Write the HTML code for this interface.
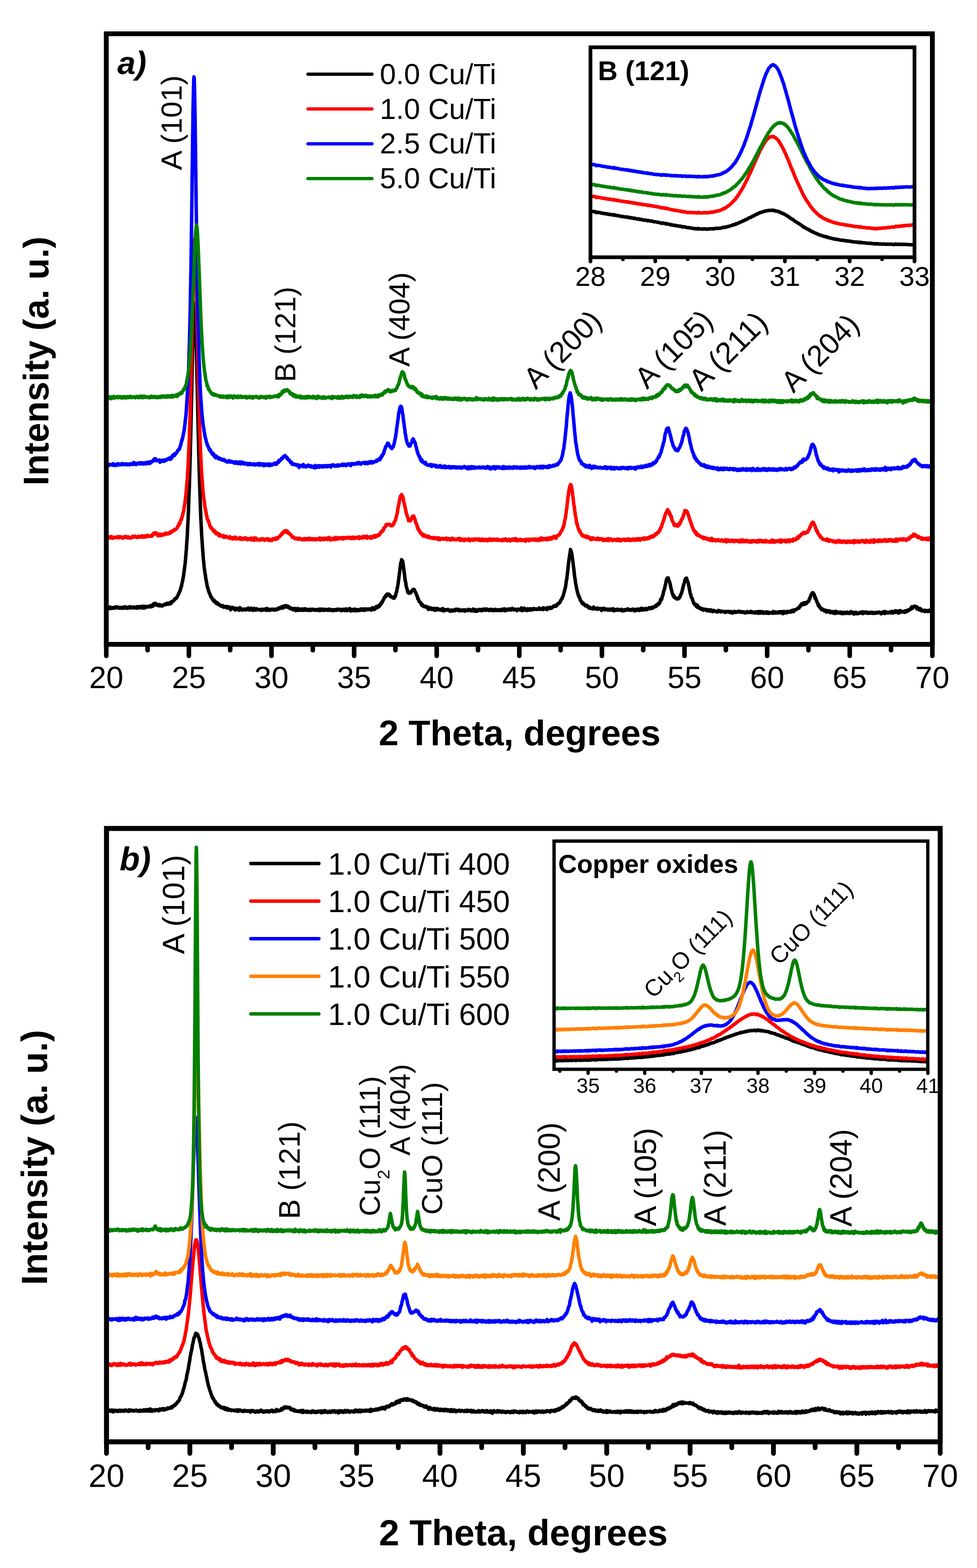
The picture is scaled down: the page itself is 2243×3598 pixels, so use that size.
<!DOCTYPE html><html><head><meta charset="utf-8"><style>html,body{margin:0;padding:0;background:#fff}svg{display:block}</style></head><body>
<svg width="2243" height="3598" viewBox="0 0 2243 3598">
<rect width="2243" height="3598" fill="#fff"/>
<path d="M244.0,1395.0 L244.9,1396.5 L245.9,1396.3 L246.8,1394.4 L247.8,1394.6 L248.7,1394.4 L249.7,1395.6 L250.6,1394.9 L251.6,1395.7 L252.5,1392.9 L253.5,1396.6 L254.4,1394.8 L255.4,1395.6 L256.3,1394.7 L257.3,1394.4 L258.2,1395.3 L259.2,1395.7 L260.1,1394.6 L261.1,1394.6 L262.0,1395.5 L263.0,1393.8 L263.9,1393.1 L264.9,1395.2 L265.8,1394.0 L266.8,1392.6 L267.7,1393.8 L268.7,1394.2 L269.6,1393.3 L270.6,1393.0 L271.5,1394.7 L272.4,1395.6 L273.4,1394.3 L274.3,1393.8 L275.3,1395.0 L276.2,1395.3 L277.2,1394.2 L278.1,1395.1 L279.1,1395.6 L280.0,1394.2 L281.0,1393.6 L281.9,1394.8 L282.9,1394.7 L283.8,1395.6 L284.8,1393.0 L285.7,1393.6 L286.7,1393.4 L287.6,1392.4 L288.6,1394.4 L289.5,1394.9 L290.5,1393.5 L291.4,1395.8 L292.4,1395.1 L293.3,1394.9 L294.3,1394.6 L295.2,1395.2 L296.2,1392.7 L297.1,1394.8 L298.1,1394.8 L299.0,1392.1 L299.9,1394.4 L300.9,1393.8 L301.8,1394.9 L302.8,1393.5 L303.7,1393.9 L304.7,1394.3 L305.6,1392.9 L306.6,1394.5 L307.5,1393.7 L308.5,1394.4 L309.4,1393.2 L310.4,1395.0 L311.3,1394.4 L312.3,1393.5 L313.2,1394.4 L314.2,1395.0 L315.1,1395.6 L316.1,1391.8 L317.0,1394.5 L318.0,1394.0 L318.9,1393.4 L319.9,1392.3 L320.8,1394.8 L321.8,1392.0 L322.7,1393.9 L323.7,1394.7 L324.6,1391.5 L325.5,1392.9 L326.5,1391.7 L327.4,1393.4 L328.4,1394.8 L329.3,1395.3 L330.3,1391.0 L331.2,1392.3 L332.2,1393.7 L333.1,1394.6 L334.1,1393.3 L335.0,1391.9 L336.0,1393.0 L336.9,1392.6 L337.9,1392.3 L338.8,1391.6 L339.8,1392.8 L340.7,1392.6 L341.7,1392.0 L342.6,1391.8 L343.6,1390.4 L344.5,1391.1 L345.5,1392.7 L346.4,1390.9 L347.4,1389.1 L348.3,1391.7 L349.3,1390.2 L350.2,1391.3 L351.2,1388.4 L352.1,1387.1 L353.0,1385.3 L354.0,1387.7 L354.9,1388.6 L355.9,1384.6 L355.9,1384.8 L356.8,1386.2 L357.8,1385.0 L358.7,1386.0 L359.7,1386.5 L360.6,1387.6 L361.6,1389.1 L362.5,1388.4 L363.5,1389.7 L364.4,1388.5 L365.4,1389.6 L366.3,1387.0 L367.3,1387.8 L368.2,1390.2 L369.2,1388.7 L370.1,1389.9 L371.1,1389.7 L372.0,1390.5 L373.0,1389.7 L373.9,1389.8 L374.9,1388.4 L375.8,1387.6 L376.8,1387.3 L377.7,1387.4 L378.7,1386.4 L379.6,1386.8 L380.5,1387.1 L381.5,1387.2 L382.4,1386.2 L383.4,1384.2 L384.3,1385.9 L385.3,1385.9 L386.2,1386.5 L387.2,1385.6 L388.1,1383.8 L389.1,1383.3 L390.0,1385.9 L391.0,1384.0 L391.9,1384.7 L392.9,1384.5 L393.8,1380.6 L394.8,1381.4 L395.7,1380.8 L396.7,1380.3 L397.6,1379.5 L398.6,1378.4 L399.5,1377.6 L400.5,1374.9 L401.4,1375.4 L402.4,1373.8 L403.3,1373.7 L404.3,1371.9 L405.2,1371.8 L406.2,1370.7 L407.1,1368.7 L408.0,1367.1 L409.0,1365.2 L409.9,1362.7 L410.9,1361.0 L411.8,1358.5 L412.8,1357.1 L413.7,1354.0 L414.7,1351.8 L415.6,1346.6 L416.6,1345.6 L417.5,1340.0 L418.5,1335.8 L419.4,1331.8 L420.4,1326.3 L421.3,1321.6 L422.3,1314.4 L423.2,1306.8 L424.2,1299.3 L425.1,1292.9 L426.1,1281.8 L427.0,1269.5 L428.0,1258.5 L428.9,1243.0 L429.9,1231.2 L430.8,1210.0 L431.8,1192.6 L432.7,1170.6 L433.6,1143.6 L434.6,1117.8 L435.5,1087.8 L436.5,1053.2 L437.4,1015.8 L438.4,976.5 L439.3,933.3 L440.3,889.6 L441.2,845.2 L442.2,803.9 L443.1,763.9 L444.1,733.9 L445.0,709.2 L446.0,695.8 L446.5,695.3 L446.9,697.7 L447.9,707.5 L448.8,727.2 L449.8,759.0 L450.7,795.0 L451.7,837.0 L452.6,881.0 L453.6,922.4 L454.5,968.0 L455.5,1007.3 L456.4,1045.5 L457.4,1079.4 L458.3,1110.8 L459.3,1139.8 L460.2,1167.2 L461.1,1190.8 L462.1,1209.2 L463.0,1228.4 L464.0,1242.8 L464.9,1255.2 L465.9,1270.1 L466.8,1281.7 L467.8,1290.8 L468.7,1300.6 L469.7,1309.0 L470.6,1314.6 L471.6,1320.4 L472.5,1327.6 L473.5,1332.9 L474.4,1337.5 L475.4,1343.3 L476.3,1348.0 L477.3,1349.3 L478.2,1353.7 L479.2,1357.0 L480.1,1359.5 L481.1,1362.3 L482.0,1363.0 L483.0,1366.4 L483.9,1369.7 L484.9,1370.2 L485.8,1370.3 L486.8,1373.2 L487.7,1375.3 L488.6,1375.7 L489.6,1375.9 L490.5,1379.3 L491.5,1377.3 L492.4,1380.3 L493.4,1380.6 L494.3,1380.2 L495.3,1383.7 L496.2,1383.5 L497.2,1382.6 L498.1,1385.2 L499.1,1384.7 L500.0,1383.7 L501.0,1385.6 L501.9,1387.2 L502.9,1388.1 L503.8,1388.1 L504.8,1388.4 L505.7,1389.3 L506.7,1389.0 L507.6,1390.9 L508.6,1390.1 L509.5,1390.6 L510.5,1391.2 L511.4,1389.8 L512.4,1390.5 L513.3,1393.3 L514.3,1392.2 L515.2,1391.8 L516.1,1392.8 L517.1,1392.1 L518.0,1393.2 L519.0,1392.4 L519.9,1393.6 L520.9,1391.8 L521.8,1395.2 L522.8,1393.4 L523.7,1392.4 L524.7,1394.0 L525.6,1394.1 L526.6,1394.8 L527.5,1393.5 L528.5,1395.4 L529.4,1399.1 L530.4,1393.8 L531.3,1395.8 L532.3,1395.2 L533.2,1395.9 L534.2,1393.8 L535.1,1394.6 L536.1,1396.5 L537.0,1396.1 L538.0,1398.1 L538.9,1395.6 L539.9,1396.7 L540.8,1399.8 L541.8,1395.8 L542.7,1395.8 L543.6,1396.8 L544.6,1396.9 L545.5,1398.0 L546.5,1397.3 L547.4,1396.4 L548.4,1397.5 L549.3,1400.3 L550.3,1398.8 L551.2,1394.4 L552.2,1397.4 L553.1,1396.6 L554.1,1398.3 L555.0,1397.5 L556.0,1399.8 L556.9,1398.8 L557.9,1398.8 L558.8,1398.0 L559.8,1397.8 L560.7,1398.3 L561.7,1399.4 L562.6,1398.6 L563.6,1397.6 L564.5,1399.5 L565.5,1398.3 L566.4,1398.0 L567.4,1397.3 L568.3,1397.6 L569.2,1397.5 L570.2,1395.2 L571.1,1399.4 L572.1,1398.9 L573.0,1398.1 L574.0,1399.5 L574.9,1398.9 L575.9,1398.8 L576.8,1395.7 L577.8,1398.2 L578.7,1399.1 L579.7,1400.3 L580.6,1400.5 L581.6,1400.1 L582.5,1397.3 L583.5,1396.1 L584.4,1399.2 L585.4,1398.6 L586.3,1399.7 L587.3,1398.5 L588.2,1398.9 L589.2,1397.0 L590.1,1399.2 L591.1,1398.2 L592.0,1399.1 L593.0,1399.2 L593.9,1398.6 L594.9,1399.1 L595.8,1398.7 L596.7,1399.6 L597.7,1399.3 L598.6,1398.2 L599.6,1398.1 L600.5,1400.7 L601.5,1398.7 L602.4,1399.9 L603.4,1399.2 L604.3,1398.2 L605.3,1398.0 L606.2,1399.0 L607.2,1399.1 L608.1,1399.5 L609.1,1397.4 L610.0,1398.2 L611.0,1398.7 L611.9,1400.6 L612.9,1396.2 L613.8,1399.3 L614.8,1398.2 L615.7,1399.3 L616.7,1398.3 L617.6,1399.2 L618.6,1400.5 L619.5,1399.2 L620.5,1399.3 L621.4,1399.2 L622.4,1397.9 L623.3,1399.3 L624.2,1398.5 L625.2,1397.8 L626.1,1398.6 L627.1,1398.4 L628.0,1399.4 L629.0,1398.5 L629.9,1397.9 L630.9,1400.0 L631.8,1399.4 L632.8,1399.6 L633.7,1398.8 L634.7,1397.8 L635.6,1397.3 L636.6,1397.3 L637.5,1398.5 L638.5,1397.3 L639.4,1395.3 L640.4,1396.6 L641.3,1394.8 L642.3,1396.2 L643.2,1394.4 L644.2,1393.9 L645.1,1395.0 L646.1,1394.4 L647.0,1392.2 L648.0,1394.4 L648.9,1395.6 L649.9,1391.1 L650.8,1394.4 L651.7,1391.3 L652.7,1391.2 L653.6,1391.3 L654.6,1389.8 L655.5,1392.8 L656.5,1392.0 L657.4,1390.7 L658.4,1391.5 L659.3,1390.4 L660.3,1392.0 L661.2,1393.8 L662.2,1391.3 L663.1,1393.2 L664.1,1394.3 L665.0,1395.7 L666.0,1396.5 L666.9,1394.9 L667.9,1395.0 L668.8,1396.6 L669.8,1396.1 L670.7,1396.5 L671.7,1398.3 L672.6,1399.2 L673.6,1397.9 L674.5,1397.6 L675.5,1398.6 L676.4,1396.0 L677.4,1398.2 L678.3,1397.2 L679.2,1401.1 L680.2,1399.3 L681.1,1398.8 L682.1,1398.5 L683.0,1396.0 L684.0,1399.6 L684.9,1400.7 L685.9,1398.1 L686.8,1399.7 L687.8,1399.8 L688.7,1397.3 L689.7,1400.0 L690.6,1400.5 L691.6,1399.3 L692.5,1399.0 L693.5,1400.0 L694.4,1397.4 L695.4,1399.2 L696.3,1400.3 L697.3,1397.8 L698.2,1400.3 L699.2,1398.7 L700.1,1396.9 L701.1,1399.1 L702.0,1398.1 L703.0,1399.6 L703.9,1397.9 L704.8,1400.4 L705.8,1398.4 L706.7,1399.6 L707.7,1398.6 L708.6,1398.9 L709.6,1400.6 L710.5,1399.5 L711.5,1398.8 L712.4,1397.9 L713.4,1400.5 L714.3,1400.1 L715.3,1398.9 L716.2,1399.5 L717.2,1398.1 L718.1,1398.2 L719.1,1398.4 L720.0,1399.7 L721.0,1399.6 L721.9,1398.5 L722.9,1400.1 L723.8,1400.2 L724.8,1399.5 L725.7,1400.4 L726.7,1399.0 L727.6,1399.2 L728.6,1399.8 L729.5,1399.3 L730.5,1400.2 L731.4,1397.9 L732.3,1400.9 L733.3,1398.4 L734.2,1399.1 L735.2,1397.8 L736.1,1400.0 L737.1,1400.7 L738.0,1400.5 L739.0,1400.2 L739.9,1397.6 L740.9,1398.5 L741.8,1398.8 L742.8,1398.3 L743.7,1400.6 L744.7,1399.6 L745.6,1399.3 L746.6,1399.9 L747.5,1398.3 L748.5,1398.4 L749.4,1398.4 L750.4,1399.9 L751.3,1399.8 L752.3,1400.0 L753.2,1400.6 L754.2,1397.9 L755.1,1398.8 L756.1,1399.6 L757.0,1398.0 L758.0,1398.9 L758.9,1400.6 L759.8,1400.7 L760.8,1400.6 L761.7,1399.5 L762.7,1399.2 L763.6,1400.7 L764.6,1399.1 L765.5,1399.9 L766.5,1401.0 L767.4,1399.1 L768.4,1398.8 L769.3,1399.5 L770.3,1400.2 L771.2,1400.0 L772.2,1399.7 L773.1,1400.1 L774.1,1397.8 L775.0,1398.6 L776.0,1399.7 L776.9,1398.5 L777.9,1398.1 L778.8,1398.2 L779.8,1398.5 L780.7,1399.3 L781.7,1398.4 L782.6,1399.8 L783.6,1401.4 L784.5,1399.4 L785.5,1400.9 L786.4,1399.9 L787.3,1398.3 L788.3,1399.3 L789.2,1398.5 L790.2,1400.4 L791.1,1398.3 L792.1,1401.0 L793.0,1400.2 L794.0,1397.3 L794.9,1400.4 L795.9,1401.2 L796.8,1398.7 L797.8,1400.6 L798.7,1397.5 L799.7,1399.8 L800.6,1397.7 L801.6,1400.0 L802.5,1397.5 L803.5,1396.6 L804.4,1399.9 L805.4,1402.0 L806.3,1398.8 L807.3,1400.4 L808.2,1399.6 L809.2,1399.1 L810.1,1400.1 L811.1,1401.2 L812.0,1398.0 L812.9,1400.0 L813.9,1399.8 L814.8,1397.8 L815.8,1401.1 L816.7,1401.5 L817.7,1398.3 L818.6,1401.2 L819.6,1399.4 L820.5,1399.1 L821.5,1400.9 L822.4,1399.5 L823.4,1399.6 L824.3,1400.9 L825.3,1400.6 L826.2,1400.1 L827.2,1397.6 L828.1,1397.4 L829.1,1400.3 L830.0,1398.0 L831.0,1399.2 L831.9,1397.8 L832.9,1398.7 L833.8,1397.5 L834.8,1400.6 L835.7,1397.7 L836.7,1398.6 L837.6,1398.5 L838.6,1399.9 L839.5,1397.0 L840.4,1398.5 L841.4,1398.2 L842.3,1399.0 L843.3,1398.8 L844.2,1397.7 L845.2,1398.4 L846.1,1397.6 L847.1,1398.5 L848.0,1397.8 L849.0,1397.1 L849.9,1397.6 L850.9,1398.0 L851.8,1399.9 L852.8,1396.8 L853.7,1397.5 L854.7,1398.6 L855.6,1394.6 L856.6,1394.8 L857.5,1395.2 L858.5,1396.2 L859.4,1398.7 L860.4,1396.2 L861.3,1396.8 L862.3,1394.9 L863.2,1392.1 L864.2,1391.8 L865.1,1395.0 L866.1,1393.6 L867.0,1391.4 L867.9,1393.4 L868.9,1389.8 L869.8,1391.9 L870.8,1391.4 L871.7,1388.0 L872.7,1386.6 L873.6,1387.6 L874.6,1384.3 L875.5,1385.1 L876.5,1381.5 L877.4,1382.2 L878.4,1379.9 L879.3,1377.7 L880.3,1375.5 L881.2,1375.1 L882.2,1371.1 L883.1,1371.2 L884.1,1369.5 L885.0,1369.2 L886.0,1365.8 L886.9,1367.9 L887.9,1364.7 L888.8,1363.2 L889.8,1365.5 L890.7,1365.7 L891.7,1363.8 L892.6,1363.4 L893.6,1365.0 L894.5,1364.9 L895.4,1366.1 L896.4,1369.0 L897.3,1368.6 L898.3,1369.1 L899.2,1370.0 L900.2,1370.2 L901.1,1371.6 L902.1,1371.9 L903.0,1370.5 L904.0,1370.8 L904.9,1372.7 L905.9,1369.6 L906.8,1367.5 L907.8,1368.2 L908.7,1363.6 L909.7,1359.4 L910.6,1357.9 L911.6,1351.9 L912.5,1347.5 L913.5,1342.8 L914.4,1336.1 L915.4,1328.5 L916.3,1321.3 L917.3,1313.5 L918.2,1307.7 L919.2,1298.2 L920.1,1292.0 L921.1,1290.0 L922.0,1284.3 L922.6,1286.0 L922.9,1286.0 L923.9,1286.4 L924.8,1289.1 L925.8,1297.0 L926.7,1304.0 L927.7,1311.7 L928.6,1318.1 L929.6,1326.5 L930.5,1333.3 L931.5,1336.6 L932.4,1344.7 L933.4,1347.9 L934.3,1350.9 L935.3,1354.3 L936.2,1359.2 L937.2,1360.1 L938.1,1358.4 L939.1,1361.2 L940.0,1361.2 L941.0,1361.0 L941.9,1360.1 L942.9,1358.2 L943.8,1359.7 L944.8,1356.4 L945.7,1355.7 L946.7,1354.3 L947.6,1353.1 L948.5,1354.1 L949.5,1353.4 L950.3,1352.5 L950.4,1352.3 L951.4,1353.7 L952.3,1356.7 L953.3,1357.6 L954.2,1359.9 L955.2,1361.7 L956.1,1364.3 L957.1,1367.3 L958.0,1367.5 L959.0,1373.7 L959.9,1373.3 L960.9,1375.6 L961.8,1379.6 L962.8,1380.1 L963.7,1381.5 L964.7,1382.2 L965.6,1382.4 L966.6,1385.5 L967.5,1387.7 L968.5,1386.4 L969.4,1389.8 L970.4,1387.9 L971.3,1389.0 L972.3,1391.1 L973.2,1391.1 L974.2,1392.4 L975.1,1391.4 L976.0,1391.5 L977.0,1391.1 L977.9,1392.2 L978.9,1392.7 L979.8,1392.7 L980.8,1394.9 L981.7,1394.2 L982.7,1393.0 L983.6,1398.2 L984.6,1394.8 L985.5,1394.5 L986.5,1397.5 L987.4,1397.6 L988.4,1395.2 L989.3,1395.1 L990.3,1395.8 L991.2,1398.3 L992.2,1396.8 L993.1,1396.4 L994.1,1397.4 L995.0,1398.9 L996.0,1396.2 L996.9,1397.4 L997.9,1396.4 L998.8,1400.4 L999.8,1400.1 L1000.7,1399.3 L1001.7,1398.2 L1002.6,1399.1 L1003.5,1396.2 L1004.5,1398.9 L1005.4,1397.2 L1006.4,1397.3 L1007.3,1398.0 L1008.3,1398.5 L1009.2,1399.5 L1010.2,1399.7 L1011.1,1399.3 L1012.1,1398.0 L1013.0,1399.9 L1014.0,1399.1 L1014.9,1400.5 L1015.9,1398.3 L1016.8,1396.3 L1017.8,1398.9 L1018.7,1401.8 L1019.7,1400.0 L1020.6,1399.3 L1021.6,1400.5 L1022.5,1400.1 L1023.5,1400.1 L1024.4,1399.1 L1025.4,1399.7 L1026.3,1399.9 L1027.3,1399.0 L1028.2,1398.5 L1029.2,1399.9 L1030.1,1400.8 L1031.0,1400.5 L1032.0,1400.3 L1032.9,1400.4 L1033.9,1402.7 L1034.8,1400.1 L1035.8,1401.0 L1036.7,1402.0 L1037.7,1399.9 L1038.6,1400.2 L1039.6,1401.1 L1040.5,1401.8 L1041.5,1400.3 L1042.4,1400.3 L1043.4,1400.0 L1044.3,1398.6 L1045.3,1401.2 L1046.2,1399.7 L1047.2,1398.1 L1048.1,1399.8 L1049.1,1398.1 L1050.0,1398.9 L1051.0,1400.0 L1051.9,1399.0 L1052.9,1401.2 L1053.8,1398.4 L1054.8,1400.3 L1055.7,1400.6 L1056.7,1401.6 L1057.6,1401.1 L1058.5,1400.3 L1059.5,1400.1 L1060.4,1400.0 L1061.4,1401.3 L1062.3,1399.3 L1063.3,1400.6 L1064.2,1399.9 L1065.2,1400.3 L1066.1,1399.8 L1067.1,1402.4 L1068.0,1399.3 L1069.0,1400.3 L1069.9,1400.4 L1070.9,1400.7 L1071.8,1400.5 L1072.8,1400.5 L1073.7,1401.1 L1074.7,1398.4 L1075.6,1400.1 L1076.6,1398.7 L1077.5,1400.3 L1078.5,1398.7 L1079.4,1399.0 L1080.4,1400.0 L1081.3,1401.6 L1082.3,1400.7 L1083.2,1400.3 L1084.1,1401.6 L1085.1,1399.0 L1086.0,1397.7 L1087.0,1399.5 L1087.9,1399.7 L1088.9,1401.4 L1089.8,1402.3 L1090.8,1398.5 L1091.7,1402.7 L1092.7,1401.7 L1093.6,1400.9 L1094.6,1400.4 L1095.5,1402.6 L1096.5,1400.0 L1097.4,1399.4 L1098.4,1400.1 L1099.3,1398.4 L1100.3,1400.5 L1101.2,1399.8 L1102.2,1400.3 L1103.1,1400.3 L1104.1,1398.7 L1105.0,1401.4 L1106.0,1398.8 L1106.9,1400.9 L1107.9,1398.1 L1108.8,1400.3 L1109.8,1399.0 L1110.7,1399.9 L1111.6,1399.1 L1112.6,1397.4 L1113.5,1398.6 L1114.5,1399.9 L1115.4,1400.5 L1116.4,1398.2 L1117.3,1397.5 L1118.3,1398.8 L1119.2,1399.6 L1120.2,1399.1 L1121.1,1398.9 L1122.1,1400.7 L1123.0,1400.8 L1124.0,1400.6 L1124.9,1398.7 L1125.9,1399.8 L1126.8,1399.5 L1127.8,1398.1 L1128.7,1400.7 L1129.7,1399.8 L1130.6,1399.1 L1131.6,1401.2 L1132.5,1400.5 L1133.5,1400.6 L1134.4,1401.0 L1135.4,1400.4 L1136.3,1398.2 L1137.3,1399.2 L1138.2,1400.7 L1139.1,1398.7 L1140.1,1399.6 L1141.0,1400.0 L1142.0,1401.1 L1142.9,1401.0 L1143.9,1400.5 L1144.8,1399.3 L1145.8,1400.5 L1146.7,1400.1 L1147.7,1399.3 L1148.6,1401.0 L1149.6,1400.0 L1150.5,1398.6 L1151.5,1400.8 L1152.4,1399.1 L1153.4,1400.1 L1154.3,1397.7 L1155.3,1399.3 L1156.2,1398.3 L1157.2,1398.3 L1158.1,1397.2 L1159.1,1401.7 L1160.0,1399.1 L1161.0,1399.5 L1161.9,1400.5 L1162.9,1399.1 L1163.8,1399.8 L1164.8,1397.7 L1165.7,1399.4 L1166.6,1398.7 L1167.6,1399.7 L1168.5,1399.4 L1169.5,1397.6 L1170.4,1397.1 L1171.4,1398.0 L1172.3,1399.9 L1173.3,1399.5 L1174.2,1399.5 L1175.2,1396.8 L1176.1,1396.1 L1177.1,1398.3 L1178.0,1398.6 L1179.0,1398.3 L1179.9,1399.3 L1180.9,1398.7 L1181.8,1397.6 L1182.8,1397.9 L1183.7,1399.0 L1184.7,1398.9 L1185.6,1398.7 L1186.6,1401.3 L1187.5,1398.5 L1188.5,1398.9 L1189.4,1397.6 L1190.4,1398.3 L1191.3,1399.3 L1192.2,1399.3 L1193.2,1398.5 L1194.1,1399.1 L1195.1,1398.7 L1196.0,1396.6 L1197.0,1395.0 L1197.9,1401.2 L1198.9,1399.5 L1199.8,1398.5 L1200.8,1396.7 L1201.7,1397.2 L1202.7,1400.1 L1203.6,1395.5 L1204.6,1398.2 L1205.5,1399.5 L1206.5,1398.7 L1207.4,1399.3 L1208.4,1398.3 L1209.3,1401.1 L1210.3,1397.3 L1211.2,1396.9 L1212.2,1398.7 L1213.1,1400.0 L1214.1,1398.3 L1215.0,1399.5 L1216.0,1397.7 L1216.9,1397.0 L1217.9,1399.8 L1218.8,1400.0 L1219.7,1399.9 L1220.7,1397.7 L1221.6,1396.9 L1222.6,1396.9 L1223.5,1397.9 L1224.5,1398.7 L1225.4,1398.6 L1226.4,1396.4 L1227.3,1398.2 L1228.3,1398.0 L1229.2,1398.0 L1230.2,1397.8 L1231.1,1397.6 L1232.1,1398.4 L1233.0,1397.9 L1234.0,1397.9 L1234.9,1396.9 L1235.9,1398.0 L1236.8,1397.4 L1237.8,1395.1 L1238.7,1397.9 L1239.7,1397.1 L1240.6,1398.3 L1241.6,1397.0 L1242.5,1397.0 L1243.5,1397.3 L1244.4,1397.0 L1245.4,1396.4 L1246.3,1394.9 L1247.2,1398.8 L1248.2,1394.9 L1249.1,1396.2 L1250.1,1397.2 L1251.0,1396.8 L1252.0,1396.8 L1252.9,1396.9 L1253.9,1397.4 L1254.8,1396.2 L1255.8,1398.9 L1256.7,1394.4 L1257.7,1395.7 L1258.6,1394.8 L1259.6,1394.5 L1260.5,1395.2 L1261.5,1396.3 L1262.4,1393.7 L1263.4,1393.5 L1264.3,1394.8 L1265.3,1394.4 L1266.2,1395.7 L1267.2,1394.4 L1268.1,1393.2 L1269.1,1392.3 L1270.0,1392.6 L1271.0,1391.8 L1271.9,1390.1 L1272.9,1391.2 L1273.8,1390.6 L1274.7,1390.1 L1275.7,1389.3 L1276.6,1391.1 L1277.6,1389.5 L1278.5,1389.1 L1279.5,1386.7 L1280.4,1385.5 L1281.4,1385.5 L1282.3,1385.2 L1283.3,1383.6 L1284.2,1382.8 L1285.2,1382.9 L1286.1,1380.9 L1287.1,1378.1 L1288.0,1377.2 L1289.0,1375.3 L1289.9,1374.4 L1290.9,1370.9 L1291.8,1369.7 L1292.8,1368.1 L1293.7,1364.6 L1294.7,1360.4 L1295.6,1357.2 L1296.6,1354.1 L1297.5,1350.1 L1298.5,1345.6 L1299.4,1339.1 L1300.4,1331.8 L1301.3,1328.2 L1302.2,1319.7 L1303.2,1312.1 L1304.1,1303.8 L1305.1,1293.9 L1306.0,1286.5 L1307.0,1279.4 L1307.9,1273.6 L1308.9,1267.4 L1309.8,1260.9 L1310.6,1263.3 L1310.8,1264.0 L1311.7,1266.7 L1312.7,1270.0 L1313.6,1277.7 L1314.6,1283.7 L1315.5,1291.6 L1316.5,1299.5 L1317.4,1305.3 L1318.4,1315.8 L1319.3,1323.1 L1320.3,1328.9 L1321.2,1336.5 L1322.2,1342.1 L1323.1,1346.4 L1324.1,1351.5 L1325.0,1355.5 L1326.0,1359.8 L1326.9,1362.5 L1327.8,1366.5 L1328.8,1366.5 L1329.7,1370.8 L1330.7,1371.4 L1331.6,1374.7 L1332.6,1377.6 L1333.5,1378.6 L1334.5,1379.9 L1335.4,1381.5 L1336.4,1384.3 L1337.3,1382.5 L1338.3,1385.7 L1339.2,1384.0 L1340.2,1386.0 L1341.1,1387.5 L1342.1,1387.1 L1343.0,1388.9 L1344.0,1390.1 L1344.9,1388.6 L1345.9,1390.3 L1346.8,1390.5 L1347.8,1389.3 L1348.7,1391.6 L1349.7,1391.4 L1350.6,1394.1 L1351.6,1392.0 L1352.5,1395.2 L1353.5,1393.0 L1354.4,1396.0 L1355.3,1394.8 L1356.3,1394.9 L1357.2,1395.6 L1358.2,1395.9 L1359.1,1396.7 L1360.1,1397.3 L1361.0,1395.2 L1362.0,1394.4 L1362.9,1393.0 L1363.9,1395.7 L1364.8,1397.1 L1365.8,1396.8 L1366.7,1396.7 L1367.7,1396.3 L1368.6,1396.1 L1369.6,1396.6 L1370.5,1397.5 L1371.5,1395.2 L1372.4,1398.1 L1373.4,1395.8 L1374.3,1397.3 L1375.3,1396.9 L1376.2,1397.3 L1377.2,1396.6 L1378.1,1396.6 L1379.1,1397.7 L1380.0,1396.8 L1381.0,1400.8 L1381.9,1397.7 L1382.8,1397.5 L1383.8,1397.7 L1384.7,1397.2 L1385.7,1395.7 L1386.6,1398.2 L1387.6,1398.9 L1388.5,1396.9 L1389.5,1398.6 L1390.4,1397.3 L1391.4,1398.7 L1392.3,1399.2 L1393.3,1399.4 L1394.2,1399.3 L1395.2,1398.1 L1396.1,1399.9 L1397.1,1398.5 L1398.0,1399.4 L1399.0,1399.8 L1399.9,1398.7 L1400.9,1397.7 L1401.8,1399.8 L1402.8,1397.9 L1403.7,1398.2 L1404.7,1398.0 L1405.6,1400.2 L1406.6,1399.1 L1407.5,1396.8 L1408.5,1400.1 L1409.4,1401.6 L1410.3,1401.4 L1411.3,1398.8 L1412.2,1399.5 L1413.2,1400.0 L1414.1,1400.4 L1415.1,1399.5 L1416.0,1398.3 L1417.0,1400.3 L1417.9,1400.2 L1418.9,1398.1 L1419.8,1399.1 L1420.8,1399.8 L1421.7,1399.5 L1422.7,1400.1 L1423.6,1400.4 L1424.6,1400.2 L1425.5,1399.5 L1426.5,1398.1 L1427.4,1400.3 L1428.4,1401.1 L1429.3,1401.8 L1430.3,1399.6 L1431.2,1399.6 L1432.2,1401.2 L1433.1,1401.2 L1434.1,1400.0 L1435.0,1400.4 L1436.0,1398.8 L1436.9,1400.2 L1437.8,1398.7 L1438.8,1399.4 L1439.7,1399.5 L1440.7,1399.1 L1441.6,1397.2 L1442.6,1398.7 L1443.5,1399.9 L1444.5,1399.5 L1445.4,1399.1 L1446.4,1400.0 L1447.3,1400.3 L1448.3,1400.4 L1449.2,1398.6 L1450.2,1399.5 L1451.1,1399.1 L1452.1,1398.4 L1453.0,1397.7 L1454.0,1399.3 L1454.9,1398.4 L1455.9,1401.7 L1456.8,1399.2 L1457.8,1399.0 L1458.7,1398.8 L1459.7,1401.3 L1460.6,1398.2 L1461.6,1399.0 L1462.5,1398.3 L1463.4,1399.0 L1464.4,1399.0 L1465.3,1400.2 L1466.3,1397.4 L1467.2,1398.9 L1468.2,1400.7 L1469.1,1398.3 L1470.1,1398.6 L1471.0,1397.8 L1472.0,1395.8 L1472.9,1398.5 L1473.9,1399.9 L1474.8,1398.0 L1475.8,1396.4 L1476.7,1398.7 L1477.7,1398.4 L1478.6,1399.3 L1479.6,1399.1 L1480.5,1397.7 L1481.5,1398.4 L1482.4,1395.9 L1483.4,1398.9 L1484.3,1397.8 L1485.3,1398.7 L1486.2,1398.5 L1487.2,1396.9 L1488.1,1396.9 L1489.1,1395.9 L1490.0,1394.4 L1490.9,1396.4 L1491.9,1396.5 L1492.8,1394.9 L1493.8,1396.7 L1494.7,1395.8 L1495.7,1395.9 L1496.6,1394.3 L1497.6,1392.9 L1498.5,1395.4 L1499.5,1394.8 L1500.4,1393.7 L1501.4,1392.9 L1502.3,1392.7 L1503.3,1392.3 L1504.2,1391.4 L1505.2,1389.2 L1506.1,1391.7 L1507.1,1388.5 L1508.0,1389.1 L1509.0,1388.3 L1509.9,1388.1 L1510.9,1385.1 L1511.8,1387.2 L1512.8,1385.4 L1513.7,1384.3 L1514.7,1383.4 L1515.6,1379.6 L1516.6,1375.3 L1517.5,1377.2 L1518.4,1376.2 L1519.4,1373.7 L1520.3,1369.3 L1521.3,1366.9 L1522.2,1364.2 L1523.2,1358.4 L1524.1,1356.0 L1525.1,1352.0 L1526.0,1350.3 L1527.0,1343.6 L1527.9,1341.8 L1528.9,1336.1 L1529.8,1330.6 L1530.8,1332.0 L1531.7,1326.5 L1532.7,1327.3 L1532.9,1328.5 L1533.6,1326.2 L1534.6,1326.7 L1535.5,1331.5 L1536.5,1333.4 L1537.4,1335.5 L1538.4,1339.5 L1539.3,1344.1 L1540.3,1349.5 L1541.2,1351.8 L1542.2,1356.2 L1543.1,1360.5 L1544.1,1362.9 L1545.0,1365.5 L1545.9,1367.5 L1546.9,1366.3 L1547.8,1371.0 L1548.8,1371.4 L1549.7,1372.0 L1550.7,1371.8 L1551.6,1371.9 L1552.6,1372.9 L1553.5,1374.3 L1554.5,1373.1 L1555.4,1373.3 L1556.4,1373.2 L1557.3,1374.0 L1558.3,1372.1 L1559.2,1371.3 L1560.2,1371.6 L1561.1,1368.3 L1562.1,1367.5 L1563.0,1363.6 L1564.0,1362.7 L1564.9,1359.7 L1565.9,1356.8 L1566.8,1352.7 L1567.8,1348.5 L1568.7,1345.5 L1569.7,1341.5 L1570.6,1339.3 L1571.5,1335.6 L1572.5,1330.2 L1573.4,1329.8 L1574.4,1327.2 L1575.3,1327.8 L1575.3,1326.8 L1576.3,1326.5 L1577.2,1331.0 L1578.2,1333.2 L1579.1,1334.8 L1580.1,1338.1 L1581.0,1343.8 L1582.0,1347.4 L1582.9,1352.5 L1583.9,1357.6 L1584.8,1362.4 L1585.8,1363.9 L1586.7,1369.0 L1587.7,1371.8 L1588.6,1372.7 L1589.6,1373.7 L1590.5,1378.7 L1591.5,1380.4 L1592.4,1384.1 L1593.4,1384.7 L1594.3,1385.5 L1595.3,1387.8 L1596.2,1386.0 L1597.2,1388.4 L1598.1,1388.9 L1599.0,1392.0 L1600.0,1391.6 L1600.9,1388.3 L1601.9,1393.9 L1602.8,1392.1 L1603.8,1394.5 L1604.7,1393.7 L1605.7,1395.0 L1606.6,1395.9 L1607.6,1395.8 L1608.5,1395.0 L1609.5,1398.0 L1610.4,1397.2 L1611.4,1397.1 L1612.3,1398.2 L1613.3,1397.1 L1614.2,1400.1 L1615.2,1398.5 L1616.1,1398.9 L1617.1,1399.1 L1618.0,1398.0 L1619.0,1397.9 L1619.9,1399.6 L1620.9,1400.0 L1621.8,1401.2 L1622.8,1400.4 L1623.7,1398.9 L1624.7,1400.8 L1625.6,1401.3 L1626.5,1401.6 L1627.5,1401.0 L1628.4,1399.5 L1629.4,1402.2 L1630.3,1400.2 L1631.3,1401.8 L1632.2,1399.5 L1633.2,1402.2 L1634.1,1400.6 L1635.1,1402.8 L1636.0,1403.6 L1637.0,1403.1 L1637.9,1400.6 L1638.9,1400.9 L1639.8,1401.1 L1640.8,1402.8 L1641.7,1402.6 L1642.7,1402.4 L1643.6,1402.7 L1644.6,1403.0 L1645.5,1403.2 L1646.5,1404.4 L1647.4,1402.5 L1648.4,1402.9 L1649.3,1400.7 L1650.3,1401.3 L1651.2,1402.1 L1652.2,1401.6 L1653.1,1403.2 L1654.0,1404.1 L1655.0,1402.6 L1655.9,1402.6 L1656.9,1402.6 L1657.8,1403.3 L1658.8,1402.6 L1659.7,1403.7 L1660.7,1403.6 L1661.6,1403.7 L1662.6,1404.2 L1663.5,1403.5 L1664.5,1403.6 L1665.4,1405.4 L1666.4,1403.5 L1667.3,1404.5 L1668.3,1403.7 L1669.2,1403.2 L1670.2,1403.2 L1671.1,1402.8 L1672.1,1403.8 L1673.0,1403.1 L1674.0,1403.4 L1674.9,1405.2 L1675.9,1403.7 L1676.8,1405.2 L1677.8,1404.2 L1678.7,1404.9 L1679.7,1403.3 L1680.6,1404.2 L1681.5,1407.0 L1682.5,1405.0 L1683.4,1405.2 L1684.4,1404.4 L1685.3,1405.1 L1686.3,1402.9 L1687.2,1403.3 L1688.2,1404.7 L1689.1,1405.2 L1690.1,1403.9 L1691.0,1404.1 L1692.0,1404.0 L1692.9,1404.2 L1693.9,1403.1 L1694.8,1402.8 L1695.8,1404.4 L1696.7,1402.6 L1697.7,1403.4 L1698.6,1403.8 L1699.6,1403.4 L1700.5,1404.8 L1701.5,1404.1 L1702.4,1404.5 L1703.4,1403.5 L1704.3,1403.8 L1705.3,1405.2 L1706.2,1405.1 L1707.1,1404.2 L1708.1,1405.1 L1709.0,1404.9 L1710.0,1404.9 L1710.9,1406.5 L1711.9,1404.3 L1712.8,1405.3 L1713.8,1405.3 L1714.7,1404.6 L1715.7,1403.6 L1716.6,1405.6 L1717.6,1405.2 L1718.5,1404.9 L1719.5,1404.9 L1720.4,1404.9 L1721.4,1404.0 L1722.3,1405.3 L1723.3,1403.0 L1724.2,1405.0 L1725.2,1403.4 L1726.1,1404.6 L1727.1,1405.8 L1728.0,1404.8 L1729.0,1404.5 L1729.9,1405.6 L1730.9,1404.8 L1731.8,1404.6 L1732.8,1404.7 L1733.7,1406.8 L1734.6,1405.9 L1735.6,1405.7 L1736.5,1403.8 L1737.5,1405.8 L1738.4,1403.8 L1739.4,1405.7 L1740.3,1404.0 L1741.3,1407.4 L1742.2,1403.4 L1743.2,1406.6 L1744.1,1406.1 L1745.1,1403.3 L1746.0,1405.0 L1747.0,1406.9 L1747.9,1406.5 L1748.9,1403.5 L1749.8,1404.7 L1750.8,1404.0 L1751.7,1404.2 L1752.7,1404.6 L1753.6,1407.4 L1754.6,1405.5 L1755.5,1405.1 L1756.5,1405.0 L1757.4,1406.1 L1758.4,1406.1 L1759.3,1404.4 L1760.3,1407.0 L1761.2,1404.2 L1762.1,1405.1 L1763.1,1405.9 L1764.0,1407.3 L1765.0,1405.0 L1765.9,1405.7 L1766.9,1406.8 L1767.8,1406.1 L1768.8,1406.6 L1769.7,1406.5 L1770.7,1405.6 L1771.6,1406.0 L1772.6,1406.4 L1773.5,1405.3 L1774.5,1407.1 L1775.4,1403.1 L1776.4,1404.3 L1777.3,1406.9 L1778.3,1405.8 L1779.2,1404.6 L1780.2,1405.7 L1781.1,1406.5 L1782.1,1404.6 L1783.0,1406.1 L1784.0,1405.1 L1784.9,1405.1 L1785.9,1405.1 L1786.8,1406.4 L1787.8,1403.9 L1788.7,1404.7 L1789.6,1405.8 L1790.6,1403.7 L1791.5,1403.3 L1792.5,1405.7 L1793.4,1405.0 L1794.4,1404.8 L1795.3,1405.1 L1796.3,1403.8 L1797.2,1408.1 L1798.2,1403.8 L1799.1,1404.3 L1800.1,1403.2 L1801.0,1404.3 L1802.0,1406.3 L1802.9,1404.6 L1803.9,1405.2 L1804.8,1404.0 L1805.8,1406.4 L1806.7,1404.6 L1807.7,1402.9 L1808.6,1405.1 L1809.6,1403.7 L1810.5,1404.7 L1811.5,1404.1 L1812.4,1404.2 L1813.4,1403.9 L1814.3,1402.6 L1815.3,1401.8 L1816.2,1404.4 L1817.1,1403.0 L1818.1,1403.3 L1819.0,1402.2 L1820.0,1400.3 L1820.9,1400.8 L1821.9,1403.4 L1822.8,1400.7 L1823.8,1400.7 L1824.7,1399.1 L1825.7,1399.7 L1826.6,1399.3 L1827.6,1398.9 L1828.5,1398.4 L1829.5,1397.1 L1830.4,1396.4 L1831.4,1396.2 L1832.3,1395.8 L1833.3,1394.3 L1834.2,1395.5 L1835.2,1392.8 L1836.1,1391.8 L1837.1,1389.9 L1838.0,1390.8 L1839.0,1387.6 L1839.9,1386.1 L1840.9,1386.0 L1841.8,1387.1 L1842.7,1384.7 L1843.7,1387.0 L1844.6,1385.2 L1845.6,1383.3 L1846.5,1384.6 L1847.5,1386.6 L1848.4,1383.6 L1849.4,1382.8 L1850.3,1384.5 L1851.3,1384.9 L1852.2,1384.0 L1853.2,1381.7 L1854.1,1381.3 L1855.1,1380.3 L1856.0,1379.8 L1857.0,1379.2 L1857.9,1374.9 L1858.9,1374.5 L1859.8,1370.5 L1860.8,1369.3 L1861.7,1365.5 L1862.7,1363.7 L1863.6,1363.3 L1864.6,1360.6 L1865.5,1361.9 L1866.3,1360.2 L1866.5,1361.0 L1867.4,1361.5 L1868.4,1362.5 L1869.3,1364.8 L1870.2,1368.1 L1871.2,1372.8 L1872.1,1370.7 L1873.1,1375.0 L1874.0,1377.1 L1875.0,1378.8 L1875.9,1382.5 L1876.9,1383.4 L1877.8,1386.3 L1878.8,1389.6 L1879.7,1387.6 L1880.7,1391.6 L1881.6,1393.2 L1882.6,1392.8 L1883.5,1395.6 L1884.5,1396.3 L1885.4,1396.4 L1886.4,1398.9 L1887.3,1396.8 L1888.3,1399.6 L1889.2,1399.2 L1890.2,1398.8 L1891.1,1400.2 L1892.1,1400.5 L1893.0,1402.1 L1894.0,1399.9 L1894.9,1401.7 L1895.9,1401.7 L1896.8,1404.1 L1897.7,1401.4 L1898.7,1404.0 L1899.6,1401.2 L1900.6,1403.7 L1901.5,1403.3 L1902.5,1404.0 L1903.4,1403.0 L1904.4,1401.8 L1905.3,1402.4 L1906.3,1405.6 L1907.2,1404.5 L1908.2,1403.5 L1909.1,1405.5 L1910.1,1403.8 L1911.0,1403.9 L1912.0,1403.5 L1912.9,1406.2 L1913.9,1407.1 L1914.8,1404.0 L1915.8,1405.5 L1916.7,1406.3 L1917.7,1407.6 L1918.6,1402.7 L1919.6,1405.6 L1920.5,1406.2 L1921.5,1403.9 L1922.4,1406.0 L1923.4,1405.8 L1924.3,1406.5 L1925.2,1405.1 L1926.2,1406.2 L1927.1,1405.1 L1928.1,1406.5 L1929.0,1406.1 L1930.0,1405.5 L1930.9,1404.4 L1931.9,1407.8 L1932.8,1407.2 L1933.8,1407.0 L1934.7,1405.4 L1935.7,1405.7 L1936.6,1408.0 L1937.6,1407.0 L1938.5,1405.3 L1939.5,1406.3 L1940.4,1406.4 L1941.4,1406.1 L1942.3,1405.3 L1943.3,1407.7 L1944.2,1407.0 L1945.2,1406.2 L1946.1,1404.7 L1947.1,1405.8 L1948.0,1406.5 L1949.0,1407.4 L1949.9,1406.1 L1950.8,1407.8 L1951.8,1406.7 L1952.7,1405.7 L1953.7,1403.5 L1954.6,1405.2 L1955.6,1404.9 L1956.5,1406.3 L1957.5,1406.9 L1958.4,1408.0 L1959.4,1406.5 L1960.3,1405.2 L1961.3,1409.1 L1962.2,1406.8 L1963.2,1406.2 L1964.1,1406.2 L1965.1,1405.0 L1966.0,1407.1 L1967.0,1406.8 L1967.9,1408.2 L1968.9,1407.6 L1969.8,1407.4 L1970.8,1407.8 L1971.7,1406.1 L1972.7,1405.9 L1973.6,1406.3 L1974.6,1405.0 L1975.5,1406.2 L1976.5,1406.0 L1977.4,1407.1 L1978.3,1406.3 L1979.3,1404.2 L1980.2,1406.3 L1981.2,1407.8 L1982.1,1404.2 L1983.1,1405.4 L1984.0,1406.3 L1985.0,1404.8 L1985.9,1405.6 L1986.9,1406.3 L1987.8,1404.7 L1988.8,1406.5 L1989.7,1406.6 L1990.7,1404.7 L1991.6,1406.2 L1992.6,1407.3 L1993.5,1405.9 L1994.5,1406.6 L1995.4,1406.8 L1996.4,1405.8 L1997.3,1407.1 L1998.3,1406.5 L1999.2,1404.9 L2000.2,1406.6 L2001.1,1406.9 L2002.1,1406.9 L2003.0,1405.3 L2004.0,1406.5 L2004.9,1407.4 L2005.8,1406.2 L2006.8,1407.2 L2007.7,1407.3 L2008.7,1405.8 L2009.6,1406.6 L2010.6,1405.5 L2011.5,1407.0 L2012.5,1405.7 L2013.4,1405.2 L2014.4,1405.7 L2015.3,1405.7 L2016.3,1406.2 L2017.2,1406.2 L2018.2,1404.4 L2019.1,1405.0 L2020.1,1406.1 L2021.0,1406.2 L2022.0,1405.7 L2022.9,1408.5 L2023.9,1406.8 L2024.8,1405.5 L2025.8,1406.4 L2026.7,1407.0 L2027.7,1405.9 L2028.6,1403.6 L2029.6,1405.6 L2030.5,1405.5 L2031.5,1407.7 L2032.4,1403.3 L2033.3,1407.0 L2034.3,1405.1 L2035.2,1406.3 L2036.2,1404.9 L2037.1,1405.4 L2038.1,1406.4 L2039.0,1405.2 L2040.0,1406.2 L2040.9,1405.0 L2041.9,1404.6 L2042.8,1404.7 L2043.8,1404.4 L2044.7,1404.8 L2045.7,1406.4 L2046.6,1403.5 L2047.6,1403.0 L2048.5,1404.7 L2049.5,1406.6 L2050.4,1405.8 L2051.4,1406.1 L2052.3,1406.0 L2053.3,1403.7 L2054.2,1404.6 L2055.2,1401.5 L2056.1,1403.7 L2057.1,1405.0 L2058.0,1402.6 L2059.0,1402.0 L2059.9,1402.8 L2060.8,1404.4 L2061.8,1405.4 L2062.7,1406.9 L2063.7,1405.6 L2064.6,1402.3 L2065.6,1401.3 L2066.5,1404.0 L2067.5,1404.9 L2068.4,1401.9 L2069.4,1403.1 L2070.3,1403.1 L2071.3,1403.5 L2072.2,1403.2 L2073.2,1403.9 L2074.1,1404.4 L2075.1,1403.2 L2076.0,1403.8 L2077.0,1405.0 L2077.9,1401.5 L2078.9,1401.3 L2079.8,1402.8 L2080.8,1404.0 L2081.7,1401.9 L2082.7,1402.6 L2083.6,1400.7 L2084.6,1401.6 L2085.5,1399.5 L2086.4,1400.4 L2087.4,1399.5 L2088.3,1398.8 L2089.3,1399.2 L2090.2,1398.1 L2091.2,1395.5 L2092.1,1396.3 L2093.1,1392.7 L2094.0,1394.8 L2095.0,1396.0 L2095.9,1393.0 L2096.9,1392.4 L2097.8,1391.6 L2098.8,1392.3 L2098.8,1390.9 L2099.7,1392.2 L2100.7,1391.4 L2101.6,1391.7 L2102.6,1392.9 L2103.5,1393.4 L2104.5,1392.3 L2105.4,1397.2 L2106.4,1395.8 L2107.3,1394.5 L2108.3,1398.3 L2109.2,1397.7 L2110.2,1398.5 L2111.1,1399.6 L2112.1,1398.3 L2113.0,1396.5 L2113.9,1400.0 L2114.9,1400.6 L2115.8,1401.7 L2116.8,1400.0 L2117.7,1400.7 L2118.7,1401.6 L2119.6,1401.0 L2120.6,1401.1 L2121.5,1401.8 L2122.5,1400.5 L2123.4,1403.3 L2124.4,1400.6 L2125.3,1401.7 L2126.3,1401.3 L2127.2,1400.9 L2128.2,1402.3 L2129.1,1402.8 L2130.1,1403.3 L2131.0,1402.4 L2132.0,1401.2 L2132.9,1402.7 L2133.9,1400.1 L2134.8,1401.8 L2135.8,1402.3 L2136.7,1402.3 L2137.7,1400.4 L2138.6,1400.0 L2139.6,1403.5 L2140.5,1401.1" fill="none" stroke="#000000" stroke-width="8" stroke-linejoin="round"/>
<path d="M244.0,1233.4 L244.9,1234.6 L245.9,1234.2 L246.8,1234.2 L247.8,1235.2 L248.7,1232.0 L249.7,1232.7 L250.6,1231.9 L251.6,1233.2 L252.5,1234.4 L253.5,1233.3 L254.4,1233.8 L255.4,1231.2 L256.3,1233.4 L257.3,1232.2 L258.2,1235.2 L259.2,1234.2 L260.1,1234.2 L261.1,1233.1 L262.0,1233.8 L263.0,1233.9 L263.9,1232.8 L264.9,1232.6 L265.8,1233.0 L266.8,1232.4 L267.7,1232.4 L268.7,1232.8 L269.6,1232.3 L270.6,1233.9 L271.5,1231.3 L272.4,1233.9 L273.4,1232.3 L274.3,1232.4 L275.3,1231.5 L276.2,1232.8 L277.2,1232.6 L278.1,1233.1 L279.1,1232.3 L280.0,1233.0 L281.0,1234.9 L281.9,1233.3 L282.9,1232.2 L283.8,1233.8 L284.8,1232.6 L285.7,1233.4 L286.7,1233.4 L287.6,1232.3 L288.6,1230.6 L289.5,1232.3 L290.5,1233.3 L291.4,1232.2 L292.4,1233.1 L293.3,1233.7 L294.3,1232.0 L295.2,1233.9 L296.2,1234.3 L297.1,1233.7 L298.1,1233.8 L299.0,1233.7 L299.9,1234.9 L300.9,1232.6 L301.8,1232.4 L302.8,1233.0 L303.7,1231.3 L304.7,1230.6 L305.6,1231.3 L306.6,1232.7 L307.5,1232.7 L308.5,1230.5 L309.4,1230.1 L310.4,1231.8 L311.3,1231.9 L312.3,1232.0 L313.2,1232.8 L314.2,1233.4 L315.1,1232.2 L316.1,1232.6 L317.0,1230.7 L318.0,1230.6 L318.9,1232.1 L319.9,1232.5 L320.8,1232.6 L321.8,1232.4 L322.7,1232.5 L323.7,1232.5 L324.6,1229.7 L325.5,1230.7 L326.5,1232.0 L327.4,1232.1 L328.4,1229.7 L329.3,1232.6 L330.3,1230.8 L331.2,1231.0 L332.2,1231.5 L333.1,1232.0 L334.1,1229.5 L335.0,1232.1 L336.0,1231.0 L336.9,1230.0 L337.9,1230.5 L338.8,1228.3 L339.8,1229.9 L340.7,1230.7 L341.7,1229.6 L342.6,1229.9 L343.6,1229.9 L344.5,1229.9 L345.5,1230.7 L346.4,1229.3 L347.4,1228.6 L348.3,1229.0 L349.3,1230.2 L350.2,1226.9 L351.2,1227.1 L352.1,1224.1 L353.0,1226.6 L354.0,1225.2 L354.9,1225.4 L355.9,1223.7 L355.9,1222.6 L356.8,1224.8 L357.8,1224.9 L358.7,1223.6 L359.7,1223.4 L360.6,1226.1 L361.6,1225.9 L362.5,1229.4 L363.5,1226.3 L364.4,1226.6 L365.4,1227.3 L366.3,1225.7 L367.3,1226.6 L368.2,1229.4 L369.2,1227.4 L370.1,1226.8 L371.1,1226.0 L372.0,1227.9 L373.0,1227.9 L373.9,1227.3 L374.9,1226.4 L375.8,1227.0 L376.8,1226.9 L377.7,1225.5 L378.7,1226.7 L379.6,1223.5 L380.5,1224.2 L381.5,1225.0 L382.4,1225.0 L383.4,1223.5 L384.3,1224.9 L385.3,1225.4 L386.2,1224.4 L387.2,1223.8 L388.1,1224.1 L389.1,1223.3 L390.0,1221.2 L391.0,1221.8 L391.9,1223.0 L392.9,1219.9 L393.8,1220.7 L394.8,1219.7 L395.7,1218.6 L396.7,1217.9 L397.6,1218.6 L398.6,1218.2 L399.5,1217.5 L400.5,1214.9 L401.4,1215.4 L402.4,1215.3 L403.3,1215.0 L404.3,1213.8 L405.2,1213.0 L406.2,1212.2 L407.1,1210.7 L408.0,1207.6 L409.0,1207.2 L409.9,1204.9 L410.9,1201.4 L411.8,1200.4 L412.8,1202.6 L413.7,1197.0 L414.7,1193.5 L415.6,1192.8 L416.6,1192.4 L417.5,1187.7 L418.5,1184.9 L419.4,1180.5 L420.4,1176.7 L421.3,1173.7 L422.3,1168.2 L423.2,1161.7 L424.2,1156.6 L425.1,1149.9 L426.1,1140.7 L427.0,1132.6 L428.0,1122.7 L428.9,1110.6 L429.9,1100.1 L430.8,1084.4 L431.8,1067.7 L432.7,1048.1 L433.6,1027.7 L434.6,1007.0 L435.5,977.0 L436.5,948.3 L437.4,913.2 L438.4,876.1 L439.3,834.5 L440.3,788.0 L441.2,741.5 L442.2,694.5 L443.1,649.0 L444.1,608.3 L445.0,575.8 L446.0,556.0 L446.9,549.6 L446.9,548.7 L447.9,554.6 L448.8,576.7 L449.8,608.7 L450.7,649.7 L451.7,696.8 L452.6,742.1 L453.6,789.5 L454.5,833.5 L455.5,876.0 L456.4,913.8 L457.4,950.5 L458.3,979.6 L459.3,1005.7 L460.2,1032.3 L461.1,1049.8 L462.1,1070.7 L463.0,1087.1 L464.0,1100.9 L464.9,1112.6 L465.9,1124.0 L466.8,1133.6 L467.8,1143.7 L468.7,1148.1 L469.7,1157.0 L470.6,1164.0 L471.6,1168.8 L472.5,1172.5 L473.5,1178.8 L474.4,1182.4 L475.4,1187.8 L476.3,1191.8 L477.3,1193.5 L478.2,1194.1 L479.2,1198.6 L480.1,1200.1 L481.1,1204.1 L482.0,1207.2 L483.0,1207.5 L483.9,1211.1 L484.9,1212.1 L485.8,1212.7 L486.8,1212.3 L487.7,1214.8 L488.6,1214.2 L489.6,1218.1 L490.5,1218.1 L491.5,1220.4 L492.4,1220.1 L493.4,1218.5 L494.3,1222.2 L495.3,1223.2 L496.2,1224.8 L497.2,1222.5 L498.1,1223.2 L499.1,1224.9 L500.0,1224.2 L501.0,1224.4 L501.9,1225.2 L502.9,1229.7 L503.8,1226.6 L504.8,1226.6 L505.7,1227.7 L506.7,1228.5 L507.6,1230.3 L508.6,1230.3 L509.5,1230.5 L510.5,1230.0 L511.4,1230.4 L512.4,1229.8 L513.3,1229.1 L514.3,1233.2 L515.2,1230.7 L516.1,1232.6 L517.1,1231.3 L518.0,1231.8 L519.0,1231.9 L519.9,1230.8 L520.9,1232.4 L521.8,1233.1 L522.8,1233.8 L523.7,1233.6 L524.7,1234.3 L525.6,1233.6 L526.6,1233.5 L527.5,1231.5 L528.5,1233.2 L529.4,1235.6 L530.4,1234.2 L531.3,1235.0 L532.3,1234.0 L533.2,1233.6 L534.2,1236.8 L535.1,1235.0 L536.1,1236.4 L537.0,1235.4 L538.0,1234.6 L538.9,1232.6 L539.9,1235.2 L540.8,1233.5 L541.8,1232.9 L542.7,1236.8 L543.6,1236.3 L544.6,1236.3 L545.5,1235.7 L546.5,1235.7 L547.4,1236.3 L548.4,1236.0 L549.3,1236.0 L550.3,1236.8 L551.2,1233.4 L552.2,1237.1 L553.1,1235.5 L554.1,1237.2 L555.0,1237.6 L556.0,1235.5 L556.9,1237.3 L557.9,1237.4 L558.8,1235.8 L559.8,1236.0 L560.7,1236.8 L561.7,1234.2 L562.6,1236.2 L563.6,1237.0 L564.5,1236.3 L565.5,1235.1 L566.4,1236.5 L567.4,1238.6 L568.3,1238.5 L569.2,1236.9 L570.2,1236.2 L571.1,1237.1 L572.1,1237.2 L573.0,1236.5 L574.0,1236.9 L574.9,1238.0 L575.9,1238.3 L576.8,1234.7 L577.8,1238.5 L578.7,1237.6 L579.7,1238.7 L580.6,1237.5 L581.6,1238.0 L582.5,1239.4 L583.5,1234.3 L584.4,1239.4 L585.4,1237.9 L586.3,1235.7 L587.3,1234.8 L588.2,1238.1 L589.2,1236.6 L590.1,1238.9 L591.1,1238.1 L592.0,1237.7 L593.0,1239.0 L593.9,1238.1 L594.9,1238.7 L595.8,1238.9 L596.7,1238.3 L597.7,1238.8 L598.6,1238.9 L599.6,1236.5 L600.5,1237.7 L601.5,1237.9 L602.4,1237.6 L603.4,1236.3 L604.3,1237.5 L605.3,1238.5 L606.2,1238.3 L607.2,1239.8 L608.1,1237.5 L609.1,1237.7 L610.0,1237.5 L611.0,1237.8 L611.9,1237.5 L612.9,1236.1 L613.8,1238.5 L614.8,1239.2 L615.7,1239.4 L616.7,1236.9 L617.6,1237.9 L618.6,1240.1 L619.5,1238.0 L620.5,1238.4 L621.4,1237.9 L622.4,1239.1 L623.3,1239.0 L624.2,1240.4 L625.2,1238.3 L626.1,1238.1 L627.1,1236.2 L628.0,1236.9 L629.0,1236.5 L629.9,1236.7 L630.9,1235.4 L631.8,1237.9 L632.8,1235.2 L633.7,1236.3 L634.7,1234.3 L635.6,1235.6 L636.6,1236.6 L637.5,1233.3 L638.5,1234.1 L639.4,1232.9 L640.4,1232.6 L641.3,1232.0 L642.3,1229.9 L643.2,1229.5 L644.2,1228.1 L645.1,1226.8 L646.1,1225.3 L647.0,1226.6 L648.0,1223.6 L648.9,1224.0 L649.9,1222.8 L650.8,1220.1 L651.7,1221.5 L652.7,1218.6 L653.6,1219.7 L654.6,1220.3 L655.5,1217.7 L656.5,1217.6 L657.4,1217.9 L658.4,1222.0 L659.3,1219.8 L660.3,1219.6 L661.2,1222.9 L662.2,1222.8 L663.1,1224.1 L664.1,1224.1 L665.0,1223.8 L666.0,1226.5 L666.9,1227.1 L667.9,1227.4 L668.8,1228.9 L669.8,1229.9 L670.7,1232.6 L671.7,1233.1 L672.6,1233.5 L673.6,1232.9 L674.5,1232.6 L675.5,1234.8 L676.4,1235.3 L677.4,1236.2 L678.3,1235.4 L679.2,1235.5 L680.2,1236.2 L681.1,1235.0 L682.1,1235.3 L683.0,1237.0 L684.0,1235.0 L684.9,1236.4 L685.9,1237.4 L686.8,1236.9 L687.8,1237.1 L688.7,1235.5 L689.7,1236.6 L690.6,1236.5 L691.6,1237.5 L692.5,1237.3 L693.5,1236.9 L694.4,1239.0 L695.4,1237.5 L696.3,1236.6 L697.3,1236.3 L698.2,1236.9 L699.2,1236.3 L700.1,1238.7 L701.1,1237.6 L702.0,1236.6 L703.0,1236.2 L703.9,1235.8 L704.8,1236.6 L705.8,1238.4 L706.7,1237.9 L707.7,1236.9 L708.6,1237.1 L709.6,1234.9 L710.5,1237.8 L711.5,1236.7 L712.4,1238.4 L713.4,1236.7 L714.3,1236.3 L715.3,1237.1 L716.2,1236.2 L717.2,1238.3 L718.1,1237.1 L719.1,1237.2 L720.0,1237.2 L721.0,1236.4 L721.9,1237.3 L722.9,1237.0 L723.8,1238.7 L724.8,1236.8 L725.7,1237.1 L726.7,1236.2 L727.6,1236.3 L728.6,1236.3 L729.5,1238.1 L730.5,1236.7 L731.4,1237.7 L732.3,1236.3 L733.3,1236.2 L734.2,1234.5 L735.2,1237.5 L736.1,1238.8 L737.1,1236.3 L738.0,1238.1 L739.0,1237.4 L739.9,1235.7 L740.9,1237.3 L741.8,1235.4 L742.8,1236.1 L743.7,1237.7 L744.7,1236.5 L745.6,1235.1 L746.6,1237.9 L747.5,1235.1 L748.5,1236.1 L749.4,1235.9 L750.4,1236.1 L751.3,1235.3 L752.3,1234.4 L753.2,1238.2 L754.2,1235.1 L755.1,1235.1 L756.1,1233.4 L757.0,1236.2 L758.0,1237.5 L758.9,1237.6 L759.8,1239.0 L760.8,1237.6 L761.7,1236.4 L762.7,1235.9 L763.6,1237.5 L764.6,1235.8 L765.5,1236.1 L766.5,1234.8 L767.4,1235.9 L768.4,1237.9 L769.3,1235.7 L770.3,1236.1 L771.2,1233.0 L772.2,1237.1 L773.1,1236.0 L774.1,1237.1 L775.0,1235.8 L776.0,1234.6 L776.9,1234.0 L777.9,1236.0 L778.8,1235.4 L779.8,1234.3 L780.7,1235.3 L781.7,1234.6 L782.6,1236.1 L783.6,1234.8 L784.5,1233.9 L785.5,1235.1 L786.4,1234.5 L787.3,1236.7 L788.3,1234.6 L789.2,1233.6 L790.2,1234.9 L791.1,1234.7 L792.1,1235.2 L793.0,1235.1 L794.0,1233.7 L794.9,1234.7 L795.9,1234.6 L796.8,1233.4 L797.8,1234.0 L798.7,1234.9 L799.7,1232.8 L800.6,1233.4 L801.6,1234.0 L802.5,1234.4 L803.5,1235.0 L804.4,1232.9 L805.4,1234.7 L806.3,1235.0 L807.3,1236.0 L808.2,1233.8 L809.2,1233.2 L810.1,1232.5 L811.1,1234.7 L812.0,1235.5 L812.9,1233.3 L813.9,1234.5 L814.8,1234.9 L815.8,1235.0 L816.7,1233.4 L817.7,1234.6 L818.6,1233.8 L819.6,1232.7 L820.5,1234.0 L821.5,1234.1 L822.4,1232.6 L823.4,1234.1 L824.3,1235.8 L825.3,1231.9 L826.2,1234.3 L827.2,1234.4 L828.1,1233.4 L829.1,1233.7 L830.0,1233.0 L831.0,1234.7 L831.9,1232.1 L832.9,1233.0 L833.8,1231.0 L834.8,1233.4 L835.7,1233.5 L836.7,1231.2 L837.6,1232.0 L838.6,1233.5 L839.5,1232.4 L840.4,1231.5 L841.4,1230.1 L842.3,1233.2 L843.3,1234.9 L844.2,1232.2 L845.2,1233.1 L846.1,1233.1 L847.1,1232.4 L848.0,1232.6 L849.0,1232.5 L849.9,1231.4 L850.9,1235.0 L851.8,1235.2 L852.8,1232.5 L853.7,1234.0 L854.7,1231.0 L855.6,1231.6 L856.6,1232.9 L857.5,1230.3 L858.5,1230.0 L859.4,1231.6 L860.4,1228.9 L861.3,1232.7 L862.3,1231.4 L863.2,1230.6 L864.2,1230.8 L865.1,1228.7 L866.1,1228.2 L867.0,1229.7 L867.9,1229.3 L868.9,1227.9 L869.8,1227.0 L870.8,1225.8 L871.7,1227.1 L872.7,1223.0 L873.6,1222.8 L874.6,1222.1 L875.5,1219.8 L876.5,1218.8 L877.4,1217.9 L878.4,1218.8 L879.3,1218.2 L880.3,1215.2 L881.2,1211.6 L882.2,1211.2 L883.1,1210.3 L884.1,1208.7 L885.0,1207.3 L886.0,1207.1 L886.9,1203.3 L887.9,1204.0 L888.8,1204.2 L889.8,1204.3 L890.7,1203.6 L891.7,1203.3 L892.6,1203.2 L893.6,1202.9 L894.5,1204.1 L895.4,1204.1 L896.4,1204.0 L897.3,1206.4 L898.3,1206.6 L899.2,1204.9 L900.2,1205.8 L901.1,1206.1 L902.1,1204.4 L903.0,1203.3 L904.0,1202.4 L904.9,1198.4 L905.9,1196.6 L906.8,1196.3 L907.8,1193.2 L908.7,1191.1 L909.7,1185.4 L910.6,1183.1 L911.6,1178.7 L912.5,1175.0 L913.5,1167.0 L914.4,1162.5 L915.4,1158.1 L916.3,1153.1 L917.3,1147.0 L918.2,1143.2 L919.2,1138.9 L920.1,1140.2 L921.1,1135.9 L921.8,1135.5 L922.0,1134.8 L922.9,1136.2 L923.9,1138.8 L924.8,1140.3 L925.8,1144.2 L926.7,1150.7 L927.7,1153.9 L928.6,1157.8 L929.6,1161.9 L930.5,1167.0 L931.5,1170.7 L932.4,1176.0 L933.4,1178.8 L934.3,1182.2 L935.3,1185.5 L936.2,1187.3 L937.2,1190.7 L938.1,1194.8 L939.1,1192.4 L940.0,1191.7 L941.0,1194.6 L941.9,1193.0 L942.9,1194.5 L943.8,1191.5 L944.8,1190.7 L945.7,1187.4 L946.7,1185.2 L947.6,1185.8 L948.5,1186.3 L949.5,1184.9 L949.5,1184.1 L950.4,1186.2 L951.4,1188.1 L952.3,1190.6 L953.3,1193.8 L954.2,1199.5 L955.2,1200.0 L956.1,1202.5 L957.1,1204.7 L958.0,1209.5 L959.0,1209.4 L959.9,1214.9 L960.9,1215.4 L961.8,1215.5 L962.8,1219.0 L963.7,1220.1 L964.7,1222.9 L965.6,1221.1 L966.6,1224.0 L967.5,1224.7 L968.5,1226.5 L969.4,1225.1 L970.4,1226.2 L971.3,1229.8 L972.3,1228.8 L973.2,1227.1 L974.2,1229.6 L975.1,1228.8 L976.0,1229.3 L977.0,1229.1 L977.9,1231.9 L978.9,1230.6 L979.8,1231.7 L980.8,1231.8 L981.7,1230.4 L982.7,1231.5 L983.6,1233.3 L984.6,1231.0 L985.5,1233.2 L986.5,1233.0 L987.4,1234.0 L988.4,1234.2 L989.3,1234.6 L990.3,1233.9 L991.2,1234.3 L992.2,1233.3 L993.1,1233.7 L994.1,1235.4 L995.0,1233.9 L996.0,1235.8 L996.9,1235.8 L997.9,1234.0 L998.8,1235.6 L999.8,1234.2 L1000.7,1235.5 L1001.7,1234.4 L1002.6,1235.7 L1003.5,1235.6 L1004.5,1234.4 L1005.4,1237.8 L1006.4,1236.7 L1007.3,1234.0 L1008.3,1236.2 L1009.2,1235.4 L1010.2,1238.2 L1011.1,1236.0 L1012.1,1236.5 L1013.0,1236.0 L1014.0,1236.9 L1014.9,1235.7 L1015.9,1235.4 L1016.8,1235.9 L1017.8,1236.0 L1018.7,1237.2 L1019.7,1236.7 L1020.6,1236.1 L1021.6,1236.2 L1022.5,1235.7 L1023.5,1236.9 L1024.4,1234.6 L1025.4,1236.6 L1026.3,1238.2 L1027.3,1236.5 L1028.2,1236.2 L1029.2,1237.0 L1030.1,1236.0 L1031.0,1236.2 L1032.0,1237.8 L1032.9,1236.4 L1033.9,1239.3 L1034.8,1237.8 L1035.8,1237.1 L1036.7,1236.5 L1037.7,1237.0 L1038.6,1234.8 L1039.6,1237.6 L1040.5,1238.3 L1041.5,1238.0 L1042.4,1236.9 L1043.4,1238.1 L1044.3,1238.1 L1045.3,1237.3 L1046.2,1237.9 L1047.2,1238.6 L1048.1,1238.0 L1049.1,1237.1 L1050.0,1237.6 L1051.0,1237.7 L1051.9,1235.8 L1052.9,1237.8 L1053.8,1237.5 L1054.8,1235.3 L1055.7,1235.8 L1056.7,1239.7 L1057.6,1237.8 L1058.5,1239.2 L1059.5,1237.3 L1060.4,1239.5 L1061.4,1238.4 L1062.3,1237.1 L1063.3,1238.1 L1064.2,1239.6 L1065.2,1240.5 L1066.1,1238.4 L1067.1,1237.4 L1068.0,1237.0 L1069.0,1238.7 L1069.9,1239.2 L1070.9,1238.1 L1071.8,1237.9 L1072.8,1238.9 L1073.7,1238.6 L1074.7,1238.5 L1075.6,1236.4 L1076.6,1237.7 L1077.5,1240.2 L1078.5,1238.1 L1079.4,1240.8 L1080.4,1238.5 L1081.3,1237.8 L1082.3,1238.5 L1083.2,1238.8 L1084.1,1237.4 L1085.1,1238.5 L1086.0,1237.7 L1087.0,1239.8 L1087.9,1237.7 L1088.9,1238.4 L1089.8,1236.6 L1090.8,1236.8 L1091.7,1238.2 L1092.7,1237.3 L1093.6,1238.0 L1094.6,1238.6 L1095.5,1238.9 L1096.5,1236.8 L1097.4,1238.1 L1098.4,1239.1 L1099.3,1237.6 L1100.3,1236.9 L1101.2,1237.6 L1102.2,1240.2 L1103.1,1238.4 L1104.1,1240.1 L1105.0,1238.1 L1106.0,1239.7 L1106.9,1236.9 L1107.9,1238.2 L1108.8,1238.6 L1109.8,1240.4 L1110.7,1239.0 L1111.6,1239.7 L1112.6,1238.0 L1113.5,1238.1 L1114.5,1239.9 L1115.4,1240.1 L1116.4,1239.9 L1117.3,1239.9 L1118.3,1238.0 L1119.2,1240.9 L1120.2,1238.8 L1121.1,1240.0 L1122.1,1239.4 L1123.0,1236.7 L1124.0,1236.5 L1124.9,1236.9 L1125.9,1238.6 L1126.8,1239.9 L1127.8,1238.4 L1128.7,1239.6 L1129.7,1237.3 L1130.6,1238.0 L1131.6,1237.7 L1132.5,1238.7 L1133.5,1237.4 L1134.4,1238.6 L1135.4,1239.4 L1136.3,1238.2 L1137.3,1237.7 L1138.2,1238.2 L1139.1,1237.4 L1140.1,1237.6 L1141.0,1239.6 L1142.0,1239.1 L1142.9,1237.2 L1143.9,1238.4 L1144.8,1239.3 L1145.8,1239.7 L1146.7,1239.5 L1147.7,1239.9 L1148.6,1238.7 L1149.6,1238.8 L1150.5,1238.5 L1151.5,1240.0 L1152.4,1239.8 L1153.4,1240.8 L1154.3,1240.1 L1155.3,1237.9 L1156.2,1237.2 L1157.2,1237.3 L1158.1,1237.8 L1159.1,1239.5 L1160.0,1237.3 L1161.0,1236.6 L1161.9,1238.6 L1162.9,1239.7 L1163.8,1239.7 L1164.8,1240.7 L1165.7,1238.8 L1166.6,1238.2 L1167.6,1238.5 L1168.5,1237.4 L1169.5,1238.1 L1170.4,1240.3 L1171.4,1241.2 L1172.3,1240.3 L1173.3,1239.2 L1174.2,1238.6 L1175.2,1239.1 L1176.1,1236.8 L1177.1,1239.5 L1178.0,1239.7 L1179.0,1238.7 L1179.9,1238.9 L1180.9,1237.0 L1181.8,1239.7 L1182.8,1239.7 L1183.7,1235.8 L1184.7,1238.2 L1185.6,1239.2 L1186.6,1240.7 L1187.5,1237.9 L1188.5,1238.8 L1189.4,1240.5 L1190.4,1239.4 L1191.3,1238.6 L1192.2,1238.3 L1193.2,1238.9 L1194.1,1237.9 L1195.1,1239.9 L1196.0,1237.8 L1197.0,1239.4 L1197.9,1239.8 L1198.9,1240.1 L1199.8,1238.9 L1200.8,1238.8 L1201.7,1239.2 L1202.7,1238.9 L1203.6,1240.0 L1204.6,1238.7 L1205.5,1240.9 L1206.5,1241.9 L1207.4,1238.0 L1208.4,1239.2 L1209.3,1237.4 L1210.3,1239.5 L1211.2,1239.1 L1212.2,1238.4 L1213.1,1237.5 L1214.1,1238.7 L1215.0,1240.8 L1216.0,1240.4 L1216.9,1239.0 L1217.9,1237.9 L1218.8,1238.5 L1219.7,1237.6 L1220.7,1237.0 L1221.6,1237.4 L1222.6,1239.1 L1223.5,1238.7 L1224.5,1238.5 L1225.4,1237.1 L1226.4,1236.7 L1227.3,1239.4 L1228.3,1237.8 L1229.2,1239.5 L1230.2,1237.3 L1231.1,1239.2 L1232.1,1238.3 L1233.0,1237.5 L1234.0,1237.5 L1234.9,1240.1 L1235.9,1238.9 L1236.8,1237.6 L1237.8,1238.0 L1238.7,1236.0 L1239.7,1239.6 L1240.6,1239.2 L1241.6,1237.1 L1242.5,1238.0 L1243.5,1234.4 L1244.4,1238.5 L1245.4,1237.9 L1246.3,1237.6 L1247.2,1238.1 L1248.2,1237.5 L1249.1,1236.0 L1250.1,1236.2 L1251.0,1236.7 L1252.0,1237.8 L1252.9,1236.7 L1253.9,1235.8 L1254.8,1236.8 L1255.8,1235.0 L1256.7,1238.5 L1257.7,1236.4 L1258.6,1234.9 L1259.6,1236.0 L1260.5,1236.9 L1261.5,1236.1 L1262.4,1237.6 L1263.4,1233.6 L1264.3,1236.8 L1265.3,1234.8 L1266.2,1235.6 L1267.2,1236.3 L1268.1,1232.8 L1269.1,1232.3 L1270.0,1233.2 L1271.0,1231.5 L1271.9,1230.8 L1272.9,1232.8 L1273.8,1233.7 L1274.7,1231.5 L1275.7,1232.2 L1276.6,1235.2 L1277.6,1231.1 L1278.5,1229.8 L1279.5,1229.4 L1280.4,1229.5 L1281.4,1228.0 L1282.3,1228.4 L1283.3,1227.0 L1284.2,1226.9 L1285.2,1225.0 L1286.1,1223.6 L1287.1,1221.3 L1288.0,1219.4 L1289.0,1218.9 L1289.9,1216.9 L1290.9,1215.5 L1291.8,1212.7 L1292.8,1209.5 L1293.7,1209.3 L1294.7,1203.7 L1295.6,1200.7 L1296.6,1193.7 L1297.5,1191.0 L1298.5,1185.7 L1299.4,1178.9 L1300.4,1170.8 L1301.3,1166.2 L1302.2,1156.5 L1303.2,1147.9 L1304.1,1140.0 L1305.1,1134.2 L1306.0,1126.4 L1307.0,1121.7 L1307.9,1116.7 L1308.9,1114.4 L1309.8,1112.2 L1309.8,1111.9 L1310.8,1112.9 L1311.7,1115.1 L1312.7,1119.9 L1313.6,1126.2 L1314.6,1134.4 L1315.5,1140.8 L1316.5,1149.5 L1317.4,1158.5 L1318.4,1162.1 L1319.3,1170.8 L1320.3,1177.3 L1321.2,1184.4 L1322.2,1188.2 L1323.1,1194.1 L1324.1,1201.8 L1325.0,1201.8 L1326.0,1206.7 L1326.9,1210.2 L1327.8,1212.4 L1328.8,1213.8 L1329.7,1218.4 L1330.7,1217.1 L1331.6,1219.8 L1332.6,1222.0 L1333.5,1222.9 L1334.5,1226.0 L1335.4,1225.4 L1336.4,1228.8 L1337.3,1227.5 L1338.3,1229.9 L1339.2,1229.4 L1340.2,1229.2 L1341.1,1229.8 L1342.1,1231.7 L1343.0,1230.5 L1344.0,1231.4 L1344.9,1231.0 L1345.9,1230.0 L1346.8,1233.2 L1347.8,1233.6 L1348.7,1231.9 L1349.7,1234.0 L1350.6,1233.5 L1351.6,1231.9 L1352.5,1233.2 L1353.5,1235.2 L1354.4,1235.8 L1355.3,1235.3 L1356.3,1238.1 L1357.2,1235.6 L1358.2,1234.6 L1359.1,1233.9 L1360.1,1237.3 L1361.0,1235.3 L1362.0,1235.6 L1362.9,1235.2 L1363.9,1235.3 L1364.8,1235.9 L1365.8,1236.9 L1366.7,1237.1 L1367.7,1237.0 L1368.6,1237.8 L1369.6,1236.3 L1370.5,1235.8 L1371.5,1236.9 L1372.4,1234.8 L1373.4,1238.1 L1374.3,1237.8 L1375.3,1237.9 L1376.2,1236.1 L1377.2,1236.8 L1378.1,1237.5 L1379.1,1236.4 L1380.0,1236.3 L1381.0,1237.4 L1381.9,1237.8 L1382.8,1236.9 L1383.8,1238.9 L1384.7,1240.2 L1385.7,1238.5 L1386.6,1237.7 L1387.6,1237.6 L1388.5,1239.7 L1389.5,1238.3 L1390.4,1238.7 L1391.4,1238.3 L1392.3,1237.5 L1393.3,1239.8 L1394.2,1237.9 L1395.2,1238.3 L1396.1,1235.8 L1397.1,1240.6 L1398.0,1239.1 L1399.0,1238.2 L1399.9,1237.4 L1400.9,1237.6 L1401.8,1236.5 L1402.8,1238.9 L1403.7,1237.4 L1404.7,1238.9 L1405.6,1238.9 L1406.6,1240.6 L1407.5,1238.7 L1408.5,1238.8 L1409.4,1239.0 L1410.3,1237.8 L1411.3,1238.2 L1412.2,1238.9 L1413.2,1239.8 L1414.1,1239.4 L1415.1,1238.3 L1416.0,1239.9 L1417.0,1238.2 L1417.9,1236.9 L1418.9,1240.3 L1419.8,1238.6 L1420.8,1238.1 L1421.7,1237.3 L1422.7,1238.2 L1423.6,1240.5 L1424.6,1238.6 L1425.5,1241.1 L1426.5,1238.7 L1427.4,1239.9 L1428.4,1238.7 L1429.3,1238.1 L1430.3,1238.2 L1431.2,1238.3 L1432.2,1237.3 L1433.1,1237.3 L1434.1,1239.0 L1435.0,1240.0 L1436.0,1238.8 L1436.9,1238.6 L1437.8,1237.6 L1438.8,1239.8 L1439.7,1239.7 L1440.7,1237.2 L1441.6,1238.6 L1442.6,1238.1 L1443.5,1236.8 L1444.5,1240.2 L1445.4,1239.7 L1446.4,1238.8 L1447.3,1239.9 L1448.3,1237.8 L1449.2,1238.6 L1450.2,1239.8 L1451.1,1237.9 L1452.1,1238.6 L1453.0,1237.1 L1454.0,1238.9 L1454.9,1239.4 L1455.9,1237.0 L1456.8,1237.2 L1457.8,1237.9 L1458.7,1239.5 L1459.7,1237.3 L1460.6,1236.9 L1461.6,1237.6 L1462.5,1239.0 L1463.4,1236.0 L1464.4,1237.4 L1465.3,1239.0 L1466.3,1237.4 L1467.2,1237.1 L1468.2,1238.2 L1469.1,1235.9 L1470.1,1239.4 L1471.0,1237.6 L1472.0,1236.5 L1472.9,1236.9 L1473.9,1236.7 L1474.8,1236.3 L1475.8,1235.2 L1476.7,1236.1 L1477.7,1234.4 L1478.6,1237.6 L1479.6,1234.7 L1480.5,1235.0 L1481.5,1234.8 L1482.4,1236.3 L1483.4,1235.1 L1484.3,1236.8 L1485.3,1234.5 L1486.2,1235.0 L1487.2,1234.5 L1488.1,1234.0 L1489.1,1235.4 L1490.0,1235.3 L1490.9,1235.1 L1491.9,1231.8 L1492.8,1233.5 L1493.8,1231.5 L1494.7,1231.2 L1495.7,1230.1 L1496.6,1230.7 L1497.6,1232.0 L1498.5,1232.4 L1499.5,1232.3 L1500.4,1228.9 L1501.4,1228.7 L1502.3,1229.1 L1503.3,1228.4 L1504.2,1227.8 L1505.2,1224.9 L1506.1,1225.9 L1507.1,1225.9 L1508.0,1224.7 L1509.0,1223.3 L1509.9,1221.6 L1510.9,1221.1 L1511.8,1221.8 L1512.8,1219.2 L1513.7,1218.4 L1514.7,1217.5 L1515.6,1212.8 L1516.6,1212.8 L1517.5,1210.6 L1518.4,1209.4 L1519.4,1205.3 L1520.3,1202.8 L1521.3,1199.7 L1522.2,1197.8 L1523.2,1194.3 L1524.1,1191.4 L1525.1,1188.9 L1526.0,1185.0 L1527.0,1181.4 L1527.9,1179.2 L1528.9,1176.5 L1529.8,1175.5 L1530.8,1174.8 L1531.7,1172.0 L1532.7,1169.3 L1533.6,1172.8 L1534.6,1172.9 L1535.5,1173.4 L1536.5,1175.9 L1537.4,1180.4 L1538.4,1179.2 L1539.3,1182.1 L1540.3,1185.9 L1541.2,1185.1 L1542.2,1190.5 L1543.1,1194.5 L1544.1,1196.2 L1545.0,1198.0 L1545.9,1199.0 L1546.9,1200.7 L1547.8,1205.3 L1548.8,1203.7 L1549.7,1205.9 L1550.7,1203.8 L1551.6,1206.0 L1552.6,1206.5 L1553.5,1206.5 L1554.5,1203.9 L1555.4,1205.6 L1556.4,1207.3 L1557.3,1205.7 L1558.3,1203.5 L1559.2,1204.3 L1560.2,1200.1 L1561.1,1201.4 L1562.1,1199.5 L1563.0,1196.7 L1564.0,1194.2 L1564.9,1191.3 L1565.9,1190.6 L1566.8,1190.2 L1567.8,1186.7 L1568.7,1183.6 L1569.7,1181.7 L1570.6,1177.6 L1571.5,1176.8 L1572.5,1171.3 L1573.4,1172.7 L1574.4,1172.0 L1575.3,1172.3 L1576.3,1172.8 L1577.2,1174.8 L1578.2,1175.2 L1579.1,1179.1 L1580.1,1180.4 L1581.0,1184.5 L1582.0,1186.7 L1582.9,1190.6 L1583.9,1193.3 L1584.8,1195.2 L1585.8,1199.0 L1586.7,1200.2 L1587.7,1204.3 L1588.6,1207.2 L1589.6,1208.8 L1590.5,1211.0 L1591.5,1214.3 L1592.4,1216.4 L1593.4,1218.3 L1594.3,1217.7 L1595.3,1219.3 L1596.2,1222.0 L1597.2,1223.3 L1598.1,1221.5 L1599.0,1226.7 L1600.0,1226.7 L1600.9,1225.0 L1601.9,1228.5 L1602.8,1227.5 L1603.8,1228.6 L1604.7,1228.3 L1605.7,1229.1 L1606.6,1230.2 L1607.6,1231.2 L1608.5,1230.4 L1609.5,1232.0 L1610.4,1231.8 L1611.4,1232.4 L1612.3,1232.4 L1613.3,1233.0 L1614.2,1235.8 L1615.2,1232.6 L1616.1,1233.3 L1617.1,1234.9 L1618.0,1234.7 L1619.0,1234.4 L1619.9,1236.2 L1620.9,1234.7 L1621.8,1236.3 L1622.8,1237.5 L1623.7,1237.3 L1624.7,1236.6 L1625.6,1237.1 L1626.5,1237.4 L1627.5,1238.1 L1628.4,1236.5 L1629.4,1239.1 L1630.3,1238.7 L1631.3,1240.1 L1632.2,1239.1 L1633.2,1239.4 L1634.1,1235.2 L1635.1,1238.0 L1636.0,1240.7 L1637.0,1239.2 L1637.9,1238.4 L1638.9,1239.7 L1639.8,1239.2 L1640.8,1239.6 L1641.7,1238.5 L1642.7,1239.9 L1643.6,1241.1 L1644.6,1239.8 L1645.5,1240.1 L1646.5,1238.9 L1647.4,1240.3 L1648.4,1239.4 L1649.3,1238.4 L1650.3,1239.5 L1651.2,1239.8 L1652.2,1240.7 L1653.1,1241.2 L1654.0,1240.0 L1655.0,1239.8 L1655.9,1241.0 L1656.9,1239.3 L1657.8,1240.0 L1658.8,1240.2 L1659.7,1240.3 L1660.7,1239.8 L1661.6,1242.3 L1662.6,1241.6 L1663.5,1240.4 L1664.5,1239.1 L1665.4,1240.1 L1666.4,1241.4 L1667.3,1238.6 L1668.3,1243.5 L1669.2,1240.7 L1670.2,1240.8 L1671.1,1241.6 L1672.1,1239.4 L1673.0,1241.0 L1674.0,1241.0 L1674.9,1241.8 L1675.9,1239.9 L1676.8,1241.8 L1677.8,1242.4 L1678.7,1241.4 L1679.7,1240.5 L1680.6,1240.2 L1681.5,1239.2 L1682.5,1240.6 L1683.4,1241.8 L1684.4,1242.9 L1685.3,1242.4 L1686.3,1242.6 L1687.2,1240.8 L1688.2,1240.9 L1689.1,1239.7 L1690.1,1240.6 L1691.0,1240.1 L1692.0,1241.1 L1692.9,1242.2 L1693.9,1241.3 L1694.8,1241.1 L1695.8,1242.2 L1696.7,1243.2 L1697.7,1242.7 L1698.6,1239.6 L1699.6,1243.5 L1700.5,1241.1 L1701.5,1240.0 L1702.4,1241.2 L1703.4,1242.7 L1704.3,1238.7 L1705.3,1243.1 L1706.2,1241.9 L1707.1,1242.3 L1708.1,1240.1 L1709.0,1241.0 L1710.0,1240.4 L1710.9,1243.0 L1711.9,1240.8 L1712.8,1242.1 L1713.8,1241.0 L1714.7,1239.9 L1715.7,1242.7 L1716.6,1243.0 L1717.6,1243.4 L1718.5,1241.1 L1719.5,1241.8 L1720.4,1242.5 L1721.4,1242.1 L1722.3,1242.0 L1723.3,1244.4 L1724.2,1241.3 L1725.2,1242.8 L1726.1,1241.2 L1727.1,1243.4 L1728.0,1241.5 L1729.0,1240.7 L1729.9,1242.6 L1730.9,1241.9 L1731.8,1241.4 L1732.8,1241.6 L1733.7,1241.2 L1734.6,1242.4 L1735.6,1242.2 L1736.5,1243.7 L1737.5,1241.1 L1738.4,1243.4 L1739.4,1242.5 L1740.3,1240.3 L1741.3,1243.5 L1742.2,1239.9 L1743.2,1242.4 L1744.1,1239.8 L1745.1,1242.2 L1746.0,1241.5 L1747.0,1241.6 L1747.9,1239.8 L1748.9,1241.0 L1749.8,1243.2 L1750.8,1242.6 L1751.7,1241.8 L1752.7,1241.7 L1753.6,1241.2 L1754.6,1243.5 L1755.5,1241.9 L1756.5,1243.1 L1757.4,1240.3 L1758.4,1240.2 L1759.3,1243.4 L1760.3,1240.9 L1761.2,1241.7 L1762.1,1242.4 L1763.1,1242.9 L1764.0,1242.6 L1765.0,1242.5 L1765.9,1243.7 L1766.9,1242.2 L1767.8,1242.9 L1768.8,1242.0 L1769.7,1242.1 L1770.7,1244.0 L1771.6,1241.6 L1772.6,1239.1 L1773.5,1242.0 L1774.5,1242.1 L1775.4,1243.9 L1776.4,1241.5 L1777.3,1240.6 L1778.3,1242.0 L1779.2,1243.9 L1780.2,1241.5 L1781.1,1243.2 L1782.1,1242.4 L1783.0,1242.5 L1784.0,1240.9 L1784.9,1241.8 L1785.9,1240.8 L1786.8,1241.7 L1787.8,1240.9 L1788.7,1242.9 L1789.6,1241.1 L1790.6,1241.4 L1791.5,1239.1 L1792.5,1240.5 L1793.4,1244.3 L1794.4,1241.1 L1795.3,1239.7 L1796.3,1241.4 L1797.2,1241.2 L1798.2,1240.8 L1799.1,1241.0 L1800.1,1240.8 L1801.0,1242.3 L1802.0,1239.9 L1802.9,1241.4 L1803.9,1242.1 L1804.8,1240.1 L1805.8,1243.5 L1806.7,1241.0 L1807.7,1240.8 L1808.6,1240.2 L1809.6,1241.6 L1810.5,1238.9 L1811.5,1241.3 L1812.4,1243.0 L1813.4,1240.8 L1814.3,1241.2 L1815.3,1239.2 L1816.2,1240.9 L1817.1,1239.1 L1818.1,1239.3 L1819.0,1239.6 L1820.0,1241.5 L1820.9,1238.5 L1821.9,1236.7 L1822.8,1238.7 L1823.8,1239.1 L1824.7,1238.6 L1825.7,1237.7 L1826.6,1238.5 L1827.6,1237.4 L1828.5,1236.8 L1829.5,1234.8 L1830.4,1233.0 L1831.4,1235.7 L1832.3,1232.2 L1833.3,1233.8 L1834.2,1232.9 L1835.2,1229.4 L1836.1,1229.2 L1837.1,1229.5 L1838.0,1229.2 L1839.0,1226.3 L1839.9,1226.3 L1840.9,1224.8 L1841.8,1224.0 L1842.7,1224.9 L1843.7,1223.9 L1844.6,1221.8 L1845.6,1224.3 L1846.5,1223.2 L1847.5,1223.0 L1848.4,1221.7 L1849.4,1223.7 L1850.3,1222.8 L1851.3,1222.3 L1852.2,1221.3 L1853.2,1220.9 L1854.1,1221.3 L1855.1,1218.5 L1856.0,1217.2 L1857.0,1214.8 L1857.9,1214.2 L1858.9,1211.3 L1859.8,1208.6 L1860.8,1208.6 L1861.7,1205.0 L1862.7,1202.3 L1863.6,1200.9 L1864.6,1199.8 L1865.5,1198.6 L1866.3,1201.3 L1866.5,1200.4 L1867.4,1198.8 L1868.4,1202.8 L1869.3,1202.9 L1870.2,1205.7 L1871.2,1207.4 L1872.1,1210.8 L1873.1,1213.3 L1874.0,1216.2 L1875.0,1218.6 L1875.9,1217.1 L1876.9,1221.4 L1877.8,1223.9 L1878.8,1225.4 L1879.7,1225.6 L1880.7,1228.2 L1881.6,1229.7 L1882.6,1228.8 L1883.5,1231.1 L1884.5,1233.8 L1885.4,1232.9 L1886.4,1234.3 L1887.3,1235.2 L1888.3,1236.3 L1889.2,1237.1 L1890.2,1237.9 L1891.1,1237.4 L1892.1,1237.8 L1893.0,1237.8 L1894.0,1238.5 L1894.9,1238.5 L1895.9,1239.7 L1896.8,1239.9 L1897.7,1237.9 L1898.7,1237.1 L1899.6,1240.3 L1900.6,1239.4 L1901.5,1238.4 L1902.5,1241.4 L1903.4,1242.1 L1904.4,1239.3 L1905.3,1239.7 L1906.3,1240.1 L1907.2,1240.1 L1908.2,1240.9 L1909.1,1239.9 L1910.1,1241.2 L1911.0,1240.9 L1912.0,1242.6 L1912.9,1241.4 L1913.9,1242.6 L1914.8,1243.3 L1915.8,1242.3 L1916.7,1242.5 L1917.7,1241.3 L1918.6,1241.9 L1919.6,1244.5 L1920.5,1243.6 L1921.5,1242.1 L1922.4,1241.7 L1923.4,1242.0 L1924.3,1243.4 L1925.2,1240.0 L1926.2,1242.6 L1927.1,1240.9 L1928.1,1244.0 L1929.0,1240.9 L1930.0,1243.5 L1930.9,1242.2 L1931.9,1242.6 L1932.8,1244.4 L1933.8,1242.6 L1934.7,1243.4 L1935.7,1243.1 L1936.6,1241.4 L1937.6,1242.7 L1938.5,1243.9 L1939.5,1243.2 L1940.4,1243.1 L1941.4,1242.1 L1942.3,1244.6 L1943.3,1242.3 L1944.2,1244.9 L1945.2,1243.2 L1946.1,1243.8 L1947.1,1241.4 L1948.0,1243.2 L1949.0,1242.0 L1949.9,1243.2 L1950.8,1244.4 L1951.8,1243.5 L1952.7,1243.3 L1953.7,1244.1 L1954.6,1241.7 L1955.6,1243.1 L1956.5,1242.3 L1957.5,1244.2 L1958.4,1242.2 L1959.4,1244.7 L1960.3,1245.2 L1961.3,1240.5 L1962.2,1242.7 L1963.2,1241.1 L1964.1,1244.2 L1965.1,1241.8 L1966.0,1243.5 L1967.0,1243.1 L1967.9,1241.7 L1968.9,1241.0 L1969.8,1243.9 L1970.8,1242.0 L1971.7,1242.9 L1972.7,1244.2 L1973.6,1242.5 L1974.6,1242.2 L1975.5,1241.4 L1976.5,1243.0 L1977.4,1241.5 L1978.3,1240.5 L1979.3,1241.7 L1980.2,1241.7 L1981.2,1240.5 L1982.1,1242.0 L1983.1,1243.2 L1984.0,1242.9 L1985.0,1244.5 L1985.9,1243.4 L1986.9,1242.4 L1987.8,1239.9 L1988.8,1242.3 L1989.7,1243.4 L1990.7,1241.7 L1991.6,1243.6 L1992.6,1240.9 L1993.5,1242.2 L1994.5,1242.8 L1995.4,1243.8 L1996.4,1241.8 L1997.3,1244.0 L1998.3,1241.4 L1999.2,1239.8 L2000.2,1241.6 L2001.1,1243.2 L2002.1,1241.3 L2003.0,1243.5 L2004.0,1241.4 L2004.9,1243.7 L2005.8,1239.0 L2006.8,1244.1 L2007.7,1239.2 L2008.7,1241.4 L2009.6,1240.1 L2010.6,1241.7 L2011.5,1241.1 L2012.5,1241.0 L2013.4,1242.0 L2014.4,1242.3 L2015.3,1240.8 L2016.3,1242.6 L2017.2,1239.2 L2018.2,1239.9 L2019.1,1239.5 L2020.1,1241.6 L2021.0,1242.0 L2022.0,1240.5 L2022.9,1240.2 L2023.9,1239.5 L2024.8,1241.6 L2025.8,1242.1 L2026.7,1240.1 L2027.7,1240.5 L2028.6,1240.2 L2029.6,1240.6 L2030.5,1241.1 L2031.5,1238.1 L2032.4,1239.9 L2033.3,1241.4 L2034.3,1239.4 L2035.2,1241.9 L2036.2,1242.0 L2037.1,1239.3 L2038.1,1239.4 L2039.0,1241.8 L2040.0,1238.4 L2040.9,1239.0 L2041.9,1238.3 L2042.8,1240.2 L2043.8,1240.5 L2044.7,1240.6 L2045.7,1240.3 L2046.6,1238.4 L2047.6,1241.3 L2048.5,1239.8 L2049.5,1239.4 L2050.4,1241.8 L2051.4,1239.9 L2052.3,1240.1 L2053.3,1240.6 L2054.2,1241.9 L2055.2,1239.6 L2056.1,1240.3 L2057.1,1236.8 L2058.0,1238.3 L2059.0,1241.8 L2059.9,1241.6 L2060.8,1239.1 L2061.8,1238.2 L2062.7,1237.6 L2063.7,1237.8 L2064.6,1238.4 L2065.6,1237.0 L2066.5,1238.8 L2067.5,1238.7 L2068.4,1237.4 L2069.4,1237.3 L2070.3,1237.3 L2071.3,1238.0 L2072.2,1238.3 L2073.2,1239.1 L2074.1,1236.3 L2075.1,1237.8 L2076.0,1238.1 L2077.0,1238.3 L2077.9,1238.8 L2078.9,1237.2 L2079.8,1238.8 L2080.8,1239.8 L2081.7,1237.4 L2082.7,1238.4 L2083.6,1237.4 L2084.6,1236.4 L2085.5,1235.2 L2086.4,1235.3 L2087.4,1236.8 L2088.3,1233.9 L2089.3,1232.3 L2090.2,1232.0 L2091.2,1232.7 L2092.1,1230.3 L2093.1,1231.3 L2094.0,1230.4 L2095.0,1229.2 L2095.9,1230.2 L2096.9,1226.3 L2097.8,1226.9 L2098.8,1227.2 L2098.8,1227.8 L2099.7,1225.9 L2100.7,1227.0 L2101.6,1229.6 L2102.6,1228.2 L2103.5,1230.3 L2104.5,1229.6 L2105.4,1229.7 L2106.4,1231.8 L2107.3,1233.4 L2108.3,1232.5 L2109.2,1231.6 L2110.2,1232.7 L2111.1,1233.6 L2112.1,1234.2 L2113.0,1233.8 L2113.9,1236.0 L2114.9,1234.3 L2115.8,1236.8 L2116.8,1234.7 L2117.7,1234.9 L2118.7,1237.5 L2119.6,1237.1 L2120.6,1236.0 L2121.5,1235.8 L2122.5,1236.2 L2123.4,1236.6 L2124.4,1236.9 L2125.3,1237.8 L2126.3,1235.7 L2127.2,1236.6 L2128.2,1236.7 L2129.1,1235.1 L2130.1,1238.0 L2131.0,1238.5 L2132.0,1236.6 L2132.9,1234.6 L2133.9,1235.7 L2134.8,1237.6 L2135.8,1234.3 L2136.7,1234.3 L2137.7,1236.0 L2138.6,1237.0 L2139.6,1237.4 L2140.5,1237.6" fill="none" stroke="#ff0000" stroke-width="8" stroke-linejoin="round"/>
<path d="M244.0,1068.3 L244.9,1062.9 L245.9,1067.3 L246.8,1066.3 L247.8,1067.7 L248.7,1066.6 L249.7,1068.2 L250.6,1066.2 L251.6,1065.6 L252.5,1066.8 L253.5,1066.6 L254.4,1065.7 L255.4,1065.8 L256.3,1066.8 L257.3,1066.8 L258.2,1065.5 L259.2,1065.6 L260.1,1064.0 L261.1,1067.8 L262.0,1065.7 L263.0,1067.3 L263.9,1066.3 L264.9,1068.0 L265.8,1067.5 L266.8,1066.1 L267.7,1067.4 L268.7,1064.7 L269.6,1067.1 L270.6,1064.1 L271.5,1066.0 L272.4,1066.8 L273.4,1065.8 L274.3,1065.2 L275.3,1064.7 L276.2,1065.1 L277.2,1066.6 L278.1,1066.4 L279.1,1065.1 L280.0,1064.0 L281.0,1066.1 L281.9,1063.8 L282.9,1064.7 L283.8,1064.5 L284.8,1066.1 L285.7,1065.5 L286.7,1065.7 L287.6,1065.5 L288.6,1064.4 L289.5,1065.7 L290.5,1066.6 L291.4,1065.0 L292.4,1065.7 L293.3,1064.8 L294.3,1066.1 L295.2,1065.6 L296.2,1065.8 L297.1,1065.2 L298.1,1066.6 L299.0,1064.3 L299.9,1064.3 L300.9,1064.0 L301.8,1065.3 L302.8,1063.9 L303.7,1063.8 L304.7,1065.3 L305.6,1065.7 L306.6,1065.1 L307.5,1061.4 L308.5,1063.3 L309.4,1063.1 L310.4,1062.9 L311.3,1063.7 L312.3,1066.2 L313.2,1063.8 L314.2,1063.2 L315.1,1064.8 L316.1,1064.0 L317.0,1064.0 L318.0,1063.1 L318.9,1063.8 L319.9,1064.2 L320.8,1061.6 L321.8,1061.8 L322.7,1064.7 L323.7,1064.4 L324.6,1062.9 L325.5,1062.2 L326.5,1063.1 L327.4,1061.9 L328.4,1062.8 L329.3,1064.9 L330.3,1063.2 L331.2,1064.2 L332.2,1062.6 L333.1,1063.2 L334.1,1064.2 L335.0,1061.1 L336.0,1062.1 L336.9,1062.2 L337.9,1062.6 L338.8,1063.9 L339.8,1062.8 L340.7,1060.3 L341.7,1061.5 L342.6,1060.6 L343.6,1060.3 L344.5,1063.3 L345.5,1059.6 L346.4,1060.6 L347.4,1059.1 L348.3,1060.3 L349.3,1059.1 L350.2,1058.1 L351.2,1057.0 L352.1,1057.5 L353.0,1054.3 L354.0,1053.8 L354.9,1052.8 L355.9,1055.2 L355.9,1053.4 L356.8,1052.6 L357.8,1053.6 L358.7,1057.3 L359.7,1055.1 L360.6,1056.7 L361.6,1056.9 L362.5,1056.9 L363.5,1056.5 L364.4,1057.2 L365.4,1057.4 L366.3,1055.5 L367.3,1060.8 L368.2,1058.9 L369.2,1058.0 L370.1,1057.5 L371.1,1056.7 L372.0,1058.5 L373.0,1057.1 L373.9,1057.6 L374.9,1055.3 L375.8,1057.0 L376.8,1058.6 L377.7,1055.8 L378.7,1056.8 L379.6,1055.6 L380.5,1056.5 L381.5,1056.2 L382.4,1054.7 L383.4,1053.7 L384.3,1054.3 L385.3,1053.6 L386.2,1052.5 L387.2,1053.3 L388.1,1052.8 L389.1,1050.9 L390.0,1051.3 L391.0,1054.1 L391.9,1051.3 L392.9,1049.9 L393.8,1052.0 L394.8,1048.1 L395.7,1045.2 L396.7,1045.2 L397.6,1044.9 L398.6,1046.1 L399.5,1046.0 L400.5,1041.7 L401.4,1044.4 L402.4,1040.8 L403.3,1041.4 L404.3,1040.5 L405.2,1039.3 L406.2,1037.6 L407.1,1036.4 L408.0,1033.5 L409.0,1033.4 L409.9,1032.5 L410.9,1030.6 L411.8,1030.5 L412.8,1026.7 L413.7,1023.9 L414.7,1022.4 L415.6,1018.1 L416.6,1013.4 L417.5,1009.0 L418.5,1009.2 L419.4,1004.4 L420.4,1000.3 L421.3,994.1 L422.3,989.4 L423.2,985.0 L424.2,976.5 L425.1,967.3 L426.1,959.4 L427.0,951.7 L428.0,937.9 L428.9,923.6 L429.9,909.4 L430.8,893.8 L431.8,876.8 L432.7,853.6 L433.6,826.6 L434.6,795.6 L435.5,761.2 L436.5,719.5 L437.4,670.4 L438.4,614.6 L439.3,550.0 L440.3,481.7 L441.2,401.1 L442.2,327.7 L443.1,257.4 L444.1,206.6 L445.0,178.1 L445.4,176.3 L446.0,182.1 L446.9,214.8 L447.9,272.4 L448.8,341.0 L449.8,420.2 L450.7,494.2 L451.7,564.7 L452.6,628.5 L453.6,682.6 L454.5,730.7 L455.5,766.5 L456.4,802.4 L457.4,834.1 L458.3,857.1 L459.3,879.8 L460.2,900.6 L461.1,915.9 L462.1,928.0 L463.0,941.9 L464.0,952.9 L464.9,961.7 L465.9,970.0 L466.8,977.7 L467.8,982.5 L468.7,990.3 L469.7,994.4 L470.6,1000.7 L471.6,1005.1 L472.5,1007.6 L473.5,1012.8 L474.4,1015.8 L475.4,1018.3 L476.3,1021.9 L477.3,1023.2 L478.2,1025.6 L479.2,1028.1 L480.1,1029.9 L481.1,1033.0 L482.0,1030.8 L483.0,1034.7 L483.9,1034.2 L484.9,1037.2 L485.8,1039.3 L486.8,1040.2 L487.7,1042.4 L488.6,1042.7 L489.6,1040.3 L490.5,1043.0 L491.5,1046.8 L492.4,1047.6 L493.4,1046.7 L494.3,1045.6 L495.3,1050.4 L496.2,1046.4 L497.2,1049.6 L498.1,1049.8 L499.1,1050.6 L500.0,1049.6 L501.0,1050.9 L501.9,1053.0 L502.9,1051.8 L503.8,1051.2 L504.8,1053.1 L505.7,1053.6 L506.7,1053.7 L507.6,1053.3 L508.6,1055.1 L509.5,1054.7 L510.5,1053.9 L511.4,1055.8 L512.4,1055.8 L513.3,1056.3 L514.3,1054.5 L515.2,1055.8 L516.1,1057.5 L517.1,1058.2 L518.0,1057.8 L519.0,1057.9 L519.9,1058.7 L520.9,1059.3 L521.8,1060.3 L522.8,1059.1 L523.7,1058.2 L524.7,1059.5 L525.6,1057.1 L526.6,1059.5 L527.5,1059.1 L528.5,1059.7 L529.4,1060.5 L530.4,1060.1 L531.3,1058.7 L532.3,1060.0 L533.2,1059.7 L534.2,1060.7 L535.1,1061.2 L536.1,1059.9 L537.0,1061.9 L538.0,1062.7 L538.9,1061.1 L539.9,1062.3 L540.8,1060.0 L541.8,1061.2 L542.7,1062.9 L543.6,1060.0 L544.6,1061.5 L545.5,1061.2 L546.5,1063.6 L547.4,1063.7 L548.4,1061.8 L549.3,1062.7 L550.3,1059.8 L551.2,1063.7 L552.2,1063.3 L553.1,1064.4 L554.1,1060.4 L555.0,1063.5 L556.0,1062.9 L556.9,1060.4 L557.9,1062.6 L558.8,1063.4 L559.8,1064.4 L560.7,1063.9 L561.7,1063.1 L562.6,1064.3 L563.6,1063.7 L564.5,1063.2 L565.5,1062.9 L566.4,1064.2 L567.4,1064.3 L568.3,1066.2 L569.2,1063.8 L570.2,1066.1 L571.1,1064.8 L572.1,1065.8 L573.0,1063.5 L574.0,1063.6 L574.9,1064.3 L575.9,1065.7 L576.8,1064.9 L577.8,1065.6 L578.7,1065.2 L579.7,1066.1 L580.6,1065.2 L581.6,1064.4 L582.5,1065.6 L583.5,1065.2 L584.4,1067.1 L585.4,1065.0 L586.3,1065.4 L587.3,1065.0 L588.2,1066.6 L589.2,1066.4 L590.1,1066.2 L591.1,1064.1 L592.0,1063.9 L593.0,1065.9 L593.9,1066.4 L594.9,1067.3 L595.8,1063.7 L596.7,1065.5 L597.7,1063.9 L598.6,1064.7 L599.6,1065.6 L600.5,1066.9 L601.5,1065.3 L602.4,1065.1 L603.4,1065.6 L604.3,1067.3 L605.3,1068.6 L606.2,1064.3 L607.2,1065.7 L608.1,1065.6 L609.1,1067.3 L610.0,1066.6 L611.0,1067.8 L611.9,1065.0 L612.9,1066.1 L613.8,1065.6 L614.8,1064.9 L615.7,1065.9 L616.7,1064.8 L617.6,1068.5 L618.6,1066.5 L619.5,1065.0 L620.5,1065.4 L621.4,1067.9 L622.4,1065.4 L623.3,1066.7 L624.2,1066.5 L625.2,1067.0 L626.1,1066.4 L627.1,1065.3 L628.0,1064.7 L629.0,1063.3 L629.9,1065.0 L630.9,1064.9 L631.8,1064.1 L632.8,1064.0 L633.7,1062.4 L634.7,1065.7 L635.6,1062.2 L636.6,1061.0 L637.5,1060.9 L638.5,1060.6 L639.4,1060.8 L640.4,1056.4 L641.3,1058.7 L642.3,1056.4 L643.2,1055.8 L644.2,1056.0 L645.1,1054.5 L646.1,1051.8 L647.0,1051.3 L648.0,1052.3 L648.9,1050.7 L649.9,1049.2 L650.8,1047.5 L651.7,1048.0 L652.7,1047.0 L653.6,1045.9 L654.6,1045.5 L655.5,1047.6 L656.5,1048.1 L657.4,1049.9 L658.4,1049.0 L659.3,1052.2 L660.3,1051.4 L661.2,1054.4 L662.2,1054.9 L663.1,1054.9 L664.1,1055.7 L665.0,1057.7 L666.0,1058.7 L666.9,1061.0 L667.9,1060.2 L668.8,1060.2 L669.8,1062.6 L670.7,1065.5 L671.7,1065.8 L672.6,1063.9 L673.6,1064.8 L674.5,1065.9 L675.5,1065.3 L676.4,1066.1 L677.4,1066.4 L678.3,1065.8 L679.2,1066.5 L680.2,1066.9 L681.1,1067.8 L682.1,1066.4 L683.0,1068.0 L684.0,1067.0 L684.9,1067.3 L685.9,1067.0 L686.8,1072.8 L687.8,1069.8 L688.7,1070.0 L689.7,1069.5 L690.6,1068.5 L691.6,1068.9 L692.5,1069.2 L693.5,1069.4 L694.4,1069.6 L695.4,1070.7 L696.3,1065.8 L697.3,1068.6 L698.2,1070.0 L699.2,1068.9 L700.1,1069.1 L701.1,1071.0 L702.0,1069.6 L703.0,1071.4 L703.9,1069.5 L704.8,1069.8 L705.8,1068.4 L706.7,1067.5 L707.7,1069.2 L708.6,1069.8 L709.6,1069.4 L710.5,1068.3 L711.5,1070.6 L712.4,1070.0 L713.4,1069.9 L714.3,1069.1 L715.3,1071.8 L716.2,1071.7 L717.2,1070.4 L718.1,1070.0 L719.1,1070.4 L720.0,1072.0 L721.0,1073.3 L721.9,1070.3 L722.9,1069.8 L723.8,1068.3 L724.8,1073.4 L725.7,1069.2 L726.7,1071.4 L727.6,1071.0 L728.6,1071.9 L729.5,1069.5 L730.5,1068.7 L731.4,1070.7 L732.3,1071.0 L733.3,1071.9 L734.2,1068.8 L735.2,1070.2 L736.1,1070.4 L737.1,1069.2 L738.0,1070.5 L739.0,1071.5 L739.9,1070.5 L740.9,1068.9 L741.8,1070.8 L742.8,1071.3 L743.7,1070.8 L744.7,1071.0 L745.6,1068.3 L746.6,1070.5 L747.5,1070.6 L748.5,1069.5 L749.4,1069.8 L750.4,1068.9 L751.3,1071.0 L752.3,1069.3 L753.2,1068.5 L754.2,1069.7 L755.1,1069.5 L756.1,1070.1 L757.0,1068.3 L758.0,1068.4 L758.9,1069.5 L759.8,1071.5 L760.8,1069.5 L761.7,1067.4 L762.7,1069.0 L763.6,1067.9 L764.6,1066.6 L765.5,1067.8 L766.5,1067.9 L767.4,1068.9 L768.4,1069.8 L769.3,1069.6 L770.3,1069.1 L771.2,1067.7 L772.2,1068.2 L773.1,1068.0 L774.1,1069.5 L775.0,1067.1 L776.0,1067.2 L776.9,1069.3 L777.9,1068.2 L778.8,1067.0 L779.8,1067.6 L780.7,1067.5 L781.7,1067.5 L782.6,1068.1 L783.6,1067.5 L784.5,1066.9 L785.5,1066.4 L786.4,1065.0 L787.3,1066.3 L788.3,1068.0 L789.2,1066.9 L790.2,1065.9 L791.1,1066.2 L792.1,1065.5 L793.0,1066.6 L794.0,1068.5 L794.9,1068.1 L795.9,1067.4 L796.8,1066.8 L797.8,1065.7 L798.7,1064.4 L799.7,1065.7 L800.6,1065.1 L801.6,1066.5 L802.5,1065.6 L803.5,1064.7 L804.4,1065.8 L805.4,1068.4 L806.3,1064.1 L807.3,1066.3 L808.2,1065.6 L809.2,1064.7 L810.1,1063.9 L811.1,1064.7 L812.0,1064.8 L812.9,1065.3 L813.9,1065.1 L814.8,1064.6 L815.8,1063.4 L816.7,1064.4 L817.7,1063.4 L818.6,1062.7 L819.6,1064.7 L820.5,1062.9 L821.5,1062.2 L822.4,1063.5 L823.4,1061.2 L824.3,1063.1 L825.3,1063.6 L826.2,1062.5 L827.2,1063.1 L828.1,1065.1 L829.1,1064.2 L830.0,1063.5 L831.0,1063.0 L831.9,1061.7 L832.9,1062.1 L833.8,1061.9 L834.8,1062.2 L835.7,1062.3 L836.7,1061.2 L837.6,1063.9 L838.6,1060.9 L839.5,1062.4 L840.4,1063.1 L841.4,1061.9 L842.3,1061.2 L843.3,1061.9 L844.2,1063.9 L845.2,1062.4 L846.1,1061.3 L847.1,1062.2 L848.0,1061.3 L849.0,1059.3 L849.9,1061.6 L850.9,1062.3 L851.8,1062.4 L852.8,1060.9 L853.7,1059.3 L854.7,1062.0 L855.6,1060.3 L856.6,1061.1 L857.5,1061.4 L858.5,1060.3 L859.4,1059.6 L860.4,1058.8 L861.3,1058.7 L862.3,1058.9 L863.2,1058.0 L864.2,1058.6 L865.1,1055.6 L866.1,1056.2 L867.0,1056.8 L867.9,1055.6 L868.9,1055.1 L869.8,1053.8 L870.8,1055.0 L871.7,1055.2 L872.7,1051.4 L873.6,1052.7 L874.6,1048.7 L875.5,1049.1 L876.5,1045.3 L877.4,1046.4 L878.4,1044.1 L879.3,1042.2 L880.3,1041.3 L881.2,1038.2 L882.2,1035.0 L883.1,1031.5 L884.1,1029.8 L885.0,1026.3 L886.0,1024.1 L886.9,1024.0 L887.9,1021.5 L888.8,1019.6 L889.6,1019.4 L889.8,1017.1 L890.7,1018.8 L891.7,1017.4 L892.6,1019.6 L893.6,1022.0 L894.5,1023.5 L895.4,1025.3 L896.4,1026.0 L897.3,1026.9 L898.3,1027.5 L899.2,1029.3 L900.2,1029.0 L901.1,1025.1 L902.1,1025.6 L903.0,1024.9 L904.0,1020.7 L904.9,1018.0 L905.9,1013.2 L906.8,1008.1 L907.8,1004.5 L908.7,998.2 L909.7,992.2 L910.6,984.1 L911.6,977.3 L912.5,971.2 L913.5,963.5 L914.4,957.4 L915.4,948.8 L916.3,944.7 L917.3,939.4 L918.2,935.1 L919.2,933.5 L919.9,932.1 L920.1,932.0 L921.1,933.4 L922.0,934.9 L922.9,940.5 L923.9,946.9 L924.8,950.6 L925.8,960.0 L926.7,965.8 L927.7,973.3 L928.6,980.9 L929.6,987.9 L930.5,995.5 L931.5,999.7 L932.4,1007.0 L933.4,1009.8 L934.3,1014.2 L935.3,1017.6 L936.2,1018.7 L937.2,1020.0 L938.1,1022.6 L939.1,1023.7 L940.0,1023.7 L941.0,1021.7 L941.9,1022.8 L942.9,1019.0 L943.8,1016.4 L944.8,1016.2 L945.7,1014.1 L946.7,1009.8 L947.6,1010.3 L948.5,1007.2 L949.5,1008.8 L949.5,1011.2 L950.4,1011.2 L951.4,1012.5 L952.3,1015.1 L953.3,1016.8 L954.2,1021.6 L955.2,1025.5 L956.1,1027.6 L957.1,1032.5 L958.0,1036.2 L959.0,1039.0 L959.9,1042.1 L960.9,1043.9 L961.8,1045.3 L962.8,1048.7 L963.7,1048.4 L964.7,1051.4 L965.6,1054.9 L966.6,1057.1 L967.5,1056.8 L968.5,1054.8 L969.4,1059.9 L970.4,1059.9 L971.3,1059.9 L972.3,1061.6 L973.2,1062.1 L974.2,1060.8 L975.1,1061.2 L976.0,1064.3 L977.0,1061.1 L977.9,1064.7 L978.9,1064.8 L979.8,1066.0 L980.8,1067.2 L981.7,1067.0 L982.7,1067.6 L983.6,1067.1 L984.6,1067.0 L985.5,1067.9 L986.5,1067.0 L987.4,1066.2 L988.4,1067.4 L989.3,1065.9 L990.3,1067.3 L991.2,1070.4 L992.2,1068.9 L993.1,1068.3 L994.1,1068.0 L995.0,1066.9 L996.0,1068.4 L996.9,1068.3 L997.9,1069.3 L998.8,1069.5 L999.8,1069.5 L1000.7,1067.6 L1001.7,1071.4 L1002.6,1070.4 L1003.5,1070.1 L1004.5,1069.8 L1005.4,1070.8 L1006.4,1071.8 L1007.3,1071.2 L1008.3,1069.4 L1009.2,1069.4 L1010.2,1068.2 L1011.1,1071.1 L1012.1,1071.8 L1013.0,1072.5 L1014.0,1071.4 L1014.9,1072.2 L1015.9,1070.4 L1016.8,1072.0 L1017.8,1071.4 L1018.7,1070.9 L1019.7,1069.9 L1020.6,1073.1 L1021.6,1069.4 L1022.5,1072.6 L1023.5,1071.1 L1024.4,1072.7 L1025.4,1071.4 L1026.3,1072.9 L1027.3,1071.9 L1028.2,1071.0 L1029.2,1071.6 L1030.1,1070.4 L1031.0,1072.5 L1032.0,1073.4 L1032.9,1072.7 L1033.9,1072.4 L1034.8,1073.7 L1035.8,1071.0 L1036.7,1073.0 L1037.7,1072.4 L1038.6,1071.9 L1039.6,1073.0 L1040.5,1071.2 L1041.5,1072.3 L1042.4,1072.8 L1043.4,1071.2 L1044.3,1072.3 L1045.3,1073.1 L1046.2,1073.6 L1047.2,1071.5 L1048.1,1073.6 L1049.1,1072.3 L1050.0,1072.7 L1051.0,1072.0 L1051.9,1073.5 L1052.9,1071.9 L1053.8,1073.0 L1054.8,1073.1 L1055.7,1073.5 L1056.7,1071.6 L1057.6,1073.6 L1058.5,1072.8 L1059.5,1074.3 L1060.4,1072.4 L1061.4,1072.1 L1062.3,1072.7 L1063.3,1072.4 L1064.2,1072.6 L1065.2,1071.4 L1066.1,1070.5 L1067.1,1071.2 L1068.0,1072.2 L1069.0,1073.3 L1069.9,1072.5 L1070.9,1071.8 L1071.8,1072.7 L1072.8,1072.9 L1073.7,1075.9 L1074.7,1074.3 L1075.6,1073.1 L1076.6,1071.3 L1077.5,1072.7 L1078.5,1072.6 L1079.4,1073.5 L1080.4,1075.3 L1081.3,1072.9 L1082.3,1070.8 L1083.2,1072.8 L1084.1,1071.1 L1085.1,1073.9 L1086.0,1074.2 L1087.0,1073.3 L1087.9,1071.3 L1088.9,1072.8 L1089.8,1074.3 L1090.8,1071.9 L1091.7,1072.4 L1092.7,1073.3 L1093.6,1073.6 L1094.6,1073.1 L1095.5,1073.4 L1096.5,1073.3 L1097.4,1072.4 L1098.4,1072.9 L1099.3,1073.4 L1100.3,1071.8 L1101.2,1073.3 L1102.2,1073.2 L1103.1,1073.6 L1104.1,1073.4 L1105.0,1071.9 L1106.0,1071.7 L1106.9,1073.3 L1107.9,1072.9 L1108.8,1073.2 L1109.8,1072.5 L1110.7,1071.7 L1111.6,1073.4 L1112.6,1072.9 L1113.5,1073.8 L1114.5,1074.3 L1115.4,1074.3 L1116.4,1074.2 L1117.3,1072.0 L1118.3,1070.8 L1119.2,1072.4 L1120.2,1071.8 L1121.1,1071.6 L1122.1,1073.8 L1123.0,1071.3 L1124.0,1074.1 L1124.9,1074.3 L1125.9,1076.0 L1126.8,1074.2 L1127.8,1075.4 L1128.7,1072.4 L1129.7,1072.3 L1130.6,1074.2 L1131.6,1071.6 L1132.5,1074.3 L1133.5,1072.8 L1134.4,1070.9 L1135.4,1075.1 L1136.3,1071.9 L1137.3,1075.8 L1138.2,1071.5 L1139.1,1072.2 L1140.1,1073.3 L1141.0,1073.1 L1142.0,1071.3 L1142.9,1073.2 L1143.9,1073.3 L1144.8,1073.6 L1145.8,1071.3 L1146.7,1072.4 L1147.7,1073.0 L1148.6,1074.0 L1149.6,1073.3 L1150.5,1072.7 L1151.5,1072.6 L1152.4,1074.7 L1153.4,1072.2 L1154.3,1073.4 L1155.3,1070.7 L1156.2,1074.9 L1157.2,1073.6 L1158.1,1071.1 L1159.1,1073.7 L1160.0,1074.6 L1161.0,1073.9 L1161.9,1073.1 L1162.9,1074.0 L1163.8,1072.2 L1164.8,1072.7 L1165.7,1072.6 L1166.6,1073.1 L1167.6,1071.9 L1168.5,1074.5 L1169.5,1072.9 L1170.4,1071.8 L1171.4,1072.8 L1172.3,1073.4 L1173.3,1073.0 L1174.2,1074.2 L1175.2,1072.6 L1176.1,1072.1 L1177.1,1073.5 L1178.0,1074.4 L1179.0,1071.9 L1179.9,1071.2 L1180.9,1072.2 L1181.8,1072.8 L1182.8,1071.8 L1183.7,1073.1 L1184.7,1072.0 L1185.6,1073.9 L1186.6,1071.6 L1187.5,1071.9 L1188.5,1072.9 L1189.4,1073.6 L1190.4,1073.9 L1191.3,1072.1 L1192.2,1072.8 L1193.2,1073.4 L1194.1,1074.4 L1195.1,1071.8 L1196.0,1071.5 L1197.0,1073.4 L1197.9,1072.5 L1198.9,1074.3 L1199.8,1072.8 L1200.8,1073.2 L1201.7,1071.9 L1202.7,1073.1 L1203.6,1074.2 L1204.6,1072.5 L1205.5,1071.5 L1206.5,1073.8 L1207.4,1072.4 L1208.4,1072.8 L1209.3,1072.0 L1210.3,1073.8 L1211.2,1071.9 L1212.2,1072.2 L1213.1,1072.8 L1214.1,1072.5 L1215.0,1070.3 L1216.0,1073.2 L1216.9,1071.4 L1217.9,1073.0 L1218.8,1072.3 L1219.7,1072.5 L1220.7,1071.8 L1221.6,1071.5 L1222.6,1072.8 L1223.5,1072.9 L1224.5,1073.7 L1225.4,1073.2 L1226.4,1071.8 L1227.3,1073.8 L1228.3,1074.9 L1229.2,1073.3 L1230.2,1072.3 L1231.1,1071.4 L1232.1,1072.5 L1233.0,1070.8 L1234.0,1073.2 L1234.9,1071.9 L1235.9,1071.7 L1236.8,1072.6 L1237.8,1070.9 L1238.7,1070.3 L1239.7,1071.7 L1240.6,1073.5 L1241.6,1071.2 L1242.5,1073.0 L1243.5,1070.0 L1244.4,1071.9 L1245.4,1072.5 L1246.3,1073.8 L1247.2,1069.9 L1248.2,1071.7 L1249.1,1070.7 L1250.1,1071.9 L1251.0,1070.9 L1252.0,1071.6 L1252.9,1070.6 L1253.9,1070.7 L1254.8,1071.7 L1255.8,1072.8 L1256.7,1071.3 L1257.7,1071.1 L1258.6,1070.3 L1259.6,1072.5 L1260.5,1068.5 L1261.5,1068.3 L1262.4,1069.5 L1263.4,1070.7 L1264.3,1071.1 L1265.3,1070.5 L1266.2,1070.5 L1267.2,1069.7 L1268.1,1068.8 L1269.1,1067.9 L1270.0,1069.4 L1271.0,1067.6 L1271.9,1068.8 L1272.9,1068.9 L1273.8,1067.1 L1274.7,1067.0 L1275.7,1066.5 L1276.6,1067.4 L1277.6,1066.4 L1278.5,1065.0 L1279.5,1065.5 L1280.4,1066.2 L1281.4,1064.2 L1282.3,1063.2 L1283.3,1061.7 L1284.2,1060.0 L1285.2,1059.7 L1286.1,1058.3 L1287.1,1056.1 L1288.0,1055.6 L1289.0,1051.6 L1289.9,1048.7 L1290.9,1045.7 L1291.8,1042.1 L1292.8,1034.9 L1293.7,1031.9 L1294.7,1027.0 L1295.6,1017.7 L1296.6,1011.8 L1297.5,1002.6 L1298.5,993.1 L1299.4,984.8 L1300.4,974.3 L1301.3,961.6 L1302.2,952.5 L1303.2,943.5 L1304.1,931.8 L1305.1,922.2 L1306.0,914.6 L1307.0,908.1 L1307.9,905.2 L1308.9,901.7 L1309.1,901.3 L1309.8,903.8 L1310.8,907.8 L1311.7,913.0 L1312.7,920.6 L1313.6,927.9 L1314.6,936.9 L1315.5,948.2 L1316.5,959.7 L1317.4,968.5 L1318.4,980.4 L1319.3,991.2 L1320.3,999.0 L1321.2,1010.5 L1322.2,1017.0 L1323.1,1021.9 L1324.1,1028.3 L1325.0,1034.3 L1326.0,1040.7 L1326.9,1044.7 L1327.8,1047.3 L1328.8,1051.2 L1329.7,1054.5 L1330.7,1056.5 L1331.6,1056.1 L1332.6,1058.3 L1333.5,1059.9 L1334.5,1060.2 L1335.4,1064.0 L1336.4,1063.3 L1337.3,1064.0 L1338.3,1064.5 L1339.2,1066.3 L1340.2,1067.1 L1341.1,1067.7 L1342.1,1068.8 L1343.0,1066.8 L1344.0,1069.9 L1344.9,1071.2 L1345.9,1068.2 L1346.8,1068.7 L1347.8,1070.0 L1348.7,1070.9 L1349.7,1069.5 L1350.6,1069.2 L1351.6,1072.5 L1352.5,1069.9 L1353.5,1067.6 L1354.4,1071.4 L1355.3,1072.0 L1356.3,1073.0 L1357.2,1073.2 L1358.2,1074.8 L1359.1,1070.9 L1360.1,1070.6 L1361.0,1070.2 L1362.0,1073.7 L1362.9,1071.5 L1363.9,1070.2 L1364.8,1069.9 L1365.8,1072.4 L1366.7,1071.8 L1367.7,1072.7 L1368.6,1071.5 L1369.6,1071.7 L1370.5,1073.1 L1371.5,1072.5 L1372.4,1073.4 L1373.4,1072.7 L1374.3,1072.6 L1375.3,1073.3 L1376.2,1072.6 L1377.2,1073.2 L1378.1,1073.6 L1379.1,1072.6 L1380.0,1073.0 L1381.0,1073.3 L1381.9,1074.0 L1382.8,1073.6 L1383.8,1073.6 L1384.7,1073.9 L1385.7,1073.1 L1386.6,1073.8 L1387.6,1072.7 L1388.5,1071.5 L1389.5,1074.0 L1390.4,1071.4 L1391.4,1073.4 L1392.3,1075.3 L1393.3,1074.4 L1394.2,1072.5 L1395.2,1074.5 L1396.1,1074.0 L1397.1,1072.8 L1398.0,1073.6 L1399.0,1073.2 L1399.9,1073.4 L1400.9,1074.2 L1401.8,1072.1 L1402.8,1074.7 L1403.7,1076.0 L1404.7,1073.7 L1405.6,1072.8 L1406.6,1073.4 L1407.5,1075.2 L1408.5,1073.3 L1409.4,1074.4 L1410.3,1076.4 L1411.3,1073.1 L1412.2,1074.0 L1413.2,1073.3 L1414.1,1073.5 L1415.1,1074.1 L1416.0,1073.1 L1417.0,1074.4 L1417.9,1074.1 L1418.9,1075.2 L1419.8,1074.7 L1420.8,1074.4 L1421.7,1075.6 L1422.7,1073.7 L1423.6,1074.6 L1424.6,1073.2 L1425.5,1075.5 L1426.5,1073.1 L1427.4,1075.0 L1428.4,1073.1 L1429.3,1074.1 L1430.3,1072.7 L1431.2,1073.1 L1432.2,1072.8 L1433.1,1074.3 L1434.1,1074.4 L1435.0,1074.7 L1436.0,1074.3 L1436.9,1073.6 L1437.8,1074.5 L1438.8,1075.5 L1439.7,1073.4 L1440.7,1072.9 L1441.6,1074.3 L1442.6,1075.9 L1443.5,1073.6 L1444.5,1073.3 L1445.4,1072.5 L1446.4,1072.8 L1447.3,1072.5 L1448.3,1072.5 L1449.2,1074.6 L1450.2,1074.8 L1451.1,1073.5 L1452.1,1073.5 L1453.0,1074.2 L1454.0,1073.3 L1454.9,1073.4 L1455.9,1073.8 L1456.8,1073.1 L1457.8,1074.5 L1458.7,1076.6 L1459.7,1073.0 L1460.6,1073.2 L1461.6,1071.9 L1462.5,1072.3 L1463.4,1072.8 L1464.4,1073.1 L1465.3,1072.3 L1466.3,1071.1 L1467.2,1072.8 L1468.2,1071.7 L1469.1,1072.6 L1470.1,1071.8 L1471.0,1071.8 L1472.0,1071.7 L1472.9,1069.4 L1473.9,1072.9 L1474.8,1070.4 L1475.8,1071.7 L1476.7,1071.8 L1477.7,1070.4 L1478.6,1069.4 L1479.6,1071.3 L1480.5,1069.5 L1481.5,1070.2 L1482.4,1070.6 L1483.4,1069.4 L1484.3,1067.8 L1485.3,1068.7 L1486.2,1069.7 L1487.2,1068.0 L1488.1,1069.6 L1489.1,1066.7 L1490.0,1067.0 L1490.9,1065.8 L1491.9,1066.3 L1492.8,1068.7 L1493.8,1067.2 L1494.7,1065.9 L1495.7,1065.1 L1496.6,1066.5 L1497.6,1064.6 L1498.5,1063.1 L1499.5,1065.3 L1500.4,1061.6 L1501.4,1062.5 L1502.3,1062.3 L1503.3,1061.9 L1504.2,1062.2 L1505.2,1060.0 L1506.1,1057.4 L1507.1,1058.3 L1508.0,1056.3 L1509.0,1053.3 L1509.9,1052.2 L1510.9,1051.0 L1511.8,1047.9 L1512.8,1049.0 L1513.7,1047.2 L1514.7,1045.1 L1515.6,1041.4 L1516.6,1039.7 L1517.5,1038.4 L1518.4,1034.6 L1519.4,1030.8 L1520.3,1026.8 L1521.3,1023.8 L1522.2,1021.3 L1523.2,1015.8 L1524.1,1013.9 L1525.1,1009.6 L1526.0,1003.2 L1527.0,996.3 L1527.9,993.6 L1528.9,991.5 L1529.8,986.4 L1530.8,983.8 L1531.7,983.1 L1532.7,985.4 L1533.6,982.4 L1534.6,982.1 L1535.5,986.7 L1536.5,989.7 L1537.4,993.5 L1538.4,996.4 L1539.3,1000.6 L1540.3,1003.6 L1541.2,1008.9 L1542.2,1011.4 L1543.1,1015.4 L1544.1,1017.1 L1545.0,1022.3 L1545.9,1023.5 L1546.9,1025.0 L1547.8,1027.4 L1548.8,1027.8 L1549.7,1029.6 L1550.7,1032.3 L1551.6,1032.8 L1552.6,1033.5 L1553.5,1033.6 L1554.5,1032.6 L1555.4,1032.7 L1556.4,1034.1 L1557.3,1031.1 L1558.3,1028.5 L1559.2,1028.8 L1560.2,1026.7 L1561.1,1025.1 L1562.1,1023.0 L1563.0,1019.3 L1564.0,1018.0 L1564.9,1014.2 L1565.9,1011.7 L1566.8,1006.6 L1567.8,1002.5 L1568.7,999.3 L1569.7,997.7 L1570.6,990.3 L1571.5,990.2 L1572.5,986.3 L1573.4,985.6 L1574.4,982.7 L1575.3,983.4 L1576.3,984.1 L1577.2,987.8 L1578.2,987.9 L1579.1,991.7 L1580.1,994.4 L1581.0,999.8 L1582.0,1003.1 L1582.9,1008.4 L1583.9,1013.4 L1584.8,1017.9 L1585.8,1020.4 L1586.7,1024.4 L1587.7,1030.3 L1588.6,1031.8 L1589.6,1035.8 L1590.5,1038.2 L1591.5,1039.4 L1592.4,1043.5 L1593.4,1045.7 L1594.3,1049.8 L1595.3,1047.7 L1596.2,1051.0 L1597.2,1053.8 L1598.1,1054.0 L1599.0,1053.6 L1600.0,1057.9 L1600.9,1058.5 L1601.9,1058.5 L1602.8,1059.3 L1603.8,1060.5 L1604.7,1062.3 L1605.7,1062.7 L1606.6,1062.9 L1607.6,1064.7 L1608.5,1066.1 L1609.5,1064.9 L1610.4,1067.8 L1611.4,1066.7 L1612.3,1067.8 L1613.3,1068.0 L1614.2,1068.5 L1615.2,1068.7 L1616.1,1066.3 L1617.1,1068.1 L1618.0,1070.5 L1619.0,1068.7 L1619.9,1070.3 L1620.9,1068.7 L1621.8,1070.0 L1622.8,1072.6 L1623.7,1071.5 L1624.7,1070.5 L1625.6,1071.0 L1626.5,1070.0 L1627.5,1072.6 L1628.4,1072.0 L1629.4,1073.3 L1630.3,1073.5 L1631.3,1072.5 L1632.2,1072.0 L1633.2,1071.8 L1634.1,1072.9 L1635.1,1073.5 L1636.0,1075.1 L1637.0,1072.7 L1637.9,1074.4 L1638.9,1072.9 L1639.8,1073.5 L1640.8,1075.1 L1641.7,1074.9 L1642.7,1073.9 L1643.6,1073.9 L1644.6,1075.9 L1645.5,1074.6 L1646.5,1074.5 L1647.4,1073.8 L1648.4,1077.8 L1649.3,1077.1 L1650.3,1075.8 L1651.2,1077.7 L1652.2,1075.9 L1653.1,1075.1 L1654.0,1076.1 L1655.0,1077.1 L1655.9,1074.4 L1656.9,1077.1 L1657.8,1077.1 L1658.8,1077.5 L1659.7,1076.4 L1660.7,1077.2 L1661.6,1074.1 L1662.6,1076.0 L1663.5,1077.2 L1664.5,1076.8 L1665.4,1076.5 L1666.4,1074.9 L1667.3,1076.1 L1668.3,1074.5 L1669.2,1076.1 L1670.2,1076.8 L1671.1,1075.9 L1672.1,1077.0 L1673.0,1076.6 L1674.0,1077.6 L1674.9,1076.2 L1675.9,1074.9 L1676.8,1075.3 L1677.8,1075.9 L1678.7,1076.7 L1679.7,1076.9 L1680.6,1076.0 L1681.5,1077.0 L1682.5,1076.1 L1683.4,1077.6 L1684.4,1075.5 L1685.3,1078.2 L1686.3,1077.3 L1687.2,1076.6 L1688.2,1075.9 L1689.1,1077.7 L1690.1,1076.4 L1691.0,1077.8 L1692.0,1079.2 L1692.9,1077.4 L1693.9,1077.5 L1694.8,1077.8 L1695.8,1076.7 L1696.7,1079.4 L1697.7,1077.1 L1698.6,1078.1 L1699.6,1077.7 L1700.5,1076.8 L1701.5,1078.9 L1702.4,1077.9 L1703.4,1076.8 L1704.3,1076.8 L1705.3,1075.4 L1706.2,1076.4 L1707.1,1078.5 L1708.1,1078.5 L1709.0,1076.6 L1710.0,1078.3 L1710.9,1078.7 L1711.9,1078.5 L1712.8,1079.0 L1713.8,1075.6 L1714.7,1077.9 L1715.7,1076.6 L1716.6,1078.4 L1717.6,1076.9 L1718.5,1077.8 L1719.5,1078.7 L1720.4,1076.0 L1721.4,1077.0 L1722.3,1077.0 L1723.3,1077.7 L1724.2,1076.0 L1725.2,1078.6 L1726.1,1079.8 L1727.1,1077.4 L1728.0,1078.3 L1729.0,1074.8 L1729.9,1076.4 L1730.9,1078.4 L1731.8,1078.0 L1732.8,1078.4 L1733.7,1079.2 L1734.6,1077.8 L1735.6,1077.4 L1736.5,1077.2 L1737.5,1077.8 L1738.4,1075.4 L1739.4,1079.3 L1740.3,1075.3 L1741.3,1076.0 L1742.2,1077.8 L1743.2,1078.7 L1744.1,1078.3 L1745.1,1079.3 L1746.0,1077.2 L1747.0,1077.0 L1747.9,1078.3 L1748.9,1076.4 L1749.8,1077.9 L1750.8,1078.2 L1751.7,1078.0 L1752.7,1075.4 L1753.6,1077.4 L1754.6,1075.4 L1755.5,1078.6 L1756.5,1077.2 L1757.4,1078.7 L1758.4,1079.1 L1759.3,1076.1 L1760.3,1078.6 L1761.2,1078.1 L1762.1,1079.3 L1763.1,1076.2 L1764.0,1076.2 L1765.0,1076.8 L1765.9,1075.6 L1766.9,1077.8 L1767.8,1076.8 L1768.8,1077.8 L1769.7,1078.0 L1770.7,1078.6 L1771.6,1076.2 L1772.6,1078.4 L1773.5,1078.4 L1774.5,1076.5 L1775.4,1076.9 L1776.4,1076.0 L1777.3,1078.9 L1778.3,1079.1 L1779.2,1076.7 L1780.2,1077.5 L1781.1,1078.0 L1782.1,1078.3 L1783.0,1077.5 L1784.0,1079.3 L1784.9,1076.5 L1785.9,1078.4 L1786.8,1077.6 L1787.8,1077.8 L1788.7,1076.6 L1789.6,1075.5 L1790.6,1076.8 L1791.5,1077.9 L1792.5,1076.5 L1793.4,1075.5 L1794.4,1077.1 L1795.3,1077.3 L1796.3,1076.2 L1797.2,1077.1 L1798.2,1077.6 L1799.1,1077.4 L1800.1,1078.1 L1801.0,1078.4 L1802.0,1077.0 L1802.9,1076.1 L1803.9,1075.0 L1804.8,1078.0 L1805.8,1077.2 L1806.7,1077.8 L1807.7,1075.8 L1808.6,1076.7 L1809.6,1075.6 L1810.5,1075.4 L1811.5,1074.7 L1812.4,1075.9 L1813.4,1076.6 L1814.3,1076.8 L1815.3,1076.0 L1816.2,1075.3 L1817.1,1077.6 L1818.1,1076.9 L1819.0,1076.1 L1820.0,1074.9 L1820.9,1075.8 L1821.9,1073.2 L1822.8,1072.3 L1823.8,1074.0 L1824.7,1073.0 L1825.7,1073.4 L1826.6,1070.9 L1827.6,1071.4 L1828.5,1069.3 L1829.5,1069.3 L1830.4,1069.3 L1831.4,1067.9 L1832.3,1066.0 L1833.3,1064.5 L1834.2,1064.6 L1835.2,1063.0 L1836.1,1061.3 L1837.1,1061.9 L1838.0,1059.8 L1839.0,1061.1 L1839.9,1061.1 L1840.9,1059.2 L1841.8,1060.3 L1842.7,1055.3 L1843.7,1054.2 L1844.6,1055.6 L1845.6,1053.5 L1846.5,1055.3 L1847.5,1055.9 L1848.4,1055.5 L1849.4,1055.3 L1850.3,1053.5 L1851.3,1053.0 L1852.2,1052.4 L1853.2,1051.0 L1854.1,1050.7 L1855.1,1047.6 L1856.0,1046.0 L1857.0,1043.0 L1857.9,1042.3 L1858.9,1038.6 L1859.8,1035.6 L1860.8,1031.8 L1861.7,1027.2 L1862.7,1025.8 L1863.6,1021.4 L1864.6,1021.8 L1865.5,1019.5 L1866.3,1022.1 L1866.5,1020.0 L1867.4,1021.6 L1868.4,1022.9 L1869.3,1024.7 L1870.2,1027.4 L1871.2,1029.8 L1872.1,1035.5 L1873.1,1037.6 L1874.0,1044.6 L1875.0,1045.3 L1875.9,1049.1 L1876.9,1052.6 L1877.8,1055.0 L1878.8,1058.8 L1879.7,1059.5 L1880.7,1060.9 L1881.6,1063.0 L1882.6,1066.3 L1883.5,1066.8 L1884.5,1065.0 L1885.4,1067.9 L1886.4,1068.1 L1887.3,1069.9 L1888.3,1071.4 L1889.2,1071.3 L1890.2,1072.6 L1891.1,1074.3 L1892.1,1071.1 L1893.0,1073.4 L1894.0,1073.9 L1894.9,1074.7 L1895.9,1074.6 L1896.8,1075.8 L1897.7,1075.1 L1898.7,1075.9 L1899.6,1073.9 L1900.6,1076.1 L1901.5,1074.8 L1902.5,1076.9 L1903.4,1078.4 L1904.4,1076.6 L1905.3,1077.3 L1906.3,1077.8 L1907.2,1078.6 L1908.2,1078.1 L1909.1,1078.8 L1910.1,1077.0 L1911.0,1077.6 L1912.0,1076.2 L1912.9,1080.3 L1913.9,1076.7 L1914.8,1079.1 L1915.8,1078.3 L1916.7,1078.4 L1917.7,1077.1 L1918.6,1078.4 L1919.6,1078.6 L1920.5,1079.0 L1921.5,1078.3 L1922.4,1079.0 L1923.4,1077.7 L1924.3,1080.2 L1925.2,1078.2 L1926.2,1082.9 L1927.1,1078.7 L1928.1,1078.4 L1929.0,1079.3 L1930.0,1079.0 L1930.9,1080.4 L1931.9,1080.6 L1932.8,1078.6 L1933.8,1078.6 L1934.7,1078.6 L1935.7,1080.0 L1936.6,1080.6 L1937.6,1080.3 L1938.5,1079.4 L1939.5,1079.7 L1940.4,1080.4 L1941.4,1081.1 L1942.3,1079.7 L1943.3,1081.1 L1944.2,1079.4 L1945.2,1080.0 L1946.1,1081.1 L1947.1,1079.0 L1948.0,1078.0 L1949.0,1078.7 L1949.9,1079.8 L1950.8,1078.9 L1951.8,1079.8 L1952.7,1081.4 L1953.7,1079.5 L1954.6,1081.3 L1955.6,1080.8 L1956.5,1078.6 L1957.5,1080.8 L1958.4,1080.7 L1959.4,1080.8 L1960.3,1079.9 L1961.3,1079.9 L1962.2,1079.0 L1963.2,1078.6 L1964.1,1079.4 L1965.1,1080.2 L1966.0,1078.8 L1967.0,1081.2 L1967.9,1078.9 L1968.9,1079.7 L1969.8,1077.8 L1970.8,1080.9 L1971.7,1080.0 L1972.7,1080.6 L1973.6,1077.8 L1974.6,1080.7 L1975.5,1079.6 L1976.5,1078.4 L1977.4,1078.5 L1978.3,1077.3 L1979.3,1078.7 L1980.2,1079.8 L1981.2,1077.9 L1982.1,1079.2 L1983.1,1077.4 L1984.0,1075.8 L1985.0,1078.4 L1985.9,1080.2 L1986.9,1079.9 L1987.8,1077.8 L1988.8,1079.8 L1989.7,1079.5 L1990.7,1078.8 L1991.6,1077.9 L1992.6,1079.3 L1993.5,1078.1 L1994.5,1077.7 L1995.4,1079.3 L1996.4,1077.3 L1997.3,1078.8 L1998.3,1079.6 L1999.2,1077.2 L2000.2,1078.0 L2001.1,1078.4 L2002.1,1075.8 L2003.0,1077.2 L2004.0,1077.0 L2004.9,1077.0 L2005.8,1076.6 L2006.8,1078.9 L2007.7,1076.5 L2008.7,1077.3 L2009.6,1078.0 L2010.6,1079.0 L2011.5,1075.5 L2012.5,1075.8 L2013.4,1076.0 L2014.4,1076.8 L2015.3,1078.1 L2016.3,1076.8 L2017.2,1077.1 L2018.2,1078.6 L2019.1,1076.5 L2020.1,1077.0 L2021.0,1078.9 L2022.0,1077.6 L2022.9,1076.0 L2023.9,1075.9 L2024.8,1077.8 L2025.8,1075.3 L2026.7,1075.5 L2027.7,1077.3 L2028.6,1077.8 L2029.6,1078.1 L2030.5,1075.2 L2031.5,1076.8 L2032.4,1072.5 L2033.3,1075.2 L2034.3,1079.3 L2035.2,1077.7 L2036.2,1076.7 L2037.1,1074.9 L2038.1,1074.5 L2039.0,1077.0 L2040.0,1075.6 L2040.9,1074.8 L2041.9,1076.4 L2042.8,1076.3 L2043.8,1074.8 L2044.7,1075.0 L2045.7,1077.8 L2046.6,1074.3 L2047.6,1076.4 L2048.5,1074.5 L2049.5,1074.2 L2050.4,1074.0 L2051.4,1074.9 L2052.3,1075.0 L2053.3,1075.7 L2054.2,1074.0 L2055.2,1075.2 L2056.1,1074.1 L2057.1,1073.9 L2058.0,1075.3 L2059.0,1075.0 L2059.9,1072.8 L2060.8,1074.5 L2061.8,1072.3 L2062.7,1073.0 L2063.7,1075.9 L2064.6,1075.5 L2065.6,1073.7 L2066.5,1074.5 L2067.5,1075.1 L2068.4,1075.5 L2069.4,1075.4 L2070.3,1072.6 L2071.3,1073.2 L2072.2,1073.3 L2073.2,1070.4 L2074.1,1072.0 L2075.1,1073.1 L2076.0,1072.3 L2077.0,1071.6 L2077.9,1070.8 L2078.9,1071.1 L2079.8,1071.4 L2080.8,1070.8 L2081.7,1072.0 L2082.7,1071.1 L2083.6,1068.3 L2084.6,1070.1 L2085.5,1068.5 L2086.4,1068.5 L2087.4,1066.1 L2088.3,1066.9 L2089.3,1064.2 L2090.2,1065.0 L2091.2,1062.7 L2092.1,1061.3 L2093.1,1059.0 L2094.0,1057.5 L2095.0,1059.2 L2095.9,1056.1 L2096.9,1055.3 L2097.8,1056.6 L2098.8,1056.0 L2098.8,1056.6 L2099.7,1054.6 L2100.7,1054.1 L2101.6,1056.1 L2102.6,1059.0 L2103.5,1058.8 L2104.5,1060.3 L2105.4,1061.5 L2106.4,1062.2 L2107.3,1063.2 L2108.3,1063.7 L2109.2,1065.1 L2110.2,1066.0 L2111.1,1065.7 L2112.1,1067.7 L2113.0,1067.7 L2113.9,1068.1 L2114.9,1068.4 L2115.8,1069.9 L2116.8,1069.1 L2117.7,1070.8 L2118.7,1068.6 L2119.6,1070.5 L2120.6,1068.3 L2121.5,1070.2 L2122.5,1069.7 L2123.4,1069.8 L2124.4,1069.2 L2125.3,1070.4 L2126.3,1071.0 L2127.2,1068.4 L2128.2,1070.3 L2129.1,1070.7 L2130.1,1071.1 L2131.0,1070.9 L2132.0,1069.3 L2132.9,1071.5 L2133.9,1069.5 L2134.8,1071.0 L2135.8,1070.6 L2136.7,1069.8 L2137.7,1069.4 L2138.6,1070.1 L2139.6,1071.9 L2140.5,1071.0" fill="none" stroke="#0000ff" stroke-width="8" stroke-linejoin="round"/>
<path d="M244.0,912.5 L244.9,910.7 L245.9,910.0 L246.8,908.5 L247.8,911.3 L248.7,913.1 L249.7,911.7 L250.6,912.3 L251.6,912.8 L252.5,910.7 L253.5,914.6 L254.4,910.7 L255.4,912.1 L256.3,914.7 L257.3,911.5 L258.2,911.8 L259.2,911.1 L260.1,912.0 L261.1,909.3 L262.0,910.9 L263.0,913.5 L263.9,911.8 L264.9,911.3 L265.8,912.0 L266.8,912.0 L267.7,911.7 L268.7,912.2 L269.6,909.7 L270.6,912.2 L271.5,910.8 L272.4,912.4 L273.4,911.5 L274.3,910.4 L275.3,911.4 L276.2,910.4 L277.2,912.6 L278.1,911.5 L279.1,912.4 L280.0,910.3 L281.0,913.3 L281.9,911.1 L282.9,913.0 L283.8,912.4 L284.8,910.2 L285.7,911.8 L286.7,910.8 L287.6,911.9 L288.6,913.0 L289.5,912.2 L290.5,912.6 L291.4,910.1 L292.4,911.6 L293.3,911.8 L294.3,912.6 L295.2,910.7 L296.2,912.0 L297.1,911.8 L298.1,909.7 L299.0,910.2 L299.9,911.8 L300.9,910.0 L301.8,910.0 L302.8,912.3 L303.7,911.6 L304.7,911.0 L305.6,911.4 L306.6,910.8 L307.5,910.7 L308.5,910.8 L309.4,911.7 L310.4,912.7 L311.3,910.7 L312.3,911.2 L313.2,911.0 L314.2,909.8 L315.1,911.5 L316.1,912.1 L317.0,910.3 L318.0,912.1 L318.9,910.5 L319.9,912.4 L320.8,912.5 L321.8,910.7 L322.7,908.9 L323.7,910.7 L324.6,909.6 L325.5,909.7 L326.5,910.8 L327.4,912.6 L328.4,911.0 L329.3,910.8 L330.3,909.0 L331.2,910.4 L332.2,909.5 L333.1,911.6 L334.1,910.4 L335.0,911.0 L336.0,911.0 L336.9,910.8 L337.9,912.0 L338.8,911.5 L339.8,910.6 L340.7,911.1 L341.7,911.5 L342.6,912.4 L343.6,911.1 L344.5,912.5 L345.5,910.2 L346.4,910.6 L347.4,909.2 L348.3,911.8 L349.3,909.7 L350.2,909.7 L351.2,911.7 L352.1,910.2 L353.0,910.0 L354.0,911.8 L354.9,910.6 L355.9,911.8 L356.8,910.3 L357.8,911.5 L358.7,911.9 L359.7,910.8 L360.6,912.7 L361.6,910.2 L362.5,910.4 L363.5,910.7 L364.4,911.7 L365.4,910.3 L366.3,910.1 L367.3,910.9 L368.2,912.0 L369.2,910.1 L370.1,909.1 L371.1,910.4 L372.0,911.2 L373.0,909.9 L373.9,910.6 L374.9,908.4 L375.8,910.4 L376.8,910.5 L377.7,911.0 L378.7,910.7 L379.6,911.1 L380.5,909.2 L381.5,910.9 L382.4,908.4 L383.4,909.5 L384.3,911.3 L385.3,911.0 L386.2,908.0 L387.2,910.6 L388.1,909.4 L389.1,909.0 L390.0,910.0 L391.0,909.8 L391.9,911.1 L392.9,907.9 L393.8,909.0 L394.8,909.2 L395.7,907.2 L396.7,910.4 L397.6,910.9 L398.6,908.2 L399.5,909.1 L400.5,908.2 L401.4,908.7 L402.4,907.4 L403.3,908.9 L404.3,906.5 L405.2,909.0 L406.2,907.6 L407.1,909.6 L408.0,904.8 L409.0,906.2 L409.9,904.4 L410.9,905.3 L411.8,905.4 L412.8,903.4 L413.7,902.2 L414.7,901.2 L415.6,902.7 L416.6,903.0 L417.5,902.0 L418.5,899.7 L419.4,897.4 L420.4,896.8 L421.3,894.1 L422.3,892.3 L423.2,893.4 L424.2,889.8 L425.1,888.0 L426.1,884.6 L427.0,883.2 L428.0,879.8 L428.9,873.3 L429.9,869.1 L430.8,863.4 L431.8,859.4 L432.7,852.3 L433.6,842.5 L434.6,836.1 L435.5,823.0 L436.5,809.6 L437.4,795.0 L438.4,781.5 L439.3,764.6 L440.3,744.2 L441.2,723.9 L442.2,701.6 L443.1,675.5 L444.1,650.7 L445.0,625.5 L446.0,598.6 L446.9,573.5 L447.9,553.5 L448.8,536.6 L449.8,526.6 L450.7,518.0 L451.1,516.2 L451.7,519.4 L452.6,526.5 L453.6,538.6 L454.5,557.6 L455.5,579.1 L456.4,604.4 L457.4,628.0 L458.3,654.2 L459.3,680.6 L460.2,704.5 L461.1,729.3 L462.1,749.5 L463.0,767.9 L464.0,786.6 L464.9,800.6 L465.9,814.5 L466.8,826.1 L467.8,835.4 L468.7,844.4 L469.7,852.4 L470.6,858.0 L471.6,864.8 L472.5,871.4 L473.5,875.3 L474.4,877.9 L475.4,885.0 L476.3,884.3 L477.3,888.8 L478.2,891.3 L479.2,894.0 L480.1,893.4 L481.1,896.0 L482.0,897.2 L483.0,900.0 L483.9,900.3 L484.9,901.3 L485.8,902.3 L486.8,904.7 L487.7,904.0 L488.6,904.9 L489.6,903.5 L490.5,905.8 L491.5,904.1 L492.4,907.0 L493.4,906.5 L494.3,905.7 L495.3,905.8 L496.2,907.2 L497.2,907.7 L498.1,907.2 L499.1,907.7 L500.0,907.9 L501.0,907.8 L501.9,908.4 L502.9,909.1 L503.8,910.3 L504.8,909.7 L505.7,908.5 L506.7,911.1 L507.6,910.7 L508.6,909.2 L509.5,910.7 L510.5,909.1 L511.4,908.9 L512.4,909.0 L513.3,911.7 L514.3,910.1 L515.2,910.4 L516.1,910.2 L517.1,909.7 L518.0,910.8 L519.0,911.0 L519.9,912.5 L520.9,909.4 L521.8,912.1 L522.8,911.2 L523.7,908.6 L524.7,911.6 L525.6,912.3 L526.6,911.8 L527.5,910.9 L528.5,910.8 L529.4,908.5 L530.4,911.1 L531.3,910.9 L532.3,909.7 L533.2,911.0 L534.2,910.1 L535.1,913.3 L536.1,909.5 L537.0,909.9 L538.0,908.5 L538.9,910.4 L539.9,911.0 L540.8,910.9 L541.8,910.2 L542.7,911.9 L543.6,911.2 L544.6,912.2 L545.5,910.8 L546.5,909.0 L547.4,910.8 L548.4,909.9 L549.3,911.9 L550.3,910.3 L551.2,910.7 L552.2,911.0 L553.1,909.3 L554.1,910.6 L555.0,912.0 L556.0,910.4 L556.9,910.8 L557.9,911.2 L558.8,910.3 L559.8,910.7 L560.7,911.5 L561.7,910.6 L562.6,911.1 L563.6,910.9 L564.5,909.9 L565.5,909.7 L566.4,913.3 L567.4,912.6 L568.3,911.0 L569.2,912.1 L570.2,912.3 L571.1,912.2 L572.1,910.7 L573.0,909.5 L574.0,909.7 L574.9,910.9 L575.9,912.6 L576.8,912.8 L577.8,910.9 L578.7,910.8 L579.7,912.5 L580.6,913.4 L581.6,910.1 L582.5,911.7 L583.5,911.3 L584.4,910.8 L585.4,910.8 L586.3,910.8 L587.3,911.2 L588.2,909.5 L589.2,911.2 L590.1,912.0 L591.1,912.0 L592.0,912.0 L593.0,911.5 L593.9,911.4 L594.9,913.3 L595.8,911.0 L596.7,911.3 L597.7,912.5 L598.6,911.2 L599.6,909.7 L600.5,910.5 L601.5,910.7 L602.4,911.0 L603.4,910.6 L604.3,912.2 L605.3,911.9 L606.2,911.6 L607.2,910.6 L608.1,912.2 L609.1,912.1 L610.0,913.5 L611.0,910.4 L611.9,910.9 L612.9,912.5 L613.8,909.8 L614.8,911.3 L615.7,911.2 L616.7,911.0 L617.6,909.9 L618.6,910.9 L619.5,909.2 L620.5,912.1 L621.4,910.3 L622.4,910.9 L623.3,910.7 L624.2,910.9 L625.2,910.7 L626.1,911.0 L627.1,910.1 L628.0,910.4 L629.0,909.1 L629.9,909.1 L630.9,909.2 L631.8,908.8 L632.8,908.3 L633.7,908.9 L634.7,910.1 L635.6,909.6 L636.6,908.4 L637.5,908.9 L638.5,908.5 L639.4,910.6 L640.4,905.5 L641.3,907.0 L642.3,904.7 L643.2,906.8 L644.2,904.5 L645.1,904.5 L646.1,903.4 L647.0,903.1 L648.0,898.2 L648.9,899.2 L649.9,899.6 L650.8,897.2 L651.7,898.3 L652.7,898.3 L653.6,894.8 L654.6,895.1 L655.5,895.8 L656.5,896.8 L657.4,895.8 L658.4,895.6 L659.3,894.2 L660.3,895.6 L661.2,896.3 L662.2,896.3 L663.1,898.2 L664.1,898.3 L665.0,899.1 L666.0,902.9 L666.9,901.3 L667.9,904.4 L668.8,902.8 L669.8,904.0 L670.7,903.5 L671.7,904.9 L672.6,908.0 L673.6,906.8 L674.5,905.2 L675.5,909.4 L676.4,907.3 L677.4,908.2 L678.3,908.9 L679.2,907.2 L680.2,911.2 L681.1,911.2 L682.1,909.6 L683.0,910.5 L684.0,909.9 L684.9,909.7 L685.9,910.2 L686.8,909.0 L687.8,910.2 L688.7,910.1 L689.7,912.9 L690.6,909.3 L691.6,912.3 L692.5,911.8 L693.5,911.2 L694.4,910.4 L695.4,913.1 L696.3,912.7 L697.3,911.1 L698.2,911.0 L699.2,911.4 L700.1,913.3 L701.1,910.3 L702.0,911.4 L703.0,912.6 L703.9,909.9 L704.8,911.3 L705.8,912.7 L706.7,911.0 L707.7,911.4 L708.6,909.8 L709.6,912.0 L710.5,910.3 L711.5,911.2 L712.4,912.0 L713.4,911.0 L714.3,912.6 L715.3,912.5 L716.2,912.2 L717.2,912.8 L718.1,911.6 L719.1,909.4 L720.0,912.7 L721.0,912.7 L721.9,911.3 L722.9,910.9 L723.8,913.1 L724.8,911.4 L725.7,911.5 L726.7,911.4 L727.6,914.5 L728.6,911.1 L729.5,909.1 L730.5,911.8 L731.4,910.8 L732.3,910.0 L733.3,912.1 L734.2,911.4 L735.2,912.9 L736.1,911.6 L737.1,913.3 L738.0,913.0 L739.0,912.0 L739.9,912.8 L740.9,914.0 L741.8,912.8 L742.8,910.5 L743.7,912.1 L744.7,912.3 L745.6,913.4 L746.6,911.9 L747.5,913.3 L748.5,912.0 L749.4,912.2 L750.4,911.9 L751.3,912.2 L752.3,912.0 L753.2,912.5 L754.2,911.3 L755.1,911.0 L756.1,912.1 L757.0,912.4 L758.0,911.8 L758.9,912.7 L759.8,912.6 L760.8,914.1 L761.7,910.7 L762.7,914.4 L763.6,909.7 L764.6,910.3 L765.5,912.6 L766.5,911.2 L767.4,911.9 L768.4,911.8 L769.3,910.8 L770.3,910.8 L771.2,911.9 L772.2,912.7 L773.1,913.0 L774.1,912.5 L775.0,912.0 L776.0,913.6 L776.9,909.8 L777.9,912.2 L778.8,913.5 L779.8,913.8 L780.7,913.3 L781.7,913.4 L782.6,913.0 L783.6,912.0 L784.5,909.4 L785.5,911.2 L786.4,911.4 L787.3,913.4 L788.3,911.1 L789.2,911.2 L790.2,912.2 L791.1,910.4 L792.1,911.4 L793.0,911.9 L794.0,910.9 L794.9,911.2 L795.9,909.2 L796.8,909.8 L797.8,910.8 L798.7,912.2 L799.7,910.3 L800.6,909.9 L801.6,910.0 L802.5,911.5 L803.5,909.2 L804.4,910.8 L805.4,910.2 L806.3,910.6 L807.3,909.7 L808.2,910.5 L809.2,911.9 L810.1,910.0 L811.1,909.7 L812.0,907.4 L812.9,910.7 L813.9,909.4 L814.8,910.4 L815.8,910.1 L816.7,909.0 L817.7,909.1 L818.6,908.3 L819.6,911.9 L820.5,910.7 L821.5,910.5 L822.4,910.9 L823.4,911.0 L824.3,910.4 L825.3,910.5 L826.2,912.0 L827.2,907.4 L828.1,909.4 L829.1,908.5 L830.0,909.2 L831.0,906.3 L831.9,907.8 L832.9,909.9 L833.8,907.6 L834.8,909.6 L835.7,908.1 L836.7,908.9 L837.6,907.4 L838.6,908.4 L839.5,907.5 L840.4,909.7 L841.4,907.2 L842.3,909.5 L843.3,908.6 L844.2,909.0 L845.2,910.7 L846.1,908.9 L847.1,908.5 L848.0,909.2 L849.0,910.0 L849.9,908.6 L850.9,911.1 L851.8,909.4 L852.8,908.8 L853.7,908.5 L854.7,909.0 L855.6,909.8 L856.6,910.3 L857.5,909.3 L858.5,908.5 L859.4,909.1 L860.4,906.8 L861.3,910.2 L862.3,909.8 L863.2,908.6 L864.2,909.5 L865.1,907.6 L866.1,910.5 L867.0,908.2 L867.9,907.7 L868.9,910.2 L869.8,906.7 L870.8,907.9 L871.7,906.1 L872.7,906.1 L873.6,905.9 L874.6,905.1 L875.5,906.8 L876.5,905.8 L877.4,903.3 L878.4,905.9 L879.3,902.6 L880.3,901.7 L881.2,901.7 L882.2,899.4 L883.1,901.4 L884.1,898.3 L885.0,897.3 L886.0,899.3 L886.9,896.7 L887.9,897.0 L888.8,895.7 L889.8,896.3 L890.7,896.7 L891.7,893.9 L892.6,896.5 L893.6,895.7 L894.5,898.2 L895.4,899.0 L896.4,897.6 L897.3,897.8 L898.3,898.5 L899.2,898.6 L900.2,895.9 L901.1,896.1 L902.1,896.9 L903.0,895.8 L904.0,896.6 L904.9,896.7 L905.9,895.2 L906.8,895.9 L907.8,896.1 L908.7,893.6 L909.7,892.8 L910.6,890.8 L911.6,889.0 L912.5,886.6 L913.5,883.7 L914.4,883.1 L915.4,880.8 L916.3,876.5 L917.3,873.4 L918.2,868.3 L919.2,866.0 L920.1,863.2 L921.1,859.6 L922.0,857.2 L922.9,854.3 L923.9,853.1 L924.1,854.1 L924.8,856.2 L925.8,855.3 L926.7,856.0 L927.7,859.5 L928.6,863.0 L929.6,867.6 L930.5,870.6 L931.5,871.6 L932.4,874.1 L933.4,877.4 L934.3,879.8 L935.3,880.6 L936.2,884.3 L937.2,884.1 L938.1,885.9 L939.1,886.2 L940.0,887.6 L941.0,887.3 L941.9,887.9 L942.9,889.2 L943.8,888.2 L944.8,889.5 L945.7,886.7 L946.7,888.0 L947.6,887.4 L948.5,887.4 L949.5,889.4 L950.4,892.3 L951.4,891.3 L952.3,893.2 L953.3,891.1 L954.2,894.5 L955.2,894.2 L956.1,896.9 L957.1,898.8 L958.0,898.3 L959.0,901.0 L959.9,899.9 L960.9,901.8 L961.8,901.8 L962.8,903.4 L963.7,903.8 L964.7,902.3 L965.6,904.9 L966.6,905.3 L967.5,908.2 L968.5,904.1 L969.4,907.4 L970.4,908.6 L971.3,910.1 L972.3,909.8 L973.2,908.7 L974.2,910.6 L975.1,909.2 L976.0,909.4 L977.0,909.5 L977.9,909.7 L978.9,912.0 L979.8,908.7 L980.8,909.0 L981.7,911.9 L982.7,911.6 L983.6,912.2 L984.6,911.1 L985.5,912.3 L986.5,911.4 L987.4,911.3 L988.4,911.5 L989.3,912.2 L990.3,912.2 L991.2,911.9 L992.2,914.1 L993.1,913.0 L994.1,912.2 L995.0,911.3 L996.0,912.7 L996.9,911.1 L997.9,912.0 L998.8,911.8 L999.8,912.2 L1000.7,913.4 L1001.7,909.8 L1002.6,914.9 L1003.5,913.9 L1004.5,913.0 L1005.4,912.9 L1006.4,914.4 L1007.3,913.6 L1008.3,915.6 L1009.2,913.6 L1010.2,912.9 L1011.1,912.4 L1012.1,913.9 L1013.0,915.2 L1014.0,912.8 L1014.9,915.5 L1015.9,915.1 L1016.8,913.9 L1017.8,915.7 L1018.7,912.5 L1019.7,912.1 L1020.6,914.8 L1021.6,915.0 L1022.5,915.0 L1023.5,914.6 L1024.4,913.0 L1025.4,915.3 L1026.3,914.3 L1027.3,915.7 L1028.2,915.0 L1029.2,913.5 L1030.1,915.4 L1031.0,915.7 L1032.0,915.7 L1032.9,914.1 L1033.9,913.7 L1034.8,915.8 L1035.8,914.8 L1036.7,914.8 L1037.7,916.0 L1038.6,916.1 L1039.6,915.5 L1040.5,914.8 L1041.5,916.7 L1042.4,913.9 L1043.4,915.1 L1044.3,915.4 L1045.3,913.6 L1046.2,914.3 L1047.2,916.1 L1048.1,915.0 L1049.1,914.0 L1050.0,917.0 L1051.0,915.4 L1051.9,915.3 L1052.9,917.2 L1053.8,913.6 L1054.8,914.7 L1055.7,914.3 L1056.7,916.7 L1057.6,914.4 L1058.5,917.9 L1059.5,915.8 L1060.4,915.7 L1061.4,916.4 L1062.3,915.1 L1063.3,914.4 L1064.2,914.7 L1065.2,915.4 L1066.1,914.3 L1067.1,915.6 L1068.0,914.7 L1069.0,915.2 L1069.9,915.4 L1070.9,917.2 L1071.8,918.0 L1072.8,917.6 L1073.7,915.4 L1074.7,914.9 L1075.6,916.8 L1076.6,917.2 L1077.5,916.8 L1078.5,915.1 L1079.4,916.1 L1080.4,915.5 L1081.3,916.9 L1082.3,916.8 L1083.2,916.1 L1084.1,915.4 L1085.1,917.8 L1086.0,916.1 L1087.0,916.8 L1087.9,916.5 L1088.9,916.8 L1089.8,917.2 L1090.8,915.6 L1091.7,915.5 L1092.7,916.6 L1093.6,912.4 L1094.6,915.9 L1095.5,915.5 L1096.5,916.8 L1097.4,916.4 L1098.4,915.8 L1099.3,914.7 L1100.3,915.8 L1101.2,915.7 L1102.2,916.1 L1103.1,916.3 L1104.1,915.3 L1105.0,916.6 L1106.0,915.5 L1106.9,916.5 L1107.9,916.4 L1108.8,917.4 L1109.8,916.1 L1110.7,917.8 L1111.6,915.7 L1112.6,915.1 L1113.5,916.8 L1114.5,914.7 L1115.4,916.5 L1116.4,916.5 L1117.3,916.3 L1118.3,916.6 L1119.2,916.3 L1120.2,917.5 L1121.1,916.0 L1122.1,914.0 L1123.0,915.8 L1124.0,917.1 L1124.9,917.3 L1125.9,916.9 L1126.8,916.2 L1127.8,915.2 L1128.7,917.9 L1129.7,915.6 L1130.6,915.0 L1131.6,913.5 L1132.5,918.3 L1133.5,916.2 L1134.4,914.2 L1135.4,917.2 L1136.3,916.9 L1137.3,914.4 L1138.2,917.1 L1139.1,916.2 L1140.1,917.0 L1141.0,917.7 L1142.0,915.8 L1142.9,918.6 L1143.9,916.1 L1144.8,915.6 L1145.8,917.5 L1146.7,915.5 L1147.7,915.9 L1148.6,917.1 L1149.6,915.3 L1150.5,914.8 L1151.5,916.5 L1152.4,916.2 L1153.4,915.6 L1154.3,917.2 L1155.3,914.9 L1156.2,917.0 L1157.2,915.0 L1158.1,916.7 L1159.1,914.8 L1160.0,916.9 L1161.0,916.1 L1161.9,915.7 L1162.9,916.2 L1163.8,916.0 L1164.8,917.1 L1165.7,915.4 L1166.6,916.6 L1167.6,915.8 L1168.5,915.5 L1169.5,915.6 L1170.4,914.9 L1171.4,916.5 L1172.3,916.2 L1173.3,916.5 L1174.2,914.4 L1175.2,915.6 L1176.1,917.8 L1177.1,917.5 L1178.0,916.0 L1179.0,916.1 L1179.9,916.4 L1180.9,917.3 L1181.8,917.8 L1182.8,916.5 L1183.7,916.5 L1184.7,916.2 L1185.6,916.6 L1186.6,918.1 L1187.5,915.5 L1188.5,916.9 L1189.4,915.0 L1190.4,915.0 L1191.3,914.4 L1192.2,915.5 L1193.2,917.8 L1194.1,918.0 L1195.1,917.1 L1196.0,916.2 L1197.0,917.3 L1197.9,915.0 L1198.9,914.6 L1199.8,915.2 L1200.8,915.9 L1201.7,914.2 L1202.7,915.3 L1203.6,918.0 L1204.6,915.9 L1205.5,915.7 L1206.5,915.4 L1207.4,916.9 L1208.4,916.8 L1209.3,916.2 L1210.3,915.9 L1211.2,913.7 L1212.2,914.5 L1213.1,915.6 L1214.1,915.4 L1215.0,915.7 L1216.0,915.5 L1216.9,917.9 L1217.9,917.2 L1218.8,914.8 L1219.7,916.8 L1220.7,916.4 L1221.6,915.9 L1222.6,915.7 L1223.5,916.3 L1224.5,917.9 L1225.4,915.3 L1226.4,915.7 L1227.3,915.7 L1228.3,914.0 L1229.2,915.9 L1230.2,914.9 L1231.1,916.1 L1232.1,916.2 L1233.0,917.8 L1234.0,915.5 L1234.9,915.5 L1235.9,916.5 L1236.8,917.9 L1237.8,915.9 L1238.7,916.2 L1239.7,916.3 L1240.6,916.2 L1241.6,915.1 L1242.5,914.8 L1243.5,914.8 L1244.4,915.1 L1245.4,915.8 L1246.3,914.5 L1247.2,914.6 L1248.2,915.4 L1249.1,915.2 L1250.1,915.4 L1251.0,913.9 L1252.0,917.3 L1252.9,914.9 L1253.9,914.8 L1254.8,914.1 L1255.8,915.5 L1256.7,916.0 L1257.7,914.8 L1258.6,914.7 L1259.6,914.4 L1260.5,917.0 L1261.5,915.2 L1262.4,914.0 L1263.4,914.6 L1264.3,915.4 L1265.3,914.4 L1266.2,914.4 L1267.2,914.2 L1268.1,913.6 L1269.1,914.3 L1270.0,915.3 L1271.0,913.9 L1271.9,912.9 L1272.9,912.2 L1273.8,912.8 L1274.7,912.1 L1275.7,911.6 L1276.6,912.9 L1277.6,912.3 L1278.5,912.8 L1279.5,911.9 L1280.4,910.6 L1281.4,911.7 L1282.3,910.7 L1283.3,911.3 L1284.2,908.2 L1285.2,908.3 L1286.1,908.1 L1287.1,909.0 L1288.0,907.0 L1289.0,904.4 L1289.9,903.6 L1290.9,903.9 L1291.8,900.4 L1292.8,899.8 L1293.7,898.6 L1294.7,896.5 L1295.6,895.0 L1296.6,893.2 L1297.5,890.0 L1298.5,885.5 L1299.4,885.1 L1300.4,881.4 L1301.3,875.8 L1302.2,872.5 L1303.2,867.5 L1304.1,866.5 L1305.1,860.7 L1306.0,858.1 L1307.0,855.1 L1307.9,853.6 L1308.9,850.9 L1309.8,849.9 L1309.8,850.9 L1310.8,851.8 L1311.7,851.7 L1312.7,854.6 L1313.6,856.1 L1314.6,862.7 L1315.5,864.4 L1316.5,870.0 L1317.4,873.8 L1318.4,877.6 L1319.3,881.4 L1320.3,883.0 L1321.2,887.2 L1322.2,889.1 L1323.1,892.3 L1324.1,894.1 L1325.0,899.5 L1326.0,899.2 L1326.9,901.7 L1327.8,901.5 L1328.8,905.5 L1329.7,904.7 L1330.7,905.6 L1331.6,906.5 L1332.6,906.0 L1333.5,906.2 L1334.5,909.2 L1335.4,908.4 L1336.4,909.8 L1337.3,912.7 L1338.3,910.7 L1339.2,913.5 L1340.2,912.0 L1341.1,910.9 L1342.1,912.9 L1343.0,913.8 L1344.0,913.7 L1344.9,912.3 L1345.9,912.1 L1346.8,914.4 L1347.8,915.6 L1348.7,915.7 L1349.7,913.6 L1350.6,913.9 L1351.6,914.6 L1352.5,915.6 L1353.5,915.0 L1354.4,915.1 L1355.3,914.8 L1356.3,912.1 L1357.2,913.7 L1358.2,915.3 L1359.1,913.5 L1360.1,917.5 L1361.0,914.5 L1362.0,916.1 L1362.9,916.5 L1363.9,916.8 L1364.8,914.4 L1365.8,915.5 L1366.7,917.4 L1367.7,915.9 L1368.6,916.7 L1369.6,913.3 L1370.5,916.4 L1371.5,916.2 L1372.4,915.9 L1373.4,914.2 L1374.3,915.3 L1375.3,915.9 L1376.2,915.8 L1377.2,915.0 L1378.1,917.4 L1379.1,917.3 L1380.0,915.9 L1381.0,917.9 L1381.9,915.1 L1382.8,916.7 L1383.8,918.2 L1384.7,917.1 L1385.7,916.3 L1386.6,917.1 L1387.6,916.4 L1388.5,916.0 L1389.5,915.8 L1390.4,916.6 L1391.4,916.5 L1392.3,917.0 L1393.3,915.8 L1394.2,917.0 L1395.2,917.7 L1396.1,916.1 L1397.1,918.4 L1398.0,915.9 L1399.0,916.0 L1399.9,916.1 L1400.9,915.4 L1401.8,915.1 L1402.8,915.5 L1403.7,916.5 L1404.7,915.9 L1405.6,918.4 L1406.6,916.6 L1407.5,916.4 L1408.5,916.2 L1409.4,917.3 L1410.3,916.9 L1411.3,917.2 L1412.2,917.7 L1413.2,918.5 L1414.1,915.9 L1415.1,917.6 L1416.0,917.0 L1417.0,917.2 L1417.9,916.3 L1418.9,917.6 L1419.8,917.6 L1420.8,917.3 L1421.7,916.1 L1422.7,917.7 L1423.6,915.9 L1424.6,915.3 L1425.5,917.8 L1426.5,916.8 L1427.4,915.3 L1428.4,916.2 L1429.3,917.0 L1430.3,918.0 L1431.2,916.7 L1432.2,916.1 L1433.1,915.8 L1434.1,915.5 L1435.0,916.8 L1436.0,916.1 L1436.9,917.6 L1437.8,916.1 L1438.8,918.0 L1439.7,916.6 L1440.7,916.9 L1441.6,916.7 L1442.6,916.7 L1443.5,918.5 L1444.5,916.1 L1445.4,916.3 L1446.4,916.5 L1447.3,917.5 L1448.3,915.7 L1449.2,918.3 L1450.2,915.7 L1451.1,916.1 L1452.1,916.8 L1453.0,916.8 L1454.0,915.7 L1454.9,917.5 L1455.9,918.5 L1456.8,916.5 L1457.8,917.3 L1458.7,917.3 L1459.7,919.2 L1460.6,916.7 L1461.6,916.9 L1462.5,916.1 L1463.4,916.8 L1464.4,916.1 L1465.3,915.9 L1466.3,916.0 L1467.2,917.2 L1468.2,915.8 L1469.1,917.0 L1470.1,915.9 L1471.0,917.3 L1472.0,914.7 L1472.9,914.7 L1473.9,916.5 L1474.8,917.4 L1475.8,915.2 L1476.7,913.4 L1477.7,916.7 L1478.6,916.0 L1479.6,914.6 L1480.5,916.8 L1481.5,916.7 L1482.4,914.5 L1483.4,914.6 L1484.3,915.6 L1485.3,915.5 L1486.2,916.2 L1487.2,915.1 L1488.1,916.5 L1489.1,913.9 L1490.0,913.2 L1490.9,913.3 L1491.9,913.0 L1492.8,913.5 L1493.8,912.6 L1494.7,914.1 L1495.7,914.3 L1496.6,914.6 L1497.6,912.1 L1498.5,911.0 L1499.5,911.6 L1500.4,911.8 L1501.4,911.0 L1502.3,911.6 L1503.3,911.3 L1504.2,910.8 L1505.2,909.1 L1506.1,910.5 L1507.1,908.2 L1508.0,906.0 L1509.0,907.9 L1509.9,908.7 L1510.9,906.8 L1511.8,904.4 L1512.8,905.0 L1513.7,905.9 L1514.7,904.0 L1515.6,902.8 L1516.6,900.7 L1517.5,900.9 L1518.4,899.2 L1519.4,900.4 L1520.3,897.9 L1521.3,897.2 L1522.2,893.4 L1523.2,893.7 L1524.1,893.3 L1525.1,892.8 L1526.0,891.1 L1527.0,887.6 L1527.9,890.3 L1528.9,886.0 L1529.8,884.9 L1530.8,884.2 L1531.7,882.8 L1532.7,883.3 L1533.6,882.9 L1534.6,883.3 L1535.5,883.5 L1536.5,884.5 L1537.4,886.2 L1538.4,885.6 L1539.3,886.1 L1540.3,888.9 L1541.2,889.4 L1542.2,891.2 L1543.1,890.5 L1544.1,892.3 L1545.0,892.4 L1545.9,892.7 L1546.9,894.3 L1547.8,895.4 L1548.8,896.4 L1549.7,895.3 L1550.7,897.7 L1551.6,898.4 L1552.6,897.8 L1553.5,897.1 L1554.5,896.7 L1555.4,898.5 L1556.4,896.5 L1557.3,898.4 L1558.3,894.8 L1559.2,894.2 L1560.2,896.2 L1561.1,893.8 L1562.1,895.5 L1563.0,893.1 L1564.0,892.2 L1564.9,892.1 L1565.9,892.0 L1566.8,890.7 L1567.8,888.6 L1568.7,887.4 L1569.7,887.7 L1570.6,885.2 L1571.5,884.2 L1572.5,883.7 L1573.4,887.6 L1574.4,885.6 L1575.3,884.6 L1576.3,884.0 L1577.2,885.5 L1578.2,883.9 L1579.1,886.3 L1580.1,888.6 L1581.0,889.0 L1582.0,888.9 L1582.9,891.4 L1583.9,892.6 L1584.8,895.7 L1585.8,896.4 L1586.7,897.1 L1587.7,900.5 L1588.6,898.9 L1589.6,901.8 L1590.5,902.2 L1591.5,902.6 L1592.4,903.2 L1593.4,905.1 L1594.3,907.0 L1595.3,904.5 L1596.2,907.0 L1597.2,908.6 L1598.1,907.4 L1599.0,908.1 L1600.0,910.9 L1600.9,909.7 L1601.9,910.0 L1602.8,911.3 L1603.8,911.6 L1604.7,912.3 L1605.7,912.6 L1606.6,913.9 L1607.6,913.1 L1608.5,914.0 L1609.5,912.5 L1610.4,913.8 L1611.4,913.3 L1612.3,915.6 L1613.3,914.6 L1614.2,915.8 L1615.2,914.5 L1616.1,914.0 L1617.1,915.9 L1618.0,915.1 L1619.0,913.9 L1619.9,915.3 L1620.9,914.9 L1621.8,917.3 L1622.8,915.9 L1623.7,916.9 L1624.7,916.8 L1625.6,917.7 L1626.5,917.0 L1627.5,917.2 L1628.4,917.2 L1629.4,915.4 L1630.3,916.9 L1631.3,915.7 L1632.2,915.8 L1633.2,917.2 L1634.1,915.3 L1635.1,917.0 L1636.0,918.3 L1637.0,917.2 L1637.9,918.1 L1638.9,916.3 L1639.8,917.4 L1640.8,914.7 L1641.7,916.4 L1642.7,916.8 L1643.6,919.5 L1644.6,919.8 L1645.5,915.7 L1646.5,917.3 L1647.4,917.0 L1648.4,919.6 L1649.3,918.8 L1650.3,917.6 L1651.2,918.9 L1652.2,919.3 L1653.1,917.5 L1654.0,919.2 L1655.0,918.8 L1655.9,919.1 L1656.9,916.5 L1657.8,918.3 L1658.8,915.9 L1659.7,918.8 L1660.7,917.7 L1661.6,920.0 L1662.6,920.1 L1663.5,916.8 L1664.5,920.3 L1665.4,918.2 L1666.4,919.8 L1667.3,918.9 L1668.3,918.4 L1669.2,918.6 L1670.2,918.4 L1671.1,920.4 L1672.1,919.0 L1673.0,917.9 L1674.0,919.7 L1674.9,918.5 L1675.9,919.6 L1676.8,918.2 L1677.8,919.5 L1678.7,918.1 L1679.7,918.3 L1680.6,919.5 L1681.5,920.1 L1682.5,919.4 L1683.4,919.2 L1684.4,922.1 L1685.3,919.2 L1686.3,916.6 L1687.2,920.0 L1688.2,918.8 L1689.1,917.8 L1690.1,920.5 L1691.0,920.3 L1692.0,919.0 L1692.9,918.9 L1693.9,919.5 L1694.8,920.6 L1695.8,918.5 L1696.7,921.0 L1697.7,919.8 L1698.6,920.0 L1699.6,921.3 L1700.5,919.3 L1701.5,920.3 L1702.4,919.7 L1703.4,916.5 L1704.3,919.5 L1705.3,919.7 L1706.2,919.5 L1707.1,921.0 L1708.1,919.2 L1709.0,920.3 L1710.0,920.1 L1710.9,920.2 L1711.9,917.9 L1712.8,919.3 L1713.8,919.3 L1714.7,921.5 L1715.7,919.4 L1716.6,920.5 L1717.6,920.1 L1718.5,918.3 L1719.5,918.6 L1720.4,920.1 L1721.4,920.6 L1722.3,921.6 L1723.3,919.6 L1724.2,918.5 L1725.2,919.8 L1726.1,918.4 L1727.1,921.4 L1728.0,919.6 L1729.0,919.9 L1729.9,922.0 L1730.9,920.4 L1731.8,918.6 L1732.8,920.5 L1733.7,919.3 L1734.6,918.7 L1735.6,919.1 L1736.5,918.5 L1737.5,920.6 L1738.4,919.1 L1739.4,919.6 L1740.3,921.2 L1741.3,919.9 L1742.2,919.6 L1743.2,920.2 L1744.1,919.5 L1745.1,920.2 L1746.0,919.9 L1747.0,921.1 L1747.9,919.8 L1748.9,919.2 L1749.8,919.8 L1750.8,917.9 L1751.7,920.0 L1752.7,921.1 L1753.6,922.3 L1754.6,920.7 L1755.5,921.6 L1756.5,918.3 L1757.4,921.7 L1758.4,920.8 L1759.3,921.6 L1760.3,919.8 L1761.2,920.8 L1762.1,920.5 L1763.1,919.9 L1764.0,920.2 L1765.0,922.0 L1765.9,918.7 L1766.9,920.0 L1767.8,920.9 L1768.8,921.9 L1769.7,919.2 L1770.7,919.0 L1771.6,918.2 L1772.6,920.7 L1773.5,920.2 L1774.5,920.4 L1775.4,920.3 L1776.4,918.5 L1777.3,921.6 L1778.3,921.4 L1779.2,919.0 L1780.2,919.6 L1781.1,919.4 L1782.1,919.6 L1783.0,922.4 L1784.0,921.5 L1784.9,919.3 L1785.9,922.6 L1786.8,921.0 L1787.8,920.7 L1788.7,919.6 L1789.6,919.7 L1790.6,920.3 L1791.5,923.6 L1792.5,919.4 L1793.4,919.7 L1794.4,921.4 L1795.3,920.7 L1796.3,919.7 L1797.2,923.4 L1798.2,920.2 L1799.1,919.8 L1800.1,920.3 L1801.0,921.1 L1802.0,921.2 L1802.9,921.5 L1803.9,920.8 L1804.8,920.0 L1805.8,922.0 L1806.7,920.3 L1807.7,919.9 L1808.6,921.3 L1809.6,921.8 L1810.5,920.0 L1811.5,919.9 L1812.4,920.3 L1813.4,919.6 L1814.3,920.0 L1815.3,921.2 L1816.2,921.1 L1817.1,917.8 L1818.1,922.0 L1819.0,921.8 L1820.0,919.1 L1820.9,921.9 L1821.9,918.8 L1822.8,921.8 L1823.8,919.7 L1824.7,920.8 L1825.7,920.4 L1826.6,920.8 L1827.6,918.7 L1828.5,921.7 L1829.5,920.8 L1830.4,920.2 L1831.4,921.3 L1832.3,919.8 L1833.3,922.0 L1834.2,921.2 L1835.2,921.9 L1836.1,918.8 L1837.1,919.7 L1838.0,917.4 L1839.0,919.5 L1839.9,918.3 L1840.9,918.1 L1841.8,919.8 L1842.7,918.5 L1843.7,919.6 L1844.6,917.0 L1845.6,917.0 L1846.5,917.9 L1847.5,914.8 L1848.4,915.6 L1849.4,916.3 L1850.3,913.7 L1851.3,915.7 L1852.2,913.5 L1853.2,914.8 L1854.1,912.4 L1855.1,914.0 L1856.0,909.6 L1857.0,911.8 L1857.9,907.8 L1858.9,909.9 L1859.8,907.2 L1860.8,904.1 L1861.7,905.8 L1862.7,903.5 L1863.6,903.1 L1864.6,902.6 L1865.5,903.2 L1866.3,901.8 L1866.5,902.9 L1867.4,901.3 L1868.4,902.4 L1869.3,904.2 L1870.2,906.0 L1871.2,905.7 L1872.1,906.5 L1873.1,908.4 L1874.0,909.6 L1875.0,909.1 L1875.9,914.4 L1876.9,911.6 L1877.8,911.6 L1878.8,913.8 L1879.7,915.0 L1880.7,915.1 L1881.6,915.1 L1882.6,916.3 L1883.5,917.4 L1884.5,916.5 L1885.4,916.7 L1886.4,918.1 L1887.3,918.4 L1888.3,917.3 L1889.2,921.4 L1890.2,920.0 L1891.1,921.0 L1892.1,920.5 L1893.0,917.9 L1894.0,921.9 L1894.9,918.0 L1895.9,918.8 L1896.8,920.3 L1897.7,919.4 L1898.7,920.9 L1899.6,921.2 L1900.6,920.2 L1901.5,922.3 L1902.5,918.8 L1903.4,921.1 L1904.4,921.4 L1905.3,922.8 L1906.3,921.7 L1907.2,919.0 L1908.2,921.5 L1909.1,920.5 L1910.1,921.1 L1911.0,921.5 L1912.0,922.3 L1912.9,920.5 L1913.9,921.6 L1914.8,922.2 L1915.8,922.1 L1916.7,922.1 L1917.7,919.5 L1918.6,921.7 L1919.6,922.4 L1920.5,920.8 L1921.5,921.7 L1922.4,920.9 L1923.4,922.1 L1924.3,921.7 L1925.2,920.4 L1926.2,922.0 L1927.1,921.9 L1928.1,920.0 L1929.0,921.1 L1930.0,921.0 L1930.9,920.1 L1931.9,922.6 L1932.8,920.7 L1933.8,921.5 L1934.7,919.2 L1935.7,921.3 L1936.6,920.0 L1937.6,921.9 L1938.5,921.2 L1939.5,922.5 L1940.4,923.3 L1941.4,919.6 L1942.3,921.6 L1943.3,921.4 L1944.2,920.9 L1945.2,920.7 L1946.1,921.5 L1947.1,922.2 L1948.0,922.3 L1949.0,922.8 L1949.9,921.6 L1950.8,922.8 L1951.8,922.4 L1952.7,922.8 L1953.7,922.8 L1954.6,922.4 L1955.6,922.7 L1956.5,921.0 L1957.5,919.5 L1958.4,920.4 L1959.4,922.2 L1960.3,921.7 L1961.3,921.1 L1962.2,923.1 L1963.2,922.5 L1964.1,923.5 L1965.1,920.5 L1966.0,921.2 L1967.0,922.2 L1967.9,922.7 L1968.9,923.3 L1969.8,922.1 L1970.8,923.4 L1971.7,923.1 L1972.7,921.9 L1973.6,923.3 L1974.6,922.2 L1975.5,922.3 L1976.5,920.6 L1977.4,920.8 L1978.3,920.9 L1979.3,922.0 L1980.2,920.4 L1981.2,919.7 L1982.1,921.5 L1983.1,924.5 L1984.0,921.7 L1985.0,920.5 L1985.9,921.2 L1986.9,922.2 L1987.8,922.8 L1988.8,922.1 L1989.7,923.6 L1990.7,922.5 L1991.6,920.5 L1992.6,922.9 L1993.5,921.0 L1994.5,922.9 L1995.4,921.8 L1996.4,919.4 L1997.3,919.5 L1998.3,921.4 L1999.2,921.8 L2000.2,922.8 L2001.1,922.2 L2002.1,923.2 L2003.0,922.4 L2004.0,921.7 L2004.9,920.4 L2005.8,923.1 L2006.8,922.7 L2007.7,922.7 L2008.7,920.7 L2009.6,922.7 L2010.6,919.5 L2011.5,922.1 L2012.5,921.5 L2013.4,921.5 L2014.4,918.2 L2015.3,923.7 L2016.3,920.2 L2017.2,920.5 L2018.2,920.9 L2019.1,920.7 L2020.1,919.3 L2021.0,922.1 L2022.0,921.1 L2022.9,921.6 L2023.9,919.6 L2024.8,921.7 L2025.8,921.4 L2026.7,922.9 L2027.7,920.6 L2028.6,919.1 L2029.6,921.4 L2030.5,921.8 L2031.5,922.6 L2032.4,922.2 L2033.3,920.4 L2034.3,921.4 L2035.2,920.1 L2036.2,922.0 L2037.1,924.4 L2038.1,920.1 L2039.0,919.7 L2040.0,919.7 L2040.9,920.9 L2041.9,921.7 L2042.8,920.9 L2043.8,919.1 L2044.7,921.4 L2045.7,921.8 L2046.6,922.7 L2047.6,921.7 L2048.5,919.3 L2049.5,922.1 L2050.4,920.6 L2051.4,919.4 L2052.3,920.9 L2053.3,921.1 L2054.2,921.3 L2055.2,920.0 L2056.1,920.4 L2057.1,920.9 L2058.0,921.3 L2059.0,921.4 L2059.9,919.5 L2060.8,922.0 L2061.8,919.4 L2062.7,921.3 L2063.7,920.8 L2064.6,917.7 L2065.6,919.9 L2066.5,920.7 L2067.5,921.1 L2068.4,920.6 L2069.4,921.3 L2070.3,920.7 L2071.3,920.4 L2072.2,921.7 L2073.2,925.0 L2074.1,920.2 L2075.1,920.3 L2076.0,921.2 L2077.0,919.7 L2077.9,921.5 L2078.9,920.4 L2079.8,922.5 L2080.8,919.1 L2081.7,920.3 L2082.7,919.0 L2083.6,920.4 L2084.6,919.0 L2085.5,918.1 L2086.4,918.3 L2087.4,918.3 L2088.3,918.9 L2089.3,917.4 L2090.2,918.9 L2091.2,917.6 L2092.1,917.3 L2093.1,916.8 L2094.0,916.9 L2095.0,918.5 L2095.9,915.3 L2096.9,916.2 L2097.8,916.3 L2098.8,916.5 L2098.8,915.4 L2099.7,913.5 L2100.7,916.9 L2101.6,917.1 L2102.6,917.6 L2103.5,917.5 L2104.5,916.1 L2105.4,919.1 L2106.4,917.6 L2107.3,918.7 L2108.3,920.8 L2109.2,920.2 L2110.2,918.2 L2111.1,919.5 L2112.1,921.2 L2113.0,920.8 L2113.9,919.8 L2114.9,918.6 L2115.8,919.2 L2116.8,919.9 L2117.7,920.6 L2118.7,921.8 L2119.6,921.8 L2120.6,918.6 L2121.5,920.0 L2122.5,919.6 L2123.4,919.8 L2124.4,921.2 L2125.3,920.5 L2126.3,919.4 L2127.2,922.3 L2128.2,919.9 L2129.1,919.5 L2130.1,920.1 L2131.0,922.7 L2132.0,921.6 L2132.9,920.0 L2133.9,921.0 L2134.8,919.7 L2135.8,921.8 L2136.7,921.1 L2137.7,918.2 L2138.6,920.9 L2139.6,922.0 L2140.5,919.1" fill="none" stroke="#008000" stroke-width="8" stroke-linejoin="round"/>
<rect x="244" y="77.5" width="1896.5" height="1401" fill="none" stroke="#000" stroke-width="11"/>
<line x1="244.0" y1="1478.5" x2="244.0" y2="1505" stroke="#000" stroke-width="10.5" stroke-linecap="round"/>
<text x="244.0" y="1578.5" font-family="Liberation Sans, Arial, sans-serif" font-size="70.5" text-anchor="middle">20</text>
<line x1="433.6" y1="1478.5" x2="433.6" y2="1505" stroke="#000" stroke-width="10.5" stroke-linecap="round"/>
<text x="433.6" y="1578.5" font-family="Liberation Sans, Arial, sans-serif" font-size="70.5" text-anchor="middle">25</text>
<line x1="623.3" y1="1478.5" x2="623.3" y2="1505" stroke="#000" stroke-width="10.5" stroke-linecap="round"/>
<text x="623.3" y="1578.5" font-family="Liberation Sans, Arial, sans-serif" font-size="70.5" text-anchor="middle">30</text>
<line x1="813.0" y1="1478.5" x2="813.0" y2="1505" stroke="#000" stroke-width="10.5" stroke-linecap="round"/>
<text x="813.0" y="1578.5" font-family="Liberation Sans, Arial, sans-serif" font-size="70.5" text-anchor="middle">35</text>
<line x1="1002.6" y1="1478.5" x2="1002.6" y2="1505" stroke="#000" stroke-width="10.5" stroke-linecap="round"/>
<text x="1002.6" y="1578.5" font-family="Liberation Sans, Arial, sans-serif" font-size="70.5" text-anchor="middle">40</text>
<line x1="1192.2" y1="1478.5" x2="1192.2" y2="1505" stroke="#000" stroke-width="10.5" stroke-linecap="round"/>
<text x="1192.2" y="1578.5" font-family="Liberation Sans, Arial, sans-serif" font-size="70.5" text-anchor="middle">45</text>
<line x1="1381.9" y1="1478.5" x2="1381.9" y2="1505" stroke="#000" stroke-width="10.5" stroke-linecap="round"/>
<text x="1381.9" y="1578.5" font-family="Liberation Sans, Arial, sans-serif" font-size="70.5" text-anchor="middle">50</text>
<line x1="1571.5" y1="1478.5" x2="1571.5" y2="1505" stroke="#000" stroke-width="10.5" stroke-linecap="round"/>
<text x="1571.5" y="1578.5" font-family="Liberation Sans, Arial, sans-serif" font-size="70.5" text-anchor="middle">55</text>
<line x1="1761.2" y1="1478.5" x2="1761.2" y2="1505" stroke="#000" stroke-width="10.5" stroke-linecap="round"/>
<text x="1761.2" y="1578.5" font-family="Liberation Sans, Arial, sans-serif" font-size="70.5" text-anchor="middle">60</text>
<line x1="1950.8" y1="1478.5" x2="1950.8" y2="1505" stroke="#000" stroke-width="10.5" stroke-linecap="round"/>
<text x="1950.8" y="1578.5" font-family="Liberation Sans, Arial, sans-serif" font-size="70.5" text-anchor="middle">65</text>
<line x1="2140.5" y1="1478.5" x2="2140.5" y2="1505" stroke="#000" stroke-width="10.5" stroke-linecap="round"/>
<text x="2140.5" y="1578.5" font-family="Liberation Sans, Arial, sans-serif" font-size="70.5" text-anchor="middle">70</text>
<line x1="338.8" y1="1478.5" x2="338.8" y2="1492" stroke="#000" stroke-width="10.5" stroke-linecap="round"/>
<line x1="528.5" y1="1478.5" x2="528.5" y2="1492" stroke="#000" stroke-width="10.5" stroke-linecap="round"/>
<line x1="718.1" y1="1478.5" x2="718.1" y2="1492" stroke="#000" stroke-width="10.5" stroke-linecap="round"/>
<line x1="907.8" y1="1478.5" x2="907.8" y2="1492" stroke="#000" stroke-width="10.5" stroke-linecap="round"/>
<line x1="1097.4" y1="1478.5" x2="1097.4" y2="1492" stroke="#000" stroke-width="10.5" stroke-linecap="round"/>
<line x1="1287.1" y1="1478.5" x2="1287.1" y2="1492" stroke="#000" stroke-width="10.5" stroke-linecap="round"/>
<line x1="1476.7" y1="1478.5" x2="1476.7" y2="1492" stroke="#000" stroke-width="10.5" stroke-linecap="round"/>
<line x1="1666.4" y1="1478.5" x2="1666.4" y2="1492" stroke="#000" stroke-width="10.5" stroke-linecap="round"/>
<line x1="1856.0" y1="1478.5" x2="1856.0" y2="1492" stroke="#000" stroke-width="10.5" stroke-linecap="round"/>
<line x1="2045.7" y1="1478.5" x2="2045.7" y2="1492" stroke="#000" stroke-width="10.5" stroke-linecap="round"/>
<text x="1193" y="1709.5" font-family="Liberation Sans, Arial, sans-serif" font-size="82" font-weight="bold" text-anchor="middle">2 Theta, degrees</text>
<text transform="translate(110.7,828.5) rotate(-90)" font-family="Liberation Sans, Arial, sans-serif" font-size="81" font-weight="bold" text-anchor="middle">Intensity (a. u.)</text>
<text x="269.5" y="170" font-family="Liberation Sans, Arial, sans-serif" font-size="75" font-weight="bold" font-style="italic">a)</text>
<line x1="707" y1="170.3" x2="854" y2="170.3" stroke="#000000" stroke-width="7.5" stroke-linecap="round"/>
<text x="872" y="192.8" font-family="Liberation Sans, Arial, sans-serif" font-size="66.5">0.0 Cu/Ti</text>
<line x1="707" y1="250.1" x2="854" y2="250.1" stroke="#ff0000" stroke-width="7.5" stroke-linecap="round"/>
<text x="872" y="272.6" font-family="Liberation Sans, Arial, sans-serif" font-size="66.5">1.0 Cu/Ti</text>
<line x1="707" y1="329.9" x2="854" y2="329.9" stroke="#0000ff" stroke-width="7.5" stroke-linecap="round"/>
<text x="872" y="352.4" font-family="Liberation Sans, Arial, sans-serif" font-size="66.5">2.5 Cu/Ti</text>
<line x1="707" y1="409.7" x2="854" y2="409.7" stroke="#008000" stroke-width="7.5" stroke-linecap="round"/>
<text x="872" y="432.2" font-family="Liberation Sans, Arial, sans-serif" font-size="66.5">5.0 Cu/Ti</text>
<text transform="translate(416.7,390.2) rotate(-90)" font-family="Liberation Sans, Arial, sans-serif" font-size="67.4">A (101)</text>
<text transform="translate(677.9,876.8) rotate(-90)" font-family="Liberation Sans, Arial, sans-serif" font-size="66.8">B (121)</text>
<text transform="translate(939.8,841.6) rotate(-90)" font-family="Liberation Sans, Arial, sans-serif" font-size="67.3">A (404)</text>
<text transform="translate(1230.3,895.5) rotate(-45)" font-family="Liberation Sans, Arial, sans-serif" font-size="68">A (200)</text>
<text transform="translate(1485.4,894.7) rotate(-45)" font-family="Liberation Sans, Arial, sans-serif" font-size="68">A (105)</text>
<text transform="translate(1610.3,900) rotate(-45)" font-family="Liberation Sans, Arial, sans-serif" font-size="70">A (211)</text>
<text transform="translate(1821.5,903.7) rotate(-45)" font-family="Liberation Sans, Arial, sans-serif" font-size="68">A (204)</text>
<rect x="1355.6" y="108.5" width="743.9" height="481.8" fill="#fff" stroke="none"/>
<clipPath id="cia"><rect x="1355.6" y="108.5" width="743.9" height="481.8"/></clipPath>
<path clip-path="url(#cia)" d="M1355.6,485.3 L1357.1,483.9 L1358.6,485.2 L1360.1,485.1 L1361.6,485.4 L1363.0,485.7 L1364.5,485.3 L1366.0,486.2 L1367.5,486.2 L1369.0,487.9 L1370.5,487.1 L1372.0,487.1 L1373.5,487.4 L1374.9,487.5 L1376.4,487.6 L1377.9,488.1 L1379.4,488.7 L1380.9,488.7 L1382.4,489.3 L1383.9,489.2 L1385.4,489.5 L1386.8,490.3 L1388.3,490.2 L1389.8,490.1 L1391.3,490.4 L1392.8,490.9 L1394.3,491.6 L1395.8,491.1 L1397.3,491.4 L1398.7,492.1 L1400.2,491.6 L1401.7,492.1 L1403.2,492.7 L1404.7,492.9 L1406.2,493.0 L1407.7,493.4 L1409.2,492.4 L1410.6,494.0 L1412.1,493.6 L1413.6,493.6 L1415.1,494.5 L1416.6,494.9 L1418.1,494.7 L1419.6,494.8 L1421.1,495.4 L1422.6,495.6 L1424.0,496.4 L1425.5,496.4 L1427.0,496.4 L1428.5,497.0 L1430.0,496.8 L1431.5,496.8 L1433.0,497.5 L1434.5,497.8 L1435.9,497.8 L1437.4,497.8 L1438.9,498.4 L1440.4,497.7 L1441.9,499.0 L1443.4,499.2 L1444.9,498.7 L1446.4,499.6 L1447.8,499.4 L1449.3,500.3 L1450.8,499.6 L1452.3,500.2 L1453.8,501.0 L1455.3,501.4 L1456.8,500.5 L1458.3,501.3 L1459.7,501.8 L1461.2,501.8 L1462.7,502.8 L1464.2,502.0 L1465.7,502.8 L1467.2,502.6 L1468.7,503.7 L1470.2,503.4 L1471.6,503.5 L1473.1,503.3 L1474.6,504.7 L1476.1,504.7 L1477.6,504.9 L1479.1,505.3 L1480.6,505.2 L1482.1,505.1 L1483.6,505.3 L1485.0,505.6 L1486.5,506.6 L1488.0,505.8 L1489.5,506.4 L1491.0,506.7 L1492.5,507.1 L1494.0,507.5 L1495.5,507.1 L1496.9,507.2 L1498.4,508.0 L1499.9,508.7 L1501.4,508.8 L1502.9,508.8 L1504.4,508.9 L1505.9,509.3 L1507.4,509.4 L1508.8,510.1 L1510.3,509.8 L1511.8,510.4 L1513.3,510.6 L1514.8,511.1 L1516.3,511.2 L1517.8,512.3 L1519.3,512.2 L1520.7,512.5 L1522.2,511.5 L1523.7,512.4 L1525.2,512.6 L1526.7,513.2 L1528.2,512.5 L1529.7,514.0 L1531.2,514.2 L1532.6,513.7 L1534.1,514.0 L1535.6,514.4 L1537.1,514.9 L1538.6,515.4 L1540.1,516.2 L1541.6,515.6 L1543.1,516.2 L1544.6,516.3 L1546.0,517.1 L1547.5,517.0 L1549.0,517.5 L1550.5,516.9 L1552.0,517.5 L1553.5,517.5 L1555.0,518.6 L1556.5,518.6 L1557.9,518.5 L1559.4,518.7 L1560.9,519.3 L1562.4,519.1 L1563.9,519.3 L1565.4,520.1 L1566.9,521.0 L1568.4,520.3 L1569.8,520.5 L1571.3,520.5 L1572.8,520.7 L1574.3,521.6 L1575.8,522.0 L1577.3,521.9 L1578.8,522.3 L1580.3,522.5 L1581.7,522.7 L1583.2,522.4 L1584.7,523.0 L1586.2,523.4 L1587.7,523.4 L1589.2,523.7 L1590.7,523.8 L1592.2,524.2 L1593.6,524.9 L1595.1,524.5 L1596.6,524.7 L1598.1,525.1 L1599.6,525.0 L1601.1,525.5 L1602.6,524.2 L1604.1,525.3 L1605.6,524.9 L1607.0,525.1 L1608.5,525.4 L1610.0,525.5 L1611.5,525.5 L1613.0,525.3 L1614.5,525.8 L1616.0,525.1 L1617.5,525.2 L1618.9,525.5 L1620.4,525.1 L1621.9,526.0 L1623.4,525.6 L1624.9,526.0 L1626.4,525.2 L1627.9,525.0 L1629.4,525.2 L1630.8,525.3 L1632.3,524.8 L1633.8,525.1 L1635.3,524.9 L1636.8,525.4 L1638.3,524.5 L1639.8,525.0 L1641.3,524.3 L1642.7,524.1 L1644.2,524.0 L1645.7,523.7 L1647.2,524.1 L1648.7,524.2 L1650.2,523.7 L1651.7,523.7 L1653.2,523.9 L1654.6,523.2 L1656.1,523.0 L1657.6,522.6 L1659.1,521.8 L1660.6,522.4 L1662.1,521.3 L1663.6,521.8 L1665.1,521.3 L1666.6,521.4 L1668.0,520.6 L1669.5,520.0 L1671.0,520.1 L1672.5,519.4 L1674.0,519.1 L1675.5,518.8 L1677.0,518.3 L1678.5,517.8 L1679.9,517.2 L1681.4,516.9 L1682.9,515.7 L1684.4,515.9 L1685.9,515.1 L1687.4,515.3 L1688.9,514.8 L1690.4,513.1 L1691.8,513.3 L1693.3,512.6 L1694.8,511.7 L1696.3,511.6 L1697.8,510.6 L1699.3,509.5 L1700.8,509.4 L1702.3,508.8 L1703.7,508.2 L1705.2,507.0 L1706.7,506.9 L1708.2,506.3 L1709.7,504.9 L1711.2,504.3 L1712.7,503.8 L1714.2,502.9 L1715.6,502.9 L1717.1,501.6 L1718.6,500.4 L1720.1,499.8 L1721.6,499.2 L1723.1,499.3 L1724.6,497.7 L1726.1,497.0 L1727.6,496.4 L1729.0,495.4 L1730.5,495.5 L1732.0,493.8 L1733.5,493.5 L1735.0,492.6 L1736.5,492.0 L1738.0,490.7 L1739.5,491.0 L1740.9,489.7 L1742.4,489.1 L1743.9,488.1 L1745.4,487.6 L1746.9,487.5 L1748.4,487.1 L1749.9,486.5 L1751.4,486.1 L1752.8,485.5 L1754.3,484.8 L1755.8,484.7 L1757.3,484.2 L1758.8,483.7 L1760.3,483.7 L1761.8,483.6 L1763.3,483.0 L1764.7,482.7 L1766.2,482.9 L1767.7,483.2 L1769.2,482.5 L1770.7,482.5 L1772.2,482.5 L1773.7,483.1 L1775.2,482.2 L1776.6,483.2 L1778.1,483.7 L1779.6,483.3 L1781.1,484.4 L1782.6,484.4 L1784.1,484.5 L1785.6,485.2 L1787.1,485.1 L1788.5,485.9 L1790.0,487.3 L1791.5,487.0 L1793.0,488.6 L1794.5,488.6 L1796.0,489.7 L1797.5,490.1 L1799.0,490.1 L1800.5,491.5 L1801.9,492.5 L1803.4,492.9 L1804.9,493.7 L1806.4,495.2 L1807.9,495.8 L1809.4,496.3 L1810.9,497.6 L1812.4,499.1 L1813.8,499.6 L1815.3,501.1 L1816.8,502.3 L1818.3,502.7 L1819.8,503.3 L1821.3,504.3 L1822.8,505.7 L1824.3,507.1 L1825.7,507.9 L1827.2,509.0 L1828.7,509.6 L1830.2,510.9 L1831.7,511.6 L1833.2,512.7 L1834.7,513.3 L1836.2,514.2 L1837.6,515.6 L1839.1,516.3 L1840.6,517.3 L1842.1,518.8 L1843.6,519.5 L1845.1,521.5 L1846.6,521.7 L1848.1,522.1 L1849.5,523.5 L1851.0,524.2 L1852.5,524.7 L1854.0,526.2 L1855.5,526.3 L1857.0,526.4 L1858.5,528.5 L1860.0,528.8 L1861.5,530.3 L1862.9,530.3 L1864.4,530.9 L1865.9,532.6 L1867.4,532.4 L1868.9,533.5 L1870.4,534.6 L1871.9,534.8 L1873.4,535.4 L1874.8,536.1 L1876.3,537.0 L1877.8,537.0 L1879.3,538.1 L1880.8,538.7 L1882.3,539.8 L1883.8,539.4 L1885.3,539.8 L1886.7,540.9 L1888.2,541.0 L1889.7,541.7 L1891.2,542.1 L1892.7,542.9 L1894.2,542.8 L1895.7,543.4 L1897.2,543.0 L1898.6,543.9 L1900.1,545.2 L1901.6,544.8 L1903.1,545.2 L1904.6,545.4 L1906.1,546.4 L1907.6,546.6 L1909.1,546.4 L1910.5,547.4 L1912.0,547.6 L1913.5,548.1 L1915.0,547.9 L1916.5,549.0 L1918.0,548.8 L1919.5,548.9 L1921.0,549.1 L1922.5,549.4 L1923.9,550.1 L1925.4,549.9 L1926.9,550.6 L1928.4,550.7 L1929.9,551.2 L1931.4,551.3 L1932.9,551.2 L1934.4,550.8 L1935.8,551.7 L1937.3,552.1 L1938.8,552.1 L1940.3,552.5 L1941.8,552.3 L1943.3,552.5 L1944.8,552.5 L1946.3,553.5 L1947.7,553.3 L1949.2,553.3 L1950.7,553.1 L1952.2,553.7 L1953.7,554.5 L1955.2,554.3 L1956.7,554.1 L1958.2,555.0 L1959.6,555.1 L1961.1,555.2 L1962.6,555.3 L1964.1,555.5 L1965.6,555.5 L1967.1,555.7 L1968.6,555.3 L1970.1,556.3 L1971.5,556.0 L1973.0,556.8 L1974.5,555.5 L1976.0,556.6 L1977.5,556.9 L1979.0,556.6 L1980.5,557.0 L1982.0,557.2 L1983.5,557.3 L1984.9,557.1 L1986.4,557.4 L1987.9,557.9 L1989.4,558.2 L1990.9,557.9 L1992.4,558.0 L1993.9,558.2 L1995.4,558.6 L1996.8,558.1 L1998.3,558.1 L1999.8,558.8 L2001.3,558.5 L2002.8,558.8 L2004.3,559.2 L2005.8,559.4 L2007.3,559.0 L2008.7,559.8 L2010.2,559.1 L2011.7,559.9 L2013.2,559.2 L2014.7,559.3 L2016.2,560.0 L2017.7,559.7 L2019.2,559.6 L2020.6,559.7 L2022.1,560.1 L2023.6,559.9 L2025.1,560.0 L2026.6,560.4 L2028.1,559.8 L2029.6,559.9 L2031.1,559.9 L2032.5,560.5 L2034.0,560.5 L2035.5,560.6 L2037.0,560.2 L2038.5,560.2 L2040.0,560.6 L2041.5,560.2 L2043.0,560.6 L2044.5,560.6 L2045.9,560.1 L2047.4,560.4 L2048.9,560.4 L2050.4,561.1 L2051.9,561.4 L2053.4,560.5 L2054.9,560.6 L2056.4,559.8 L2057.8,560.7 L2059.3,560.6 L2060.8,560.3 L2062.3,561.0 L2063.8,560.2 L2065.3,560.7 L2066.8,560.8 L2068.3,560.3 L2069.7,561.1 L2071.2,561.2 L2072.7,560.4 L2074.2,560.4 L2075.7,561.1 L2077.2,560.9 L2078.7,560.5 L2080.2,560.9 L2081.6,561.0 L2083.1,561.0 L2084.6,561.3 L2086.1,561.2 L2087.6,561.7 L2089.1,561.6 L2090.6,561.4 L2092.1,561.5 L2093.5,561.7 L2095.0,561.5 L2096.5,560.8 L2098.0,561.6 L2099.5,561.3" fill="none" stroke="#000000" stroke-width="8" stroke-linejoin="round"/>
<path clip-path="url(#cia)" d="M1355.6,450.7 L1357.1,449.3 L1358.6,450.6 L1360.1,450.5 L1361.6,450.8 L1363.0,451.1 L1364.5,450.7 L1366.0,451.6 L1367.5,451.6 L1369.0,453.3 L1370.5,452.5 L1372.0,452.5 L1373.5,452.8 L1374.9,452.9 L1376.4,453.0 L1377.9,453.5 L1379.4,454.0 L1380.9,454.0 L1382.4,454.7 L1383.9,454.5 L1385.4,454.8 L1386.8,455.6 L1388.3,455.5 L1389.8,455.4 L1391.3,455.7 L1392.8,456.2 L1394.3,456.9 L1395.8,456.4 L1397.3,456.7 L1398.7,457.3 L1400.2,456.9 L1401.7,457.4 L1403.2,458.0 L1404.7,458.1 L1406.2,458.2 L1407.7,458.7 L1409.2,457.7 L1410.6,459.3 L1412.1,458.8 L1413.6,458.8 L1415.1,459.7 L1416.6,460.1 L1418.1,459.9 L1419.6,460.0 L1421.1,460.6 L1422.6,460.8 L1424.0,461.5 L1425.5,461.5 L1427.0,461.6 L1428.5,462.1 L1430.0,461.9 L1431.5,461.9 L1433.0,462.7 L1434.5,462.9 L1435.9,462.9 L1437.4,462.9 L1438.9,463.5 L1440.4,462.8 L1441.9,464.1 L1443.4,464.3 L1444.9,463.8 L1446.4,464.6 L1447.8,464.5 L1449.3,465.3 L1450.8,464.6 L1452.3,465.2 L1453.8,466.0 L1455.3,466.4 L1456.8,465.5 L1458.3,466.3 L1459.7,466.8 L1461.2,466.7 L1462.7,467.7 L1464.2,467.0 L1465.7,467.8 L1467.2,467.5 L1468.7,468.6 L1470.2,468.3 L1471.6,468.4 L1473.1,468.2 L1474.6,469.6 L1476.1,469.5 L1477.6,469.8 L1479.1,470.1 L1480.6,470.1 L1482.1,470.0 L1483.6,470.1 L1485.0,470.4 L1486.5,471.4 L1488.0,470.6 L1489.5,471.1 L1491.0,471.4 L1492.5,471.9 L1494.0,472.2 L1495.5,471.8 L1496.9,471.9 L1498.4,472.7 L1499.9,473.3 L1501.4,473.4 L1502.9,473.4 L1504.4,473.5 L1505.9,474.0 L1507.4,474.1 L1508.8,474.8 L1510.3,474.5 L1511.8,475.1 L1513.3,475.3 L1514.8,475.8 L1516.3,476.0 L1517.8,477.1 L1519.3,477.0 L1520.7,477.3 L1522.2,476.4 L1523.7,477.3 L1525.2,477.5 L1526.7,478.1 L1528.2,477.4 L1529.7,478.9 L1531.2,479.2 L1532.6,478.6 L1534.1,479.0 L1535.6,479.4 L1537.1,480.0 L1538.6,480.5 L1540.1,481.2 L1541.6,480.7 L1543.1,481.4 L1544.6,481.4 L1546.0,482.3 L1547.5,482.2 L1549.0,482.7 L1550.5,482.1 L1552.0,482.7 L1553.5,482.7 L1555.0,483.8 L1556.5,483.8 L1557.9,483.7 L1559.4,484.0 L1560.9,484.6 L1562.4,484.4 L1563.9,484.6 L1565.4,485.4 L1566.9,486.3 L1568.4,485.6 L1569.8,485.8 L1571.3,485.8 L1572.8,486.0 L1574.3,487.0 L1575.8,487.3 L1577.3,487.3 L1578.8,487.7 L1580.3,487.6 L1581.7,487.7 L1583.2,487.2 L1584.7,487.6 L1586.2,487.8 L1587.7,487.6 L1589.2,487.7 L1590.7,487.7 L1592.2,487.9 L1593.6,488.3 L1595.1,487.9 L1596.6,488.0 L1598.1,488.4 L1599.6,488.4 L1601.1,488.7 L1602.6,487.4 L1604.1,488.5 L1605.6,488.0 L1607.0,488.2 L1608.5,488.5 L1610.0,488.5 L1611.5,488.5 L1613.0,488.2 L1614.5,488.7 L1616.0,488.0 L1617.5,488.0 L1618.9,488.2 L1620.4,487.7 L1621.9,488.6 L1623.4,488.1 L1624.9,488.4 L1626.4,487.5 L1627.9,487.3 L1629.4,487.4 L1630.8,487.4 L1632.3,486.8 L1633.8,486.9 L1635.3,486.6 L1636.8,487.0 L1638.3,485.9 L1639.8,486.3 L1641.3,485.4 L1642.7,485.0 L1644.2,484.8 L1645.7,484.3 L1647.2,484.4 L1648.7,484.3 L1650.2,483.5 L1651.7,483.2 L1653.2,483.1 L1654.6,482.1 L1656.1,481.5 L1657.6,480.7 L1659.1,479.6 L1660.6,479.7 L1662.1,478.1 L1663.6,478.2 L1665.1,477.1 L1666.6,476.6 L1668.0,475.3 L1669.5,474.0 L1671.0,473.4 L1672.5,472.0 L1674.0,471.0 L1675.5,469.9 L1677.0,468.5 L1678.5,467.2 L1679.9,465.5 L1681.4,464.3 L1682.9,462.1 L1684.4,461.2 L1685.9,459.1 L1687.4,458.2 L1688.9,456.4 L1690.4,453.4 L1691.8,452.2 L1693.3,450.1 L1694.8,447.6 L1696.3,446.0 L1697.8,443.4 L1699.3,440.6 L1700.8,438.7 L1702.3,436.2 L1703.7,433.8 L1705.2,430.7 L1706.7,428.6 L1708.2,425.9 L1709.7,422.4 L1711.2,419.7 L1712.7,416.9 L1714.2,413.7 L1715.6,411.4 L1717.1,407.8 L1718.6,404.2 L1720.1,401.0 L1721.6,398.0 L1723.1,395.5 L1724.6,391.3 L1726.1,388.1 L1727.6,384.8 L1729.0,381.3 L1730.5,378.7 L1732.0,374.3 L1733.5,371.3 L1735.0,367.8 L1736.5,364.6 L1738.0,360.6 L1739.5,358.3 L1740.9,354.4 L1742.4,351.3 L1743.9,347.8 L1745.4,344.8 L1746.9,342.3 L1748.4,339.6 L1749.9,336.7 L1751.4,334.2 L1752.8,331.5 L1754.3,328.8 L1755.8,326.9 L1757.3,324.6 L1758.8,322.4 L1760.3,320.9 L1761.8,319.5 L1763.3,317.7 L1764.7,316.3 L1766.2,315.6 L1767.7,315.2 L1769.2,313.8 L1770.7,313.4 L1772.2,313.2 L1773.7,313.7 L1775.2,312.9 L1776.6,314.1 L1778.1,315.0 L1779.6,315.2 L1781.1,317.1 L1782.6,318.1 L1784.1,319.2 L1785.6,321.1 L1787.1,322.4 L1788.5,324.8 L1790.0,327.8 L1791.5,329.2 L1793.0,332.7 L1794.5,334.7 L1796.0,337.9 L1797.5,340.5 L1799.0,342.7 L1800.5,346.4 L1801.9,349.9 L1803.4,352.7 L1804.9,356.0 L1806.4,360.1 L1807.9,363.2 L1809.4,366.4 L1810.9,370.3 L1812.4,374.5 L1813.8,377.6 L1815.3,381.8 L1816.8,385.6 L1818.3,388.7 L1819.8,392.0 L1821.3,395.5 L1822.8,399.6 L1824.3,403.5 L1825.7,406.8 L1827.2,410.4 L1828.7,413.5 L1830.2,417.2 L1831.7,420.3 L1833.2,423.7 L1834.7,426.6 L1836.2,429.8 L1837.6,433.3 L1839.1,436.2 L1840.6,439.2 L1842.1,442.7 L1843.6,445.4 L1845.1,449.2 L1846.6,451.3 L1848.1,453.4 L1849.5,456.5 L1851.0,458.8 L1852.5,460.9 L1854.0,463.9 L1855.5,465.5 L1857.0,466.9 L1858.5,470.4 L1860.0,472.0 L1861.5,474.7 L1862.9,475.9 L1864.4,477.6 L1865.9,480.3 L1867.4,481.1 L1868.9,483.2 L1870.4,485.2 L1871.9,486.3 L1873.4,487.7 L1874.8,489.1 L1876.3,490.7 L1877.8,491.4 L1879.3,493.2 L1880.8,494.3 L1882.3,496.1 L1883.8,496.2 L1885.3,497.0 L1886.7,498.6 L1888.2,499.1 L1889.7,500.3 L1891.2,501.1 L1892.7,502.2 L1894.2,502.4 L1895.7,503.3 L1897.2,503.2 L1898.6,504.4 L1900.1,505.9 L1901.6,505.8 L1903.1,506.4 L1904.6,506.8 L1906.1,507.9 L1907.6,508.3 L1909.1,508.3 L1910.5,509.5 L1912.0,509.8 L1913.5,510.4 L1915.0,510.3 L1916.5,511.6 L1918.0,511.5 L1919.5,511.7 L1921.0,511.9 L1922.5,512.4 L1923.9,513.1 L1925.4,513.1 L1926.9,513.8 L1928.4,514.0 L1929.9,514.6 L1931.4,514.7 L1932.9,514.6 L1934.4,514.3 L1935.8,515.3 L1937.3,515.8 L1938.8,515.8 L1940.3,516.2 L1941.8,516.1 L1943.3,516.3 L1944.8,516.4 L1946.3,517.4 L1947.7,517.2 L1949.2,517.2 L1950.7,517.2 L1952.2,517.8 L1953.7,518.6 L1955.2,518.4 L1956.7,518.2 L1958.2,519.2 L1959.6,519.4 L1961.1,519.4 L1962.6,519.6 L1964.1,519.9 L1965.6,519.9 L1967.1,520.1 L1968.6,519.8 L1970.1,520.8 L1971.5,520.5 L1973.0,521.3 L1974.5,520.1 L1976.0,521.2 L1977.5,521.5 L1979.0,521.2 L1980.5,521.7 L1982.0,522.0 L1983.5,522.1 L1984.9,521.9 L1986.4,522.2 L1987.9,522.8 L1989.4,523.0 L1990.9,522.8 L1992.4,523.0 L1993.9,523.2 L1995.4,523.6 L1996.8,523.1 L1998.3,523.1 L1999.8,523.8 L2001.3,523.6 L2002.8,523.9 L2004.3,524.3 L2005.8,524.6 L2007.3,524.2 L2008.7,525.0 L2010.2,524.3 L2011.7,525.0 L2013.2,524.1 L2014.7,524.0 L2016.2,524.6 L2017.7,524.0 L2019.2,523.7 L2020.6,523.7 L2022.1,523.9 L2023.6,523.6 L2025.1,523.4 L2026.6,523.6 L2028.1,522.9 L2029.6,522.8 L2031.1,522.6 L2032.5,523.1 L2034.0,522.8 L2035.5,522.8 L2037.0,522.2 L2038.5,522.0 L2040.0,522.2 L2041.5,521.6 L2043.0,521.8 L2044.5,521.7 L2045.9,521.0 L2047.4,521.1 L2048.9,520.9 L2050.4,521.4 L2051.9,521.5 L2053.4,520.4 L2054.9,520.3 L2056.4,519.3 L2057.8,520.0 L2059.3,519.8 L2060.8,519.3 L2062.3,519.8 L2063.8,518.8 L2065.3,519.1 L2066.8,519.0 L2068.3,518.4 L2069.7,519.0 L2071.2,518.9 L2072.7,517.8 L2074.2,517.7 L2075.7,518.2 L2077.2,517.8 L2078.7,517.2 L2080.2,517.4 L2081.6,517.3 L2083.1,517.1 L2084.6,517.3 L2086.1,517.0 L2087.6,517.3 L2089.1,517.0 L2090.6,516.6 L2092.1,516.6 L2093.5,516.5 L2095.0,516.1 L2096.5,515.2 L2098.0,515.8 L2099.5,515.4" fill="none" stroke="#ff0000" stroke-width="8" stroke-linejoin="round"/>
<path clip-path="url(#cia)" d="M1355.6,423.6 L1357.1,422.2 L1358.6,423.5 L1360.1,423.4 L1361.6,423.6 L1363.0,423.9 L1364.5,423.5 L1366.0,424.4 L1367.5,424.4 L1369.0,426.1 L1370.5,425.3 L1372.0,425.3 L1373.5,425.5 L1374.9,425.6 L1376.4,425.7 L1377.9,426.2 L1379.4,426.7 L1380.9,426.7 L1382.4,427.4 L1383.9,427.2 L1385.4,427.5 L1386.8,428.3 L1388.3,428.1 L1389.8,428.0 L1391.3,428.4 L1392.8,428.8 L1394.3,429.6 L1395.8,429.0 L1397.3,429.3 L1398.7,429.9 L1400.2,429.5 L1401.7,429.9 L1403.2,430.6 L1404.7,430.7 L1406.2,430.7 L1407.7,431.2 L1409.2,430.2 L1410.6,431.8 L1412.1,431.3 L1413.6,431.3 L1415.1,432.2 L1416.6,432.6 L1418.1,432.4 L1419.6,432.4 L1421.1,433.0 L1422.6,433.2 L1424.0,433.9 L1425.5,433.9 L1427.0,434.0 L1428.5,434.5 L1430.0,434.3 L1431.5,434.3 L1433.0,435.0 L1434.5,435.2 L1435.9,435.2 L1437.4,435.2 L1438.9,435.8 L1440.4,435.1 L1441.9,436.4 L1443.4,436.6 L1444.9,436.0 L1446.4,436.9 L1447.8,436.7 L1449.3,437.6 L1450.8,436.8 L1452.3,437.4 L1453.8,438.2 L1455.3,438.6 L1456.8,437.7 L1458.3,438.5 L1459.7,439.0 L1461.2,438.9 L1462.7,439.9 L1464.2,439.1 L1465.7,439.9 L1467.2,439.6 L1468.7,440.7 L1470.2,440.4 L1471.6,440.5 L1473.1,440.3 L1474.6,441.7 L1476.1,441.6 L1477.6,441.8 L1479.1,442.1 L1480.6,442.1 L1482.1,442.0 L1483.6,442.1 L1485.0,442.3 L1486.5,443.3 L1488.0,442.6 L1489.5,443.1 L1491.0,443.4 L1492.5,443.8 L1494.0,444.1 L1495.5,443.7 L1496.9,443.8 L1498.4,444.6 L1499.9,445.2 L1501.4,445.3 L1502.9,445.3 L1504.4,445.3 L1505.9,445.7 L1507.4,445.6 L1508.8,446.1 L1510.3,445.7 L1511.8,446.1 L1513.3,446.1 L1514.8,446.5 L1516.3,446.5 L1517.8,447.4 L1519.3,447.2 L1520.7,447.3 L1522.2,446.2 L1523.7,446.9 L1525.2,446.9 L1526.7,447.4 L1528.2,446.5 L1529.7,447.9 L1531.2,447.9 L1532.6,447.2 L1534.1,447.4 L1535.6,447.6 L1537.1,448.0 L1538.6,448.3 L1540.1,449.0 L1541.6,448.3 L1543.1,448.7 L1544.6,448.6 L1546.0,449.3 L1547.5,449.0 L1549.0,449.4 L1550.5,448.6 L1552.0,449.0 L1553.5,448.9 L1555.0,449.8 L1556.5,449.6 L1557.9,449.4 L1559.4,449.4 L1560.9,449.9 L1562.4,449.6 L1563.9,449.6 L1565.4,450.2 L1566.9,450.9 L1568.4,450.1 L1569.8,450.1 L1571.3,450.0 L1572.8,450.0 L1574.3,450.7 L1575.8,450.9 L1577.3,450.7 L1578.8,450.9 L1580.3,450.9 L1581.7,451.0 L1583.2,450.5 L1584.7,451.0 L1586.2,451.2 L1587.7,451.0 L1589.2,451.2 L1590.7,451.1 L1592.2,451.4 L1593.6,451.8 L1595.1,451.5 L1596.6,451.6 L1598.1,452.0 L1599.6,452.0 L1601.1,452.4 L1602.6,451.1 L1604.1,452.2 L1605.6,451.8 L1607.0,452.0 L1608.5,452.3 L1610.0,452.4 L1611.5,452.4 L1613.0,452.1 L1614.5,452.6 L1616.0,451.9 L1617.5,451.9 L1618.9,452.1 L1620.4,451.5 L1621.9,452.4 L1623.4,451.8 L1624.9,452.1 L1626.4,451.2 L1627.9,450.9 L1629.4,450.9 L1630.8,451.0 L1632.3,450.3 L1633.8,450.4 L1635.3,450.1 L1636.8,450.4 L1638.3,449.4 L1639.8,449.7 L1641.3,448.9 L1642.7,448.5 L1644.2,448.2 L1645.7,447.7 L1647.2,447.9 L1648.7,447.8 L1650.2,447.1 L1651.7,446.9 L1653.2,446.8 L1654.6,445.9 L1656.1,445.3 L1657.6,444.7 L1659.1,443.7 L1660.6,443.9 L1662.1,442.5 L1663.6,442.7 L1665.1,441.8 L1666.6,441.5 L1668.0,440.3 L1669.5,439.3 L1671.0,438.9 L1672.5,437.8 L1674.0,437.0 L1675.5,436.2 L1677.0,435.1 L1678.5,434.1 L1679.9,432.9 L1681.4,432.0 L1682.9,430.2 L1684.4,429.7 L1685.9,428.1 L1687.4,427.6 L1688.9,426.3 L1690.4,423.8 L1691.8,423.1 L1693.3,421.5 L1694.8,419.6 L1696.3,418.6 L1697.8,416.6 L1699.3,414.4 L1700.8,413.2 L1702.3,411.4 L1703.7,409.7 L1705.2,407.3 L1706.7,405.9 L1708.2,403.9 L1709.7,401.2 L1711.2,399.2 L1712.7,397.2 L1714.2,394.8 L1715.6,393.3 L1717.1,390.4 L1718.6,387.6 L1720.1,385.2 L1721.6,383.0 L1723.1,381.3 L1724.6,377.8 L1726.1,375.3 L1727.6,372.8 L1729.0,369.9 L1730.5,368.0 L1732.0,364.3 L1733.5,361.9 L1735.0,358.9 L1736.5,356.2 L1738.0,352.8 L1739.5,350.9 L1740.9,347.4 L1742.4,344.6 L1743.9,341.4 L1745.4,338.6 L1746.9,336.2 L1748.4,333.4 L1749.9,330.5 L1751.4,327.9 L1752.8,324.9 L1754.3,321.9 L1755.8,319.5 L1757.3,316.8 L1758.8,313.9 L1760.3,311.6 L1761.8,309.3 L1763.3,306.5 L1764.7,304.0 L1766.2,302.1 L1767.7,300.3 L1769.2,297.5 L1770.7,295.6 L1772.2,293.7 L1773.7,292.4 L1775.2,289.7 L1776.6,289.0 L1778.1,287.9 L1779.6,286.0 L1781.1,285.7 L1782.6,284.4 L1784.1,283.2 L1785.6,282.8 L1787.1,281.7 L1788.5,281.7 L1790.0,282.3 L1791.5,281.4 L1793.0,282.5 L1794.5,282.1 L1796.0,282.9 L1797.5,283.2 L1799.0,283.2 L1800.5,284.7 L1801.9,286.0 L1803.4,286.7 L1804.9,288.0 L1806.4,290.1 L1807.9,291.4 L1809.4,292.8 L1810.9,295.0 L1812.4,297.5 L1813.8,299.1 L1815.3,301.8 L1816.8,304.3 L1818.3,306.2 L1819.8,308.2 L1821.3,310.7 L1822.8,313.7 L1824.3,316.7 L1825.7,319.2 L1827.2,322.1 L1828.7,324.6 L1830.2,327.7 L1831.7,330.3 L1833.2,333.3 L1834.7,335.9 L1836.2,338.8 L1837.6,342.2 L1839.1,344.9 L1840.6,348.0 L1842.1,351.5 L1843.6,354.2 L1845.1,358.3 L1846.6,360.5 L1848.1,362.9 L1849.5,366.3 L1851.0,369.1 L1852.5,371.6 L1854.0,375.1 L1855.5,377.2 L1857.0,379.2 L1858.5,383.3 L1860.0,385.5 L1861.5,388.9 L1862.9,390.7 L1864.4,393.1 L1865.9,396.6 L1867.4,398.1 L1868.9,401.0 L1870.4,403.8 L1871.9,405.6 L1873.4,407.8 L1874.8,410.1 L1876.3,412.5 L1877.8,414.0 L1879.3,416.5 L1880.8,418.5 L1882.3,421.0 L1883.8,422.0 L1885.3,423.6 L1886.7,425.9 L1888.2,427.2 L1889.7,429.1 L1891.2,430.7 L1892.7,432.6 L1894.2,433.5 L1895.7,435.1 L1897.2,435.6 L1898.6,437.6 L1900.1,439.7 L1901.6,440.2 L1903.1,441.4 L1904.6,442.4 L1906.1,444.1 L1907.6,445.0 L1909.1,445.6 L1910.5,447.2 L1912.0,448.1 L1913.5,449.1 L1915.0,449.5 L1916.5,451.2 L1918.0,451.5 L1919.5,452.1 L1921.0,452.7 L1922.5,453.5 L1923.9,454.6 L1925.4,454.9 L1926.9,456.0 L1928.4,456.4 L1929.9,457.2 L1931.4,457.6 L1932.9,457.8 L1934.4,457.6 L1935.8,458.9 L1937.3,459.5 L1938.8,459.8 L1940.3,460.3 L1941.8,460.4 L1943.3,460.8 L1944.8,461.0 L1946.3,462.1 L1947.7,462.0 L1949.2,462.1 L1950.7,462.2 L1952.2,462.9 L1953.7,463.7 L1955.2,463.7 L1956.7,463.5 L1958.2,464.5 L1959.6,464.8 L1961.1,464.9 L1962.6,465.0 L1964.1,465.4 L1965.6,465.4 L1967.1,465.7 L1968.6,465.3 L1970.1,466.3 L1971.5,466.1 L1973.0,466.9 L1974.5,465.7 L1976.0,466.8 L1977.5,467.1 L1979.0,466.8 L1980.5,467.2 L1982.0,467.5 L1983.5,467.6 L1984.9,467.3 L1986.4,467.6 L1987.9,468.2 L1989.4,468.4 L1990.9,468.1 L1992.4,468.3 L1993.9,468.4 L1995.4,468.9 L1996.8,468.3 L1998.3,468.3 L1999.8,468.9 L2001.3,468.6 L2002.8,468.9 L2004.3,469.3 L2005.8,469.5 L2007.3,469.1 L2008.7,469.9 L2010.2,469.1 L2011.7,469.9 L2013.2,469.2 L2014.7,469.3 L2016.2,470.0 L2017.7,469.7 L2019.2,469.6 L2020.6,469.7 L2022.1,470.0 L2023.6,469.9 L2025.1,469.9 L2026.6,470.3 L2028.1,469.7 L2029.6,469.8 L2031.1,469.7 L2032.5,470.3 L2034.0,470.3 L2035.5,470.4 L2037.0,470.0 L2038.5,469.9 L2040.0,470.3 L2041.5,469.8 L2043.0,470.3 L2044.5,470.2 L2045.9,469.7 L2047.4,470.0 L2048.9,469.9 L2050.4,470.6 L2051.9,470.9 L2053.4,470.0 L2054.9,470.0 L2056.4,469.2 L2057.8,470.1 L2059.3,470.0 L2060.8,469.6 L2062.3,470.3 L2063.8,469.4 L2065.3,469.9 L2066.8,470.0 L2068.3,469.5 L2069.7,470.3 L2071.2,470.3 L2072.7,469.5 L2074.2,469.4 L2075.7,470.1 L2077.2,469.9 L2078.7,469.5 L2080.2,469.8 L2081.6,469.9 L2083.1,469.8 L2084.6,470.2 L2086.1,470.0 L2087.6,470.5 L2089.1,470.3 L2090.6,470.1 L2092.1,470.2 L2093.5,470.3 L2095.0,470.1 L2096.5,469.4 L2098.0,470.1 L2099.5,469.8" fill="none" stroke="#008000" stroke-width="8" stroke-linejoin="round"/>
<path clip-path="url(#cia)" d="M1355.6,377.5 L1357.1,376.2 L1358.6,377.5 L1360.1,377.3 L1361.6,377.6 L1363.0,378.0 L1364.5,377.6 L1366.0,378.4 L1367.5,378.5 L1369.0,380.2 L1370.5,379.3 L1372.0,379.4 L1373.5,379.6 L1374.9,379.7 L1376.4,379.8 L1377.9,380.3 L1379.4,380.8 L1380.9,380.8 L1382.4,381.5 L1383.9,381.3 L1385.4,381.6 L1386.8,382.4 L1388.3,382.3 L1389.8,382.2 L1391.3,382.5 L1392.8,383.0 L1394.3,383.8 L1395.8,383.2 L1397.3,383.5 L1398.7,384.1 L1400.2,383.7 L1401.7,384.2 L1403.2,384.8 L1404.7,384.9 L1406.2,385.0 L1407.7,385.5 L1409.2,384.5 L1410.6,386.1 L1412.1,385.6 L1413.6,385.6 L1415.1,386.5 L1416.6,386.9 L1418.1,386.7 L1419.6,386.7 L1421.1,387.4 L1422.6,387.6 L1424.0,388.3 L1425.5,388.3 L1427.0,388.4 L1428.5,388.9 L1430.0,388.7 L1431.5,388.7 L1433.0,389.4 L1434.5,389.7 L1435.9,389.6 L1437.4,389.7 L1438.9,390.3 L1440.4,389.5 L1441.9,390.9 L1443.4,391.1 L1444.9,390.5 L1446.4,391.4 L1447.8,391.2 L1449.3,392.1 L1450.8,391.3 L1452.3,392.0 L1453.8,392.8 L1455.3,393.1 L1456.8,392.2 L1458.3,393.0 L1459.7,393.6 L1461.2,393.5 L1462.7,394.5 L1464.2,393.7 L1465.7,394.5 L1467.2,394.2 L1468.7,395.3 L1470.2,395.0 L1471.6,395.1 L1473.1,394.9 L1474.6,396.3 L1476.1,396.2 L1477.6,396.5 L1479.1,396.8 L1480.6,396.8 L1482.1,396.6 L1483.6,396.8 L1485.0,397.0 L1486.5,398.0 L1488.0,397.3 L1489.5,397.8 L1491.0,398.1 L1492.5,398.5 L1494.0,398.9 L1495.5,398.5 L1496.9,398.5 L1498.4,399.3 L1499.9,400.0 L1501.4,400.1 L1502.9,400.1 L1504.4,400.1 L1505.9,400.4 L1507.4,400.3 L1508.8,400.8 L1510.3,400.4 L1511.8,400.8 L1513.3,400.8 L1514.8,401.1 L1516.3,401.1 L1517.8,402.0 L1519.3,401.8 L1520.7,401.9 L1522.2,400.7 L1523.7,401.4 L1525.2,401.4 L1526.7,401.9 L1528.2,401.0 L1529.7,402.3 L1531.2,402.4 L1532.6,401.7 L1534.1,401.9 L1535.6,402.0 L1537.1,402.4 L1538.6,402.7 L1540.1,403.3 L1541.6,402.6 L1543.1,403.0 L1544.6,402.9 L1546.0,403.5 L1547.5,403.3 L1549.0,403.6 L1550.5,402.8 L1552.0,403.2 L1553.5,403.0 L1555.0,403.9 L1556.5,403.7 L1557.9,403.5 L1559.4,403.5 L1560.9,403.9 L1562.4,403.6 L1563.9,403.5 L1565.4,404.1 L1566.9,404.9 L1568.4,404.0 L1569.8,404.0 L1571.3,403.8 L1572.8,403.8 L1574.3,404.5 L1575.8,404.7 L1577.3,404.5 L1578.8,404.7 L1580.3,404.6 L1581.7,404.7 L1583.2,404.2 L1584.7,404.6 L1586.2,404.9 L1587.7,404.6 L1589.2,404.8 L1590.7,404.7 L1592.2,404.9 L1593.6,405.3 L1595.1,404.9 L1596.6,405.1 L1598.1,405.4 L1599.6,405.4 L1601.1,405.8 L1602.6,404.5 L1604.1,405.6 L1605.6,405.1 L1607.0,405.3 L1608.5,405.6 L1610.0,405.7 L1611.5,405.7 L1613.0,405.3 L1614.5,405.8 L1616.0,405.2 L1617.5,405.1 L1618.9,405.4 L1620.4,404.9 L1621.9,405.7 L1623.4,405.2 L1624.9,405.5 L1626.4,404.7 L1627.9,404.4 L1629.4,404.5 L1630.8,404.5 L1632.3,403.9 L1633.8,404.1 L1635.3,403.7 L1636.8,404.1 L1638.3,403.1 L1639.8,403.5 L1641.3,402.6 L1642.7,402.2 L1644.2,402.0 L1645.7,401.5 L1647.2,401.6 L1648.7,401.6 L1650.2,400.9 L1651.7,400.6 L1653.2,400.5 L1654.6,399.5 L1656.1,398.9 L1657.6,398.1 L1659.1,397.0 L1660.6,397.2 L1662.1,395.6 L1663.6,395.6 L1665.1,394.6 L1666.6,394.1 L1668.0,392.7 L1669.5,391.4 L1671.0,390.8 L1672.5,389.3 L1674.0,388.2 L1675.5,386.9 L1677.0,385.5 L1678.5,384.0 L1679.9,382.2 L1681.4,380.8 L1682.9,378.3 L1684.4,377.2 L1685.9,374.9 L1687.4,373.6 L1688.9,371.5 L1690.4,368.1 L1691.8,366.5 L1693.3,363.9 L1694.8,360.9 L1696.3,358.7 L1697.8,355.5 L1699.3,352.0 L1700.8,349.4 L1702.3,346.2 L1703.7,342.9 L1705.2,339.0 L1706.7,336.0 L1708.2,332.3 L1709.7,327.7 L1711.2,323.9 L1712.7,319.9 L1714.2,315.5 L1715.6,312.0 L1717.1,306.9 L1718.6,301.9 L1720.1,297.3 L1721.6,292.7 L1723.1,288.7 L1724.6,282.8 L1726.1,277.9 L1727.6,272.9 L1729.0,267.5 L1730.5,263.0 L1732.0,256.7 L1733.5,251.9 L1735.0,246.3 L1736.5,241.1 L1738.0,235.1 L1739.5,230.8 L1740.9,224.8 L1742.4,219.6 L1743.9,214.0 L1745.4,209.0 L1746.9,204.4 L1748.4,199.6 L1749.9,194.7 L1751.4,190.2 L1752.8,185.5 L1754.3,180.9 L1755.8,177.1 L1757.3,173.1 L1758.8,169.2 L1760.3,166.1 L1761.8,163.1 L1763.3,159.9 L1764.7,157.2 L1766.2,155.3 L1767.7,153.9 L1769.2,151.6 L1770.7,150.4 L1772.2,149.6 L1773.7,149.6 L1775.2,148.4 L1776.6,149.5 L1778.1,150.4 L1779.6,150.7 L1781.1,152.9 L1782.6,154.3 L1784.1,156.0 L1785.6,158.7 L1787.1,160.8 L1788.5,164.2 L1790.0,168.4 L1791.5,171.0 L1793.0,175.8 L1794.5,179.2 L1796.0,183.9 L1797.5,188.1 L1799.0,192.0 L1800.5,197.4 L1801.9,202.7 L1803.4,207.3 L1804.9,212.5 L1806.4,218.4 L1807.9,223.5 L1809.4,228.6 L1810.9,234.4 L1812.4,240.5 L1813.8,245.6 L1815.3,251.6 L1816.8,257.4 L1818.3,262.4 L1819.8,267.5 L1821.3,272.9 L1822.8,278.7 L1824.3,284.3 L1825.7,289.4 L1827.2,294.6 L1828.7,299.4 L1830.2,304.6 L1831.7,309.2 L1833.2,314.1 L1834.7,318.4 L1836.2,322.9 L1837.6,327.7 L1839.1,331.8 L1840.6,336.1 L1842.1,340.7 L1843.6,344.4 L1845.1,349.3 L1846.6,352.3 L1848.1,355.3 L1849.5,359.2 L1851.0,362.4 L1852.5,365.2 L1854.0,368.9 L1855.5,371.2 L1857.0,373.2 L1858.5,377.2 L1860.0,379.3 L1861.5,382.5 L1862.9,384.1 L1864.4,386.2 L1865.9,389.3 L1867.4,390.4 L1868.9,392.8 L1870.4,395.1 L1871.9,396.3 L1873.4,397.9 L1874.8,399.6 L1876.3,401.3 L1877.8,402.2 L1879.3,404.0 L1880.8,405.3 L1882.3,407.1 L1883.8,407.3 L1885.3,408.2 L1886.7,409.8 L1888.2,410.4 L1889.7,411.5 L1891.2,412.3 L1892.7,413.5 L1894.2,413.7 L1895.7,414.6 L1897.2,414.4 L1898.6,415.7 L1900.1,417.2 L1901.6,417.0 L1903.1,417.5 L1904.6,417.9 L1906.1,419.0 L1907.6,419.4 L1909.1,419.4 L1910.5,420.5 L1912.0,420.7 L1913.5,421.3 L1915.0,421.2 L1916.5,422.4 L1918.0,422.3 L1919.5,422.5 L1921.0,422.7 L1922.5,423.1 L1923.9,423.8 L1925.4,423.7 L1926.9,424.5 L1928.4,424.6 L1929.9,425.1 L1931.4,425.2 L1932.9,425.1 L1934.4,424.7 L1935.8,425.8 L1937.3,426.2 L1938.8,426.2 L1940.3,426.5 L1941.8,426.4 L1943.3,426.7 L1944.8,426.7 L1946.3,427.7 L1947.7,427.5 L1949.2,427.5 L1950.7,427.4 L1952.2,428.0 L1953.7,428.7 L1955.2,428.6 L1956.7,428.3 L1958.2,429.3 L1959.6,429.5 L1961.1,429.5 L1962.6,429.6 L1964.1,429.9 L1965.6,429.9 L1967.1,430.1 L1968.6,429.8 L1970.1,430.7 L1971.5,430.5 L1973.0,431.2 L1974.5,430.0 L1976.0,431.1 L1977.5,431.4 L1979.0,431.1 L1980.5,431.5 L1982.0,431.8 L1983.5,431.9 L1984.9,431.6 L1986.4,431.9 L1987.9,432.5 L1989.4,432.7 L1990.9,432.5 L1992.4,432.6 L1993.9,432.8 L1995.4,433.2 L1996.8,432.5 L1998.3,432.3 L1999.8,432.8 L2001.3,432.3 L2002.8,432.4 L2004.3,432.6 L2005.8,432.7 L2007.3,432.1 L2008.7,432.7 L2010.2,431.7 L2011.7,432.5 L2013.2,431.7 L2014.7,431.7 L2016.2,432.4 L2017.7,431.9 L2019.2,431.7 L2020.6,431.8 L2022.1,432.1 L2023.6,431.8 L2025.1,431.8 L2026.6,432.1 L2028.1,431.4 L2029.6,431.4 L2031.1,431.3 L2032.5,431.9 L2034.0,431.7 L2035.5,431.8 L2037.0,431.2 L2038.5,431.1 L2040.0,431.4 L2041.5,430.9 L2043.0,431.3 L2044.5,431.2 L2045.9,430.6 L2047.4,430.7 L2048.9,430.6 L2050.4,431.2 L2051.9,431.4 L2053.4,430.4 L2054.9,430.4 L2056.4,429.5 L2057.8,430.3 L2059.3,430.2 L2060.8,429.7 L2062.3,430.3 L2063.8,429.4 L2065.3,429.8 L2066.8,429.8 L2068.3,429.3 L2069.7,429.9 L2071.2,429.9 L2072.7,429.0 L2074.2,428.9 L2075.7,429.5 L2077.2,429.2 L2078.7,428.8 L2080.2,429.0 L2081.6,429.0 L2083.1,428.9 L2084.6,429.2 L2086.1,428.9 L2087.6,429.3 L2089.1,429.1 L2090.6,428.8 L2092.1,428.8 L2093.5,428.8 L2095.0,428.5 L2096.5,427.8 L2098.0,428.4 L2099.5,428.1" fill="none" stroke="#0000ff" stroke-width="8" stroke-linejoin="round"/>
<rect x="1355.6" y="108.5" width="743.9" height="481.8" fill="none" stroke="#000" stroke-width="8.5"/>
<line x1="1355.6" y1="590.3" x2="1355.6" y2="600" stroke="#000" stroke-width="8.5" stroke-linecap="round"/>
<text x="1355.6" y="655.8" font-family="Liberation Sans, Arial, sans-serif" font-size="63" text-anchor="middle">28</text>
<line x1="1504.4" y1="590.3" x2="1504.4" y2="600" stroke="#000" stroke-width="8.5" stroke-linecap="round"/>
<text x="1504.4" y="655.8" font-family="Liberation Sans, Arial, sans-serif" font-size="63" text-anchor="middle">29</text>
<line x1="1653.2" y1="590.3" x2="1653.2" y2="600" stroke="#000" stroke-width="8.5" stroke-linecap="round"/>
<text x="1653.2" y="655.8" font-family="Liberation Sans, Arial, sans-serif" font-size="63" text-anchor="middle">30</text>
<line x1="1801.9" y1="590.3" x2="1801.9" y2="600" stroke="#000" stroke-width="8.5" stroke-linecap="round"/>
<text x="1801.9" y="655.8" font-family="Liberation Sans, Arial, sans-serif" font-size="63" text-anchor="middle">31</text>
<line x1="1950.7" y1="590.3" x2="1950.7" y2="600" stroke="#000" stroke-width="8.5" stroke-linecap="round"/>
<text x="1950.7" y="655.8" font-family="Liberation Sans, Arial, sans-serif" font-size="63" text-anchor="middle">32</text>
<line x1="2099.5" y1="590.3" x2="2099.5" y2="600" stroke="#000" stroke-width="8.5" stroke-linecap="round"/>
<text x="2099.5" y="655.8" font-family="Liberation Sans, Arial, sans-serif" font-size="63" text-anchor="middle">33</text>
<line x1="1430.0" y1="590.3" x2="1430.0" y2="595" stroke="#000" stroke-width="8.5" stroke-linecap="round"/>
<line x1="1578.8" y1="590.3" x2="1578.8" y2="595" stroke="#000" stroke-width="8.5" stroke-linecap="round"/>
<line x1="1727.5" y1="590.3" x2="1727.5" y2="595" stroke="#000" stroke-width="8.5" stroke-linecap="round"/>
<line x1="1876.3" y1="590.3" x2="1876.3" y2="595" stroke="#000" stroke-width="8.5" stroke-linecap="round"/>
<line x1="2025.1" y1="590.3" x2="2025.1" y2="595" stroke="#000" stroke-width="8.5" stroke-linecap="round"/>
<text x="1372.5" y="183.8" font-family="Liberation Sans, Arial, sans-serif" font-size="63" font-weight="bold">B (121)</text>
<path d="M244.5,3237.7 L245.5,3239.0 L246.4,3235.3 L247.4,3239.1 L248.3,3237.2 L249.3,3236.4 L250.2,3236.4 L251.2,3236.1 L252.2,3237.0 L253.1,3238.2 L254.1,3237.9 L255.0,3238.0 L256.0,3235.4 L256.9,3235.5 L257.9,3239.0 L258.9,3238.3 L259.8,3239.6 L260.8,3238.6 L261.7,3236.1 L262.7,3238.6 L263.6,3237.9 L264.6,3237.5 L265.6,3236.3 L266.5,3237.2 L267.5,3237.0 L268.4,3238.2 L269.4,3237.3 L270.3,3238.9 L271.3,3236.3 L272.3,3237.7 L273.2,3237.7 L274.2,3236.2 L275.1,3235.9 L276.1,3238.3 L277.0,3237.7 L278.0,3237.0 L279.0,3237.6 L279.9,3236.4 L280.9,3237.4 L281.8,3236.5 L282.8,3237.3 L283.7,3238.2 L284.7,3236.8 L285.7,3238.1 L286.6,3236.0 L287.6,3236.8 L288.5,3235.6 L289.5,3237.0 L290.4,3237.2 L291.4,3236.9 L292.3,3236.8 L293.3,3238.6 L294.3,3238.6 L295.2,3235.7 L296.2,3238.4 L297.1,3235.2 L298.1,3236.2 L299.0,3236.8 L300.0,3237.2 L301.0,3235.9 L301.9,3236.2 L302.9,3237.1 L303.8,3236.2 L304.8,3236.3 L305.7,3237.7 L306.7,3238.0 L307.7,3236.9 L308.6,3237.0 L309.6,3236.9 L310.5,3236.5 L311.5,3236.4 L312.4,3235.8 L313.4,3237.6 L314.4,3236.8 L315.3,3236.8 L316.3,3237.1 L317.2,3237.5 L318.2,3238.4 L319.1,3236.6 L320.1,3236.4 L321.1,3237.1 L322.0,3235.9 L323.0,3238.2 L323.9,3237.8 L324.9,3237.6 L325.8,3236.6 L326.8,3237.6 L327.8,3237.9 L328.7,3237.3 L329.7,3236.4 L330.6,3234.9 L331.6,3237.7 L332.5,3236.3 L333.5,3235.7 L334.5,3237.6 L335.4,3237.0 L336.4,3235.0 L337.3,3236.5 L338.3,3236.3 L339.2,3237.6 L340.2,3234.4 L341.2,3236.1 L342.1,3236.3 L343.1,3238.0 L344.0,3235.2 L345.0,3233.1 L345.9,3234.8 L346.9,3236.6 L347.9,3237.2 L348.8,3238.2 L349.8,3236.7 L350.7,3235.3 L351.7,3237.1 L352.6,3236.1 L353.6,3235.8 L354.6,3236.0 L355.5,3237.4 L356.5,3234.9 L357.4,3234.7 L358.4,3235.7 L359.3,3235.7 L360.3,3234.8 L361.3,3234.7 L362.2,3236.0 L363.2,3237.0 L364.1,3236.2 L365.1,3236.1 L366.0,3236.7 L367.0,3233.0 L368.0,3233.4 L368.9,3234.2 L369.9,3233.6 L370.8,3233.7 L371.8,3234.8 L372.7,3233.2 L373.7,3234.0 L374.7,3232.1 L375.6,3233.1 L376.6,3235.5 L377.5,3233.3 L378.5,3234.1 L379.4,3234.3 L380.4,3232.8 L381.4,3233.8 L382.3,3233.2 L383.3,3233.5 L384.2,3231.8 L385.2,3230.6 L386.1,3230.8 L387.1,3231.0 L388.0,3231.9 L389.0,3230.8 L390.0,3230.2 L390.9,3230.1 L391.9,3231.1 L392.8,3228.8 L393.8,3230.7 L394.7,3227.2 L395.7,3227.3 L396.7,3228.4 L397.6,3227.4 L398.6,3225.3 L399.5,3225.4 L400.5,3224.1 L401.4,3225.0 L402.4,3223.8 L403.4,3221.6 L404.3,3221.9 L405.3,3220.0 L406.2,3219.3 L407.2,3218.2 L408.1,3216.3 L409.1,3216.1 L410.1,3214.7 L411.0,3213.1 L412.0,3212.2 L412.9,3209.0 L413.9,3205.8 L414.8,3204.9 L415.8,3203.5 L416.8,3201.0 L417.7,3199.2 L418.7,3196.9 L419.6,3193.2 L420.6,3190.3 L421.5,3186.2 L422.5,3185.2 L423.5,3180.3 L424.4,3175.7 L425.4,3171.9 L426.3,3168.6 L427.3,3166.5 L428.2,3161.2 L429.2,3153.9 L430.2,3150.9 L431.1,3146.4 L432.1,3141.7 L433.0,3136.1 L434.0,3129.7 L434.9,3125.5 L435.9,3119.0 L436.9,3111.6 L437.8,3107.9 L438.8,3102.5 L439.7,3099.0 L440.7,3094.0 L441.6,3086.8 L442.6,3083.5 L443.6,3079.1 L444.5,3073.5 L445.5,3069.3 L446.4,3068.4 L447.4,3066.0 L448.3,3063.2 L449.3,3059.4 L450.3,3061.4 L451.2,3060.5 L452.2,3060.5 L453.1,3062.0 L454.1,3062.6 L455.0,3066.5 L456.0,3068.5 L457.0,3071.0 L457.9,3075.5 L458.9,3079.1 L459.8,3081.8 L460.8,3087.9 L461.7,3092.5 L462.7,3096.2 L463.7,3102.7 L464.6,3109.3 L465.6,3113.6 L466.5,3121.3 L467.5,3127.1 L468.4,3130.3 L469.4,3136.6 L470.4,3143.4 L471.3,3145.9 L472.3,3150.3 L473.2,3155.6 L474.2,3159.1 L475.1,3163.6 L476.1,3169.6 L477.1,3172.9 L478.0,3177.5 L479.0,3181.4 L479.9,3183.5 L480.9,3187.4 L481.8,3190.4 L482.8,3192.9 L483.7,3195.5 L484.7,3199.3 L485.7,3201.3 L486.6,3204.1 L487.6,3206.9 L488.5,3208.9 L489.5,3208.5 L490.4,3210.5 L491.4,3212.8 L492.4,3214.8 L493.3,3217.1 L494.3,3216.4 L495.2,3218.2 L496.2,3220.1 L497.1,3222.3 L498.1,3223.5 L499.1,3221.8 L500.0,3223.6 L501.0,3223.7 L501.9,3226.3 L502.9,3226.6 L503.8,3226.4 L504.8,3226.8 L505.8,3228.4 L506.7,3229.7 L507.7,3228.3 L508.6,3229.3 L509.6,3230.2 L510.5,3230.5 L511.5,3231.3 L512.5,3230.2 L513.4,3231.0 L514.4,3229.6 L515.3,3232.3 L516.3,3233.7 L517.2,3230.6 L518.2,3232.4 L519.2,3234.3 L520.1,3233.4 L521.1,3231.7 L522.0,3235.2 L523.0,3232.6 L523.9,3235.8 L524.9,3233.9 L525.9,3233.9 L526.8,3234.8 L527.8,3234.9 L528.7,3235.7 L529.7,3235.8 L530.6,3235.2 L531.6,3236.9 L532.6,3236.3 L533.5,3236.0 L534.5,3235.9 L535.4,3235.7 L536.4,3235.8 L537.3,3236.7 L538.3,3236.6 L539.3,3236.2 L540.2,3237.3 L541.2,3236.0 L542.1,3236.8 L543.1,3237.4 L544.0,3235.2 L545.0,3236.2 L546.0,3238.4 L546.9,3235.6 L547.9,3237.9 L548.8,3235.5 L549.8,3237.2 L550.7,3235.6 L551.7,3236.2 L552.7,3236.5 L553.6,3236.3 L554.6,3238.1 L555.5,3238.0 L556.5,3238.1 L557.4,3237.4 L558.4,3239.0 L559.4,3238.4 L560.3,3237.6 L561.3,3236.2 L562.2,3238.1 L563.2,3238.1 L564.1,3237.5 L565.1,3238.2 L566.1,3238.3 L567.0,3237.2 L568.0,3238.2 L568.9,3238.0 L569.9,3238.0 L570.8,3237.3 L571.8,3237.2 L572.8,3237.8 L573.7,3239.3 L574.7,3240.3 L575.6,3237.4 L576.6,3236.7 L577.5,3237.5 L578.5,3237.0 L579.4,3237.4 L580.4,3238.4 L581.4,3236.9 L582.3,3238.6 L583.3,3238.9 L584.2,3239.7 L585.2,3240.0 L586.1,3239.2 L587.1,3240.6 L588.1,3237.6 L589.0,3238.4 L590.0,3238.3 L590.9,3238.6 L591.9,3239.3 L592.8,3237.8 L593.8,3240.1 L594.8,3239.6 L595.7,3238.6 L596.7,3238.8 L597.6,3237.2 L598.6,3235.6 L599.5,3238.2 L600.5,3238.7 L601.5,3238.6 L602.4,3237.1 L603.4,3237.8 L604.3,3240.3 L605.3,3239.2 L606.2,3239.0 L607.2,3238.0 L608.2,3239.2 L609.1,3239.8 L610.1,3239.2 L611.0,3237.9 L612.0,3238.7 L612.9,3237.4 L613.9,3238.0 L614.9,3239.0 L615.8,3237.7 L616.8,3238.1 L617.7,3239.9 L618.7,3238.1 L619.6,3239.1 L620.6,3237.9 L621.6,3236.9 L622.5,3238.2 L623.5,3237.7 L624.4,3235.9 L625.4,3236.7 L626.3,3237.5 L627.3,3239.5 L628.3,3237.1 L629.2,3237.6 L630.2,3238.3 L631.1,3237.8 L632.1,3236.9 L633.0,3239.0 L634.0,3238.5 L635.0,3234.2 L635.9,3237.7 L636.9,3237.0 L637.8,3237.3 L638.8,3236.1 L639.7,3236.6 L640.7,3237.5 L641.7,3237.0 L642.6,3236.7 L643.6,3235.6 L644.5,3235.1 L645.5,3234.8 L646.4,3232.1 L647.4,3235.5 L648.4,3232.9 L649.3,3232.6 L650.3,3232.0 L651.2,3232.0 L652.2,3228.8 L653.1,3231.1 L654.1,3229.2 L655.1,3229.3 L656.0,3228.2 L657.0,3228.3 L657.9,3230.8 L658.9,3229.6 L659.8,3230.2 L660.8,3230.3 L661.8,3229.5 L662.7,3230.3 L663.7,3230.0 L664.6,3231.4 L665.6,3229.7 L666.5,3232.1 L667.5,3233.9 L668.5,3234.7 L669.4,3235.0 L670.4,3234.7 L671.3,3233.4 L672.3,3235.9 L673.2,3235.8 L674.2,3235.8 L675.1,3234.5 L676.1,3236.6 L677.1,3238.0 L678.0,3237.5 L679.0,3236.7 L679.9,3237.8 L680.9,3237.4 L681.8,3237.8 L682.8,3238.7 L683.8,3238.3 L684.7,3238.1 L685.7,3238.6 L686.6,3237.4 L687.6,3237.3 L688.5,3239.0 L689.5,3238.0 L690.5,3239.3 L691.4,3236.8 L692.4,3240.1 L693.3,3238.8 L694.3,3240.8 L695.2,3236.3 L696.2,3237.2 L697.2,3240.6 L698.1,3239.3 L699.1,3239.5 L700.0,3239.3 L701.0,3239.4 L701.9,3239.8 L702.9,3238.2 L703.9,3239.1 L704.8,3240.7 L705.8,3239.5 L706.7,3238.6 L707.7,3239.4 L708.6,3240.5 L709.6,3239.1 L710.6,3239.2 L711.5,3239.9 L712.5,3240.3 L713.4,3241.0 L714.4,3239.3 L715.3,3239.8 L716.3,3240.6 L717.3,3237.3 L718.2,3239.6 L719.2,3239.9 L720.1,3239.3 L721.1,3238.5 L722.0,3240.1 L723.0,3240.8 L724.0,3239.3 L724.9,3238.9 L725.9,3239.2 L726.8,3241.1 L727.8,3240.8 L728.7,3239.5 L729.7,3238.2 L730.7,3238.1 L731.6,3239.1 L732.6,3239.1 L733.5,3239.7 L734.5,3238.2 L735.4,3239.3 L736.4,3240.0 L737.4,3237.6 L738.3,3241.9 L739.3,3240.0 L740.2,3240.0 L741.2,3238.0 L742.1,3238.3 L743.1,3240.5 L744.1,3240.4 L745.0,3236.7 L746.0,3240.6 L746.9,3240.2 L747.9,3240.0 L748.8,3238.1 L749.8,3239.6 L750.8,3238.7 L751.7,3239.9 L752.7,3241.3 L753.6,3240.0 L754.6,3240.4 L755.5,3238.9 L756.5,3238.2 L757.5,3239.3 L758.4,3240.4 L759.4,3240.9 L760.3,3239.2 L761.3,3239.5 L762.2,3238.8 L763.2,3237.3 L764.2,3239.3 L765.1,3239.6 L766.1,3238.7 L767.0,3239.0 L768.0,3237.2 L768.9,3239.2 L769.9,3240.6 L770.8,3239.1 L771.8,3239.8 L772.8,3239.6 L773.7,3238.2 L774.7,3239.3 L775.6,3238.1 L776.6,3242.2 L777.5,3239.2 L778.5,3237.8 L779.5,3237.3 L780.4,3240.6 L781.4,3239.6 L782.3,3239.4 L783.3,3237.4 L784.2,3238.3 L785.2,3237.6 L786.2,3240.1 L787.1,3238.3 L788.1,3240.9 L789.0,3239.4 L790.0,3238.4 L790.9,3240.2 L791.9,3236.5 L792.9,3237.8 L793.8,3238.3 L794.8,3239.9 L795.7,3239.9 L796.7,3239.0 L797.6,3236.7 L798.6,3238.0 L799.6,3237.4 L800.5,3239.9 L801.5,3238.1 L802.4,3239.2 L803.4,3240.5 L804.3,3238.4 L805.3,3239.2 L806.3,3238.0 L807.2,3238.4 L808.2,3238.4 L809.1,3238.4 L810.1,3238.4 L811.0,3237.9 L812.0,3240.3 L813.0,3237.5 L813.9,3238.5 L814.9,3237.8 L815.8,3235.7 L816.8,3239.2 L817.7,3238.3 L818.7,3236.5 L819.7,3237.2 L820.6,3236.2 L821.6,3238.2 L822.5,3239.6 L823.5,3239.2 L824.4,3236.4 L825.4,3235.9 L826.4,3238.3 L827.3,3239.5 L828.3,3237.7 L829.2,3238.8 L830.2,3236.0 L831.1,3237.4 L832.1,3237.9 L833.1,3237.0 L834.0,3237.1 L835.0,3238.1 L835.9,3236.6 L836.9,3236.1 L837.8,3238.0 L838.8,3237.3 L839.8,3235.9 L840.7,3237.4 L841.7,3236.3 L842.6,3237.5 L843.6,3236.7 L844.5,3236.4 L845.5,3235.8 L846.5,3236.8 L847.4,3236.4 L848.4,3238.5 L849.3,3236.2 L850.3,3234.7 L851.2,3238.4 L852.2,3233.8 L853.2,3237.7 L854.1,3234.9 L855.1,3237.2 L856.0,3235.4 L857.0,3236.1 L857.9,3235.4 L858.9,3235.1 L859.9,3235.7 L860.8,3234.3 L861.8,3235.4 L862.7,3233.5 L863.7,3233.7 L864.6,3233.8 L865.6,3234.1 L866.5,3235.4 L867.5,3233.0 L868.5,3232.8 L869.4,3232.3 L870.4,3232.9 L871.3,3233.7 L872.3,3232.1 L873.2,3232.4 L874.2,3231.8 L875.2,3232.4 L876.1,3229.8 L877.1,3232.4 L878.0,3232.5 L879.0,3230.3 L879.9,3230.9 L880.9,3229.7 L881.9,3231.5 L882.8,3230.8 L883.8,3233.0 L884.7,3229.3 L885.7,3228.2 L886.6,3228.3 L887.6,3227.1 L888.6,3228.4 L889.5,3228.1 L890.5,3228.4 L891.4,3227.5 L892.4,3226.2 L893.3,3227.7 L894.3,3226.5 L895.3,3226.3 L896.2,3223.7 L897.2,3223.6 L898.1,3223.4 L899.1,3223.2 L900.0,3220.8 L901.0,3224.1 L902.0,3222.0 L902.9,3222.7 L903.9,3222.2 L904.8,3222.5 L905.8,3221.0 L906.7,3220.2 L907.7,3218.5 L908.7,3219.0 L909.6,3220.3 L910.6,3215.9 L911.5,3216.6 L912.5,3217.2 L913.4,3218.1 L914.4,3214.7 L915.4,3214.9 L916.3,3215.1 L917.3,3217.9 L918.2,3213.1 L919.2,3213.5 L920.1,3214.1 L921.1,3212.1 L922.1,3212.9 L923.0,3212.6 L924.0,3211.5 L924.9,3212.0 L925.9,3213.2 L926.8,3211.3 L927.8,3210.5 L928.8,3209.9 L929.7,3210.9 L930.7,3211.7 L931.6,3210.7 L932.6,3210.8 L933.5,3213.4 L934.5,3209.7 L935.5,3209.5 L936.4,3211.1 L937.4,3210.7 L938.3,3211.8 L939.3,3212.7 L940.2,3212.0 L941.2,3211.7 L942.2,3212.8 L943.1,3213.1 L944.1,3212.8 L945.0,3212.7 L946.0,3214.5 L946.9,3213.9 L947.9,3213.3 L948.9,3215.8 L949.8,3214.9 L950.8,3215.4 L951.7,3217.1 L952.7,3216.0 L953.6,3217.2 L954.6,3216.8 L955.6,3216.7 L956.5,3219.2 L957.5,3221.1 L958.4,3218.9 L959.4,3221.6 L960.3,3222.0 L961.3,3223.0 L962.2,3220.6 L963.2,3221.5 L964.2,3224.5 L965.1,3223.1 L966.1,3223.6 L967.0,3224.8 L968.0,3225.2 L968.9,3224.3 L969.9,3225.1 L970.9,3226.4 L971.8,3226.4 L972.8,3225.7 L973.7,3228.3 L974.7,3228.2 L975.6,3227.3 L976.6,3227.4 L977.6,3229.3 L978.5,3226.0 L979.5,3229.1 L980.4,3228.6 L981.4,3228.9 L982.3,3230.9 L983.3,3230.5 L984.3,3233.8 L985.2,3230.5 L986.2,3231.4 L987.1,3229.7 L988.1,3232.6 L989.0,3231.1 L990.0,3232.2 L991.0,3233.6 L991.9,3233.7 L992.9,3233.1 L993.8,3234.2 L994.8,3232.5 L995.7,3232.1 L996.7,3231.6 L997.7,3234.1 L998.6,3235.8 L999.6,3233.4 L1000.5,3234.0 L1001.5,3233.7 L1002.4,3234.8 L1003.4,3232.4 L1004.4,3235.4 L1005.3,3235.8 L1006.3,3234.0 L1007.2,3233.7 L1008.2,3234.0 L1009.1,3235.7 L1010.1,3236.7 L1011.1,3234.1 L1012.0,3233.6 L1013.0,3235.5 L1013.9,3235.8 L1014.9,3236.4 L1015.8,3234.9 L1016.8,3236.5 L1017.8,3237.0 L1018.7,3234.1 L1019.7,3235.6 L1020.6,3236.7 L1021.6,3236.9 L1022.5,3235.5 L1023.5,3234.0 L1024.5,3235.4 L1025.4,3234.7 L1026.4,3235.7 L1027.3,3237.5 L1028.3,3235.7 L1029.2,3236.5 L1030.2,3235.2 L1031.2,3237.6 L1032.1,3235.9 L1033.1,3235.5 L1034.0,3238.7 L1035.0,3237.1 L1035.9,3237.5 L1036.9,3234.6 L1037.9,3238.4 L1038.8,3238.7 L1039.8,3236.7 L1040.7,3236.5 L1041.7,3236.3 L1042.6,3238.1 L1043.6,3235.2 L1044.6,3237.3 L1045.5,3239.2 L1046.5,3237.2 L1047.4,3239.2 L1048.4,3237.1 L1049.3,3236.8 L1050.3,3238.2 L1051.3,3237.1 L1052.2,3237.3 L1053.2,3236.8 L1054.1,3236.0 L1055.1,3237.0 L1056.0,3238.2 L1057.0,3238.6 L1057.9,3237.4 L1058.9,3237.8 L1059.9,3236.5 L1060.8,3237.4 L1061.8,3237.4 L1062.7,3237.5 L1063.7,3237.7 L1064.6,3238.1 L1065.6,3239.0 L1066.6,3238.6 L1067.5,3238.3 L1068.5,3236.5 L1069.4,3236.9 L1070.4,3237.9 L1071.3,3238.0 L1072.3,3238.7 L1073.3,3236.0 L1074.2,3238.2 L1075.2,3238.1 L1076.1,3237.7 L1077.1,3237.2 L1078.0,3238.3 L1079.0,3237.9 L1080.0,3238.6 L1080.9,3236.0 L1081.9,3237.2 L1082.8,3239.9 L1083.8,3238.5 L1084.7,3237.4 L1085.7,3237.9 L1086.7,3236.9 L1087.6,3239.9 L1088.6,3239.9 L1089.5,3239.3 L1090.5,3239.7 L1091.4,3238.9 L1092.4,3239.9 L1093.4,3239.2 L1094.3,3240.0 L1095.3,3238.5 L1096.2,3238.5 L1097.2,3238.0 L1098.1,3238.1 L1099.1,3236.9 L1100.1,3240.1 L1101.0,3240.2 L1102.0,3239.5 L1102.9,3239.8 L1103.9,3239.0 L1104.8,3239.3 L1105.8,3237.3 L1106.8,3238.7 L1107.7,3236.8 L1108.7,3238.1 L1109.6,3238.5 L1110.6,3238.5 L1111.5,3237.7 L1112.5,3240.3 L1113.5,3240.0 L1114.4,3238.4 L1115.4,3237.6 L1116.3,3238.4 L1117.3,3240.0 L1118.2,3236.9 L1119.2,3239.9 L1120.2,3238.9 L1121.1,3238.6 L1122.1,3240.2 L1123.0,3239.1 L1124.0,3238.7 L1124.9,3240.5 L1125.9,3237.4 L1126.9,3240.9 L1127.8,3238.2 L1128.8,3238.3 L1129.7,3240.9 L1130.7,3242.8 L1131.6,3240.6 L1132.6,3238.3 L1133.6,3236.9 L1134.5,3239.5 L1135.5,3239.3 L1136.4,3238.7 L1137.4,3239.2 L1138.3,3238.6 L1139.3,3240.3 L1140.3,3239.3 L1141.2,3239.2 L1142.2,3237.0 L1143.1,3239.7 L1144.1,3237.8 L1145.0,3240.2 L1146.0,3239.4 L1147.0,3237.3 L1147.9,3239.1 L1148.9,3238.2 L1149.8,3240.1 L1150.8,3240.0 L1151.7,3240.7 L1152.7,3238.7 L1153.6,3240.1 L1154.6,3238.1 L1155.6,3239.9 L1156.5,3239.3 L1157.5,3239.9 L1158.4,3239.6 L1159.4,3240.7 L1160.3,3239.3 L1161.3,3239.4 L1162.3,3241.2 L1163.2,3239.6 L1164.2,3239.1 L1165.1,3238.7 L1166.1,3239.7 L1167.0,3239.7 L1168.0,3240.4 L1169.0,3239.6 L1169.9,3240.5 L1170.9,3239.5 L1171.8,3241.5 L1172.8,3239.7 L1173.7,3240.5 L1174.7,3240.2 L1175.7,3238.4 L1176.6,3240.9 L1177.6,3239.4 L1178.5,3240.8 L1179.5,3237.7 L1180.4,3237.8 L1181.4,3237.7 L1182.4,3237.9 L1183.3,3239.5 L1184.3,3239.8 L1185.2,3238.8 L1186.2,3239.5 L1187.1,3239.2 L1188.1,3240.7 L1189.1,3240.7 L1190.0,3240.2 L1191.0,3240.6 L1191.9,3241.8 L1192.9,3240.6 L1193.8,3238.3 L1194.8,3239.7 L1195.8,3239.6 L1196.7,3240.9 L1197.7,3240.5 L1198.6,3240.9 L1199.6,3238.3 L1200.5,3241.5 L1201.5,3239.8 L1202.5,3241.0 L1203.4,3240.5 L1204.4,3239.0 L1205.3,3239.1 L1206.3,3240.6 L1207.2,3241.2 L1208.2,3238.9 L1209.2,3238.7 L1210.1,3237.7 L1211.1,3238.9 L1212.0,3239.1 L1213.0,3239.5 L1213.9,3240.5 L1214.9,3239.3 L1215.9,3238.6 L1216.8,3239.4 L1217.8,3239.7 L1218.7,3239.9 L1219.7,3239.9 L1220.6,3239.5 L1221.6,3240.3 L1222.6,3239.4 L1223.5,3238.5 L1224.5,3239.5 L1225.4,3241.7 L1226.4,3238.7 L1227.3,3242.3 L1228.3,3239.0 L1229.3,3240.4 L1230.2,3237.8 L1231.2,3239.4 L1232.1,3241.1 L1233.1,3238.2 L1234.0,3238.7 L1235.0,3239.8 L1236.0,3239.8 L1236.9,3237.8 L1237.9,3238.0 L1238.8,3239.7 L1239.8,3239.6 L1240.7,3240.1 L1241.7,3239.1 L1242.7,3239.9 L1243.6,3240.5 L1244.6,3237.8 L1245.5,3240.2 L1246.5,3239.9 L1247.4,3240.5 L1248.4,3238.6 L1249.3,3238.9 L1250.3,3239.0 L1251.3,3238.4 L1252.2,3239.9 L1253.2,3239.1 L1254.1,3237.7 L1255.1,3239.0 L1256.0,3237.5 L1257.0,3236.9 L1258.0,3237.4 L1258.9,3238.5 L1259.9,3238.5 L1260.8,3238.2 L1261.8,3238.8 L1262.7,3240.2 L1263.7,3236.9 L1264.7,3238.4 L1265.6,3238.2 L1266.6,3236.5 L1267.5,3237.1 L1268.5,3237.8 L1269.4,3237.5 L1270.4,3236.4 L1271.4,3238.0 L1272.3,3237.2 L1273.3,3237.5 L1274.2,3238.3 L1275.2,3235.1 L1276.1,3237.3 L1277.1,3236.5 L1278.1,3234.8 L1279.0,3235.4 L1280.0,3234.7 L1280.9,3233.6 L1281.9,3235.4 L1282.8,3233.4 L1283.8,3231.7 L1284.8,3234.3 L1285.7,3232.5 L1286.7,3232.9 L1287.6,3232.3 L1288.6,3231.2 L1289.5,3230.6 L1290.5,3227.7 L1291.5,3229.4 L1292.4,3227.9 L1293.4,3229.0 L1294.3,3226.9 L1295.3,3226.3 L1296.2,3226.3 L1297.2,3224.2 L1298.2,3223.8 L1299.1,3223.2 L1300.1,3223.2 L1301.0,3220.3 L1302.0,3221.7 L1302.9,3219.8 L1303.9,3218.4 L1304.9,3218.3 L1305.8,3218.0 L1306.8,3217.1 L1307.7,3213.8 L1308.7,3215.3 L1309.6,3213.0 L1310.6,3213.4 L1311.6,3210.0 L1312.5,3210.1 L1313.5,3209.4 L1314.4,3207.4 L1315.4,3207.7 L1316.3,3208.6 L1317.3,3208.4 L1318.3,3207.6 L1319.2,3207.0 L1320.2,3206.2 L1321.1,3208.9 L1322.1,3205.5 L1323.0,3205.9 L1324.0,3206.8 L1325.0,3208.3 L1325.9,3208.3 L1326.9,3210.3 L1327.8,3208.6 L1328.8,3212.0 L1329.7,3213.9 L1330.7,3213.8 L1331.7,3213.6 L1332.6,3214.2 L1333.6,3217.0 L1334.5,3215.1 L1335.5,3217.0 L1336.4,3217.1 L1337.4,3219.7 L1338.4,3222.8 L1339.3,3221.4 L1340.3,3223.9 L1341.2,3222.5 L1342.2,3223.9 L1343.1,3224.8 L1344.1,3227.3 L1345.0,3226.0 L1346.0,3227.0 L1347.0,3228.4 L1347.9,3230.8 L1348.9,3229.8 L1349.8,3232.3 L1350.8,3231.4 L1351.7,3231.2 L1352.7,3233.3 L1353.7,3231.9 L1354.6,3232.0 L1355.6,3233.5 L1356.5,3232.1 L1357.5,3232.9 L1358.4,3233.7 L1359.4,3234.9 L1360.4,3236.3 L1361.3,3236.7 L1362.3,3235.5 L1363.2,3236.2 L1364.2,3235.8 L1365.1,3234.9 L1366.1,3237.0 L1367.1,3236.0 L1368.0,3237.7 L1369.0,3236.5 L1369.9,3236.2 L1370.9,3237.7 L1371.8,3236.9 L1372.8,3236.2 L1373.8,3238.8 L1374.7,3238.2 L1375.7,3238.3 L1376.6,3238.1 L1377.6,3237.5 L1378.5,3235.2 L1379.5,3237.7 L1380.5,3237.9 L1381.4,3238.9 L1382.4,3237.1 L1383.3,3239.0 L1384.3,3238.6 L1385.2,3240.2 L1386.2,3237.9 L1387.2,3238.8 L1388.1,3239.1 L1389.1,3239.5 L1390.0,3240.3 L1391.0,3239.4 L1391.9,3237.5 L1392.9,3240.8 L1393.9,3236.9 L1394.8,3239.8 L1395.8,3240.5 L1396.7,3238.4 L1397.7,3239.1 L1398.6,3239.1 L1399.6,3238.0 L1400.6,3239.7 L1401.5,3238.3 L1402.5,3239.7 L1403.4,3240.0 L1404.4,3240.5 L1405.3,3240.8 L1406.3,3239.9 L1407.3,3240.0 L1408.2,3239.2 L1409.2,3239.4 L1410.1,3240.4 L1411.1,3240.3 L1412.0,3240.0 L1413.0,3239.5 L1414.0,3240.7 L1414.9,3238.4 L1415.9,3239.0 L1416.8,3239.8 L1417.8,3240.8 L1418.7,3238.3 L1419.7,3238.5 L1420.7,3238.4 L1421.6,3240.4 L1422.6,3240.5 L1423.5,3241.3 L1424.5,3242.1 L1425.4,3238.4 L1426.4,3239.5 L1427.4,3239.1 L1428.3,3238.6 L1429.3,3239.8 L1430.2,3239.2 L1431.2,3239.9 L1432.1,3239.4 L1433.1,3238.2 L1434.1,3240.4 L1435.0,3240.4 L1436.0,3239.3 L1436.9,3237.5 L1437.9,3237.3 L1438.8,3238.3 L1439.8,3240.2 L1440.7,3240.5 L1441.7,3239.9 L1442.7,3239.9 L1443.6,3237.1 L1444.6,3240.2 L1445.5,3239.1 L1446.5,3239.5 L1447.4,3238.8 L1448.4,3237.6 L1449.4,3240.6 L1450.3,3240.2 L1451.3,3238.6 L1452.2,3238.1 L1453.2,3239.1 L1454.1,3240.7 L1455.1,3240.3 L1456.1,3239.8 L1457.0,3240.7 L1458.0,3240.1 L1458.9,3238.7 L1459.9,3240.4 L1460.8,3239.7 L1461.8,3238.8 L1462.8,3240.9 L1463.7,3240.2 L1464.7,3238.2 L1465.6,3240.5 L1466.6,3239.9 L1467.5,3239.3 L1468.5,3239.2 L1469.5,3238.6 L1470.4,3238.1 L1471.4,3240.0 L1472.3,3240.2 L1473.3,3239.3 L1474.2,3239.9 L1475.2,3239.3 L1476.2,3239.3 L1477.1,3240.2 L1478.1,3240.2 L1479.0,3241.2 L1480.0,3239.1 L1480.9,3240.0 L1481.9,3239.4 L1482.9,3239.9 L1483.8,3240.9 L1484.8,3240.0 L1485.7,3238.8 L1486.7,3239.1 L1487.6,3238.9 L1488.6,3239.3 L1489.6,3238.8 L1490.5,3239.0 L1491.5,3239.3 L1492.4,3239.8 L1493.4,3238.5 L1494.3,3239.5 L1495.3,3239.4 L1496.3,3240.3 L1497.2,3239.6 L1498.2,3239.8 L1499.1,3239.5 L1500.1,3240.4 L1501.0,3239.0 L1502.0,3237.5 L1503.0,3239.4 L1503.9,3238.0 L1504.9,3236.6 L1505.8,3239.4 L1506.8,3238.7 L1507.7,3238.9 L1508.7,3239.1 L1509.7,3238.3 L1510.6,3239.5 L1511.6,3238.4 L1512.5,3237.8 L1513.5,3238.1 L1514.4,3235.8 L1515.4,3238.3 L1516.4,3236.0 L1517.3,3237.8 L1518.3,3237.1 L1519.2,3237.1 L1520.2,3236.0 L1521.1,3238.4 L1522.1,3234.2 L1523.1,3236.0 L1524.0,3234.9 L1525.0,3233.9 L1525.9,3236.8 L1526.9,3235.2 L1527.8,3237.2 L1528.8,3235.1 L1529.8,3234.5 L1530.7,3234.2 L1531.7,3231.8 L1532.6,3231.4 L1533.6,3233.9 L1534.5,3232.8 L1535.5,3230.7 L1536.4,3231.1 L1537.4,3230.7 L1538.4,3231.3 L1539.3,3229.9 L1540.3,3228.3 L1541.2,3229.3 L1542.2,3227.4 L1543.1,3228.0 L1544.1,3226.3 L1545.1,3223.0 L1546.0,3227.5 L1547.0,3224.3 L1547.9,3225.7 L1548.9,3224.8 L1549.8,3223.1 L1550.8,3222.0 L1551.8,3224.7 L1552.7,3222.5 L1553.7,3223.2 L1554.6,3221.8 L1555.6,3222.1 L1556.5,3221.0 L1557.5,3219.1 L1558.5,3219.4 L1559.4,3220.4 L1560.4,3218.5 L1561.3,3219.2 L1562.3,3219.3 L1563.2,3220.5 L1564.2,3220.9 L1565.2,3217.0 L1566.1,3219.6 L1567.1,3221.0 L1568.0,3217.6 L1569.0,3217.9 L1569.9,3220.2 L1570.9,3219.2 L1571.9,3218.4 L1572.8,3219.2 L1573.8,3219.8 L1574.7,3219.2 L1575.7,3219.5 L1576.6,3219.4 L1577.6,3219.6 L1578.6,3219.5 L1579.5,3219.7 L1580.5,3219.2 L1581.4,3220.7 L1582.4,3219.3 L1583.3,3219.2 L1584.3,3218.4 L1585.3,3219.3 L1586.2,3220.5 L1587.2,3220.4 L1588.1,3221.5 L1589.1,3220.0 L1590.0,3220.9 L1591.0,3219.9 L1592.0,3222.1 L1592.9,3223.8 L1593.9,3223.8 L1594.8,3223.4 L1595.8,3224.8 L1596.7,3225.1 L1597.7,3224.4 L1598.7,3224.9 L1599.6,3225.5 L1600.6,3227.5 L1601.5,3228.2 L1602.5,3228.6 L1603.4,3228.5 L1604.4,3231.3 L1605.4,3229.6 L1606.3,3230.9 L1607.3,3231.1 L1608.2,3232.5 L1609.2,3230.2 L1610.1,3233.0 L1611.1,3232.7 L1612.1,3233.3 L1613.0,3232.7 L1614.0,3233.5 L1614.9,3235.9 L1615.9,3236.0 L1616.8,3234.0 L1617.8,3236.1 L1618.8,3235.7 L1619.7,3237.6 L1620.7,3237.3 L1621.6,3237.9 L1622.6,3237.3 L1623.5,3237.7 L1624.5,3237.3 L1625.5,3236.6 L1626.4,3237.8 L1627.4,3239.9 L1628.3,3240.2 L1629.3,3238.1 L1630.2,3238.3 L1631.2,3238.6 L1632.1,3238.7 L1633.1,3238.4 L1634.1,3239.1 L1635.0,3240.6 L1636.0,3240.8 L1636.9,3241.9 L1637.9,3240.1 L1638.8,3238.1 L1639.8,3239.9 L1640.8,3239.4 L1641.7,3240.3 L1642.7,3240.0 L1643.6,3241.8 L1644.6,3240.0 L1645.5,3240.9 L1646.5,3242.9 L1647.5,3241.1 L1648.4,3239.4 L1649.4,3242.1 L1650.3,3241.7 L1651.3,3241.9 L1652.2,3242.1 L1653.2,3240.4 L1654.2,3240.4 L1655.1,3241.6 L1656.1,3239.7 L1657.0,3240.7 L1658.0,3242.8 L1658.9,3240.3 L1659.9,3242.0 L1660.9,3242.8 L1661.8,3241.6 L1662.8,3241.3 L1663.7,3243.1 L1664.7,3240.3 L1665.6,3243.5 L1666.6,3240.8 L1667.6,3241.8 L1668.5,3240.6 L1669.5,3240.6 L1670.4,3242.8 L1671.4,3241.8 L1672.3,3242.3 L1673.3,3240.4 L1674.3,3241.4 L1675.2,3240.5 L1676.2,3241.8 L1677.1,3242.3 L1678.1,3242.3 L1679.0,3242.3 L1680.0,3241.1 L1681.0,3242.4 L1681.9,3241.3 L1682.9,3243.2 L1683.8,3241.6 L1684.8,3243.0 L1685.7,3241.4 L1686.7,3242.5 L1687.7,3242.0 L1688.6,3240.2 L1689.6,3242.5 L1690.5,3240.8 L1691.5,3239.9 L1692.4,3241.9 L1693.4,3242.9 L1694.4,3242.5 L1695.3,3240.8 L1696.3,3239.9 L1697.2,3238.9 L1698.2,3241.0 L1699.1,3241.2 L1700.1,3241.5 L1701.1,3243.0 L1702.0,3241.5 L1703.0,3240.5 L1703.9,3240.5 L1704.9,3240.7 L1705.8,3240.9 L1706.8,3242.0 L1707.8,3241.3 L1708.7,3241.5 L1709.7,3241.7 L1710.6,3241.8 L1711.6,3242.3 L1712.5,3242.8 L1713.5,3240.5 L1714.5,3241.3 L1715.4,3241.4 L1716.4,3241.4 L1717.3,3242.4 L1718.3,3242.3 L1719.2,3240.9 L1720.2,3243.3 L1721.2,3242.1 L1722.1,3242.2 L1723.1,3240.9 L1724.0,3242.3 L1725.0,3241.1 L1725.9,3240.5 L1726.9,3241.6 L1727.8,3240.4 L1728.8,3240.3 L1729.8,3241.9 L1730.7,3242.2 L1731.7,3240.7 L1732.6,3242.4 L1733.6,3242.6 L1734.5,3242.6 L1735.5,3241.7 L1736.5,3241.0 L1737.4,3243.0 L1738.4,3240.9 L1739.3,3241.8 L1740.3,3242.5 L1741.2,3243.1 L1742.2,3241.6 L1743.2,3241.6 L1744.1,3241.8 L1745.1,3241.5 L1746.0,3242.4 L1747.0,3242.4 L1747.9,3243.0 L1748.9,3241.2 L1749.9,3242.0 L1750.8,3240.5 L1751.8,3240.8 L1752.7,3242.7 L1753.7,3240.9 L1754.6,3239.2 L1755.6,3240.6 L1756.6,3240.6 L1757.5,3239.2 L1758.5,3241.3 L1759.4,3242.0 L1760.4,3240.5 L1761.3,3242.1 L1762.3,3238.9 L1763.3,3241.8 L1764.2,3241.0 L1765.2,3243.4 L1766.1,3241.0 L1767.1,3241.0 L1768.0,3240.9 L1769.0,3240.6 L1770.0,3240.5 L1770.9,3241.6 L1771.9,3241.2 L1772.8,3241.2 L1773.8,3241.2 L1774.7,3240.2 L1775.7,3242.8 L1776.7,3239.8 L1777.6,3241.8 L1778.6,3240.7 L1779.5,3242.0 L1780.5,3240.7 L1781.4,3242.0 L1782.4,3241.4 L1783.4,3242.1 L1784.3,3243.0 L1785.3,3241.1 L1786.2,3241.1 L1787.2,3238.5 L1788.1,3241.0 L1789.1,3241.9 L1790.1,3240.7 L1791.0,3241.0 L1792.0,3240.8 L1792.9,3239.0 L1793.9,3241.9 L1794.8,3240.2 L1795.8,3239.6 L1796.8,3242.0 L1797.7,3241.4 L1798.7,3241.6 L1799.6,3241.1 L1800.6,3240.3 L1801.5,3241.9 L1802.5,3240.1 L1803.5,3241.3 L1804.4,3240.0 L1805.4,3239.9 L1806.3,3241.9 L1807.3,3240.2 L1808.2,3242.7 L1809.2,3239.7 L1810.2,3242.1 L1811.1,3240.7 L1812.1,3241.8 L1813.0,3241.7 L1814.0,3239.1 L1814.9,3241.6 L1815.9,3240.7 L1816.9,3240.0 L1817.8,3242.1 L1818.8,3241.4 L1819.7,3241.4 L1820.7,3242.4 L1821.6,3242.0 L1822.6,3241.0 L1823.5,3240.1 L1824.5,3242.4 L1825.5,3240.2 L1826.4,3239.2 L1827.4,3242.8 L1828.3,3243.0 L1829.3,3239.1 L1830.2,3241.1 L1831.2,3239.3 L1832.2,3241.3 L1833.1,3240.2 L1834.1,3239.2 L1835.0,3241.5 L1836.0,3239.6 L1836.9,3240.9 L1837.9,3239.7 L1838.9,3242.1 L1839.8,3241.4 L1840.8,3239.7 L1841.7,3237.9 L1842.7,3240.4 L1843.6,3238.9 L1844.6,3241.0 L1845.6,3241.3 L1846.5,3239.6 L1847.5,3240.4 L1848.4,3237.9 L1849.4,3239.7 L1850.3,3240.7 L1851.3,3237.4 L1852.3,3239.4 L1853.2,3238.7 L1854.2,3239.2 L1855.1,3238.1 L1856.1,3237.8 L1857.0,3238.9 L1858.0,3237.5 L1859.0,3237.7 L1859.9,3235.6 L1860.9,3237.1 L1861.8,3237.2 L1862.8,3236.1 L1863.7,3235.9 L1864.7,3233.6 L1865.7,3234.3 L1866.6,3234.9 L1867.6,3234.6 L1868.5,3236.9 L1869.5,3235.2 L1870.4,3232.9 L1871.4,3236.2 L1872.4,3232.2 L1873.3,3232.2 L1874.3,3232.3 L1875.2,3232.9 L1876.2,3235.4 L1877.1,3232.3 L1878.1,3233.0 L1879.1,3230.8 L1880.0,3231.8 L1881.0,3234.9 L1881.9,3233.5 L1882.9,3233.1 L1883.8,3233.8 L1884.8,3232.8 L1885.8,3232.9 L1886.7,3231.3 L1887.7,3231.0 L1888.6,3232.0 L1889.6,3232.6 L1890.5,3232.3 L1891.5,3234.1 L1892.5,3235.5 L1893.4,3233.8 L1894.4,3232.5 L1895.3,3233.1 L1896.3,3235.7 L1897.2,3235.7 L1898.2,3235.4 L1899.2,3236.1 L1900.1,3236.9 L1901.1,3236.1 L1902.0,3236.6 L1903.0,3236.2 L1903.9,3234.8 L1904.9,3237.2 L1905.9,3237.4 L1906.8,3238.1 L1907.8,3237.3 L1908.7,3238.6 L1909.7,3238.8 L1910.6,3238.1 L1911.6,3237.7 L1912.6,3238.3 L1913.5,3239.5 L1914.5,3240.3 L1915.4,3241.5 L1916.4,3239.6 L1917.3,3240.4 L1918.3,3241.3 L1919.2,3239.1 L1920.2,3241.0 L1921.2,3240.0 L1922.1,3240.2 L1923.1,3241.5 L1924.0,3240.6 L1925.0,3241.3 L1925.9,3239.9 L1926.9,3241.0 L1927.9,3240.3 L1928.8,3241.0 L1929.8,3244.4 L1930.7,3241.5 L1931.7,3241.3 L1932.6,3241.1 L1933.6,3240.8 L1934.6,3243.6 L1935.5,3241.0 L1936.5,3244.3 L1937.4,3241.6 L1938.4,3243.2 L1939.3,3242.0 L1940.3,3241.3 L1941.3,3241.8 L1942.2,3243.4 L1943.2,3241.9 L1944.1,3240.0 L1945.1,3244.1 L1946.0,3241.4 L1947.0,3241.8 L1948.0,3243.8 L1948.9,3240.4 L1949.9,3241.7 L1950.8,3243.0 L1951.8,3243.0 L1952.7,3242.9 L1953.7,3241.3 L1954.7,3243.4 L1955.6,3241.9 L1956.6,3242.6 L1957.5,3241.4 L1958.5,3244.3 L1959.4,3242.1 L1960.4,3242.4 L1961.4,3241.9 L1962.3,3243.0 L1963.3,3241.1 L1964.2,3242.5 L1965.2,3242.3 L1966.1,3244.4 L1967.1,3242.3 L1968.1,3242.4 L1969.0,3242.7 L1970.0,3243.7 L1970.9,3244.8 L1971.9,3243.0 L1972.8,3243.1 L1973.8,3244.3 L1974.8,3242.6 L1975.7,3242.9 L1976.7,3241.8 L1977.6,3242.3 L1978.6,3241.6 L1979.5,3244.8 L1980.5,3243.2 L1981.5,3243.1 L1982.4,3241.2 L1983.4,3242.4 L1984.3,3241.5 L1985.3,3241.5 L1986.2,3240.7 L1987.2,3241.5 L1988.2,3245.1 L1989.1,3241.5 L1990.1,3242.9 L1991.0,3243.1 L1992.0,3242.6 L1992.9,3242.9 L1993.9,3240.9 L1994.9,3243.7 L1995.8,3244.3 L1996.8,3242.0 L1997.7,3241.2 L1998.7,3241.0 L1999.6,3240.4 L2000.6,3242.5 L2001.6,3242.8 L2002.5,3243.7 L2003.5,3240.4 L2004.4,3242.7 L2005.4,3242.5 L2006.3,3241.4 L2007.3,3240.7 L2008.3,3242.0 L2009.2,3244.1 L2010.2,3240.2 L2011.1,3240.9 L2012.1,3241.0 L2013.0,3241.4 L2014.0,3242.7 L2014.9,3240.9 L2015.9,3238.9 L2016.9,3240.0 L2017.8,3240.0 L2018.8,3241.6 L2019.7,3241.5 L2020.7,3240.0 L2021.6,3242.1 L2022.6,3239.2 L2023.6,3241.0 L2024.5,3242.6 L2025.5,3239.4 L2026.4,3241.8 L2027.4,3242.3 L2028.3,3240.6 L2029.3,3241.2 L2030.3,3239.4 L2031.2,3241.4 L2032.2,3239.7 L2033.1,3240.3 L2034.1,3241.4 L2035.0,3240.5 L2036.0,3239.7 L2037.0,3240.8 L2037.9,3240.5 L2038.9,3239.9 L2039.8,3238.6 L2040.8,3240.5 L2041.7,3241.7 L2042.7,3240.0 L2043.7,3240.0 L2044.6,3240.1 L2045.6,3241.0 L2046.5,3238.9 L2047.5,3241.4 L2048.4,3242.8 L2049.4,3241.0 L2050.4,3240.5 L2051.3,3240.9 L2052.3,3240.9 L2053.2,3240.0 L2054.2,3240.2 L2055.1,3240.1 L2056.1,3240.9 L2057.1,3242.3 L2058.0,3240.4 L2059.0,3242.4 L2059.9,3239.2 L2060.9,3241.0 L2061.8,3239.4 L2062.8,3240.3 L2063.8,3240.0 L2064.7,3238.0 L2065.7,3239.8 L2066.6,3240.5 L2067.6,3240.3 L2068.5,3238.4 L2069.5,3238.4 L2070.5,3240.6 L2071.4,3238.8 L2072.4,3242.1 L2073.3,3240.2 L2074.3,3240.2 L2075.2,3239.6 L2076.2,3238.9 L2077.2,3240.0 L2078.1,3239.5 L2079.1,3241.3 L2080.0,3239.8 L2081.0,3239.9 L2081.9,3240.8 L2082.9,3240.7 L2083.9,3237.3 L2084.8,3241.7 L2085.8,3237.8 L2086.7,3238.4 L2087.7,3239.1 L2088.6,3238.5 L2089.6,3241.4 L2090.6,3239.4 L2091.5,3238.1 L2092.5,3238.9 L2093.4,3238.4 L2094.4,3238.5 L2095.3,3239.7 L2096.3,3239.8 L2097.3,3239.0 L2098.2,3237.7 L2099.2,3238.4 L2100.1,3240.1 L2101.1,3239.7 L2102.0,3238.7 L2103.0,3239.8 L2104.0,3236.9 L2104.9,3238.2 L2105.9,3239.0 L2106.8,3239.2 L2107.8,3240.0 L2108.7,3238.9 L2109.7,3239.2 L2110.6,3239.0 L2111.6,3237.6 L2112.6,3238.5 L2113.5,3240.3 L2114.5,3239.5 L2115.4,3238.3 L2116.4,3238.7 L2117.3,3240.5 L2118.3,3240.3 L2119.3,3240.6 L2120.2,3240.0 L2121.2,3238.4 L2122.1,3238.3 L2123.1,3236.7 L2124.0,3239.9 L2125.0,3239.8 L2126.0,3240.8 L2126.9,3237.5 L2127.9,3240.2 L2128.8,3238.9 L2129.8,3238.5 L2130.7,3238.6 L2131.7,3237.0 L2132.7,3238.2 L2133.6,3237.1 L2134.6,3237.6 L2135.5,3238.4 L2136.5,3237.6 L2137.4,3238.9 L2138.4,3237.3 L2139.4,3237.4 L2140.3,3237.4 L2141.3,3238.2 L2142.2,3238.3 L2143.2,3239.0 L2144.1,3237.6 L2145.1,3237.2 L2146.1,3238.2 L2147.0,3239.8 L2148.0,3238.8 L2148.9,3235.7 L2149.9,3237.9 L2150.8,3237.3 L2151.8,3237.5 L2152.8,3238.6 L2153.7,3237.7 L2154.7,3237.5 L2155.6,3235.9 L2156.6,3237.5 L2157.5,3236.8 L2158.5,3237.8" fill="none" stroke="#000000" stroke-width="8" stroke-linejoin="round"/>
<path d="M244.5,3129.7 L245.5,3129.9 L246.4,3129.7 L247.4,3130.5 L248.3,3132.8 L249.3,3129.4 L250.2,3132.2 L251.2,3132.5 L252.2,3130.7 L253.1,3130.4 L254.1,3131.6 L255.0,3132.4 L256.0,3133.5 L256.9,3132.1 L257.9,3132.8 L258.9,3130.6 L259.8,3130.1 L260.8,3129.2 L261.7,3129.8 L262.7,3130.6 L263.6,3131.3 L264.6,3129.6 L265.6,3131.9 L266.5,3130.9 L267.5,3130.3 L268.4,3130.2 L269.4,3133.2 L270.3,3131.2 L271.3,3130.0 L272.3,3129.9 L273.2,3133.0 L274.2,3130.3 L275.1,3132.2 L276.1,3132.5 L277.0,3128.4 L278.0,3132.4 L279.0,3130.7 L279.9,3129.7 L280.9,3130.3 L281.8,3131.5 L282.8,3131.3 L283.7,3131.3 L284.7,3130.0 L285.7,3132.2 L286.6,3132.4 L287.6,3132.8 L288.5,3131.9 L289.5,3132.8 L290.4,3133.0 L291.4,3131.5 L292.3,3131.7 L293.3,3131.3 L294.3,3131.3 L295.2,3131.6 L296.2,3128.8 L297.1,3130.3 L298.1,3131.2 L299.0,3128.3 L300.0,3129.0 L301.0,3132.3 L301.9,3129.4 L302.9,3130.0 L303.8,3131.0 L304.8,3130.0 L305.7,3129.6 L306.7,3129.9 L307.7,3130.0 L308.6,3129.8 L309.6,3130.6 L310.5,3132.2 L311.5,3130.8 L312.4,3132.2 L313.4,3131.2 L314.4,3131.3 L315.3,3131.0 L316.3,3130.0 L317.2,3130.7 L318.2,3130.6 L319.1,3129.0 L320.1,3131.0 L321.1,3130.8 L322.0,3130.5 L323.0,3129.5 L323.9,3127.2 L324.9,3131.7 L325.8,3130.0 L326.8,3127.6 L327.8,3130.7 L328.7,3129.2 L329.7,3130.7 L330.6,3129.8 L331.6,3131.1 L332.5,3130.1 L333.5,3130.1 L334.5,3129.9 L335.4,3131.1 L336.4,3128.2 L337.3,3130.9 L338.3,3130.3 L339.2,3128.9 L340.2,3129.5 L341.2,3129.0 L342.1,3129.5 L343.1,3130.4 L344.0,3128.6 L345.0,3130.1 L345.9,3130.2 L346.9,3129.8 L347.9,3130.8 L348.8,3129.0 L349.8,3129.7 L350.7,3131.6 L351.7,3128.9 L352.6,3128.6 L353.6,3128.7 L354.6,3129.3 L355.5,3127.9 L356.5,3128.2 L357.4,3126.5 L358.4,3127.2 L359.3,3127.1 L360.3,3126.9 L361.3,3127.6 L362.2,3128.7 L363.2,3127.4 L364.1,3126.3 L365.1,3127.9 L366.0,3127.7 L367.0,3125.9 L368.0,3127.5 L368.9,3126.0 L369.9,3126.3 L370.8,3126.1 L371.8,3127.6 L372.7,3125.7 L373.7,3126.1 L374.7,3126.5 L375.6,3127.2 L376.6,3127.2 L377.5,3124.6 L378.5,3126.8 L379.4,3125.6 L380.4,3126.4 L381.4,3126.0 L382.3,3124.0 L383.3,3124.4 L384.2,3123.7 L385.2,3124.2 L386.1,3125.3 L387.1,3123.2 L388.0,3122.1 L389.0,3125.3 L390.0,3121.0 L390.9,3121.7 L391.9,3121.3 L392.8,3119.5 L393.8,3121.3 L394.7,3121.1 L395.7,3119.3 L396.7,3118.9 L397.6,3118.1 L398.6,3115.7 L399.5,3117.2 L400.5,3114.9 L401.4,3114.5 L402.4,3115.2 L403.4,3114.9 L404.3,3112.0 L405.3,3113.3 L406.2,3112.9 L407.2,3110.1 L408.1,3108.6 L409.1,3107.6 L410.1,3105.6 L411.0,3103.6 L412.0,3103.7 L412.9,3102.1 L413.9,3098.9 L414.8,3097.1 L415.8,3094.7 L416.8,3092.3 L417.7,3089.5 L418.7,3086.2 L419.6,3086.0 L420.6,3081.5 L421.5,3078.6 L422.5,3076.8 L423.5,3070.3 L424.4,3067.2 L425.4,3060.4 L426.3,3056.1 L427.3,3052.1 L428.2,3045.2 L429.2,3037.6 L430.2,3030.6 L431.1,3025.3 L432.1,3016.1 L433.0,3009.4 L434.0,2999.9 L434.9,2989.8 L435.9,2980.0 L436.9,2970.3 L437.8,2958.5 L438.8,2946.1 L439.7,2935.8 L440.7,2923.3 L441.6,2911.8 L442.6,2901.2 L443.6,2889.9 L444.5,2880.3 L445.5,2869.7 L446.4,2861.2 L447.4,2854.6 L448.3,2850.3 L449.3,2845.8 L450.3,2844.9 L451.2,2844.9 L452.2,2847.6 L453.1,2852.6 L454.1,2861.5 L455.0,2866.1 L456.0,2875.7 L457.0,2885.5 L457.9,2896.0 L458.9,2907.5 L459.8,2921.2 L460.8,2930.6 L461.7,2944.3 L462.7,2954.8 L463.7,2964.3 L464.6,2975.3 L465.6,2985.8 L466.5,2994.9 L467.5,3006.5 L468.4,3014.4 L469.4,3022.7 L470.4,3028.6 L471.3,3037.2 L472.3,3042.7 L473.2,3052.0 L474.2,3054.9 L475.1,3060.5 L476.1,3065.5 L477.1,3068.9 L478.0,3073.2 L479.0,3076.9 L479.9,3081.8 L480.9,3083.4 L481.8,3087.0 L482.8,3090.3 L483.7,3092.0 L484.7,3093.4 L485.7,3095.8 L486.6,3098.7 L487.6,3100.0 L488.5,3103.8 L489.5,3104.4 L490.4,3105.9 L491.4,3106.3 L492.4,3109.2 L493.3,3109.5 L494.3,3110.0 L495.2,3111.5 L496.2,3115.7 L497.1,3113.4 L498.1,3114.0 L499.1,3117.0 L500.0,3117.4 L501.0,3117.0 L501.9,3119.4 L502.9,3117.0 L503.8,3118.7 L504.8,3118.0 L505.8,3121.8 L506.7,3120.9 L507.7,3124.1 L508.6,3122.2 L509.6,3122.7 L510.5,3121.4 L511.5,3121.7 L512.5,3122.8 L513.4,3124.6 L514.4,3122.8 L515.3,3121.7 L516.3,3125.4 L517.2,3125.8 L518.2,3124.1 L519.2,3125.8 L520.1,3126.7 L521.1,3127.0 L522.0,3124.3 L523.0,3126.3 L523.9,3125.6 L524.9,3127.6 L525.9,3126.8 L526.8,3125.6 L527.8,3127.2 L528.7,3127.9 L529.7,3125.7 L530.6,3126.1 L531.6,3126.9 L532.6,3127.4 L533.5,3127.3 L534.5,3126.1 L535.4,3126.4 L536.4,3128.2 L537.3,3128.8 L538.3,3127.5 L539.3,3128.7 L540.2,3130.7 L541.2,3128.5 L542.1,3128.4 L543.1,3128.2 L544.0,3129.5 L545.0,3129.3 L546.0,3129.4 L546.9,3128.8 L547.9,3129.8 L548.8,3129.8 L549.8,3129.3 L550.7,3130.8 L551.7,3127.9 L552.7,3130.4 L553.6,3129.5 L554.6,3130.6 L555.5,3131.8 L556.5,3129.9 L557.4,3129.7 L558.4,3129.9 L559.4,3131.4 L560.3,3131.6 L561.3,3130.2 L562.2,3130.8 L563.2,3132.0 L564.1,3130.7 L565.1,3128.5 L566.1,3129.3 L567.0,3129.7 L568.0,3130.7 L568.9,3129.7 L569.9,3131.8 L570.8,3129.8 L571.8,3132.0 L572.8,3129.6 L573.7,3131.8 L574.7,3130.6 L575.6,3131.9 L576.6,3132.5 L577.5,3132.3 L578.5,3131.6 L579.4,3129.7 L580.4,3129.6 L581.4,3127.1 L582.3,3132.1 L583.3,3131.9 L584.2,3131.6 L585.2,3129.3 L586.1,3133.5 L587.1,3129.8 L588.1,3131.5 L589.0,3128.8 L590.0,3129.9 L590.9,3131.9 L591.9,3131.7 L592.8,3129.4 L593.8,3130.5 L594.8,3131.8 L595.7,3128.6 L596.7,3131.4 L597.6,3128.9 L598.6,3131.2 L599.5,3130.3 L600.5,3131.6 L601.5,3130.0 L602.4,3130.1 L603.4,3130.1 L604.3,3129.4 L605.3,3130.1 L606.2,3129.3 L607.2,3129.8 L608.2,3131.1 L609.1,3130.0 L610.1,3131.5 L611.0,3131.1 L612.0,3131.2 L612.9,3129.0 L613.9,3130.7 L614.9,3131.8 L615.8,3131.2 L616.8,3131.5 L617.7,3131.7 L618.7,3128.4 L619.6,3130.6 L620.6,3130.5 L621.6,3129.7 L622.5,3128.4 L623.5,3129.9 L624.4,3129.5 L625.4,3131.7 L626.3,3130.9 L627.3,3128.9 L628.3,3128.1 L629.2,3128.2 L630.2,3128.9 L631.1,3128.0 L632.1,3130.8 L633.0,3127.2 L634.0,3128.2 L635.0,3128.2 L635.9,3128.3 L636.9,3126.6 L637.8,3127.1 L638.8,3127.2 L639.7,3127.1 L640.7,3125.7 L641.7,3125.7 L642.6,3125.9 L643.6,3127.3 L644.5,3123.5 L645.5,3125.2 L646.4,3125.7 L647.4,3122.0 L648.4,3124.7 L649.3,3124.2 L650.3,3122.3 L651.2,3122.9 L652.2,3123.0 L653.1,3120.9 L654.1,3121.0 L655.1,3119.3 L656.0,3119.6 L657.0,3120.3 L657.9,3120.1 L658.9,3122.0 L659.8,3120.1 L660.8,3119.2 L661.8,3121.7 L662.7,3122.1 L663.7,3121.9 L664.6,3121.7 L665.6,3121.4 L666.5,3122.0 L667.5,3124.8 L668.5,3124.5 L669.4,3124.2 L670.4,3125.0 L671.3,3124.6 L672.3,3124.4 L673.2,3125.3 L674.2,3126.1 L675.1,3124.8 L676.1,3125.3 L677.1,3125.4 L678.0,3127.1 L679.0,3128.5 L679.9,3126.6 L680.9,3127.1 L681.8,3126.8 L682.8,3128.3 L683.8,3127.7 L684.7,3128.0 L685.7,3128.1 L686.6,3131.9 L687.6,3129.5 L688.5,3129.0 L689.5,3129.4 L690.5,3130.9 L691.4,3131.1 L692.4,3130.5 L693.3,3128.1 L694.3,3131.4 L695.2,3131.6 L696.2,3131.4 L697.2,3131.1 L698.1,3130.7 L699.1,3132.0 L700.0,3130.4 L701.0,3132.0 L701.9,3130.3 L702.9,3130.5 L703.9,3130.5 L704.8,3130.4 L705.8,3130.5 L706.7,3131.9 L707.7,3132.8 L708.6,3130.4 L709.6,3130.1 L710.6,3132.6 L711.5,3130.9 L712.5,3131.6 L713.4,3131.5 L714.4,3132.4 L715.3,3130.4 L716.3,3132.7 L717.3,3132.3 L718.2,3129.1 L719.2,3131.4 L720.1,3131.1 L721.1,3132.0 L722.0,3131.5 L723.0,3130.8 L724.0,3131.3 L724.9,3132.1 L725.9,3131.7 L726.8,3131.6 L727.8,3134.2 L728.7,3132.4 L729.7,3130.6 L730.7,3131.9 L731.6,3132.2 L732.6,3130.8 L733.5,3132.0 L734.5,3131.0 L735.4,3129.5 L736.4,3132.3 L737.4,3132.7 L738.3,3132.7 L739.3,3131.8 L740.2,3131.4 L741.2,3132.3 L742.1,3132.5 L743.1,3133.1 L744.1,3133.6 L745.0,3133.0 L746.0,3131.5 L746.9,3132.1 L747.9,3130.7 L748.8,3133.0 L749.8,3132.9 L750.8,3133.5 L751.7,3132.8 L752.7,3134.0 L753.6,3131.5 L754.6,3132.7 L755.5,3132.1 L756.5,3132.1 L757.5,3130.4 L758.4,3131.6 L759.4,3130.2 L760.3,3132.0 L761.3,3131.6 L762.2,3132.6 L763.2,3130.4 L764.2,3131.9 L765.1,3132.2 L766.1,3129.9 L767.0,3134.2 L768.0,3133.0 L768.9,3131.6 L769.9,3134.5 L770.8,3134.0 L771.8,3129.8 L772.8,3132.2 L773.7,3131.9 L774.7,3132.6 L775.6,3131.5 L776.6,3132.3 L777.5,3132.7 L778.5,3129.9 L779.5,3132.7 L780.4,3134.2 L781.4,3132.8 L782.3,3133.9 L783.3,3134.4 L784.2,3133.0 L785.2,3133.1 L786.2,3133.2 L787.1,3132.3 L788.1,3135.2 L789.0,3133.2 L790.0,3133.4 L790.9,3133.8 L791.9,3134.4 L792.9,3131.3 L793.8,3131.7 L794.8,3133.0 L795.7,3133.4 L796.7,3131.5 L797.6,3131.4 L798.6,3133.7 L799.6,3133.7 L800.5,3132.6 L801.5,3132.6 L802.4,3132.2 L803.4,3131.6 L804.3,3131.9 L805.3,3133.1 L806.3,3132.7 L807.2,3133.9 L808.2,3131.5 L809.1,3131.0 L810.1,3133.5 L811.0,3131.9 L812.0,3132.6 L813.0,3132.9 L813.9,3131.5 L814.9,3131.2 L815.8,3133.2 L816.8,3129.9 L817.7,3133.6 L818.7,3131.0 L819.7,3133.8 L820.6,3133.2 L821.6,3133.1 L822.5,3133.4 L823.5,3133.0 L824.4,3131.4 L825.4,3133.8 L826.4,3133.0 L827.3,3133.4 L828.3,3132.7 L829.2,3132.5 L830.2,3133.8 L831.1,3133.8 L832.1,3133.1 L833.1,3131.5 L834.0,3131.8 L835.0,3131.7 L835.9,3134.0 L836.9,3133.3 L837.8,3132.8 L838.8,3132.6 L839.8,3131.9 L840.7,3133.6 L841.7,3131.6 L842.6,3131.8 L843.6,3133.6 L844.5,3133.4 L845.5,3132.6 L846.5,3131.3 L847.4,3131.2 L848.4,3133.5 L849.3,3133.0 L850.3,3134.2 L851.2,3132.0 L852.2,3132.4 L853.2,3131.5 L854.1,3134.3 L855.1,3130.6 L856.0,3133.1 L857.0,3134.1 L857.9,3131.3 L858.9,3130.7 L859.9,3131.1 L860.8,3130.6 L861.8,3132.5 L862.7,3132.0 L863.7,3131.1 L864.6,3131.7 L865.6,3133.6 L866.5,3131.6 L867.5,3131.4 L868.5,3133.9 L869.4,3130.7 L870.4,3131.1 L871.3,3133.1 L872.3,3131.5 L873.2,3129.3 L874.2,3130.3 L875.2,3128.7 L876.1,3130.3 L877.1,3131.3 L878.0,3129.0 L879.0,3132.3 L879.9,3131.9 L880.9,3131.2 L881.9,3129.4 L882.8,3130.0 L883.8,3130.4 L884.7,3130.6 L885.7,3130.7 L886.6,3126.7 L887.6,3128.0 L888.6,3127.3 L889.5,3127.8 L890.5,3128.1 L891.4,3130.0 L892.4,3127.0 L893.3,3127.7 L894.3,3126.3 L895.3,3125.7 L896.2,3127.1 L897.2,3123.4 L898.1,3124.7 L899.1,3125.6 L900.0,3126.4 L901.0,3121.3 L902.0,3120.1 L902.9,3118.9 L903.9,3118.9 L904.8,3118.4 L905.8,3117.5 L906.7,3117.7 L907.7,3115.0 L908.7,3114.6 L909.6,3111.3 L910.6,3111.2 L911.5,3110.5 L912.5,3106.8 L913.4,3108.3 L914.4,3107.8 L915.4,3105.6 L916.3,3104.4 L917.3,3102.8 L918.2,3100.2 L919.2,3100.3 L920.1,3098.3 L921.1,3097.9 L922.1,3096.7 L923.0,3095.7 L924.0,3093.2 L924.9,3093.7 L925.9,3095.0 L926.8,3093.5 L927.8,3091.8 L928.8,3091.0 L929.7,3092.9 L930.7,3091.9 L931.6,3090.2 L932.6,3092.1 L933.5,3095.0 L934.5,3092.0 L935.5,3094.8 L936.4,3094.8 L937.4,3096.7 L938.3,3097.4 L939.3,3098.1 L940.2,3097.5 L941.2,3101.4 L942.2,3103.0 L943.1,3104.2 L944.1,3104.5 L945.0,3106.4 L946.0,3110.8 L946.9,3108.4 L947.9,3110.6 L948.9,3110.8 L949.8,3113.1 L950.8,3114.8 L951.7,3117.0 L952.7,3117.0 L953.6,3117.8 L954.6,3119.2 L955.6,3120.4 L956.5,3120.6 L957.5,3121.5 L958.4,3123.7 L959.4,3122.3 L960.3,3123.7 L961.3,3123.4 L962.2,3124.5 L963.2,3127.3 L964.2,3125.5 L965.1,3127.3 L966.1,3129.6 L967.0,3128.3 L968.0,3127.9 L968.9,3127.6 L969.9,3126.0 L970.9,3128.1 L971.8,3128.5 L972.8,3130.8 L973.7,3130.8 L974.7,3128.8 L975.6,3131.2 L976.6,3130.0 L977.6,3132.9 L978.5,3132.7 L979.5,3132.0 L980.4,3131.0 L981.4,3133.6 L982.3,3132.7 L983.3,3133.2 L984.3,3132.6 L985.2,3131.9 L986.2,3133.2 L987.1,3131.5 L988.1,3133.4 L989.0,3132.8 L990.0,3130.9 L991.0,3133.3 L991.9,3132.8 L992.9,3132.5 L993.8,3132.9 L994.8,3134.0 L995.7,3131.9 L996.7,3132.0 L997.7,3134.1 L998.6,3133.5 L999.6,3131.5 L1000.5,3133.6 L1001.5,3131.6 L1002.4,3134.3 L1003.4,3133.9 L1004.4,3134.2 L1005.3,3132.0 L1006.3,3132.9 L1007.2,3134.7 L1008.2,3132.3 L1009.1,3134.4 L1010.1,3133.7 L1011.1,3134.1 L1012.0,3133.1 L1013.0,3134.7 L1013.9,3134.5 L1014.9,3135.0 L1015.8,3136.9 L1016.8,3133.9 L1017.8,3134.3 L1018.7,3133.1 L1019.7,3136.2 L1020.6,3133.9 L1021.6,3135.2 L1022.5,3133.1 L1023.5,3134.1 L1024.5,3135.1 L1025.4,3135.0 L1026.4,3134.2 L1027.3,3135.5 L1028.3,3134.7 L1029.2,3135.8 L1030.2,3134.4 L1031.2,3135.4 L1032.1,3134.2 L1033.1,3136.2 L1034.0,3134.8 L1035.0,3134.9 L1035.9,3134.2 L1036.9,3136.0 L1037.9,3135.0 L1038.8,3134.7 L1039.8,3136.4 L1040.7,3134.1 L1041.7,3136.0 L1042.6,3136.6 L1043.6,3133.1 L1044.6,3136.0 L1045.5,3135.6 L1046.5,3135.3 L1047.4,3135.5 L1048.4,3133.7 L1049.3,3135.6 L1050.3,3135.3 L1051.3,3133.5 L1052.2,3134.9 L1053.2,3133.8 L1054.1,3135.2 L1055.1,3134.2 L1056.0,3135.3 L1057.0,3133.6 L1057.9,3134.6 L1058.9,3134.7 L1059.9,3134.9 L1060.8,3136.4 L1061.8,3137.6 L1062.7,3133.5 L1063.7,3136.1 L1064.6,3134.9 L1065.6,3134.9 L1066.6,3134.9 L1067.5,3135.1 L1068.5,3135.2 L1069.4,3136.2 L1070.4,3136.7 L1071.3,3135.7 L1072.3,3135.4 L1073.3,3136.0 L1074.2,3135.8 L1075.2,3137.3 L1076.1,3134.3 L1077.1,3133.8 L1078.0,3135.1 L1079.0,3135.7 L1080.0,3135.1 L1080.9,3135.6 L1081.9,3132.5 L1082.8,3134.5 L1083.8,3134.6 L1084.7,3133.9 L1085.7,3134.7 L1086.7,3135.1 L1087.6,3135.8 L1088.6,3134.3 L1089.5,3133.5 L1090.5,3135.8 L1091.4,3137.4 L1092.4,3135.5 L1093.4,3135.5 L1094.3,3134.3 L1095.3,3135.6 L1096.2,3137.1 L1097.2,3133.2 L1098.1,3136.5 L1099.1,3133.3 L1100.1,3137.0 L1101.0,3136.3 L1102.0,3135.1 L1102.9,3135.7 L1103.9,3137.2 L1104.8,3134.3 L1105.8,3136.7 L1106.8,3136.1 L1107.7,3135.5 L1108.7,3137.0 L1109.6,3133.7 L1110.6,3135.4 L1111.5,3134.2 L1112.5,3135.4 L1113.5,3136.1 L1114.4,3133.8 L1115.4,3135.8 L1116.3,3135.8 L1117.3,3134.9 L1118.2,3135.4 L1119.2,3136.7 L1120.2,3135.9 L1121.1,3137.3 L1122.1,3134.4 L1123.0,3134.2 L1124.0,3136.8 L1124.9,3134.1 L1125.9,3136.9 L1126.9,3135.5 L1127.8,3136.3 L1128.8,3135.2 L1129.7,3136.7 L1130.7,3137.0 L1131.6,3136.9 L1132.6,3136.1 L1133.6,3134.2 L1134.5,3136.6 L1135.5,3135.7 L1136.4,3137.0 L1137.4,3134.0 L1138.3,3136.1 L1139.3,3135.1 L1140.3,3135.6 L1141.2,3136.6 L1142.2,3136.5 L1143.1,3137.2 L1144.1,3136.1 L1145.0,3136.2 L1146.0,3136.0 L1147.0,3134.4 L1147.9,3136.8 L1148.9,3134.8 L1149.8,3135.1 L1150.8,3136.1 L1151.7,3134.9 L1152.7,3135.2 L1153.6,3133.0 L1154.6,3134.7 L1155.6,3134.4 L1156.5,3135.0 L1157.5,3136.2 L1158.4,3135.3 L1159.4,3135.5 L1160.3,3135.7 L1161.3,3136.7 L1162.3,3136.8 L1163.2,3136.1 L1164.2,3135.4 L1165.1,3136.6 L1166.1,3135.3 L1167.0,3135.5 L1168.0,3136.0 L1169.0,3135.1 L1169.9,3134.5 L1170.9,3134.3 L1171.8,3135.3 L1172.8,3135.9 L1173.7,3136.3 L1174.7,3134.8 L1175.7,3135.9 L1176.6,3135.7 L1177.6,3135.2 L1178.5,3138.4 L1179.5,3134.9 L1180.4,3134.8 L1181.4,3135.8 L1182.4,3137.3 L1183.3,3135.3 L1184.3,3137.1 L1185.2,3134.6 L1186.2,3135.3 L1187.1,3135.5 L1188.1,3135.4 L1189.1,3135.8 L1190.0,3135.6 L1191.0,3135.5 L1191.9,3134.7 L1192.9,3136.2 L1193.8,3135.8 L1194.8,3136.0 L1195.8,3137.0 L1196.7,3136.3 L1197.7,3136.0 L1198.6,3137.2 L1199.6,3135.3 L1200.5,3134.1 L1201.5,3135.1 L1202.5,3134.4 L1203.4,3135.4 L1204.4,3135.5 L1205.3,3135.6 L1206.3,3136.0 L1207.2,3136.3 L1208.2,3136.1 L1209.2,3135.8 L1210.1,3135.3 L1211.1,3135.1 L1212.0,3135.6 L1213.0,3135.3 L1213.9,3134.4 L1214.9,3135.1 L1215.9,3136.3 L1216.8,3135.6 L1217.8,3134.7 L1218.7,3135.8 L1219.7,3136.2 L1220.6,3134.4 L1221.6,3137.2 L1222.6,3136.7 L1223.5,3135.3 L1224.5,3136.6 L1225.4,3135.7 L1226.4,3136.1 L1227.3,3134.5 L1228.3,3134.9 L1229.3,3135.1 L1230.2,3135.2 L1231.2,3134.8 L1232.1,3133.7 L1233.1,3134.1 L1234.0,3135.7 L1235.0,3134.8 L1236.0,3136.9 L1236.9,3136.6 L1237.9,3134.9 L1238.8,3135.3 L1239.8,3133.2 L1240.7,3135.8 L1241.7,3136.2 L1242.7,3134.2 L1243.6,3134.2 L1244.6,3134.4 L1245.5,3135.7 L1246.5,3135.9 L1247.4,3133.8 L1248.4,3134.4 L1249.3,3135.3 L1250.3,3135.0 L1251.3,3134.4 L1252.2,3135.2 L1253.2,3133.7 L1254.1,3133.0 L1255.1,3135.1 L1256.0,3135.2 L1257.0,3135.8 L1258.0,3134.1 L1258.9,3133.4 L1259.9,3134.3 L1260.8,3134.1 L1261.8,3134.2 L1262.7,3134.0 L1263.7,3135.4 L1264.7,3134.2 L1265.6,3135.2 L1266.6,3133.0 L1267.5,3132.6 L1268.5,3134.5 L1269.4,3132.2 L1270.4,3132.2 L1271.4,3132.1 L1272.3,3131.3 L1273.3,3133.5 L1274.2,3134.6 L1275.2,3133.3 L1276.1,3133.4 L1277.1,3132.1 L1278.1,3131.2 L1279.0,3132.6 L1280.0,3130.6 L1280.9,3130.0 L1281.9,3130.4 L1282.8,3132.1 L1283.8,3131.1 L1284.8,3130.1 L1285.7,3128.9 L1286.7,3128.6 L1287.6,3129.4 L1288.6,3128.5 L1289.5,3127.2 L1290.5,3128.6 L1291.5,3126.0 L1292.4,3124.3 L1293.4,3124.8 L1294.3,3125.3 L1295.3,3123.9 L1296.2,3123.1 L1297.2,3120.1 L1298.2,3120.1 L1299.1,3118.4 L1300.1,3116.6 L1301.0,3114.1 L1302.0,3114.9 L1302.9,3111.9 L1303.9,3109.4 L1304.9,3108.8 L1305.8,3108.6 L1306.8,3102.4 L1307.7,3102.1 L1308.7,3101.5 L1309.6,3099.4 L1310.6,3094.2 L1311.6,3092.6 L1312.5,3089.0 L1313.5,3089.2 L1314.4,3085.9 L1315.4,3084.9 L1316.3,3086.3 L1317.3,3082.6 L1318.3,3081.4 L1319.2,3083.0 L1320.2,3083.3 L1321.1,3083.8 L1322.1,3085.6 L1323.0,3084.8 L1324.0,3086.8 L1325.0,3089.2 L1325.9,3090.0 L1326.9,3093.8 L1327.8,3095.5 L1328.8,3096.6 L1329.7,3098.6 L1330.7,3101.0 L1331.7,3103.4 L1332.6,3103.1 L1333.6,3105.8 L1334.5,3108.3 L1335.5,3110.1 L1336.4,3112.2 L1337.4,3113.9 L1338.4,3116.2 L1339.3,3117.3 L1340.3,3119.4 L1341.2,3120.6 L1342.2,3121.4 L1343.1,3122.2 L1344.1,3122.8 L1345.0,3125.4 L1346.0,3124.9 L1347.0,3126.4 L1347.9,3127.7 L1348.9,3127.7 L1349.8,3126.4 L1350.8,3127.8 L1351.7,3131.1 L1352.7,3127.8 L1353.7,3131.2 L1354.6,3129.1 L1355.6,3130.6 L1356.5,3131.9 L1357.5,3130.0 L1358.4,3132.3 L1359.4,3129.2 L1360.4,3131.5 L1361.3,3131.2 L1362.3,3132.5 L1363.2,3133.0 L1364.2,3133.6 L1365.1,3133.6 L1366.1,3132.1 L1367.1,3131.7 L1368.0,3133.2 L1369.0,3132.3 L1369.9,3130.7 L1370.9,3130.8 L1371.8,3132.7 L1372.8,3132.8 L1373.8,3133.3 L1374.7,3133.5 L1375.7,3131.7 L1376.6,3133.8 L1377.6,3132.3 L1378.5,3134.0 L1379.5,3133.6 L1380.5,3135.3 L1381.4,3134.1 L1382.4,3133.2 L1383.3,3133.5 L1384.3,3133.9 L1385.2,3134.5 L1386.2,3134.7 L1387.2,3133.1 L1388.1,3132.9 L1389.1,3134.8 L1390.0,3134.1 L1391.0,3135.3 L1391.9,3134.7 L1392.9,3136.0 L1393.9,3134.9 L1394.8,3133.0 L1395.8,3133.9 L1396.7,3134.9 L1397.7,3133.2 L1398.6,3134.4 L1399.6,3135.1 L1400.6,3135.6 L1401.5,3135.4 L1402.5,3132.9 L1403.4,3135.7 L1404.4,3133.6 L1405.3,3134.6 L1406.3,3133.7 L1407.3,3135.5 L1408.2,3134.5 L1409.2,3134.8 L1410.1,3135.1 L1411.1,3134.5 L1412.0,3134.0 L1413.0,3136.1 L1414.0,3135.3 L1414.9,3135.5 L1415.9,3132.8 L1416.8,3132.6 L1417.8,3136.4 L1418.7,3135.4 L1419.7,3132.8 L1420.7,3135.1 L1421.6,3134.7 L1422.6,3133.6 L1423.5,3134.2 L1424.5,3136.6 L1425.4,3133.9 L1426.4,3135.1 L1427.4,3133.8 L1428.3,3133.0 L1429.3,3137.1 L1430.2,3135.3 L1431.2,3134.1 L1432.1,3134.2 L1433.1,3134.3 L1434.1,3133.5 L1435.0,3135.0 L1436.0,3135.2 L1436.9,3134.1 L1437.9,3134.5 L1438.8,3133.1 L1439.8,3134.7 L1440.7,3132.4 L1441.7,3134.3 L1442.7,3136.0 L1443.6,3134.1 L1444.6,3137.2 L1445.5,3133.2 L1446.5,3134.1 L1447.4,3134.3 L1448.4,3135.3 L1449.4,3135.6 L1450.3,3134.5 L1451.3,3132.7 L1452.2,3135.7 L1453.2,3134.9 L1454.1,3135.0 L1455.1,3132.5 L1456.1,3134.6 L1457.0,3133.9 L1458.0,3135.1 L1458.9,3135.9 L1459.9,3133.1 L1460.8,3133.9 L1461.8,3134.0 L1462.8,3133.1 L1463.7,3134.4 L1464.7,3134.4 L1465.6,3132.9 L1466.6,3132.9 L1467.5,3134.0 L1468.5,3131.8 L1469.5,3134.0 L1470.4,3134.5 L1471.4,3134.4 L1472.3,3132.5 L1473.3,3135.3 L1474.2,3135.6 L1475.2,3132.2 L1476.2,3135.2 L1477.1,3134.7 L1478.1,3134.2 L1479.0,3132.4 L1480.0,3134.2 L1480.9,3132.0 L1481.9,3133.1 L1482.9,3133.9 L1483.8,3133.5 L1484.8,3132.6 L1485.7,3133.2 L1486.7,3132.6 L1487.6,3132.9 L1488.6,3131.8 L1489.6,3131.3 L1490.5,3131.8 L1491.5,3131.0 L1492.4,3133.3 L1493.4,3134.7 L1494.3,3132.6 L1495.3,3132.9 L1496.3,3130.5 L1497.2,3131.3 L1498.2,3130.1 L1499.1,3131.8 L1500.1,3131.0 L1501.0,3129.7 L1502.0,3132.0 L1503.0,3130.3 L1503.9,3130.9 L1504.9,3130.7 L1505.8,3131.0 L1506.8,3130.6 L1507.7,3129.0 L1508.7,3128.5 L1509.7,3127.7 L1510.6,3127.0 L1511.6,3129.5 L1512.5,3126.7 L1513.5,3128.3 L1514.4,3125.6 L1515.4,3125.3 L1516.4,3126.6 L1517.3,3125.0 L1518.3,3123.8 L1519.2,3125.8 L1520.2,3122.3 L1521.1,3122.2 L1522.1,3123.2 L1523.1,3123.5 L1524.0,3121.3 L1525.0,3119.9 L1525.9,3122.4 L1526.9,3119.5 L1527.8,3118.1 L1528.8,3118.2 L1529.8,3118.6 L1530.7,3113.9 L1531.7,3115.0 L1532.6,3116.1 L1533.6,3115.3 L1534.5,3114.1 L1535.5,3113.3 L1536.4,3113.4 L1537.4,3113.3 L1538.4,3111.0 L1539.3,3110.7 L1540.3,3111.4 L1541.2,3109.8 L1542.2,3108.4 L1543.1,3109.3 L1544.1,3108.0 L1545.1,3109.6 L1546.0,3109.7 L1547.0,3108.1 L1547.9,3108.6 L1548.9,3109.1 L1549.8,3110.1 L1550.8,3110.0 L1551.8,3109.4 L1552.7,3109.7 L1553.7,3111.0 L1554.6,3110.5 L1555.6,3110.6 L1556.5,3109.3 L1557.5,3110.8 L1558.5,3111.3 L1559.4,3111.2 L1560.4,3110.3 L1561.3,3109.7 L1562.3,3112.4 L1563.2,3112.6 L1564.2,3112.2 L1565.2,3111.3 L1566.1,3111.8 L1567.1,3112.2 L1568.0,3113.1 L1569.0,3112.4 L1569.9,3111.4 L1570.9,3111.7 L1571.9,3110.9 L1572.8,3113.8 L1573.8,3111.1 L1574.7,3113.1 L1575.7,3111.7 L1576.6,3113.1 L1577.6,3109.9 L1578.6,3111.5 L1579.5,3109.6 L1580.5,3109.4 L1581.4,3109.3 L1582.4,3108.5 L1583.3,3108.8 L1584.3,3109.3 L1585.3,3111.1 L1586.2,3108.9 L1587.2,3107.8 L1588.1,3110.0 L1589.1,3110.9 L1590.0,3107.1 L1591.0,3110.4 L1592.0,3108.7 L1592.9,3108.6 L1593.9,3111.6 L1594.8,3112.8 L1595.8,3113.7 L1596.7,3112.4 L1597.7,3112.6 L1598.7,3113.8 L1599.6,3114.9 L1600.6,3115.9 L1601.5,3117.1 L1602.5,3116.8 L1603.4,3117.7 L1604.4,3118.0 L1605.4,3117.7 L1606.3,3119.7 L1607.3,3121.4 L1608.2,3121.4 L1609.2,3119.0 L1610.1,3123.5 L1611.1,3121.7 L1612.1,3125.5 L1613.0,3125.9 L1614.0,3125.0 L1614.9,3126.8 L1615.9,3124.6 L1616.8,3125.7 L1617.8,3125.7 L1618.8,3127.3 L1619.7,3127.4 L1620.7,3128.0 L1621.6,3128.3 L1622.6,3130.1 L1623.5,3129.0 L1624.5,3128.9 L1625.5,3129.8 L1626.4,3130.5 L1627.4,3130.8 L1628.3,3129.6 L1629.3,3130.4 L1630.2,3130.9 L1631.2,3130.5 L1632.1,3130.0 L1633.1,3131.3 L1634.1,3129.4 L1635.0,3132.0 L1636.0,3131.2 L1636.9,3132.4 L1637.9,3132.8 L1638.8,3135.1 L1639.8,3135.3 L1640.8,3135.8 L1641.7,3133.7 L1642.7,3133.3 L1643.6,3134.8 L1644.6,3133.0 L1645.5,3134.1 L1646.5,3133.5 L1647.5,3134.4 L1648.4,3135.3 L1649.4,3133.5 L1650.3,3135.0 L1651.3,3135.0 L1652.2,3135.2 L1653.2,3135.5 L1654.2,3134.7 L1655.1,3135.1 L1656.1,3134.9 L1657.0,3133.8 L1658.0,3137.0 L1658.9,3136.3 L1659.9,3136.3 L1660.9,3135.0 L1661.8,3133.9 L1662.8,3136.1 L1663.7,3134.9 L1664.7,3137.7 L1665.6,3137.7 L1666.6,3135.4 L1667.6,3137.4 L1668.5,3136.8 L1669.5,3136.0 L1670.4,3134.4 L1671.4,3136.7 L1672.3,3137.1 L1673.3,3137.1 L1674.3,3135.7 L1675.2,3136.3 L1676.2,3136.4 L1677.1,3136.4 L1678.1,3135.7 L1679.0,3137.5 L1680.0,3137.0 L1681.0,3136.0 L1681.9,3136.9 L1682.9,3137.5 L1683.8,3136.8 L1684.8,3136.8 L1685.7,3137.3 L1686.7,3135.7 L1687.7,3137.3 L1688.6,3135.9 L1689.6,3136.8 L1690.5,3137.9 L1691.5,3136.1 L1692.4,3137.8 L1693.4,3137.3 L1694.4,3138.1 L1695.3,3135.1 L1696.3,3132.6 L1697.2,3135.7 L1698.2,3138.9 L1699.1,3137.0 L1700.1,3136.5 L1701.1,3136.8 L1702.0,3137.2 L1703.0,3136.6 L1703.9,3139.2 L1704.9,3136.9 L1705.8,3135.4 L1706.8,3135.4 L1707.8,3136.7 L1708.7,3136.8 L1709.7,3137.6 L1710.6,3137.8 L1711.6,3137.9 L1712.5,3135.7 L1713.5,3137.2 L1714.5,3136.1 L1715.4,3137.0 L1716.4,3135.7 L1717.3,3138.2 L1718.3,3138.2 L1719.2,3137.1 L1720.2,3135.8 L1721.2,3137.9 L1722.1,3137.1 L1723.1,3135.3 L1724.0,3137.4 L1725.0,3137.7 L1725.9,3137.3 L1726.9,3134.9 L1727.8,3137.5 L1728.8,3137.7 L1729.8,3136.1 L1730.7,3137.8 L1731.7,3137.2 L1732.6,3137.7 L1733.6,3134.9 L1734.5,3136.4 L1735.5,3137.2 L1736.5,3135.1 L1737.4,3136.8 L1738.4,3138.5 L1739.3,3135.0 L1740.3,3138.1 L1741.2,3137.6 L1742.2,3135.7 L1743.2,3135.8 L1744.1,3135.7 L1745.1,3136.9 L1746.0,3134.1 L1747.0,3137.3 L1747.9,3134.9 L1748.9,3136.2 L1749.9,3136.1 L1750.8,3137.3 L1751.8,3135.5 L1752.7,3135.6 L1753.7,3137.7 L1754.6,3138.2 L1755.6,3136.4 L1756.6,3136.1 L1757.5,3136.7 L1758.5,3136.5 L1759.4,3136.4 L1760.4,3135.3 L1761.3,3134.0 L1762.3,3136.6 L1763.3,3136.3 L1764.2,3137.5 L1765.2,3137.5 L1766.1,3138.0 L1767.1,3135.8 L1768.0,3137.0 L1769.0,3134.9 L1770.0,3136.5 L1770.9,3136.8 L1771.9,3135.4 L1772.8,3136.1 L1773.8,3138.8 L1774.7,3135.3 L1775.7,3137.3 L1776.7,3135.8 L1777.6,3137.1 L1778.6,3133.5 L1779.5,3134.8 L1780.5,3135.9 L1781.4,3138.0 L1782.4,3136.0 L1783.4,3134.9 L1784.3,3135.8 L1785.3,3137.0 L1786.2,3134.6 L1787.2,3136.3 L1788.1,3136.0 L1789.1,3135.8 L1790.1,3136.7 L1791.0,3135.5 L1792.0,3136.9 L1792.9,3137.0 L1793.9,3138.1 L1794.8,3136.7 L1795.8,3136.2 L1796.8,3135.1 L1797.7,3135.8 L1798.7,3135.0 L1799.6,3137.8 L1800.6,3133.9 L1801.5,3136.8 L1802.5,3136.9 L1803.5,3137.1 L1804.4,3135.9 L1805.4,3138.7 L1806.3,3136.0 L1807.3,3134.7 L1808.2,3135.7 L1809.2,3135.6 L1810.2,3137.8 L1811.1,3136.3 L1812.1,3135.4 L1813.0,3135.4 L1814.0,3136.2 L1814.9,3135.9 L1815.9,3136.2 L1816.9,3137.4 L1817.8,3134.9 L1818.8,3135.6 L1819.7,3136.6 L1820.7,3134.8 L1821.6,3137.0 L1822.6,3137.8 L1823.5,3136.5 L1824.5,3137.2 L1825.5,3136.0 L1826.4,3136.4 L1827.4,3136.7 L1828.3,3136.3 L1829.3,3137.7 L1830.2,3135.9 L1831.2,3137.3 L1832.2,3135.8 L1833.1,3138.0 L1834.1,3137.7 L1835.0,3136.6 L1836.0,3134.7 L1836.9,3135.2 L1837.9,3133.2 L1838.9,3136.9 L1839.8,3135.4 L1840.8,3135.1 L1841.7,3135.8 L1842.7,3134.1 L1843.6,3135.1 L1844.6,3135.7 L1845.6,3136.4 L1846.5,3137.7 L1847.5,3134.3 L1848.4,3136.0 L1849.4,3134.2 L1850.3,3133.6 L1851.3,3134.9 L1852.3,3134.2 L1853.2,3132.4 L1854.2,3133.8 L1855.1,3135.7 L1856.1,3132.5 L1857.0,3132.1 L1858.0,3134.0 L1859.0,3132.5 L1859.9,3131.1 L1860.9,3132.0 L1861.8,3130.5 L1862.8,3129.7 L1863.7,3130.5 L1864.7,3128.6 L1865.7,3129.8 L1866.6,3130.1 L1867.6,3127.1 L1868.5,3126.5 L1869.5,3125.8 L1870.4,3126.0 L1871.4,3124.5 L1872.4,3124.9 L1873.3,3125.0 L1874.3,3122.4 L1875.2,3123.3 L1876.2,3123.8 L1877.1,3122.9 L1878.1,3120.6 L1879.1,3122.6 L1880.0,3119.9 L1881.0,3121.9 L1881.9,3118.9 L1882.9,3121.3 L1883.8,3120.3 L1884.8,3120.4 L1885.8,3120.6 L1886.7,3120.3 L1887.7,3122.2 L1888.6,3122.3 L1889.6,3123.5 L1890.5,3122.2 L1891.5,3124.5 L1892.5,3125.4 L1893.4,3123.9 L1894.4,3126.9 L1895.3,3127.8 L1896.3,3125.5 L1897.2,3126.4 L1898.2,3130.7 L1899.2,3129.0 L1900.1,3129.1 L1901.1,3128.8 L1902.0,3131.1 L1903.0,3130.4 L1903.9,3131.8 L1904.9,3132.0 L1905.9,3132.8 L1906.8,3133.4 L1907.8,3132.8 L1908.7,3133.9 L1909.7,3134.4 L1910.6,3133.8 L1911.6,3133.6 L1912.6,3134.9 L1913.5,3136.5 L1914.5,3134.9 L1915.4,3134.8 L1916.4,3135.8 L1917.3,3135.1 L1918.3,3135.9 L1919.2,3135.9 L1920.2,3135.5 L1921.2,3136.6 L1922.1,3135.4 L1923.1,3135.6 L1924.0,3134.7 L1925.0,3135.7 L1925.9,3136.8 L1926.9,3137.9 L1927.9,3140.0 L1928.8,3136.6 L1929.8,3136.3 L1930.7,3139.0 L1931.7,3135.4 L1932.6,3137.9 L1933.6,3137.3 L1934.6,3138.8 L1935.5,3136.8 L1936.5,3137.3 L1937.4,3135.3 L1938.4,3136.5 L1939.3,3137.1 L1940.3,3136.6 L1941.3,3136.4 L1942.2,3138.3 L1943.2,3135.6 L1944.1,3135.4 L1945.1,3135.6 L1946.0,3136.4 L1947.0,3136.2 L1948.0,3136.9 L1948.9,3136.5 L1949.9,3139.1 L1950.8,3136.5 L1951.8,3137.1 L1952.7,3137.9 L1953.7,3139.8 L1954.7,3137.2 L1955.6,3136.8 L1956.6,3138.5 L1957.5,3137.0 L1958.5,3135.8 L1959.4,3135.9 L1960.4,3137.1 L1961.4,3136.1 L1962.3,3138.7 L1963.3,3138.1 L1964.2,3139.4 L1965.2,3137.9 L1966.1,3137.3 L1967.1,3138.4 L1968.1,3138.4 L1969.0,3136.7 L1970.0,3139.5 L1970.9,3137.9 L1971.9,3138.5 L1972.8,3137.1 L1973.8,3138.7 L1974.8,3140.0 L1975.7,3137.5 L1976.7,3136.6 L1977.6,3137.8 L1978.6,3137.8 L1979.5,3138.3 L1980.5,3135.9 L1981.5,3138.7 L1982.4,3137.9 L1983.4,3137.2 L1984.3,3136.2 L1985.3,3137.7 L1986.2,3138.7 L1987.2,3138.0 L1988.2,3138.0 L1989.1,3137.5 L1990.1,3137.7 L1991.0,3136.0 L1992.0,3139.0 L1992.9,3138.5 L1993.9,3137.1 L1994.9,3137.4 L1995.8,3135.9 L1996.8,3136.4 L1997.7,3137.8 L1998.7,3136.5 L1999.6,3136.1 L2000.6,3136.9 L2001.6,3137.9 L2002.5,3136.1 L2003.5,3137.7 L2004.4,3137.8 L2005.4,3137.8 L2006.3,3137.7 L2007.3,3137.2 L2008.3,3136.8 L2009.2,3138.1 L2010.2,3136.1 L2011.1,3138.4 L2012.1,3135.7 L2013.0,3136.8 L2014.0,3137.3 L2014.9,3135.1 L2015.9,3137.5 L2016.9,3138.1 L2017.8,3135.8 L2018.8,3136.7 L2019.7,3137.8 L2020.7,3137.7 L2021.6,3137.9 L2022.6,3135.2 L2023.6,3136.6 L2024.5,3138.1 L2025.5,3135.2 L2026.4,3135.5 L2027.4,3136.6 L2028.3,3136.6 L2029.3,3135.2 L2030.3,3135.6 L2031.2,3136.5 L2032.2,3136.8 L2033.1,3138.6 L2034.1,3137.6 L2035.0,3136.9 L2036.0,3136.6 L2037.0,3137.4 L2037.9,3139.4 L2038.9,3136.2 L2039.8,3135.6 L2040.8,3135.3 L2041.7,3136.5 L2042.7,3135.3 L2043.7,3134.5 L2044.6,3135.6 L2045.6,3135.6 L2046.5,3137.4 L2047.5,3138.1 L2048.4,3135.9 L2049.4,3135.9 L2050.4,3137.5 L2051.3,3136.4 L2052.3,3135.9 L2053.2,3137.2 L2054.2,3135.3 L2055.1,3137.0 L2056.1,3138.5 L2057.1,3134.7 L2058.0,3136.7 L2059.0,3135.9 L2059.9,3137.6 L2060.9,3137.2 L2061.8,3135.2 L2062.8,3135.9 L2063.8,3135.1 L2064.7,3137.1 L2065.7,3135.0 L2066.6,3135.8 L2067.6,3136.9 L2068.5,3135.4 L2069.5,3134.7 L2070.5,3134.6 L2071.4,3134.6 L2072.4,3135.5 L2073.3,3135.3 L2074.3,3136.1 L2075.2,3135.5 L2076.2,3136.9 L2077.2,3136.4 L2078.1,3137.1 L2079.1,3134.9 L2080.0,3134.2 L2081.0,3136.8 L2081.9,3135.8 L2082.9,3133.1 L2083.9,3134.7 L2084.8,3135.7 L2085.8,3136.4 L2086.7,3137.6 L2087.7,3136.2 L2088.6,3135.2 L2089.6,3134.4 L2090.6,3133.8 L2091.5,3133.9 L2092.5,3133.3 L2093.4,3134.3 L2094.4,3135.4 L2095.3,3134.6 L2096.3,3132.9 L2097.3,3134.5 L2098.2,3134.8 L2099.2,3133.3 L2100.1,3133.0 L2101.1,3133.0 L2102.0,3133.3 L2103.0,3130.5 L2104.0,3131.4 L2104.9,3130.7 L2105.9,3132.0 L2106.8,3132.2 L2107.8,3130.9 L2108.7,3132.4 L2109.7,3131.3 L2110.6,3131.2 L2111.6,3130.8 L2112.6,3129.3 L2113.5,3132.3 L2114.5,3130.6 L2115.4,3128.5 L2116.4,3130.9 L2117.3,3131.2 L2118.3,3128.9 L2119.3,3130.4 L2120.2,3132.1 L2121.2,3131.1 L2122.1,3130.8 L2123.1,3130.9 L2124.0,3131.5 L2125.0,3130.2 L2126.0,3131.0 L2126.9,3131.9 L2127.9,3131.8 L2128.8,3133.4 L2129.8,3130.2 L2130.7,3134.5 L2131.7,3132.0 L2132.7,3132.0 L2133.6,3132.7 L2134.6,3134.1 L2135.5,3132.9 L2136.5,3134.7 L2137.4,3134.6 L2138.4,3133.6 L2139.4,3133.4 L2140.3,3133.5 L2141.3,3134.1 L2142.2,3132.4 L2143.2,3135.4 L2144.1,3134.1 L2145.1,3134.4 L2146.1,3133.5 L2147.0,3133.5 L2148.0,3135.8 L2148.9,3132.2 L2149.9,3134.5 L2150.8,3133.5 L2151.8,3132.5 L2152.8,3135.0 L2153.7,3133.4 L2154.7,3135.0 L2155.6,3133.9 L2156.6,3132.0 L2157.5,3134.1 L2158.5,3133.0" fill="none" stroke="#ff0000" stroke-width="8" stroke-linejoin="round"/>
<path d="M244.5,3027.9 L245.5,3027.5 L246.4,3027.2 L247.4,3024.7 L248.3,3027.7 L249.3,3024.9 L250.2,3028.2 L251.2,3027.9 L252.2,3028.1 L253.1,3028.1 L254.1,3027.5 L255.0,3026.6 L256.0,3026.9 L256.9,3028.9 L257.9,3026.6 L258.9,3026.9 L259.8,3026.4 L260.8,3026.6 L261.7,3026.8 L262.7,3027.5 L263.6,3026.8 L264.6,3026.8 L265.6,3026.5 L266.5,3027.3 L267.5,3025.7 L268.4,3027.2 L269.4,3028.6 L270.3,3026.3 L271.3,3027.1 L272.3,3030.2 L273.2,3026.0 L274.2,3025.3 L275.1,3026.6 L276.1,3029.1 L277.0,3029.3 L278.0,3025.7 L279.0,3027.7 L279.9,3027.1 L280.9,3026.4 L281.8,3024.9 L282.8,3028.2 L283.7,3026.1 L284.7,3027.4 L285.7,3027.1 L286.6,3029.1 L287.6,3028.3 L288.5,3025.7 L289.5,3026.7 L290.4,3028.1 L291.4,3025.5 L292.3,3026.6 L293.3,3027.2 L294.3,3025.2 L295.2,3025.6 L296.2,3025.1 L297.1,3027.3 L298.1,3026.3 L299.0,3028.0 L300.0,3027.1 L301.0,3027.5 L301.9,3026.8 L302.9,3027.7 L303.8,3026.8 L304.8,3025.8 L305.7,3028.2 L306.7,3027.9 L307.7,3029.3 L308.6,3026.7 L309.6,3026.2 L310.5,3025.2 L311.5,3022.6 L312.4,3025.4 L313.4,3027.3 L314.4,3025.8 L315.3,3023.9 L316.3,3027.4 L317.2,3026.1 L318.2,3026.3 L319.1,3026.2 L320.1,3026.5 L321.1,3027.2 L322.0,3024.8 L323.0,3026.4 L323.9,3026.1 L324.9,3027.9 L325.8,3025.5 L326.8,3028.4 L327.8,3027.2 L328.7,3028.3 L329.7,3025.7 L330.6,3027.4 L331.6,3026.9 L332.5,3024.8 L333.5,3026.1 L334.5,3025.9 L335.4,3025.3 L336.4,3025.5 L337.3,3024.7 L338.3,3025.7 L339.2,3026.6 L340.2,3025.3 L341.2,3024.4 L342.1,3027.2 L343.1,3025.6 L344.0,3025.9 L345.0,3025.5 L345.9,3025.0 L346.9,3026.1 L347.9,3024.6 L348.8,3025.0 L349.8,3023.0 L350.7,3022.3 L351.7,3023.2 L352.6,3025.2 L353.6,3022.7 L354.6,3024.1 L355.5,3021.9 L356.5,3021.6 L357.4,3020.3 L357.4,3020.9 L358.4,3023.0 L359.3,3022.6 L360.3,3021.0 L361.3,3021.7 L362.2,3024.2 L363.2,3022.6 L364.1,3024.6 L365.1,3023.0 L366.0,3024.9 L367.0,3026.1 L368.0,3025.5 L368.9,3025.0 L369.9,3024.9 L370.8,3024.7 L371.8,3024.8 L372.7,3026.1 L373.7,3026.0 L374.7,3025.2 L375.6,3023.3 L376.6,3024.0 L377.5,3024.8 L378.5,3024.5 L379.4,3022.9 L380.4,3025.0 L381.4,3027.0 L382.3,3022.7 L383.3,3024.0 L384.2,3025.6 L385.2,3023.2 L386.1,3023.1 L387.1,3023.6 L388.0,3023.9 L389.0,3022.6 L390.0,3024.0 L390.9,3020.6 L391.9,3023.3 L392.8,3022.7 L393.8,3021.9 L394.7,3022.3 L395.7,3021.7 L396.7,3022.8 L397.6,3020.5 L398.6,3020.7 L399.5,3018.9 L400.5,3018.8 L401.4,3019.4 L402.4,3017.6 L403.4,3017.9 L404.3,3016.9 L405.3,3017.3 L406.2,3017.4 L407.2,3017.7 L408.1,3013.9 L409.1,3015.1 L410.1,3015.5 L411.0,3015.2 L412.0,3014.3 L412.9,3010.1 L413.9,3010.0 L414.8,3010.0 L415.8,3009.1 L416.8,3006.9 L417.7,3005.2 L418.7,3003.4 L419.6,3000.3 L420.6,2999.0 L421.5,2997.3 L422.5,2993.3 L423.5,2991.8 L424.4,2984.0 L425.4,2982.8 L426.3,2980.7 L427.3,2974.9 L428.2,2970.0 L429.2,2962.3 L430.2,2953.8 L431.1,2946.5 L432.1,2939.6 L433.0,2925.6 L434.0,2914.8 L434.9,2900.7 L435.9,2887.0 L436.9,2870.1 L437.8,2852.1 L438.8,2829.2 L439.7,2808.4 L440.7,2781.4 L441.6,2752.3 L442.6,2722.3 L443.6,2691.5 L444.5,2663.2 L445.5,2636.6 L446.4,2608.7 L447.4,2586.9 L448.3,2573.4 L449.3,2565.7 L449.7,2564.6 L450.3,2565.0 L451.2,2575.8 L452.2,2593.5 L453.1,2615.1 L454.1,2641.2 L455.0,2669.4 L456.0,2699.9 L457.0,2730.7 L457.9,2758.7 L458.9,2786.6 L459.8,2811.3 L460.8,2836.1 L461.7,2854.8 L462.7,2875.2 L463.7,2892.0 L464.6,2906.7 L465.6,2919.6 L466.5,2929.7 L467.5,2939.7 L468.4,2948.8 L469.4,2956.7 L470.4,2962.8 L471.3,2969.6 L472.3,2974.9 L473.2,2979.3 L474.2,2985.1 L475.1,2987.6 L476.1,2992.1 L477.1,2996.5 L478.0,2999.5 L479.0,3000.1 L479.9,3003.4 L480.9,3004.6 L481.8,3008.7 L482.8,3009.5 L483.7,3010.4 L484.7,3010.4 L485.7,3011.5 L486.6,3013.5 L487.6,3013.9 L488.5,3014.6 L489.5,3016.5 L490.4,3015.1 L491.4,3015.0 L492.4,3016.8 L493.3,3017.3 L494.3,3019.0 L495.2,3018.7 L496.2,3019.9 L497.1,3018.4 L498.1,3022.6 L499.1,3021.8 L500.0,3020.8 L501.0,3022.5 L501.9,3023.8 L502.9,3023.7 L503.8,3022.9 L504.8,3024.0 L505.8,3024.5 L506.7,3022.5 L507.7,3022.4 L508.6,3023.6 L509.6,3025.5 L510.5,3026.2 L511.5,3024.9 L512.5,3026.6 L513.4,3026.2 L514.4,3025.2 L515.3,3024.6 L516.3,3024.8 L517.2,3025.8 L518.2,3027.3 L519.2,3026.8 L520.1,3024.6 L521.1,3024.8 L522.0,3027.1 L523.0,3026.5 L523.9,3025.4 L524.9,3027.2 L525.9,3028.1 L526.8,3027.5 L527.8,3026.9 L528.7,3028.3 L529.7,3026.5 L530.6,3026.3 L531.6,3026.0 L532.6,3029.2 L533.5,3029.5 L534.5,3027.2 L535.4,3027.9 L536.4,3027.8 L537.3,3028.4 L538.3,3028.7 L539.3,3028.2 L540.2,3027.4 L541.2,3027.0 L542.1,3026.5 L543.1,3024.8 L544.0,3027.6 L545.0,3026.8 L546.0,3027.8 L546.9,3027.7 L547.9,3026.7 L548.8,3027.3 L549.8,3028.4 L550.7,3028.1 L551.7,3027.0 L552.7,3027.2 L553.6,3028.6 L554.6,3028.3 L555.5,3028.4 L556.5,3027.9 L557.4,3028.9 L558.4,3028.2 L559.4,3030.9 L560.3,3027.6 L561.3,3027.4 L562.2,3030.0 L563.2,3028.1 L564.1,3027.3 L565.1,3028.7 L566.1,3025.6 L567.0,3028.7 L568.0,3028.2 L568.9,3028.5 L569.9,3027.3 L570.8,3029.7 L571.8,3028.6 L572.8,3028.2 L573.7,3028.6 L574.7,3027.3 L575.6,3028.1 L576.6,3026.6 L577.5,3027.0 L578.5,3028.6 L579.4,3028.4 L580.4,3029.1 L581.4,3027.5 L582.3,3028.1 L583.3,3027.5 L584.2,3028.5 L585.2,3029.1 L586.1,3029.4 L587.1,3028.9 L588.1,3027.4 L589.0,3028.5 L590.0,3027.1 L590.9,3026.1 L591.9,3028.4 L592.8,3028.3 L593.8,3029.0 L594.8,3029.1 L595.7,3026.8 L596.7,3027.2 L597.6,3028.2 L598.6,3028.2 L599.5,3028.6 L600.5,3026.7 L601.5,3027.9 L602.4,3028.8 L603.4,3030.2 L604.3,3026.7 L605.3,3029.9 L606.2,3027.7 L607.2,3026.4 L608.2,3029.5 L609.1,3026.8 L610.1,3026.7 L611.0,3028.7 L612.0,3029.1 L612.9,3028.0 L613.9,3027.1 L614.9,3026.2 L615.8,3027.9 L616.8,3025.2 L617.7,3026.1 L618.7,3028.8 L619.6,3028.3 L620.6,3028.9 L621.6,3027.9 L622.5,3026.2 L623.5,3027.9 L624.4,3025.3 L625.4,3027.9 L626.3,3028.6 L627.3,3025.9 L628.3,3028.0 L629.2,3026.8 L630.2,3026.4 L631.1,3024.3 L632.1,3026.1 L633.0,3027.0 L634.0,3024.0 L635.0,3025.1 L635.9,3024.7 L636.9,3023.4 L637.8,3026.0 L638.8,3024.6 L639.7,3024.3 L640.7,3025.0 L641.7,3022.8 L642.6,3026.8 L643.6,3022.3 L644.5,3021.2 L645.5,3022.7 L646.4,3022.0 L647.4,3020.1 L648.4,3019.7 L649.3,3021.2 L650.3,3020.2 L651.2,3019.9 L652.2,3020.0 L653.1,3018.0 L654.1,3019.8 L655.1,3018.2 L656.0,3018.7 L657.0,3016.8 L657.9,3018.6 L658.9,3018.1 L659.8,3020.7 L660.8,3018.0 L661.8,3020.1 L662.7,3019.4 L663.7,3020.8 L664.6,3019.7 L665.6,3020.4 L666.5,3017.9 L667.5,3019.4 L668.5,3022.4 L669.4,3022.2 L670.4,3023.0 L671.3,3022.3 L672.3,3023.9 L673.2,3023.0 L674.2,3023.8 L675.1,3025.5 L676.1,3025.7 L677.1,3024.4 L678.0,3025.2 L679.0,3025.7 L679.9,3025.6 L680.9,3025.9 L681.8,3025.2 L682.8,3027.0 L683.8,3025.5 L684.7,3025.7 L685.7,3028.4 L686.6,3029.1 L687.6,3029.3 L688.5,3027.8 L689.5,3026.9 L690.5,3028.4 L691.4,3029.4 L692.4,3027.9 L693.3,3027.5 L694.3,3026.2 L695.2,3026.2 L696.2,3030.0 L697.2,3026.6 L698.1,3027.5 L699.1,3028.0 L700.0,3028.6 L701.0,3027.0 L701.9,3029.1 L702.9,3029.1 L703.9,3028.6 L704.8,3027.9 L705.8,3028.2 L706.7,3026.5 L707.7,3029.4 L708.6,3028.2 L709.6,3027.3 L710.6,3028.8 L711.5,3029.4 L712.5,3029.2 L713.4,3029.6 L714.4,3030.2 L715.3,3028.4 L716.3,3029.2 L717.3,3029.3 L718.2,3027.4 L719.2,3030.2 L720.1,3028.7 L721.1,3029.4 L722.0,3029.4 L723.0,3028.2 L724.0,3030.0 L724.9,3030.2 L725.9,3029.4 L726.8,3026.0 L727.8,3030.7 L728.7,3029.1 L729.7,3028.6 L730.7,3028.6 L731.6,3028.1 L732.6,3028.9 L733.5,3030.0 L734.5,3028.2 L735.4,3029.6 L736.4,3028.7 L737.4,3029.1 L738.3,3029.0 L739.3,3029.8 L740.2,3030.6 L741.2,3029.5 L742.1,3030.5 L743.1,3031.2 L744.1,3027.9 L745.0,3030.4 L746.0,3029.2 L746.9,3029.4 L747.9,3030.7 L748.8,3029.4 L749.8,3028.9 L750.8,3031.0 L751.7,3030.8 L752.7,3030.1 L753.6,3032.8 L754.6,3028.6 L755.5,3028.0 L756.5,3029.5 L757.5,3028.5 L758.4,3030.2 L759.4,3029.2 L760.3,3029.2 L761.3,3029.8 L762.2,3028.9 L763.2,3027.8 L764.2,3029.1 L765.1,3030.7 L766.1,3030.2 L767.0,3030.9 L768.0,3031.8 L768.9,3030.9 L769.9,3029.9 L770.8,3029.1 L771.8,3030.5 L772.8,3031.7 L773.7,3031.6 L774.7,3031.0 L775.6,3029.1 L776.6,3030.7 L777.5,3030.8 L778.5,3031.4 L779.5,3028.7 L780.4,3029.3 L781.4,3030.2 L782.3,3030.2 L783.3,3029.4 L784.2,3030.7 L785.2,3029.8 L786.2,3031.4 L787.1,3029.6 L788.1,3030.4 L789.0,3027.9 L790.0,3030.4 L790.9,3029.5 L791.9,3031.0 L792.9,3030.0 L793.8,3031.6 L794.8,3029.7 L795.7,3028.7 L796.7,3030.5 L797.6,3030.9 L798.6,3029.5 L799.6,3028.9 L800.5,3031.1 L801.5,3031.5 L802.4,3031.1 L803.4,3030.4 L804.3,3030.3 L805.3,3032.1 L806.3,3031.2 L807.2,3029.4 L808.2,3029.2 L809.1,3031.0 L810.1,3031.2 L811.0,3029.7 L812.0,3029.6 L813.0,3031.5 L813.9,3030.1 L814.9,3031.3 L815.8,3029.2 L816.8,3029.3 L817.7,3028.5 L818.7,3030.4 L819.7,3030.0 L820.6,3028.6 L821.6,3030.6 L822.5,3029.8 L823.5,3030.2 L824.4,3031.9 L825.4,3031.5 L826.4,3030.9 L827.3,3030.0 L828.3,3029.1 L829.2,3029.6 L830.2,3029.9 L831.1,3031.7 L832.1,3029.3 L833.1,3029.7 L834.0,3030.3 L835.0,3030.7 L835.9,3031.5 L836.9,3031.7 L837.8,3030.1 L838.8,3032.4 L839.8,3031.0 L840.7,3029.4 L841.7,3029.1 L842.6,3029.7 L843.6,3029.9 L844.5,3031.0 L845.5,3029.3 L846.5,3029.5 L847.4,3029.2 L848.4,3030.4 L849.3,3028.5 L850.3,3030.6 L851.2,3029.2 L852.2,3029.8 L853.2,3030.4 L854.1,3030.3 L855.1,3033.0 L856.0,3028.9 L857.0,3027.6 L857.9,3028.4 L858.9,3030.7 L859.9,3028.6 L860.8,3030.8 L861.8,3029.4 L862.7,3030.4 L863.7,3027.9 L864.6,3030.6 L865.6,3030.7 L866.5,3028.3 L867.5,3030.8 L868.5,3032.1 L869.4,3029.1 L870.4,3028.0 L871.3,3028.3 L872.3,3028.5 L873.2,3029.9 L874.2,3030.6 L875.2,3028.0 L876.1,3028.1 L877.1,3026.6 L878.0,3027.3 L879.0,3028.2 L879.9,3025.1 L880.9,3027.8 L881.9,3027.6 L882.8,3027.5 L883.8,3025.0 L884.7,3023.4 L885.7,3024.1 L886.6,3022.6 L887.6,3020.9 L888.6,3021.1 L889.5,3019.5 L890.5,3022.1 L891.4,3019.7 L892.4,3018.6 L893.3,3015.3 L894.3,3016.9 L895.3,3013.9 L896.2,3014.3 L897.2,3011.4 L898.1,3012.6 L899.1,3009.8 L899.1,3011.4 L900.0,3011.3 L901.0,3010.2 L902.0,3012.1 L902.9,3012.0 L903.9,3012.8 L904.8,3014.7 L905.8,3016.0 L906.7,3014.9 L907.7,3017.0 L908.7,3017.1 L909.6,3016.9 L910.6,3017.8 L911.5,3014.2 L912.5,3016.8 L913.4,3015.0 L914.4,3013.0 L915.4,3011.9 L916.3,3011.4 L917.3,3009.4 L918.2,3006.4 L919.2,3001.4 L920.1,2997.7 L921.1,2995.7 L922.1,2992.4 L923.0,2986.8 L924.0,2984.2 L924.9,2979.8 L925.9,2975.8 L926.8,2971.4 L927.8,2971.4 L928.8,2970.2 L928.9,2970.6 L929.7,2969.9 L930.7,2969.7 L931.6,2974.2 L932.6,2978.2 L933.5,2981.1 L934.5,2984.1 L935.5,2990.1 L936.4,2994.2 L937.4,2995.7 L938.3,2999.6 L939.3,3001.7 L940.2,3006.1 L941.2,3008.0 L942.2,3011.4 L943.1,3009.7 L944.1,3013.0 L945.0,3011.9 L946.0,3012.6 L946.9,3010.9 L947.9,3012.0 L948.9,3010.9 L949.8,3010.7 L950.8,3010.3 L951.7,3009.9 L952.7,3009.5 L953.6,3007.9 L954.6,3006.5 L955.6,3008.4 L956.5,3007.5 L956.5,3006.7 L957.5,3009.3 L958.4,3008.8 L959.4,3010.3 L960.3,3008.9 L961.3,3011.4 L962.2,3015.7 L963.2,3015.5 L964.2,3016.9 L965.1,3017.0 L966.1,3018.9 L967.0,3020.7 L968.0,3021.3 L968.9,3022.3 L969.9,3021.4 L970.9,3023.3 L971.8,3024.4 L972.8,3026.2 L973.7,3026.7 L974.7,3026.6 L975.6,3026.2 L976.6,3026.6 L977.6,3028.0 L978.5,3026.5 L979.5,3028.0 L980.4,3028.1 L981.4,3028.3 L982.3,3030.6 L983.3,3028.7 L984.3,3030.0 L985.2,3030.9 L986.2,3029.8 L987.1,3029.4 L988.1,3028.1 L989.0,3031.3 L990.0,3028.4 L991.0,3027.5 L991.9,3030.9 L992.9,3028.2 L993.8,3028.6 L994.8,3029.2 L995.7,3028.7 L996.7,3027.7 L997.7,3030.3 L998.6,3030.7 L999.6,3031.0 L1000.5,3030.2 L1001.5,3029.8 L1002.4,3029.7 L1003.4,3031.7 L1004.4,3031.3 L1005.3,3029.9 L1006.3,3030.8 L1007.2,3029.2 L1008.2,3031.1 L1009.1,3029.4 L1010.1,3030.4 L1011.1,3030.3 L1012.0,3027.7 L1013.0,3031.4 L1013.9,3030.6 L1014.9,3029.8 L1015.8,3029.9 L1016.8,3030.6 L1017.8,3030.6 L1018.7,3031.3 L1019.7,3030.9 L1020.6,3031.5 L1021.6,3031.1 L1022.5,3029.3 L1023.5,3029.3 L1024.5,3031.4 L1025.4,3031.3 L1026.4,3030.9 L1027.3,3029.5 L1028.3,3030.2 L1029.2,3030.1 L1030.2,3031.7 L1031.2,3030.1 L1032.1,3029.5 L1033.1,3030.2 L1034.0,3031.4 L1035.0,3032.8 L1035.9,3030.5 L1036.9,3032.3 L1037.9,3030.6 L1038.8,3030.6 L1039.8,3030.2 L1040.7,3032.0 L1041.7,3030.6 L1042.6,3032.2 L1043.6,3030.7 L1044.6,3033.1 L1045.5,3031.4 L1046.5,3031.3 L1047.4,3029.9 L1048.4,3032.6 L1049.3,3031.6 L1050.3,3031.4 L1051.3,3031.3 L1052.2,3030.8 L1053.2,3030.8 L1054.1,3031.7 L1055.1,3030.5 L1056.0,3031.2 L1057.0,3033.9 L1057.9,3031.3 L1058.9,3031.1 L1059.9,3032.4 L1060.8,3030.4 L1061.8,3033.0 L1062.7,3031.5 L1063.7,3030.2 L1064.6,3031.3 L1065.6,3030.8 L1066.6,3032.3 L1067.5,3031.0 L1068.5,3032.3 L1069.4,3029.5 L1070.4,3031.1 L1071.3,3032.2 L1072.3,3032.2 L1073.3,3031.7 L1074.2,3032.4 L1075.2,3032.5 L1076.1,3031.6 L1077.1,3031.9 L1078.0,3032.7 L1079.0,3031.9 L1080.0,3028.9 L1080.9,3030.0 L1081.9,3031.0 L1082.8,3032.5 L1083.8,3031.8 L1084.7,3032.5 L1085.7,3032.9 L1086.7,3032.4 L1087.6,3030.8 L1088.6,3032.7 L1089.5,3030.3 L1090.5,3030.4 L1091.4,3031.3 L1092.4,3029.3 L1093.4,3033.6 L1094.3,3034.4 L1095.3,3031.6 L1096.2,3031.4 L1097.2,3029.6 L1098.1,3032.4 L1099.1,3031.1 L1100.1,3030.5 L1101.0,3030.3 L1102.0,3031.7 L1102.9,3031.6 L1103.9,3031.7 L1104.8,3031.2 L1105.8,3030.0 L1106.8,3033.5 L1107.7,3032.8 L1108.7,3031.3 L1109.6,3030.4 L1110.6,3030.8 L1111.5,3032.7 L1112.5,3032.5 L1113.5,3032.3 L1114.4,3033.3 L1115.4,3031.4 L1116.3,3033.5 L1117.3,3032.2 L1118.2,3031.2 L1119.2,3032.6 L1120.2,3032.4 L1121.1,3031.3 L1122.1,3034.0 L1123.0,3030.3 L1124.0,3032.3 L1124.9,3032.5 L1125.9,3031.3 L1126.9,3032.2 L1127.8,3033.5 L1128.8,3030.9 L1129.7,3030.9 L1130.7,3031.8 L1131.6,3032.7 L1132.6,3033.4 L1133.6,3032.8 L1134.5,3031.0 L1135.5,3033.4 L1136.4,3033.0 L1137.4,3033.3 L1138.3,3030.4 L1139.3,3030.4 L1140.3,3031.5 L1141.2,3031.7 L1142.2,3032.2 L1143.1,3031.0 L1144.1,3031.0 L1145.0,3032.7 L1146.0,3029.9 L1147.0,3030.9 L1147.9,3032.3 L1148.9,3033.1 L1149.8,3032.5 L1150.8,3034.0 L1151.7,3032.6 L1152.7,3033.0 L1153.6,3033.2 L1154.6,3032.3 L1155.6,3030.8 L1156.5,3032.0 L1157.5,3032.1 L1158.4,3031.3 L1159.4,3033.0 L1160.3,3031.7 L1161.3,3030.7 L1162.3,3032.3 L1163.2,3031.2 L1164.2,3032.9 L1165.1,3029.5 L1166.1,3030.5 L1167.0,3032.3 L1168.0,3032.6 L1169.0,3032.4 L1169.9,3034.0 L1170.9,3032.1 L1171.8,3031.8 L1172.8,3033.3 L1173.7,3032.0 L1174.7,3032.8 L1175.7,3033.8 L1176.6,3032.2 L1177.6,3032.3 L1178.5,3031.7 L1179.5,3032.8 L1180.4,3033.1 L1181.4,3033.6 L1182.4,3033.2 L1183.3,3034.6 L1184.3,3032.6 L1185.2,3032.6 L1186.2,3032.2 L1187.1,3033.9 L1188.1,3032.6 L1189.1,3032.2 L1190.0,3031.1 L1191.0,3032.4 L1191.9,3033.4 L1192.9,3029.7 L1193.8,3031.3 L1194.8,3031.5 L1195.8,3031.6 L1196.7,3032.6 L1197.7,3032.1 L1198.6,3032.7 L1199.6,3032.9 L1200.5,3034.0 L1201.5,3032.3 L1202.5,3032.9 L1203.4,3032.3 L1204.4,3032.7 L1205.3,3032.1 L1206.3,3031.2 L1207.2,3032.9 L1208.2,3033.6 L1209.2,3031.4 L1210.1,3032.4 L1211.1,3032.4 L1212.0,3030.1 L1213.0,3034.5 L1213.9,3033.9 L1214.9,3033.6 L1215.9,3033.4 L1216.8,3031.4 L1217.8,3029.6 L1218.7,3032.2 L1219.7,3032.3 L1220.6,3031.9 L1221.6,3031.7 L1222.6,3033.2 L1223.5,3033.0 L1224.5,3032.1 L1225.4,3031.5 L1226.4,3034.5 L1227.3,3032.9 L1228.3,3032.1 L1229.3,3030.6 L1230.2,3030.3 L1231.2,3028.9 L1232.1,3031.6 L1233.1,3032.2 L1234.0,3031.7 L1235.0,3031.8 L1236.0,3032.0 L1236.9,3032.7 L1237.9,3029.8 L1238.8,3030.3 L1239.8,3032.6 L1240.7,3031.9 L1241.7,3032.1 L1242.7,3030.5 L1243.6,3033.2 L1244.6,3031.6 L1245.5,3031.2 L1246.5,3030.4 L1247.4,3031.6 L1248.4,3031.5 L1249.3,3031.1 L1250.3,3033.0 L1251.3,3032.5 L1252.2,3031.1 L1253.2,3030.4 L1254.1,3030.5 L1255.1,3031.3 L1256.0,3027.9 L1257.0,3031.2 L1258.0,3030.5 L1258.9,3033.0 L1259.9,3031.1 L1260.8,3030.4 L1261.8,3030.6 L1262.7,3029.7 L1263.7,3029.6 L1264.7,3030.2 L1265.6,3028.0 L1266.6,3030.1 L1267.5,3028.2 L1268.5,3029.1 L1269.4,3029.0 L1270.4,3030.4 L1271.4,3031.2 L1272.3,3031.0 L1273.3,3028.7 L1274.2,3028.9 L1275.2,3029.0 L1276.1,3029.0 L1277.1,3029.9 L1278.1,3029.2 L1279.0,3028.3 L1280.0,3030.2 L1280.9,3028.8 L1281.9,3029.6 L1282.8,3027.3 L1283.8,3027.7 L1284.8,3027.1 L1285.7,3026.7 L1286.7,3025.0 L1287.6,3026.0 L1288.6,3023.7 L1289.5,3025.3 L1290.5,3026.2 L1291.5,3025.0 L1292.4,3023.4 L1293.4,3022.0 L1294.3,3022.4 L1295.3,3019.5 L1296.2,3018.2 L1297.2,3017.0 L1298.2,3017.5 L1299.1,3014.1 L1300.1,3014.4 L1301.0,3013.0 L1302.0,3010.4 L1302.9,3007.2 L1303.9,3005.1 L1304.9,3000.3 L1305.8,2998.6 L1306.8,2996.7 L1307.7,2992.6 L1308.7,2985.2 L1309.6,2982.5 L1310.6,2977.7 L1311.6,2974.3 L1312.5,2968.9 L1313.5,2963.8 L1314.4,2958.7 L1315.4,2955.5 L1316.3,2951.6 L1317.3,2949.0 L1318.3,2947.0 L1319.2,2945.0 L1319.4,2946.8 L1320.2,2947.2 L1321.1,2948.3 L1322.1,2950.8 L1323.0,2955.1 L1324.0,2958.8 L1325.0,2963.8 L1325.9,2967.3 L1326.9,2972.2 L1327.8,2976.1 L1328.8,2979.5 L1329.7,2983.8 L1330.7,2989.8 L1331.7,2993.3 L1332.6,2997.4 L1333.6,2997.6 L1334.5,3003.0 L1335.5,3006.1 L1336.4,3008.0 L1337.4,3010.4 L1338.4,3010.7 L1339.3,3014.3 L1340.3,3017.4 L1341.2,3016.2 L1342.2,3019.3 L1343.1,3019.0 L1344.1,3020.9 L1345.0,3023.1 L1346.0,3022.4 L1347.0,3023.4 L1347.9,3024.3 L1348.9,3024.1 L1349.8,3025.9 L1350.8,3022.8 L1351.7,3025.0 L1352.7,3023.6 L1353.7,3024.4 L1354.6,3026.3 L1355.6,3025.3 L1356.5,3026.4 L1357.5,3028.6 L1358.4,3027.9 L1359.4,3031.6 L1360.4,3027.6 L1361.3,3027.9 L1362.3,3025.3 L1363.2,3028.1 L1364.2,3027.8 L1365.1,3029.0 L1366.1,3028.6 L1367.1,3028.0 L1368.0,3026.7 L1369.0,3029.7 L1369.9,3028.2 L1370.9,3027.2 L1371.8,3029.6 L1372.8,3027.1 L1373.8,3028.6 L1374.7,3027.1 L1375.7,3029.1 L1376.6,3027.7 L1377.6,3032.8 L1378.5,3030.9 L1379.5,3030.2 L1380.5,3030.1 L1381.4,3030.5 L1382.4,3030.8 L1383.3,3030.2 L1384.3,3028.7 L1385.2,3030.1 L1386.2,3028.3 L1387.2,3029.6 L1388.1,3030.5 L1389.1,3028.9 L1390.0,3030.6 L1391.0,3029.6 L1391.9,3032.8 L1392.9,3029.8 L1393.9,3030.8 L1394.8,3030.9 L1395.8,3030.4 L1396.7,3030.7 L1397.7,3030.0 L1398.6,3030.5 L1399.6,3030.6 L1400.6,3031.3 L1401.5,3031.8 L1402.5,3030.4 L1403.4,3032.0 L1404.4,3030.5 L1405.3,3029.5 L1406.3,3030.0 L1407.3,3029.8 L1408.2,3030.3 L1409.2,3030.6 L1410.1,3030.8 L1411.1,3031.9 L1412.0,3031.4 L1413.0,3030.1 L1414.0,3031.2 L1414.9,3030.6 L1415.9,3031.5 L1416.8,3032.0 L1417.8,3030.5 L1418.7,3031.5 L1419.7,3032.2 L1420.7,3031.1 L1421.6,3029.5 L1422.6,3030.5 L1423.5,3029.7 L1424.5,3031.8 L1425.4,3030.9 L1426.4,3031.0 L1427.4,3032.6 L1428.3,3031.5 L1429.3,3030.8 L1430.2,3028.7 L1431.2,3030.1 L1432.1,3029.9 L1433.1,3030.4 L1434.1,3029.3 L1435.0,3031.3 L1436.0,3032.0 L1436.9,3030.2 L1437.9,3029.0 L1438.8,3030.7 L1439.8,3030.4 L1440.7,3031.7 L1441.7,3030.5 L1442.7,3029.8 L1443.6,3029.1 L1444.6,3030.6 L1445.5,3028.0 L1446.5,3029.4 L1447.4,3031.3 L1448.4,3030.4 L1449.4,3030.5 L1450.3,3030.3 L1451.3,3029.0 L1452.2,3030.1 L1453.2,3031.0 L1454.1,3031.1 L1455.1,3029.3 L1456.1,3030.5 L1457.0,3031.5 L1458.0,3030.7 L1458.9,3032.1 L1459.9,3030.4 L1460.8,3028.6 L1461.8,3030.4 L1462.8,3030.5 L1463.7,3031.1 L1464.7,3030.9 L1465.6,3032.0 L1466.6,3031.0 L1467.5,3030.5 L1468.5,3029.7 L1469.5,3030.0 L1470.4,3031.7 L1471.4,3032.3 L1472.3,3030.6 L1473.3,3030.5 L1474.2,3030.0 L1475.2,3030.5 L1476.2,3030.3 L1477.1,3029.7 L1478.1,3031.2 L1479.0,3029.0 L1480.0,3030.4 L1480.9,3030.4 L1481.9,3030.9 L1482.9,3030.0 L1483.8,3029.1 L1484.8,3030.1 L1485.7,3029.0 L1486.7,3029.8 L1487.6,3029.3 L1488.6,3032.8 L1489.6,3027.7 L1490.5,3028.7 L1491.5,3031.4 L1492.4,3029.8 L1493.4,3028.5 L1494.3,3030.6 L1495.3,3032.2 L1496.3,3029.9 L1497.2,3030.8 L1498.2,3028.3 L1499.1,3029.1 L1500.1,3029.9 L1501.0,3029.8 L1502.0,3028.8 L1503.0,3028.9 L1503.9,3028.8 L1504.9,3028.5 L1505.8,3028.7 L1506.8,3028.6 L1507.7,3029.6 L1508.7,3027.4 L1509.7,3029.4 L1510.6,3030.7 L1511.6,3028.8 L1512.5,3027.9 L1513.5,3027.3 L1514.4,3027.5 L1515.4,3026.6 L1516.4,3027.9 L1517.3,3027.3 L1518.3,3028.0 L1519.2,3027.1 L1520.2,3027.3 L1521.1,3027.7 L1522.1,3026.6 L1523.1,3028.0 L1524.0,3025.6 L1525.0,3023.1 L1525.9,3023.4 L1526.9,3022.7 L1527.8,3020.9 L1528.8,3020.4 L1529.8,3018.8 L1530.7,3018.2 L1531.7,3014.9 L1532.6,3012.2 L1533.6,3010.8 L1534.5,3007.0 L1535.5,3004.0 L1536.4,3003.4 L1537.4,3001.6 L1538.4,2999.0 L1539.3,2998.8 L1540.3,2994.2 L1541.2,2992.2 L1542.2,2994.3 L1543.1,2989.5 L1544.1,2991.7 L1544.1,2990.8 L1545.1,2988.3 L1546.0,2993.0 L1547.0,2992.9 L1547.9,2995.4 L1548.9,2997.2 L1549.8,2999.6 L1550.8,3002.4 L1551.8,3006.1 L1552.7,3006.2 L1553.7,3007.9 L1554.6,3011.1 L1555.6,3012.4 L1556.5,3010.8 L1557.5,3015.6 L1558.5,3016.0 L1559.4,3017.3 L1560.4,3016.9 L1561.3,3021.5 L1562.3,3020.6 L1563.2,3020.1 L1564.2,3020.5 L1565.2,3021.0 L1566.1,3021.2 L1567.1,3022.2 L1568.0,3021.6 L1569.0,3020.3 L1569.9,3020.1 L1570.9,3020.5 L1571.9,3018.0 L1572.8,3017.7 L1573.8,3018.2 L1574.7,3015.9 L1575.7,3016.0 L1576.6,3011.6 L1577.6,3010.6 L1578.6,3008.3 L1579.5,3006.1 L1580.5,3005.7 L1581.4,3003.7 L1582.4,3000.3 L1583.3,2997.7 L1584.3,2997.5 L1585.3,2995.3 L1586.2,2989.6 L1587.2,2990.5 L1588.1,2987.7 L1588.9,2988.0 L1589.1,2989.0 L1590.0,2989.0 L1591.0,2992.0 L1592.0,2992.5 L1592.9,2994.7 L1593.9,2997.2 L1594.8,3001.6 L1595.8,3002.6 L1596.7,3005.8 L1597.7,3007.8 L1598.7,3011.0 L1599.6,3011.9 L1600.6,3013.8 L1601.5,3017.2 L1602.5,3017.7 L1603.4,3017.4 L1604.4,3019.2 L1605.4,3021.3 L1606.3,3023.5 L1607.3,3023.1 L1608.2,3026.5 L1609.2,3026.1 L1610.1,3026.0 L1611.1,3025.6 L1612.1,3028.2 L1613.0,3028.6 L1614.0,3027.1 L1614.9,3030.2 L1615.9,3030.4 L1616.8,3031.0 L1617.8,3029.6 L1618.8,3030.9 L1619.7,3027.8 L1620.7,3030.7 L1621.6,3030.0 L1622.6,3030.5 L1623.5,3031.3 L1624.5,3030.1 L1625.5,3030.8 L1626.4,3030.1 L1627.4,3030.4 L1628.3,3030.2 L1629.3,3031.9 L1630.2,3033.0 L1631.2,3030.7 L1632.1,3030.1 L1633.1,3031.7 L1634.1,3032.4 L1635.0,3032.3 L1636.0,3030.9 L1636.9,3032.2 L1637.9,3031.4 L1638.8,3031.9 L1639.8,3032.3 L1640.8,3032.0 L1641.7,3033.0 L1642.7,3032.0 L1643.6,3034.3 L1644.6,3032.8 L1645.5,3031.5 L1646.5,3033.9 L1647.5,3033.8 L1648.4,3033.2 L1649.4,3033.0 L1650.3,3033.4 L1651.3,3034.0 L1652.2,3033.0 L1653.2,3034.0 L1654.2,3032.6 L1655.1,3033.8 L1656.1,3032.2 L1657.0,3033.7 L1658.0,3034.0 L1658.9,3032.8 L1659.9,3033.8 L1660.9,3031.4 L1661.8,3033.3 L1662.8,3033.2 L1663.7,3034.2 L1664.7,3033.5 L1665.6,3034.6 L1666.6,3035.6 L1667.6,3033.7 L1668.5,3034.5 L1669.5,3035.4 L1670.4,3034.6 L1671.4,3034.8 L1672.3,3033.4 L1673.3,3034.1 L1674.3,3032.6 L1675.2,3034.6 L1676.2,3034.1 L1677.1,3034.1 L1678.1,3031.7 L1679.0,3034.8 L1680.0,3035.4 L1681.0,3035.2 L1681.9,3034.2 L1682.9,3035.2 L1683.8,3033.8 L1684.8,3033.1 L1685.7,3033.7 L1686.7,3033.0 L1687.7,3035.7 L1688.6,3031.1 L1689.6,3034.1 L1690.5,3032.9 L1691.5,3033.2 L1692.4,3034.6 L1693.4,3033.7 L1694.4,3035.0 L1695.3,3033.6 L1696.3,3033.7 L1697.2,3033.9 L1698.2,3035.1 L1699.1,3033.1 L1700.1,3033.5 L1701.1,3033.2 L1702.0,3033.3 L1703.0,3032.5 L1703.9,3033.5 L1704.9,3034.3 L1705.8,3035.3 L1706.8,3034.3 L1707.8,3033.2 L1708.7,3035.3 L1709.7,3031.9 L1710.6,3034.3 L1711.6,3032.5 L1712.5,3033.6 L1713.5,3032.3 L1714.5,3032.1 L1715.4,3033.2 L1716.4,3035.7 L1717.3,3034.2 L1718.3,3034.7 L1719.2,3033.4 L1720.2,3033.8 L1721.2,3033.0 L1722.1,3033.1 L1723.1,3033.4 L1724.0,3034.8 L1725.0,3034.1 L1725.9,3033.0 L1726.9,3033.6 L1727.8,3032.8 L1728.8,3034.3 L1729.8,3034.1 L1730.7,3034.0 L1731.7,3034.5 L1732.6,3034.4 L1733.6,3035.3 L1734.5,3033.0 L1735.5,3034.6 L1736.5,3033.6 L1737.4,3034.8 L1738.4,3033.3 L1739.3,3032.0 L1740.3,3033.3 L1741.2,3033.1 L1742.2,3032.6 L1743.2,3033.4 L1744.1,3035.0 L1745.1,3033.4 L1746.0,3034.5 L1747.0,3035.2 L1747.9,3034.9 L1748.9,3034.3 L1749.9,3034.8 L1750.8,3033.3 L1751.8,3032.4 L1752.7,3032.1 L1753.7,3034.7 L1754.6,3035.2 L1755.6,3033.4 L1756.6,3033.8 L1757.5,3031.3 L1758.5,3034.5 L1759.4,3033.6 L1760.4,3031.7 L1761.3,3034.2 L1762.3,3034.4 L1763.3,3034.6 L1764.2,3033.6 L1765.2,3034.0 L1766.1,3032.8 L1767.1,3035.2 L1768.0,3033.3 L1769.0,3035.0 L1770.0,3034.3 L1770.9,3033.5 L1771.9,3035.1 L1772.8,3033.0 L1773.8,3034.1 L1774.7,3033.8 L1775.7,3033.5 L1776.7,3033.9 L1777.6,3034.5 L1778.6,3033.3 L1779.5,3033.2 L1780.5,3033.5 L1781.4,3033.1 L1782.4,3032.7 L1783.4,3034.0 L1784.3,3031.9 L1785.3,3033.6 L1786.2,3033.2 L1787.2,3033.8 L1788.1,3034.2 L1789.1,3033.9 L1790.1,3033.7 L1791.0,3035.1 L1792.0,3033.1 L1792.9,3032.4 L1793.9,3033.4 L1794.8,3034.4 L1795.8,3035.6 L1796.8,3035.9 L1797.7,3034.1 L1798.7,3034.9 L1799.6,3035.4 L1800.6,3033.2 L1801.5,3035.3 L1802.5,3034.2 L1803.5,3033.6 L1804.4,3034.3 L1805.4,3034.4 L1806.3,3031.6 L1807.3,3033.8 L1808.2,3033.9 L1809.2,3033.0 L1810.2,3033.9 L1811.1,3033.3 L1812.1,3032.8 L1813.0,3033.5 L1814.0,3031.5 L1814.9,3034.1 L1815.9,3034.2 L1816.9,3034.0 L1817.8,3034.2 L1818.8,3033.1 L1819.7,3033.0 L1820.7,3031.7 L1821.6,3031.7 L1822.6,3032.8 L1823.5,3034.5 L1824.5,3033.5 L1825.5,3034.9 L1826.4,3034.3 L1827.4,3032.4 L1828.3,3032.8 L1829.3,3032.3 L1830.2,3031.9 L1831.2,3033.7 L1832.2,3034.1 L1833.1,3032.4 L1834.1,3034.4 L1835.0,3034.2 L1836.0,3032.7 L1836.9,3033.6 L1837.9,3032.2 L1838.9,3033.2 L1839.8,3033.7 L1840.8,3031.1 L1841.7,3034.6 L1842.7,3031.2 L1843.6,3033.0 L1844.6,3032.3 L1845.6,3033.7 L1846.5,3031.8 L1847.5,3032.1 L1848.4,3035.9 L1849.4,3034.3 L1850.3,3033.3 L1851.3,3031.5 L1852.3,3032.5 L1853.2,3030.1 L1854.2,3030.9 L1855.1,3032.0 L1856.1,3032.1 L1857.0,3030.6 L1858.0,3031.5 L1859.0,3031.2 L1859.9,3028.8 L1860.9,3029.7 L1861.8,3028.8 L1862.8,3029.8 L1863.7,3026.2 L1864.7,3027.3 L1865.7,3025.8 L1866.6,3027.2 L1867.6,3021.5 L1868.5,3024.6 L1869.5,3021.4 L1870.4,3020.8 L1871.4,3017.2 L1872.4,3016.0 L1873.3,3015.6 L1874.3,3014.4 L1875.2,3010.2 L1876.2,3010.7 L1877.1,3009.5 L1878.1,3008.7 L1879.1,3008.6 L1880.0,3007.4 L1881.0,3006.4 L1881.9,3005.2 L1882.9,3005.1 L1883.8,3007.5 L1884.8,3009.8 L1885.8,3009.3 L1886.7,3011.6 L1887.7,3010.8 L1888.6,3014.5 L1889.6,3014.8 L1890.5,3016.7 L1891.5,3018.8 L1892.5,3020.4 L1893.4,3021.2 L1894.4,3022.6 L1895.3,3023.8 L1896.3,3023.8 L1897.2,3025.2 L1898.2,3026.5 L1899.2,3029.1 L1900.1,3026.8 L1901.1,3028.9 L1902.0,3030.4 L1903.0,3030.6 L1903.9,3029.3 L1904.9,3029.4 L1905.9,3030.5 L1906.8,3031.7 L1907.8,3032.6 L1908.7,3031.7 L1909.7,3032.3 L1910.6,3031.9 L1911.6,3031.6 L1912.6,3034.0 L1913.5,3034.7 L1914.5,3032.8 L1915.4,3032.1 L1916.4,3033.8 L1917.3,3031.6 L1918.3,3031.9 L1919.2,3033.5 L1920.2,3035.4 L1921.2,3033.1 L1922.1,3033.6 L1923.1,3035.3 L1924.0,3032.4 L1925.0,3032.1 L1925.9,3036.2 L1926.9,3035.0 L1927.9,3033.5 L1928.8,3034.5 L1929.8,3035.0 L1930.7,3033.7 L1931.7,3036.8 L1932.6,3032.3 L1933.6,3035.9 L1934.6,3034.6 L1935.5,3034.4 L1936.5,3034.5 L1937.4,3033.6 L1938.4,3034.1 L1939.3,3033.8 L1940.3,3032.8 L1941.3,3035.0 L1942.2,3032.9 L1943.2,3033.4 L1944.1,3036.5 L1945.1,3033.9 L1946.0,3036.1 L1947.0,3035.9 L1948.0,3034.7 L1948.9,3036.2 L1949.9,3033.9 L1950.8,3033.6 L1951.8,3034.1 L1952.7,3034.2 L1953.7,3035.2 L1954.7,3036.8 L1955.6,3033.7 L1956.6,3034.4 L1957.5,3034.6 L1958.5,3035.0 L1959.4,3034.3 L1960.4,3036.2 L1961.4,3034.3 L1962.3,3033.7 L1963.3,3036.6 L1964.2,3036.3 L1965.2,3034.8 L1966.1,3033.8 L1967.1,3035.0 L1968.1,3035.6 L1969.0,3036.5 L1970.0,3036.6 L1970.9,3034.4 L1971.9,3034.8 L1972.8,3034.5 L1973.8,3034.7 L1974.8,3034.1 L1975.7,3034.2 L1976.7,3034.4 L1977.6,3034.7 L1978.6,3032.6 L1979.5,3034.1 L1980.5,3035.3 L1981.5,3035.0 L1982.4,3035.2 L1983.4,3035.2 L1984.3,3035.0 L1985.3,3035.5 L1986.2,3034.4 L1987.2,3033.0 L1988.2,3035.6 L1989.1,3034.6 L1990.1,3032.3 L1991.0,3035.1 L1992.0,3035.0 L1992.9,3032.7 L1993.9,3034.6 L1994.9,3034.0 L1995.8,3034.4 L1996.8,3033.4 L1997.7,3035.8 L1998.7,3032.9 L1999.6,3032.8 L2000.6,3033.4 L2001.6,3033.8 L2002.5,3033.2 L2003.5,3035.4 L2004.4,3032.7 L2005.4,3036.3 L2006.3,3032.1 L2007.3,3034.2 L2008.3,3035.5 L2009.2,3036.2 L2010.2,3033.4 L2011.1,3031.9 L2012.1,3032.8 L2013.0,3033.0 L2014.0,3034.2 L2014.9,3032.4 L2015.9,3034.5 L2016.9,3032.4 L2017.8,3034.3 L2018.8,3036.1 L2019.7,3034.2 L2020.7,3034.6 L2021.6,3033.5 L2022.6,3032.9 L2023.6,3033.8 L2024.5,3033.9 L2025.5,3030.1 L2026.4,3032.3 L2027.4,3035.4 L2028.3,3033.7 L2029.3,3033.3 L2030.3,3032.6 L2031.2,3032.6 L2032.2,3032.8 L2033.1,3029.4 L2034.1,3034.8 L2035.0,3033.3 L2036.0,3032.0 L2037.0,3034.2 L2037.9,3032.6 L2038.9,3034.3 L2039.8,3032.0 L2040.8,3033.6 L2041.7,3030.8 L2042.7,3033.5 L2043.7,3030.9 L2044.6,3032.5 L2045.6,3032.9 L2046.5,3030.7 L2047.5,3032.6 L2048.4,3031.9 L2049.4,3032.5 L2050.4,3033.4 L2051.3,3032.3 L2052.3,3033.7 L2053.2,3031.3 L2054.2,3031.2 L2055.1,3033.2 L2056.1,3031.0 L2057.1,3032.5 L2058.0,3031.1 L2059.0,3032.0 L2059.9,3032.4 L2060.9,3031.1 L2061.8,3031.2 L2062.8,3030.3 L2063.8,3032.7 L2064.7,3030.8 L2065.7,3030.7 L2066.6,3031.6 L2067.6,3031.3 L2068.5,3030.7 L2069.5,3031.9 L2070.5,3031.6 L2071.4,3030.7 L2072.4,3030.9 L2073.3,3032.8 L2074.3,3031.5 L2075.2,3030.7 L2076.2,3031.2 L2077.2,3031.8 L2078.1,3033.3 L2079.1,3029.8 L2080.0,3031.6 L2081.0,3030.4 L2081.9,3031.3 L2082.9,3030.3 L2083.9,3030.1 L2084.8,3030.0 L2085.8,3030.2 L2086.7,3031.0 L2087.7,3032.7 L2088.6,3029.5 L2089.6,3029.6 L2090.6,3029.9 L2091.5,3032.0 L2092.5,3031.8 L2093.4,3031.6 L2094.4,3030.6 L2095.3,3029.8 L2096.3,3028.4 L2097.3,3029.5 L2098.2,3029.6 L2099.2,3028.5 L2100.1,3028.1 L2101.1,3027.2 L2102.0,3028.6 L2103.0,3027.7 L2104.0,3028.5 L2104.9,3026.5 L2105.9,3026.1 L2106.8,3027.6 L2107.8,3026.0 L2108.7,3023.8 L2109.7,3024.3 L2110.6,3023.6 L2111.6,3024.1 L2112.6,3021.9 L2113.5,3024.4 L2114.5,3024.2 L2115.4,3023.2 L2116.4,3023.2 L2117.3,3023.2 L2118.3,3022.8 L2119.3,3024.7 L2120.2,3022.7 L2121.2,3026.6 L2122.1,3023.2 L2123.1,3025.0 L2124.0,3024.0 L2125.0,3024.6 L2126.0,3025.6 L2126.9,3024.4 L2127.9,3027.0 L2128.8,3026.9 L2129.8,3027.6 L2130.7,3028.1 L2131.7,3026.6 L2132.7,3027.5 L2133.6,3027.7 L2134.6,3029.3 L2135.5,3028.1 L2136.5,3027.4 L2137.4,3028.9 L2138.4,3028.1 L2139.4,3029.6 L2140.3,3030.2 L2141.3,3029.8 L2142.2,3027.9 L2143.2,3029.8 L2144.1,3027.9 L2145.1,3028.5 L2146.1,3029.9 L2147.0,3029.1 L2148.0,3030.9 L2148.9,3029.8 L2149.9,3029.1 L2150.8,3030.1 L2151.8,3028.9 L2152.8,3030.2 L2153.7,3026.4 L2154.7,3028.7 L2155.6,3027.8 L2156.6,3028.6 L2157.5,3028.1 L2158.5,3030.8" fill="none" stroke="#0000ff" stroke-width="8" stroke-linejoin="round"/>
<path d="M244.5,2927.3 L245.5,2926.2 L246.4,2924.5 L247.4,2925.6 L248.3,2925.4 L249.3,2925.6 L250.2,2926.5 L251.2,2924.4 L252.2,2926.9 L253.1,2924.6 L254.1,2925.6 L255.0,2926.8 L256.0,2926.5 L256.9,2925.0 L257.9,2927.7 L258.9,2926.2 L259.8,2924.7 L260.8,2925.8 L261.7,2924.8 L262.7,2926.2 L263.6,2924.3 L264.6,2926.3 L265.6,2923.8 L266.5,2926.9 L267.5,2926.0 L268.4,2927.2 L269.4,2924.9 L270.3,2923.4 L271.3,2924.2 L272.3,2925.4 L273.2,2927.9 L274.2,2926.3 L275.1,2927.1 L276.1,2924.7 L277.0,2925.1 L278.0,2925.3 L279.0,2927.0 L279.9,2925.1 L280.9,2925.4 L281.8,2927.5 L282.8,2924.7 L283.7,2925.6 L284.7,2924.2 L285.7,2925.4 L286.6,2926.6 L287.6,2927.0 L288.5,2924.1 L289.5,2922.9 L290.4,2926.2 L291.4,2927.5 L292.3,2924.8 L293.3,2925.9 L294.3,2925.6 L295.2,2923.2 L296.2,2922.7 L297.1,2925.5 L298.1,2926.1 L299.0,2923.9 L300.0,2925.2 L301.0,2924.7 L301.9,2924.5 L302.9,2924.1 L303.8,2926.8 L304.8,2925.6 L305.7,2925.3 L306.7,2925.0 L307.7,2925.9 L308.6,2924.9 L309.6,2925.7 L310.5,2924.6 L311.5,2925.9 L312.4,2925.1 L313.4,2926.1 L314.4,2923.7 L315.3,2924.5 L316.3,2924.0 L317.2,2927.1 L318.2,2924.7 L319.1,2925.3 L320.1,2923.5 L321.1,2924.3 L322.0,2923.4 L323.0,2925.2 L323.9,2924.2 L324.9,2926.9 L325.8,2924.3 L326.8,2926.3 L327.8,2925.1 L328.7,2925.8 L329.7,2924.2 L330.6,2925.1 L331.6,2925.0 L332.5,2924.3 L333.5,2925.7 L334.5,2923.5 L335.4,2924.9 L336.4,2924.8 L337.3,2925.1 L338.3,2923.8 L339.2,2925.7 L340.2,2924.0 L341.2,2924.3 L342.1,2923.8 L343.1,2924.4 L344.0,2925.2 L345.0,2927.9 L345.9,2921.7 L346.9,2925.5 L347.9,2925.4 L348.8,2925.8 L349.8,2924.2 L350.7,2924.0 L351.7,2925.0 L352.6,2922.6 L353.6,2922.0 L354.6,2921.2 L355.5,2921.0 L356.5,2922.0 L357.4,2918.9 L357.4,2921.2 L358.4,2917.5 L359.3,2921.0 L360.3,2920.6 L361.3,2923.1 L362.2,2923.2 L363.2,2923.7 L364.1,2923.9 L365.1,2924.0 L366.0,2921.6 L367.0,2924.3 L368.0,2922.6 L368.9,2925.3 L369.9,2923.5 L370.8,2924.2 L371.8,2923.7 L372.7,2924.3 L373.7,2924.4 L374.7,2924.7 L375.6,2922.8 L376.6,2925.8 L377.5,2922.9 L378.5,2923.8 L379.4,2921.0 L380.4,2924.2 L381.4,2924.9 L382.3,2925.1 L383.3,2924.3 L384.2,2924.2 L385.2,2922.9 L386.1,2923.1 L387.1,2923.2 L388.0,2923.5 L389.0,2922.1 L390.0,2922.8 L390.9,2923.7 L391.9,2923.2 L392.8,2922.7 L393.8,2921.8 L394.7,2922.9 L395.7,2922.7 L396.7,2924.0 L397.6,2922.2 L398.6,2923.1 L399.5,2920.4 L400.5,2923.6 L401.4,2919.9 L402.4,2921.1 L403.4,2920.6 L404.3,2920.1 L405.3,2920.1 L406.2,2919.5 L407.2,2919.9 L408.1,2919.8 L409.1,2920.3 L410.1,2920.0 L411.0,2920.1 L412.0,2918.2 L412.9,2916.3 L413.9,2919.1 L414.8,2916.6 L415.8,2912.4 L416.8,2915.3 L417.7,2913.4 L418.7,2911.8 L419.6,2910.9 L420.6,2910.4 L421.5,2908.1 L422.5,2907.8 L423.5,2905.7 L424.4,2903.8 L425.4,2902.4 L426.3,2899.9 L427.3,2898.6 L428.2,2894.2 L429.2,2889.1 L430.2,2886.2 L431.1,2883.4 L432.1,2878.1 L433.0,2869.2 L434.0,2863.6 L434.9,2854.0 L435.9,2844.5 L436.9,2831.8 L437.8,2818.4 L438.8,2804.2 L439.7,2786.6 L440.7,2765.6 L441.6,2739.3 L442.6,2711.4 L443.6,2679.3 L444.5,2642.4 L445.5,2599.6 L446.4,2559.3 L447.4,2517.9 L448.3,2478.3 L449.3,2442.2 L450.3,2419.4 L451.2,2402.4 L451.6,2405.9 L452.2,2406.3 L453.1,2422.3 L454.1,2448.4 L455.0,2484.0 L456.0,2525.9 L457.0,2569.1 L457.9,2609.7 L458.9,2651.1 L459.8,2685.5 L460.8,2717.8 L461.7,2744.7 L462.7,2768.8 L463.7,2790.2 L464.6,2806.4 L465.6,2823.8 L466.5,2834.5 L467.5,2847.4 L468.4,2855.1 L469.4,2864.2 L470.4,2870.6 L471.3,2878.7 L472.3,2884.5 L473.2,2886.6 L474.2,2891.5 L475.1,2894.7 L476.1,2898.3 L477.1,2901.3 L478.0,2904.5 L479.0,2904.7 L479.9,2904.4 L480.9,2908.8 L481.8,2909.1 L482.8,2910.6 L483.7,2913.3 L484.7,2914.7 L485.7,2914.1 L486.6,2916.2 L487.6,2916.1 L488.5,2917.2 L489.5,2916.9 L490.4,2919.1 L491.4,2917.5 L492.4,2918.7 L493.3,2920.1 L494.3,2918.4 L495.2,2920.3 L496.2,2920.7 L497.1,2921.4 L498.1,2922.7 L499.1,2918.8 L500.0,2922.4 L501.0,2922.0 L501.9,2923.1 L502.9,2922.8 L503.8,2921.5 L504.8,2921.8 L505.8,2921.5 L506.7,2924.1 L507.7,2922.2 L508.6,2923.4 L509.6,2922.9 L510.5,2921.0 L511.5,2923.0 L512.5,2923.3 L513.4,2925.2 L514.4,2923.4 L515.3,2922.5 L516.3,2923.2 L517.2,2924.8 L518.2,2924.7 L519.2,2924.7 L520.1,2924.9 L521.1,2923.3 L522.0,2925.3 L523.0,2924.7 L523.9,2922.1 L524.9,2923.8 L525.9,2925.9 L526.8,2923.9 L527.8,2924.2 L528.7,2924.7 L529.7,2924.9 L530.6,2924.7 L531.6,2925.4 L532.6,2924.0 L533.5,2923.2 L534.5,2924.9 L535.4,2924.9 L536.4,2926.1 L537.3,2927.3 L538.3,2925.6 L539.3,2926.1 L540.2,2927.0 L541.2,2926.1 L542.1,2925.9 L543.1,2924.2 L544.0,2924.8 L545.0,2924.4 L546.0,2924.9 L546.9,2926.4 L547.9,2926.1 L548.8,2925.4 L549.8,2923.0 L550.7,2926.0 L551.7,2926.0 L552.7,2924.1 L553.6,2925.5 L554.6,2925.1 L555.5,2926.2 L556.5,2923.2 L557.4,2924.1 L558.4,2927.0 L559.4,2924.4 L560.3,2924.7 L561.3,2925.1 L562.2,2925.9 L563.2,2927.1 L564.1,2925.6 L565.1,2926.7 L566.1,2926.2 L567.0,2925.1 L568.0,2927.6 L568.9,2926.9 L569.9,2925.4 L570.8,2925.6 L571.8,2924.7 L572.8,2923.9 L573.7,2925.7 L574.7,2927.1 L575.6,2922.7 L576.6,2925.2 L577.5,2928.3 L578.5,2927.8 L579.4,2925.0 L580.4,2925.3 L581.4,2927.6 L582.3,2924.9 L583.3,2926.1 L584.2,2925.2 L585.2,2926.7 L586.1,2926.4 L587.1,2928.2 L588.1,2925.1 L589.0,2924.4 L590.0,2925.8 L590.9,2926.6 L591.9,2925.9 L592.8,2929.1 L593.8,2925.7 L594.8,2926.0 L595.7,2927.3 L596.7,2928.3 L597.6,2926.5 L598.6,2927.1 L599.5,2924.9 L600.5,2925.3 L601.5,2926.7 L602.4,2927.3 L603.4,2927.0 L604.3,2927.0 L605.3,2927.3 L606.2,2926.4 L607.2,2926.1 L608.2,2926.2 L609.1,2925.0 L610.1,2925.7 L611.0,2925.6 L612.0,2927.2 L612.9,2929.3 L613.9,2927.4 L614.9,2928.8 L615.8,2925.6 L616.8,2926.1 L617.7,2926.4 L618.7,2927.9 L619.6,2928.9 L620.6,2927.7 L621.6,2927.2 L622.5,2926.9 L623.5,2926.0 L624.4,2927.2 L625.4,2927.1 L626.3,2926.7 L627.3,2925.6 L628.3,2926.7 L629.2,2926.4 L630.2,2925.6 L631.1,2927.8 L632.1,2926.3 L633.0,2927.0 L634.0,2925.0 L635.0,2925.7 L635.9,2925.3 L636.9,2924.8 L637.8,2926.1 L638.8,2925.5 L639.7,2924.3 L640.7,2924.8 L641.7,2925.4 L642.6,2925.2 L643.6,2927.1 L644.5,2922.3 L645.5,2925.6 L646.4,2925.3 L647.4,2924.8 L648.4,2923.2 L649.3,2923.0 L650.3,2921.4 L651.2,2923.9 L652.2,2922.5 L653.1,2922.4 L654.1,2924.7 L655.1,2921.6 L656.0,2922.6 L657.0,2923.3 L657.9,2922.4 L658.9,2923.1 L659.8,2923.0 L660.8,2923.1 L661.8,2921.6 L662.7,2921.8 L663.7,2924.6 L664.6,2924.2 L665.6,2923.6 L666.5,2923.3 L667.5,2925.9 L668.5,2924.1 L669.4,2923.7 L670.4,2926.1 L671.3,2924.0 L672.3,2924.9 L673.2,2925.6 L674.2,2924.4 L675.1,2926.1 L676.1,2926.3 L677.1,2926.7 L678.0,2926.0 L679.0,2928.1 L679.9,2926.4 L680.9,2926.1 L681.8,2927.0 L682.8,2926.2 L683.8,2924.1 L684.7,2928.2 L685.7,2924.9 L686.6,2924.8 L687.6,2927.3 L688.5,2926.2 L689.5,2928.2 L690.5,2928.2 L691.4,2928.3 L692.4,2926.8 L693.3,2927.5 L694.3,2925.7 L695.2,2927.9 L696.2,2927.0 L697.2,2927.0 L698.1,2927.3 L699.1,2927.2 L700.0,2927.6 L701.0,2928.0 L701.9,2927.0 L702.9,2926.6 L703.9,2925.7 L704.8,2928.9 L705.8,2927.5 L706.7,2926.7 L707.7,2925.3 L708.6,2927.7 L709.6,2925.7 L710.6,2927.3 L711.5,2926.6 L712.5,2928.2 L713.4,2926.6 L714.4,2925.8 L715.3,2924.7 L716.3,2926.4 L717.3,2928.8 L718.2,2927.3 L719.2,2926.5 L720.1,2928.2 L721.1,2926.3 L722.0,2928.0 L723.0,2925.5 L724.0,2925.6 L724.9,2927.9 L725.9,2925.4 L726.8,2928.1 L727.8,2926.9 L728.7,2929.0 L729.7,2926.3 L730.7,2926.6 L731.6,2928.6 L732.6,2926.2 L733.5,2927.1 L734.5,2925.9 L735.4,2927.9 L736.4,2926.9 L737.4,2925.7 L738.3,2926.9 L739.3,2925.8 L740.2,2927.6 L741.2,2925.6 L742.1,2929.4 L743.1,2929.3 L744.1,2924.8 L745.0,2927.3 L746.0,2925.9 L746.9,2926.0 L747.9,2925.4 L748.8,2928.4 L749.8,2924.7 L750.8,2928.6 L751.7,2925.0 L752.7,2927.7 L753.6,2926.6 L754.6,2926.2 L755.5,2925.7 L756.5,2926.4 L757.5,2927.1 L758.4,2928.4 L759.4,2924.7 L760.3,2927.1 L761.3,2926.5 L762.2,2925.9 L763.2,2926.5 L764.2,2926.7 L765.1,2925.7 L766.1,2926.1 L767.0,2927.0 L768.0,2926.2 L768.9,2927.1 L769.9,2925.7 L770.8,2926.9 L771.8,2927.1 L772.8,2927.1 L773.7,2926.9 L774.7,2926.7 L775.6,2926.4 L776.6,2925.9 L777.5,2925.9 L778.5,2926.7 L779.5,2925.0 L780.4,2928.3 L781.4,2925.1 L782.3,2926.4 L783.3,2927.9 L784.2,2928.4 L785.2,2927.3 L786.2,2926.7 L787.1,2925.0 L788.1,2927.0 L789.0,2926.2 L790.0,2925.0 L790.9,2926.2 L791.9,2927.7 L792.9,2927.2 L793.8,2927.0 L794.8,2927.5 L795.7,2927.1 L796.7,2926.9 L797.6,2926.3 L798.6,2926.7 L799.6,2926.1 L800.5,2925.8 L801.5,2925.6 L802.4,2928.2 L803.4,2927.1 L804.3,2927.3 L805.3,2926.5 L806.3,2926.7 L807.2,2925.7 L808.2,2925.8 L809.1,2927.4 L810.1,2928.4 L811.0,2924.3 L812.0,2925.5 L813.0,2925.4 L813.9,2924.9 L814.9,2925.5 L815.8,2925.6 L816.8,2925.0 L817.7,2926.4 L818.7,2924.3 L819.7,2927.6 L820.6,2926.9 L821.6,2925.7 L822.5,2925.0 L823.5,2925.1 L824.4,2926.2 L825.4,2927.9 L826.4,2927.4 L827.3,2927.2 L828.3,2925.0 L829.2,2926.1 L830.2,2927.0 L831.1,2926.6 L832.1,2926.6 L833.1,2926.0 L834.0,2925.8 L835.0,2926.2 L835.9,2926.5 L836.9,2926.2 L837.8,2927.5 L838.8,2925.5 L839.8,2928.5 L840.7,2926.9 L841.7,2926.1 L842.6,2927.3 L843.6,2926.9 L844.5,2924.5 L845.5,2925.9 L846.5,2927.6 L847.4,2926.5 L848.4,2927.9 L849.3,2925.6 L850.3,2926.3 L851.2,2925.8 L852.2,2926.3 L853.2,2925.5 L854.1,2925.5 L855.1,2927.4 L856.0,2925.0 L857.0,2925.8 L857.9,2927.2 L858.9,2928.3 L859.9,2927.9 L860.8,2927.0 L861.8,2925.8 L862.7,2926.1 L863.7,2927.0 L864.6,2926.0 L865.6,2924.1 L866.5,2926.0 L867.5,2925.6 L868.5,2922.9 L869.4,2925.6 L870.4,2925.1 L871.3,2926.1 L872.3,2925.7 L873.2,2926.9 L874.2,2926.8 L875.2,2924.9 L876.1,2923.8 L877.1,2925.1 L878.0,2926.6 L879.0,2924.8 L879.9,2924.8 L880.9,2924.9 L881.9,2924.0 L882.8,2923.5 L883.8,2923.1 L884.7,2922.6 L885.7,2920.7 L886.6,2923.0 L887.6,2919.1 L888.6,2920.1 L889.5,2916.7 L890.5,2917.1 L891.4,2914.4 L892.4,2912.9 L893.3,2912.5 L894.3,2909.1 L895.3,2906.2 L896.2,2905.2 L897.2,2903.7 L897.2,2904.0 L898.1,2904.7 L899.1,2907.5 L900.0,2907.5 L901.0,2910.3 L902.0,2910.5 L902.9,2911.9 L903.9,2914.1 L904.8,2915.1 L905.8,2917.1 L906.7,2920.4 L907.7,2919.0 L908.7,2920.4 L909.6,2919.9 L910.6,2918.7 L911.5,2918.6 L912.5,2920.6 L913.4,2919.1 L914.4,2919.3 L915.4,2917.2 L916.3,2915.5 L917.3,2916.2 L918.2,2914.0 L919.2,2910.2 L920.1,2909.4 L921.1,2906.8 L922.1,2900.6 L923.0,2895.4 L924.0,2888.3 L924.9,2881.0 L925.9,2873.9 L926.8,2866.7 L927.8,2858.1 L928.8,2852.8 L929.7,2850.4 L929.7,2851.5 L930.7,2853.8 L931.6,2858.0 L932.6,2864.0 L933.5,2874.5 L934.5,2882.1 L935.5,2887.9 L936.4,2896.7 L937.4,2900.6 L938.3,2905.2 L939.3,2907.9 L940.2,2912.4 L941.2,2914.7 L942.2,2913.9 L943.1,2916.3 L944.1,2914.9 L945.0,2916.1 L946.0,2917.0 L946.9,2918.5 L947.9,2917.5 L948.9,2917.1 L949.8,2915.2 L950.8,2915.2 L951.7,2911.8 L952.7,2912.3 L953.6,2908.6 L954.6,2908.4 L955.6,2907.8 L956.5,2905.8 L957.5,2905.0 L958.4,2904.4 L958.4,2901.1 L959.4,2903.4 L960.3,2906.3 L961.3,2907.0 L962.2,2908.4 L963.2,2911.9 L964.2,2914.7 L965.1,2914.7 L966.1,2917.9 L967.0,2919.2 L968.0,2920.9 L968.9,2923.2 L969.9,2922.2 L970.9,2924.3 L971.8,2925.7 L972.8,2922.8 L973.7,2924.7 L974.7,2924.5 L975.6,2926.0 L976.6,2924.9 L977.6,2925.5 L978.5,2926.8 L979.5,2926.0 L980.4,2925.0 L981.4,2925.6 L982.3,2925.6 L983.3,2925.3 L984.3,2927.6 L985.2,2928.4 L986.2,2925.8 L987.1,2929.3 L988.1,2927.5 L989.0,2925.2 L990.0,2925.2 L991.0,2925.8 L991.9,2928.4 L992.9,2925.6 L993.8,2926.1 L994.8,2928.7 L995.7,2926.8 L996.7,2927.7 L997.7,2925.5 L998.6,2927.5 L999.6,2926.4 L1000.5,2926.6 L1001.5,2926.0 L1002.4,2927.9 L1003.4,2924.2 L1004.4,2927.7 L1005.3,2928.9 L1006.3,2928.7 L1007.2,2925.8 L1008.2,2928.6 L1009.1,2928.4 L1010.1,2928.8 L1011.1,2927.2 L1012.0,2929.3 L1013.0,2928.4 L1013.9,2926.6 L1014.9,2927.1 L1015.8,2927.6 L1016.8,2928.8 L1017.8,2928.8 L1018.7,2928.8 L1019.7,2927.1 L1020.6,2927.8 L1021.6,2926.9 L1022.5,2928.0 L1023.5,2926.9 L1024.5,2927.9 L1025.4,2929.2 L1026.4,2927.5 L1027.3,2929.3 L1028.3,2929.7 L1029.2,2927.2 L1030.2,2930.3 L1031.2,2929.4 L1032.1,2927.5 L1033.1,2928.1 L1034.0,2927.6 L1035.0,2928.7 L1035.9,2928.8 L1036.9,2927.8 L1037.9,2928.3 L1038.8,2927.8 L1039.8,2926.6 L1040.7,2926.8 L1041.7,2929.1 L1042.6,2926.4 L1043.6,2928.0 L1044.6,2929.8 L1045.5,2929.4 L1046.5,2930.0 L1047.4,2927.0 L1048.4,2929.3 L1049.3,2929.2 L1050.3,2928.4 L1051.3,2928.9 L1052.2,2928.5 L1053.2,2930.3 L1054.1,2927.8 L1055.1,2927.1 L1056.0,2929.5 L1057.0,2926.9 L1057.9,2927.5 L1058.9,2928.8 L1059.9,2927.9 L1060.8,2927.3 L1061.8,2929.4 L1062.7,2926.3 L1063.7,2928.7 L1064.6,2927.6 L1065.6,2927.9 L1066.6,2929.1 L1067.5,2928.8 L1068.5,2928.4 L1069.4,2930.5 L1070.4,2927.6 L1071.3,2930.2 L1072.3,2928.5 L1073.3,2928.3 L1074.2,2928.6 L1075.2,2929.5 L1076.1,2926.4 L1077.1,2930.5 L1078.0,2930.7 L1079.0,2926.8 L1080.0,2926.8 L1080.9,2927.6 L1081.9,2927.6 L1082.8,2928.1 L1083.8,2928.1 L1084.7,2928.0 L1085.7,2930.4 L1086.7,2927.4 L1087.6,2927.1 L1088.6,2929.3 L1089.5,2929.6 L1090.5,2927.4 L1091.4,2928.5 L1092.4,2927.9 L1093.4,2926.3 L1094.3,2927.5 L1095.3,2928.5 L1096.2,2926.5 L1097.2,2926.8 L1098.1,2927.8 L1099.1,2930.5 L1100.1,2929.5 L1101.0,2928.0 L1102.0,2928.2 L1102.9,2929.3 L1103.9,2927.4 L1104.8,2928.4 L1105.8,2927.0 L1106.8,2928.2 L1107.7,2929.0 L1108.7,2926.7 L1109.6,2928.7 L1110.6,2928.8 L1111.5,2927.4 L1112.5,2925.7 L1113.5,2927.7 L1114.4,2930.8 L1115.4,2927.4 L1116.3,2926.7 L1117.3,2928.4 L1118.2,2927.0 L1119.2,2926.6 L1120.2,2928.1 L1121.1,2929.1 L1122.1,2928.0 L1123.0,2927.5 L1124.0,2927.9 L1124.9,2926.4 L1125.9,2926.2 L1126.9,2929.8 L1127.8,2927.3 L1128.8,2927.4 L1129.7,2927.3 L1130.7,2926.5 L1131.6,2928.3 L1132.6,2924.6 L1133.6,2927.8 L1134.5,2926.8 L1135.5,2927.8 L1136.4,2928.4 L1137.4,2927.6 L1138.3,2926.0 L1139.3,2928.0 L1140.3,2927.5 L1141.2,2929.3 L1142.2,2926.4 L1143.1,2929.5 L1144.1,2926.6 L1145.0,2926.3 L1146.0,2924.3 L1147.0,2926.8 L1147.9,2928.0 L1148.9,2926.8 L1149.8,2926.9 L1150.8,2928.2 L1151.7,2928.3 L1152.7,2926.4 L1153.6,2928.2 L1154.6,2928.3 L1155.6,2930.1 L1156.5,2926.3 L1157.5,2925.2 L1158.4,2927.3 L1159.4,2925.9 L1160.3,2925.9 L1161.3,2927.1 L1162.3,2927.3 L1163.2,2926.8 L1164.2,2927.5 L1165.1,2927.5 L1166.1,2926.6 L1167.0,2928.2 L1168.0,2928.7 L1169.0,2927.1 L1169.9,2928.4 L1170.9,2927.4 L1171.8,2926.7 L1172.8,2926.6 L1173.7,2929.2 L1174.7,2925.9 L1175.7,2925.6 L1176.6,2928.1 L1177.6,2926.9 L1178.5,2925.1 L1179.5,2925.5 L1180.4,2926.4 L1181.4,2925.3 L1182.4,2926.5 L1183.3,2926.3 L1184.3,2926.9 L1185.2,2925.2 L1186.2,2926.4 L1187.1,2926.9 L1188.1,2925.0 L1189.1,2924.9 L1190.0,2927.9 L1191.0,2926.2 L1191.9,2925.1 L1192.9,2927.6 L1193.8,2926.2 L1194.8,2924.6 L1195.8,2925.9 L1196.7,2926.7 L1197.7,2927.8 L1198.6,2925.0 L1199.6,2926.7 L1200.5,2927.6 L1201.5,2923.3 L1202.5,2926.2 L1203.4,2927.1 L1204.4,2926.4 L1205.3,2926.1 L1206.3,2925.1 L1207.2,2926.9 L1208.2,2926.2 L1209.2,2925.3 L1210.1,2926.9 L1211.1,2927.0 L1212.0,2926.0 L1213.0,2927.0 L1213.9,2926.5 L1214.9,2926.3 L1215.9,2929.4 L1216.8,2926.5 L1217.8,2925.9 L1218.7,2927.0 L1219.7,2927.5 L1220.6,2926.6 L1221.6,2924.9 L1222.6,2926.7 L1223.5,2926.0 L1224.5,2925.9 L1225.4,2927.8 L1226.4,2927.7 L1227.3,2927.2 L1228.3,2928.3 L1229.3,2927.6 L1230.2,2927.9 L1231.2,2926.4 L1232.1,2926.8 L1233.1,2926.6 L1234.0,2928.6 L1235.0,2926.0 L1236.0,2927.5 L1236.9,2925.3 L1237.9,2927.6 L1238.8,2926.1 L1239.8,2925.6 L1240.7,2927.4 L1241.7,2927.1 L1242.7,2926.4 L1243.6,2926.1 L1244.6,2926.4 L1245.5,2927.8 L1246.5,2926.1 L1247.4,2925.3 L1248.4,2927.5 L1249.3,2924.8 L1250.3,2926.5 L1251.3,2927.6 L1252.2,2926.5 L1253.2,2927.8 L1254.1,2929.0 L1255.1,2925.4 L1256.0,2925.3 L1257.0,2925.7 L1258.0,2925.7 L1258.9,2924.7 L1259.9,2927.7 L1260.8,2927.4 L1261.8,2927.8 L1262.7,2926.4 L1263.7,2926.0 L1264.7,2925.3 L1265.6,2927.3 L1266.6,2926.9 L1267.5,2926.6 L1268.5,2926.1 L1269.4,2925.0 L1270.4,2927.4 L1271.4,2927.4 L1272.3,2925.6 L1273.3,2925.9 L1274.2,2925.9 L1275.2,2925.9 L1276.1,2927.4 L1277.1,2926.1 L1278.1,2925.5 L1279.0,2926.2 L1280.0,2925.3 L1280.9,2924.5 L1281.9,2924.9 L1282.8,2924.3 L1283.8,2924.5 L1284.8,2925.6 L1285.7,2925.4 L1286.7,2926.3 L1287.6,2925.7 L1288.6,2924.8 L1289.5,2924.5 L1290.5,2924.4 L1291.5,2923.8 L1292.4,2923.0 L1293.4,2924.0 L1294.3,2925.1 L1295.3,2923.9 L1296.2,2921.4 L1297.2,2920.2 L1298.2,2922.7 L1299.1,2921.4 L1300.1,2918.3 L1301.0,2917.7 L1302.0,2918.6 L1302.9,2917.2 L1303.9,2917.5 L1304.9,2917.1 L1305.8,2913.2 L1306.8,2912.6 L1307.7,2911.9 L1308.7,2908.3 L1309.6,2904.2 L1310.6,2899.4 L1311.6,2897.9 L1312.5,2890.7 L1313.5,2886.6 L1314.4,2881.1 L1315.4,2871.4 L1316.3,2866.9 L1317.3,2857.8 L1318.3,2849.8 L1319.2,2847.8 L1320.2,2840.6 L1321.1,2840.0 L1321.3,2837.0 L1322.1,2839.9 L1323.0,2842.3 L1324.0,2846.9 L1325.0,2853.3 L1325.9,2862.4 L1326.9,2868.5 L1327.8,2877.4 L1328.8,2883.7 L1329.7,2888.3 L1330.7,2893.2 L1331.7,2899.8 L1332.6,2902.4 L1333.6,2907.3 L1334.5,2908.6 L1335.5,2913.4 L1336.4,2913.9 L1337.4,2914.2 L1338.4,2916.8 L1339.3,2917.6 L1340.3,2919.9 L1341.2,2920.4 L1342.2,2920.3 L1343.1,2922.0 L1344.1,2922.7 L1345.0,2920.5 L1346.0,2921.6 L1347.0,2924.9 L1347.9,2924.6 L1348.9,2922.8 L1349.8,2923.6 L1350.8,2925.1 L1351.7,2922.2 L1352.7,2924.2 L1353.7,2923.0 L1354.6,2924.5 L1355.6,2926.2 L1356.5,2928.6 L1357.5,2926.0 L1358.4,2927.3 L1359.4,2924.8 L1360.4,2925.9 L1361.3,2926.6 L1362.3,2923.6 L1363.2,2925.4 L1364.2,2927.2 L1365.1,2926.6 L1366.1,2925.3 L1367.1,2927.0 L1368.0,2925.8 L1369.0,2927.0 L1369.9,2925.1 L1370.9,2926.1 L1371.8,2927.2 L1372.8,2928.1 L1373.8,2929.0 L1374.7,2925.4 L1375.7,2928.4 L1376.6,2927.9 L1377.6,2928.7 L1378.5,2927.0 L1379.5,2926.5 L1380.5,2929.7 L1381.4,2927.5 L1382.4,2928.1 L1383.3,2928.5 L1384.3,2926.6 L1385.2,2925.2 L1386.2,2926.2 L1387.2,2925.3 L1388.1,2927.8 L1389.1,2928.4 L1390.0,2929.3 L1391.0,2929.1 L1391.9,2928.6 L1392.9,2926.8 L1393.9,2926.1 L1394.8,2926.0 L1395.8,2928.8 L1396.7,2927.7 L1397.7,2928.9 L1398.6,2928.7 L1399.6,2926.2 L1400.6,2928.6 L1401.5,2926.3 L1402.5,2928.3 L1403.4,2931.1 L1404.4,2926.3 L1405.3,2928.3 L1406.3,2929.9 L1407.3,2926.1 L1408.2,2926.8 L1409.2,2926.9 L1410.1,2928.1 L1411.1,2928.7 L1412.0,2927.5 L1413.0,2928.3 L1414.0,2926.6 L1414.9,2926.8 L1415.9,2926.0 L1416.8,2928.6 L1417.8,2929.8 L1418.7,2927.6 L1419.7,2927.7 L1420.7,2928.6 L1421.6,2928.7 L1422.6,2928.7 L1423.5,2929.0 L1424.5,2926.2 L1425.4,2929.8 L1426.4,2928.2 L1427.4,2928.0 L1428.3,2928.2 L1429.3,2929.8 L1430.2,2927.4 L1431.2,2929.0 L1432.1,2927.7 L1433.1,2927.1 L1434.1,2928.4 L1435.0,2929.2 L1436.0,2929.8 L1436.9,2928.5 L1437.9,2928.0 L1438.8,2928.8 L1439.8,2928.1 L1440.7,2927.7 L1441.7,2929.0 L1442.7,2928.8 L1443.6,2928.6 L1444.6,2930.0 L1445.5,2928.3 L1446.5,2928.0 L1447.4,2928.1 L1448.4,2927.0 L1449.4,2928.4 L1450.3,2926.1 L1451.3,2928.7 L1452.2,2928.8 L1453.2,2927.3 L1454.1,2926.7 L1455.1,2927.9 L1456.1,2930.9 L1457.0,2928.5 L1458.0,2928.6 L1458.9,2928.7 L1459.9,2926.9 L1460.8,2928.2 L1461.8,2928.8 L1462.8,2927.8 L1463.7,2929.6 L1464.7,2927.8 L1465.6,2928.2 L1466.6,2929.5 L1467.5,2927.7 L1468.5,2928.0 L1469.5,2928.0 L1470.4,2928.4 L1471.4,2928.8 L1472.3,2927.1 L1473.3,2929.2 L1474.2,2928.2 L1475.2,2930.6 L1476.2,2930.4 L1477.1,2927.3 L1478.1,2927.6 L1479.0,2927.4 L1480.0,2928.6 L1480.9,2928.5 L1481.9,2927.4 L1482.9,2928.0 L1483.8,2928.1 L1484.8,2928.8 L1485.7,2926.9 L1486.7,2928.2 L1487.6,2927.4 L1488.6,2929.4 L1489.6,2929.4 L1490.5,2927.8 L1491.5,2928.5 L1492.4,2927.5 L1493.4,2928.4 L1494.3,2929.7 L1495.3,2929.1 L1496.3,2929.4 L1497.2,2928.1 L1498.2,2926.0 L1499.1,2927.6 L1500.1,2927.6 L1501.0,2928.8 L1502.0,2926.3 L1503.0,2926.1 L1503.9,2927.0 L1504.9,2927.6 L1505.8,2926.1 L1506.8,2926.8 L1507.7,2928.2 L1508.7,2928.9 L1509.7,2927.3 L1510.6,2928.1 L1511.6,2929.8 L1512.5,2926.3 L1513.5,2928.7 L1514.4,2927.8 L1515.4,2925.5 L1516.4,2927.1 L1517.3,2927.6 L1518.3,2926.0 L1519.2,2926.4 L1520.2,2928.3 L1521.1,2926.4 L1522.1,2924.8 L1523.1,2926.6 L1524.0,2926.1 L1525.0,2927.0 L1525.9,2923.4 L1526.9,2923.4 L1527.8,2924.1 L1528.8,2924.2 L1529.8,2918.8 L1530.7,2920.8 L1531.7,2918.1 L1532.6,2915.8 L1533.6,2915.5 L1534.5,2912.5 L1535.5,2911.3 L1536.4,2908.3 L1537.4,2906.3 L1538.4,2902.7 L1539.3,2898.3 L1540.3,2895.0 L1541.2,2891.8 L1542.2,2887.5 L1543.1,2887.0 L1544.1,2882.8 L1544.9,2881.7 L1545.1,2883.3 L1546.0,2884.1 L1547.0,2886.7 L1547.9,2888.1 L1548.9,2893.8 L1549.8,2896.4 L1550.8,2900.0 L1551.8,2903.4 L1552.7,2905.5 L1553.7,2909.6 L1554.6,2910.5 L1555.6,2913.8 L1556.5,2916.2 L1557.5,2917.9 L1558.5,2918.3 L1559.4,2921.3 L1560.4,2920.3 L1561.3,2921.9 L1562.3,2922.2 L1563.2,2924.2 L1564.2,2922.8 L1565.2,2922.9 L1566.1,2924.6 L1567.1,2923.1 L1568.0,2924.9 L1569.0,2923.2 L1569.9,2921.9 L1570.9,2923.5 L1571.9,2922.9 L1572.8,2922.1 L1573.8,2921.7 L1574.7,2918.6 L1575.7,2921.3 L1576.6,2919.3 L1577.6,2918.3 L1578.6,2915.2 L1579.5,2914.6 L1580.5,2913.9 L1581.4,2907.3 L1582.4,2907.8 L1583.3,2901.3 L1584.3,2899.6 L1585.3,2895.4 L1586.2,2891.1 L1587.2,2891.1 L1588.1,2887.5 L1589.1,2885.8 L1589.7,2884.9 L1590.0,2886.6 L1591.0,2888.0 L1592.0,2890.2 L1592.9,2891.5 L1593.9,2895.2 L1594.8,2899.3 L1595.8,2902.3 L1596.7,2906.7 L1597.7,2909.5 L1598.7,2911.1 L1599.6,2912.6 L1600.6,2917.0 L1601.5,2917.3 L1602.5,2920.0 L1603.4,2920.9 L1604.4,2921.0 L1605.4,2924.3 L1606.3,2923.4 L1607.3,2925.6 L1608.2,2926.5 L1609.2,2925.7 L1610.1,2926.8 L1611.1,2926.4 L1612.1,2925.6 L1613.0,2926.6 L1614.0,2928.0 L1614.9,2929.1 L1615.9,2927.1 L1616.8,2925.9 L1617.8,2926.2 L1618.8,2928.9 L1619.7,2929.1 L1620.7,2928.3 L1621.6,2927.9 L1622.6,2928.9 L1623.5,2930.0 L1624.5,2929.1 L1625.5,2929.5 L1626.4,2928.1 L1627.4,2928.6 L1628.3,2929.6 L1629.3,2928.5 L1630.2,2930.4 L1631.2,2929.5 L1632.1,2931.4 L1633.1,2928.1 L1634.1,2927.9 L1635.0,2929.2 L1636.0,2929.9 L1636.9,2930.4 L1637.9,2930.1 L1638.8,2930.4 L1639.8,2930.7 L1640.8,2928.7 L1641.7,2930.9 L1642.7,2930.8 L1643.6,2930.3 L1644.6,2929.7 L1645.5,2929.8 L1646.5,2930.0 L1647.5,2930.6 L1648.4,2929.2 L1649.4,2930.3 L1650.3,2929.9 L1651.3,2930.9 L1652.2,2930.6 L1653.2,2931.1 L1654.2,2930.0 L1655.1,2929.9 L1656.1,2931.7 L1657.0,2928.8 L1658.0,2931.6 L1658.9,2931.6 L1659.9,2928.9 L1660.9,2931.3 L1661.8,2930.3 L1662.8,2931.7 L1663.7,2929.9 L1664.7,2928.7 L1665.6,2929.8 L1666.6,2931.4 L1667.6,2930.7 L1668.5,2929.5 L1669.5,2929.8 L1670.4,2930.4 L1671.4,2930.4 L1672.3,2930.3 L1673.3,2930.7 L1674.3,2930.6 L1675.2,2931.1 L1676.2,2931.4 L1677.1,2932.0 L1678.1,2929.3 L1679.0,2930.8 L1680.0,2930.0 L1681.0,2930.0 L1681.9,2931.3 L1682.9,2929.4 L1683.8,2930.3 L1684.8,2930.3 L1685.7,2931.9 L1686.7,2930.3 L1687.7,2930.6 L1688.6,2930.1 L1689.6,2930.1 L1690.5,2930.0 L1691.5,2930.6 L1692.4,2928.7 L1693.4,2929.8 L1694.4,2930.7 L1695.3,2930.7 L1696.3,2930.8 L1697.2,2930.3 L1698.2,2929.6 L1699.1,2931.8 L1700.1,2930.9 L1701.1,2929.9 L1702.0,2931.7 L1703.0,2931.4 L1703.9,2932.8 L1704.9,2930.9 L1705.8,2930.9 L1706.8,2931.3 L1707.8,2931.8 L1708.7,2930.8 L1709.7,2929.9 L1710.6,2930.5 L1711.6,2932.9 L1712.5,2930.7 L1713.5,2933.4 L1714.5,2928.7 L1715.4,2930.5 L1716.4,2931.1 L1717.3,2929.4 L1718.3,2930.6 L1719.2,2930.8 L1720.2,2931.3 L1721.2,2930.7 L1722.1,2932.3 L1723.1,2930.1 L1724.0,2929.7 L1725.0,2931.5 L1725.9,2931.7 L1726.9,2931.1 L1727.8,2930.1 L1728.8,2928.9 L1729.8,2931.2 L1730.7,2931.2 L1731.7,2932.4 L1732.6,2929.1 L1733.6,2930.7 L1734.5,2933.7 L1735.5,2931.4 L1736.5,2929.7 L1737.4,2932.1 L1738.4,2929.6 L1739.3,2931.0 L1740.3,2931.6 L1741.2,2929.8 L1742.2,2929.0 L1743.2,2929.7 L1744.1,2932.1 L1745.1,2931.2 L1746.0,2931.0 L1747.0,2929.4 L1747.9,2931.9 L1748.9,2930.8 L1749.9,2930.1 L1750.8,2930.2 L1751.8,2928.6 L1752.7,2930.7 L1753.7,2930.1 L1754.6,2930.3 L1755.6,2931.7 L1756.6,2932.4 L1757.5,2929.2 L1758.5,2931.3 L1759.4,2929.9 L1760.4,2930.5 L1761.3,2930.5 L1762.3,2930.5 L1763.3,2931.1 L1764.2,2930.9 L1765.2,2931.2 L1766.1,2928.8 L1767.1,2928.8 L1768.0,2929.9 L1769.0,2931.1 L1770.0,2931.2 L1770.9,2931.4 L1771.9,2928.5 L1772.8,2930.4 L1773.8,2932.0 L1774.7,2930.7 L1775.7,2931.3 L1776.7,2931.3 L1777.6,2930.5 L1778.6,2929.5 L1779.5,2931.3 L1780.5,2929.9 L1781.4,2931.4 L1782.4,2931.4 L1783.4,2929.9 L1784.3,2931.6 L1785.3,2931.2 L1786.2,2930.6 L1787.2,2930.3 L1788.1,2930.0 L1789.1,2931.7 L1790.1,2931.2 L1791.0,2930.0 L1792.0,2931.3 L1792.9,2929.5 L1793.9,2929.7 L1794.8,2930.0 L1795.8,2931.2 L1796.8,2928.9 L1797.7,2928.3 L1798.7,2928.5 L1799.6,2931.7 L1800.6,2932.0 L1801.5,2930.6 L1802.5,2930.8 L1803.5,2931.4 L1804.4,2928.3 L1805.4,2929.5 L1806.3,2929.8 L1807.3,2930.8 L1808.2,2928.9 L1809.2,2932.6 L1810.2,2929.4 L1811.1,2929.6 L1812.1,2929.1 L1813.0,2930.9 L1814.0,2930.4 L1814.9,2932.0 L1815.9,2929.4 L1816.9,2931.1 L1817.8,2932.0 L1818.8,2931.9 L1819.7,2930.8 L1820.7,2929.5 L1821.6,2929.9 L1822.6,2930.0 L1823.5,2929.1 L1824.5,2931.3 L1825.5,2933.2 L1826.4,2929.9 L1827.4,2930.1 L1828.3,2930.0 L1829.3,2930.7 L1830.2,2931.1 L1831.2,2931.4 L1832.2,2930.5 L1833.1,2930.5 L1834.1,2931.0 L1835.0,2932.2 L1836.0,2931.1 L1836.9,2931.5 L1837.9,2928.4 L1838.9,2930.4 L1839.8,2929.7 L1840.8,2930.0 L1841.7,2930.7 L1842.7,2930.7 L1843.6,2928.7 L1844.6,2930.2 L1845.6,2928.9 L1846.5,2930.3 L1847.5,2929.2 L1848.4,2930.2 L1849.4,2929.1 L1850.3,2928.0 L1851.3,2928.0 L1852.3,2926.5 L1853.2,2925.2 L1854.2,2926.4 L1855.1,2926.6 L1856.1,2925.4 L1857.0,2926.1 L1858.0,2924.4 L1859.0,2925.8 L1859.9,2924.8 L1859.9,2924.3 L1860.9,2924.6 L1861.8,2923.1 L1862.8,2923.6 L1863.7,2925.6 L1864.7,2923.0 L1865.7,2924.3 L1866.6,2925.2 L1867.6,2923.6 L1868.5,2924.4 L1869.5,2923.4 L1870.4,2922.9 L1871.4,2923.1 L1872.4,2919.6 L1873.3,2919.4 L1874.3,2918.7 L1875.2,2916.4 L1876.2,2914.4 L1877.1,2910.1 L1878.1,2908.6 L1879.1,2905.2 L1880.0,2905.4 L1881.0,2902.3 L1881.9,2902.6 L1882.1,2904.2 L1882.9,2903.2 L1883.8,2902.9 L1884.8,2904.1 L1885.8,2906.3 L1886.7,2910.0 L1887.7,2911.9 L1888.6,2914.0 L1889.6,2916.8 L1890.5,2918.8 L1891.5,2918.6 L1892.5,2922.8 L1893.4,2922.6 L1894.4,2926.2 L1895.3,2925.9 L1896.3,2925.3 L1897.2,2927.0 L1898.2,2928.5 L1899.2,2927.3 L1900.1,2928.8 L1901.1,2928.0 L1902.0,2928.7 L1903.0,2928.9 L1903.9,2928.4 L1904.9,2929.3 L1905.9,2930.5 L1906.8,2929.2 L1907.8,2929.4 L1908.7,2927.9 L1909.7,2930.3 L1910.6,2929.1 L1911.6,2928.0 L1912.6,2928.0 L1913.5,2928.9 L1914.5,2928.4 L1915.4,2931.6 L1916.4,2931.5 L1917.3,2930.1 L1918.3,2931.1 L1919.2,2930.5 L1920.2,2929.5 L1921.2,2931.2 L1922.1,2930.7 L1923.1,2929.5 L1924.0,2931.2 L1925.0,2931.0 L1925.9,2930.3 L1926.9,2932.7 L1927.9,2930.5 L1928.8,2930.1 L1929.8,2928.9 L1930.7,2929.3 L1931.7,2929.9 L1932.6,2930.7 L1933.6,2932.2 L1934.6,2931.1 L1935.5,2930.0 L1936.5,2929.8 L1937.4,2930.4 L1938.4,2931.1 L1939.3,2931.0 L1940.3,2932.8 L1941.3,2930.9 L1942.2,2929.6 L1943.2,2930.1 L1944.1,2931.2 L1945.1,2930.6 L1946.0,2929.8 L1947.0,2932.3 L1948.0,2929.2 L1948.9,2930.4 L1949.9,2930.9 L1950.8,2931.6 L1951.8,2931.4 L1952.7,2931.0 L1953.7,2931.9 L1954.7,2931.9 L1955.6,2928.3 L1956.6,2930.1 L1957.5,2931.8 L1958.5,2929.9 L1959.4,2929.6 L1960.4,2930.9 L1961.4,2930.8 L1962.3,2931.5 L1963.3,2931.9 L1964.2,2930.2 L1965.2,2930.0 L1966.1,2930.2 L1967.1,2932.5 L1968.1,2929.9 L1969.0,2931.0 L1970.0,2931.4 L1970.9,2929.9 L1971.9,2931.1 L1972.8,2931.6 L1973.8,2930.6 L1974.8,2930.7 L1975.7,2931.1 L1976.7,2930.4 L1977.6,2931.4 L1978.6,2932.1 L1979.5,2930.7 L1980.5,2931.8 L1981.5,2930.5 L1982.4,2931.5 L1983.4,2930.1 L1984.3,2929.2 L1985.3,2928.9 L1986.2,2931.2 L1987.2,2929.8 L1988.2,2931.0 L1989.1,2931.8 L1990.1,2930.2 L1991.0,2929.1 L1992.0,2932.1 L1992.9,2932.8 L1993.9,2930.1 L1994.9,2930.3 L1995.8,2930.2 L1996.8,2931.2 L1997.7,2930.9 L1998.7,2930.3 L1999.6,2933.3 L2000.6,2931.3 L2001.6,2932.1 L2002.5,2931.5 L2003.5,2932.4 L2004.4,2930.6 L2005.4,2930.5 L2006.3,2931.4 L2007.3,2930.5 L2008.3,2929.5 L2009.2,2931.4 L2010.2,2931.0 L2011.1,2932.1 L2012.1,2930.6 L2013.0,2930.4 L2014.0,2931.9 L2014.9,2931.8 L2015.9,2931.6 L2016.9,2932.6 L2017.8,2929.2 L2018.8,2930.1 L2019.7,2930.0 L2020.7,2930.2 L2021.6,2930.3 L2022.6,2931.0 L2023.6,2930.5 L2024.5,2931.0 L2025.5,2930.4 L2026.4,2932.6 L2027.4,2932.8 L2028.3,2929.3 L2029.3,2930.7 L2030.3,2930.8 L2031.2,2929.7 L2032.2,2931.4 L2033.1,2930.6 L2034.1,2930.2 L2035.0,2931.3 L2036.0,2929.1 L2037.0,2930.2 L2037.9,2928.6 L2038.9,2931.4 L2039.8,2930.3 L2040.8,2931.2 L2041.7,2931.3 L2042.7,2930.7 L2043.7,2929.4 L2044.6,2929.6 L2045.6,2929.9 L2046.5,2931.5 L2047.5,2931.4 L2048.4,2930.2 L2049.4,2931.1 L2050.4,2930.0 L2051.3,2928.9 L2052.3,2930.4 L2053.2,2929.1 L2054.2,2930.8 L2055.1,2929.3 L2056.1,2930.5 L2057.1,2928.7 L2058.0,2931.1 L2059.0,2930.7 L2059.9,2930.7 L2060.9,2931.1 L2061.8,2931.5 L2062.8,2930.8 L2063.8,2930.9 L2064.7,2929.8 L2065.7,2929.3 L2066.6,2930.8 L2067.6,2929.8 L2068.5,2930.9 L2069.5,2927.0 L2070.5,2929.8 L2071.4,2929.3 L2072.4,2930.6 L2073.3,2931.0 L2074.3,2929.3 L2075.2,2929.2 L2076.2,2931.6 L2077.2,2931.6 L2078.1,2930.1 L2079.1,2930.6 L2080.0,2930.4 L2081.0,2928.2 L2081.9,2929.0 L2082.9,2931.1 L2083.9,2930.1 L2084.8,2929.9 L2085.8,2930.9 L2086.7,2930.2 L2087.7,2930.3 L2088.6,2928.0 L2089.6,2929.1 L2090.6,2929.5 L2091.5,2929.8 L2092.5,2930.3 L2093.4,2929.8 L2094.4,2928.3 L2095.3,2930.2 L2096.3,2929.0 L2097.3,2929.8 L2098.2,2928.0 L2099.2,2930.5 L2100.1,2928.3 L2101.1,2926.3 L2102.0,2926.8 L2103.0,2928.4 L2104.0,2928.4 L2104.9,2930.1 L2105.9,2927.3 L2106.8,2926.8 L2107.8,2926.0 L2108.7,2925.6 L2109.7,2924.4 L2110.6,2924.5 L2111.6,2922.7 L2112.6,2923.0 L2113.5,2923.2 L2114.5,2921.5 L2115.4,2921.5 L2115.6,2921.9 L2116.4,2922.6 L2117.3,2921.4 L2118.3,2924.9 L2119.3,2924.7 L2120.2,2925.0 L2121.2,2925.0 L2122.1,2924.3 L2123.1,2924.5 L2124.0,2926.4 L2125.0,2927.1 L2126.0,2925.9 L2126.9,2927.0 L2127.9,2930.3 L2128.8,2928.8 L2129.8,2927.8 L2130.7,2927.9 L2131.7,2928.1 L2132.7,2929.4 L2133.6,2929.2 L2134.6,2930.1 L2135.5,2927.6 L2136.5,2930.6 L2137.4,2931.0 L2138.4,2929.6 L2139.4,2928.2 L2140.3,2929.7 L2141.3,2930.0 L2142.2,2929.6 L2143.2,2929.8 L2144.1,2928.7 L2145.1,2929.4 L2146.1,2928.1 L2147.0,2931.1 L2148.0,2930.4 L2148.9,2929.7 L2149.9,2929.5 L2150.8,2930.1 L2151.8,2929.6 L2152.8,2929.0 L2153.7,2931.7 L2154.7,2928.9 L2155.6,2929.3 L2156.6,2930.3 L2157.5,2929.4 L2158.5,2932.3" fill="none" stroke="#ff8000" stroke-width="8" stroke-linejoin="round"/>
<path d="M244.5,2822.8 L245.5,2822.4 L246.4,2821.8 L247.4,2819.9 L248.3,2822.4 L249.3,2823.4 L250.2,2823.5 L251.2,2821.8 L252.2,2824.8 L253.1,2824.5 L254.1,2822.1 L255.0,2822.2 L256.0,2823.4 L256.9,2822.1 L257.9,2822.6 L258.9,2823.7 L259.8,2823.6 L260.8,2821.8 L261.7,2821.8 L262.7,2821.7 L263.6,2822.3 L264.6,2822.4 L265.6,2821.9 L266.5,2823.2 L267.5,2822.4 L268.4,2822.3 L269.4,2820.1 L270.3,2820.8 L271.3,2821.5 L272.3,2822.7 L273.2,2821.3 L274.2,2824.0 L275.1,2822.5 L276.1,2822.6 L277.0,2822.4 L278.0,2822.8 L279.0,2823.3 L279.9,2821.7 L280.9,2824.0 L281.8,2821.4 L282.8,2822.8 L283.7,2822.0 L284.7,2822.1 L285.7,2823.0 L286.6,2822.5 L287.6,2824.0 L288.5,2821.7 L289.5,2822.8 L290.4,2822.9 L291.4,2824.6 L292.3,2824.0 L293.3,2823.0 L294.3,2824.1 L295.2,2823.2 L296.2,2821.4 L297.1,2822.6 L298.1,2823.6 L299.0,2821.6 L300.0,2823.9 L301.0,2822.6 L301.9,2821.5 L302.9,2822.7 L303.8,2820.5 L304.8,2821.4 L305.7,2821.0 L306.7,2822.7 L307.7,2821.1 L308.6,2820.5 L309.6,2822.5 L310.5,2821.6 L311.5,2821.4 L312.4,2821.5 L313.4,2823.3 L314.4,2822.4 L315.3,2821.3 L316.3,2825.2 L317.2,2822.7 L318.2,2824.3 L319.1,2823.3 L320.1,2823.6 L321.1,2821.2 L322.0,2821.5 L323.0,2822.8 L323.9,2822.0 L324.9,2822.2 L325.8,2823.3 L326.8,2819.6 L327.8,2821.7 L328.7,2823.8 L329.7,2821.6 L330.6,2822.1 L331.6,2822.5 L332.5,2822.4 L333.5,2822.4 L334.5,2821.0 L335.4,2822.4 L336.4,2821.4 L337.3,2823.8 L338.3,2821.4 L339.2,2822.3 L340.2,2821.8 L341.2,2823.3 L342.1,2822.1 L343.1,2822.8 L344.0,2821.4 L345.0,2821.6 L345.9,2820.9 L346.9,2821.7 L347.9,2821.6 L348.8,2820.6 L349.8,2820.4 L350.7,2821.9 L351.7,2821.4 L352.6,2820.2 L353.6,2818.7 L354.6,2816.2 L355.5,2815.0 L356.3,2813.4 L356.5,2813.3 L357.4,2815.2 L358.4,2817.9 L359.3,2820.0 L360.3,2821.3 L361.3,2819.6 L362.2,2821.4 L363.2,2820.4 L364.1,2821.4 L365.1,2823.2 L366.0,2819.7 L367.0,2820.4 L368.0,2821.3 L368.9,2819.3 L369.9,2824.4 L370.8,2821.1 L371.8,2823.6 L372.7,2821.7 L373.7,2823.1 L374.7,2822.7 L375.6,2821.4 L376.6,2822.3 L377.5,2821.0 L378.5,2821.2 L379.4,2823.4 L380.4,2820.8 L381.4,2820.7 L382.3,2824.5 L383.3,2821.3 L384.2,2822.0 L385.2,2823.5 L386.1,2821.1 L387.1,2821.0 L388.0,2823.6 L389.0,2821.6 L390.0,2821.8 L390.9,2821.2 L391.9,2822.1 L392.8,2819.7 L393.8,2821.6 L394.7,2822.5 L395.7,2822.4 L396.7,2820.8 L397.6,2822.0 L398.6,2823.6 L399.5,2821.4 L400.5,2822.0 L401.4,2820.8 L402.4,2819.2 L403.4,2821.9 L404.3,2820.0 L405.3,2820.2 L406.2,2821.0 L407.2,2820.8 L408.1,2820.6 L409.1,2821.9 L410.1,2820.8 L411.0,2820.5 L412.0,2819.2 L412.9,2821.3 L413.9,2818.7 L414.8,2817.5 L415.8,2818.9 L416.8,2820.4 L417.7,2819.8 L418.7,2820.6 L419.6,2819.3 L420.6,2819.0 L421.5,2818.6 L422.5,2817.2 L423.5,2816.9 L424.4,2816.4 L425.4,2816.5 L426.3,2814.6 L427.3,2814.4 L428.2,2814.3 L429.2,2812.8 L430.2,2811.3 L431.1,2809.9 L432.1,2806.9 L433.0,2804.6 L434.0,2802.5 L434.9,2801.2 L435.9,2796.9 L436.9,2791.2 L437.8,2785.1 L438.8,2777.0 L439.7,2762.7 L440.7,2750.5 L441.6,2733.0 L442.6,2708.3 L443.6,2671.3 L444.5,2624.3 L445.5,2556.5 L446.4,2464.0 L447.4,2343.5 L448.3,2201.2 L449.3,2060.0 L450.3,1962.5 L450.8,1944.3 L451.2,1953.1 L452.2,2036.0 L453.1,2172.8 L454.1,2318.1 L455.0,2442.7 L456.0,2537.1 L457.0,2609.3 L457.9,2663.0 L458.9,2701.1 L459.8,2727.8 L460.8,2747.5 L461.7,2763.2 L462.7,2774.9 L463.7,2783.3 L464.6,2787.8 L465.6,2795.7 L466.5,2800.4 L467.5,2803.2 L468.4,2808.2 L469.4,2806.6 L470.4,2808.0 L471.3,2815.3 L472.3,2811.8 L473.2,2811.4 L474.2,2814.4 L475.1,2816.7 L476.1,2815.8 L477.1,2816.7 L478.0,2818.5 L479.0,2820.3 L479.9,2819.4 L480.9,2819.3 L481.8,2818.8 L482.8,2820.4 L483.7,2822.9 L484.7,2818.8 L485.7,2819.0 L486.6,2820.0 L487.6,2821.4 L488.5,2821.4 L489.5,2820.6 L490.4,2820.5 L491.4,2822.6 L492.4,2821.7 L493.3,2822.8 L494.3,2821.1 L495.2,2822.7 L496.2,2820.6 L497.1,2823.9 L498.1,2821.3 L499.1,2821.4 L500.0,2822.3 L501.0,2821.7 L501.9,2821.3 L502.9,2822.5 L503.8,2821.3 L504.8,2824.2 L505.8,2821.3 L506.7,2823.0 L507.7,2821.3 L508.6,2820.3 L509.6,2819.7 L510.5,2822.3 L511.5,2820.7 L512.5,2822.5 L513.4,2821.4 L514.4,2822.3 L515.3,2822.3 L516.3,2824.4 L517.2,2822.2 L518.2,2820.9 L519.2,2819.9 L520.1,2823.5 L521.1,2822.6 L522.0,2824.1 L523.0,2820.8 L523.9,2822.3 L524.9,2821.7 L525.9,2823.1 L526.8,2822.2 L527.8,2824.2 L528.7,2822.2 L529.7,2822.4 L530.6,2821.9 L531.6,2823.2 L532.6,2823.9 L533.5,2823.3 L534.5,2822.0 L535.4,2821.6 L536.4,2821.7 L537.3,2822.9 L538.3,2822.2 L539.3,2822.6 L540.2,2824.0 L541.2,2823.3 L542.1,2823.0 L543.1,2822.3 L544.0,2822.6 L545.0,2822.5 L546.0,2822.9 L546.9,2822.6 L547.9,2823.0 L548.8,2822.2 L549.8,2824.3 L550.7,2823.3 L551.7,2823.2 L552.7,2823.9 L553.6,2821.7 L554.6,2821.6 L555.5,2821.3 L556.5,2822.1 L557.4,2823.6 L558.4,2823.2 L559.4,2824.7 L560.3,2821.4 L561.3,2823.5 L562.2,2821.6 L563.2,2821.6 L564.1,2821.6 L565.1,2824.4 L566.1,2823.1 L567.0,2824.4 L568.0,2823.2 L568.9,2823.8 L569.9,2823.8 L570.8,2823.7 L571.8,2823.3 L572.8,2824.2 L573.7,2823.3 L574.7,2823.2 L575.6,2823.2 L576.6,2822.5 L577.5,2821.5 L578.5,2822.3 L579.4,2825.1 L580.4,2823.4 L581.4,2822.1 L582.3,2822.9 L583.3,2824.3 L584.2,2825.3 L585.2,2821.2 L586.1,2821.5 L587.1,2820.9 L588.1,2822.6 L589.0,2822.2 L590.0,2824.5 L590.9,2824.0 L591.9,2822.7 L592.8,2825.8 L593.8,2822.6 L594.8,2823.7 L595.7,2824.2 L596.7,2822.2 L597.6,2823.5 L598.6,2823.7 L599.5,2823.2 L600.5,2824.2 L601.5,2823.2 L602.4,2822.7 L603.4,2824.3 L604.3,2822.9 L605.3,2823.9 L606.2,2822.9 L607.2,2824.1 L608.2,2823.6 L609.1,2822.1 L610.1,2823.9 L611.0,2823.0 L612.0,2825.4 L612.9,2822.9 L613.9,2824.4 L614.9,2821.0 L615.8,2823.0 L616.8,2821.6 L617.7,2823.6 L618.7,2822.7 L619.6,2825.1 L620.6,2824.3 L621.6,2825.2 L622.5,2822.6 L623.5,2821.1 L624.4,2823.6 L625.4,2825.2 L626.3,2823.9 L627.3,2825.7 L628.3,2823.3 L629.2,2822.9 L630.2,2824.2 L631.1,2824.9 L632.1,2823.2 L633.0,2823.0 L634.0,2822.9 L635.0,2825.9 L635.9,2821.4 L636.9,2825.0 L637.8,2823.6 L638.8,2825.5 L639.7,2824.6 L640.7,2822.5 L641.7,2824.0 L642.6,2823.2 L643.6,2823.2 L644.5,2822.2 L645.5,2825.2 L646.4,2821.7 L647.4,2824.1 L648.4,2826.1 L649.3,2824.4 L650.3,2825.6 L651.2,2824.8 L652.2,2825.3 L653.1,2822.9 L654.1,2824.1 L655.1,2824.4 L656.0,2824.1 L657.0,2822.9 L657.9,2822.8 L658.9,2823.9 L659.8,2824.4 L660.8,2824.2 L661.8,2822.1 L662.7,2823.3 L663.7,2823.3 L664.6,2824.4 L665.6,2823.0 L666.5,2824.1 L667.5,2822.6 L668.5,2823.5 L669.4,2824.8 L670.4,2824.9 L671.3,2822.6 L672.3,2824.1 L673.2,2823.3 L674.2,2826.1 L675.1,2824.5 L676.1,2824.1 L677.1,2826.2 L678.0,2820.8 L679.0,2823.1 L679.9,2824.8 L680.9,2824.0 L681.8,2824.6 L682.8,2823.4 L683.8,2823.8 L684.7,2824.4 L685.7,2825.5 L686.6,2826.6 L687.6,2822.9 L688.5,2824.8 L689.5,2821.8 L690.5,2823.7 L691.4,2824.6 L692.4,2823.3 L693.3,2824.5 L694.3,2824.0 L695.2,2826.2 L696.2,2824.4 L697.2,2823.6 L698.1,2822.5 L699.1,2823.8 L700.0,2825.1 L701.0,2826.8 L701.9,2824.5 L702.9,2824.0 L703.9,2824.2 L704.8,2824.7 L705.8,2825.4 L706.7,2825.4 L707.7,2824.5 L708.6,2824.8 L709.6,2824.1 L710.6,2825.6 L711.5,2822.7 L712.5,2825.4 L713.4,2824.4 L714.4,2824.4 L715.3,2824.6 L716.3,2824.3 L717.3,2823.4 L718.2,2824.3 L719.2,2824.5 L720.1,2824.7 L721.1,2825.3 L722.0,2824.1 L723.0,2822.3 L724.0,2824.3 L724.9,2824.6 L725.9,2824.7 L726.8,2822.3 L727.8,2825.4 L728.7,2826.2 L729.7,2824.5 L730.7,2825.5 L731.6,2825.7 L732.6,2826.1 L733.5,2823.0 L734.5,2825.4 L735.4,2824.1 L736.4,2822.9 L737.4,2824.7 L738.3,2824.3 L739.3,2825.6 L740.2,2825.4 L741.2,2823.6 L742.1,2825.0 L743.1,2825.2 L744.1,2823.0 L745.0,2824.8 L746.0,2824.3 L746.9,2826.0 L747.9,2825.2 L748.8,2823.9 L749.8,2823.7 L750.8,2822.1 L751.7,2825.8 L752.7,2825.8 L753.6,2825.5 L754.6,2824.6 L755.5,2825.2 L756.5,2823.7 L757.5,2825.0 L758.4,2825.2 L759.4,2824.6 L760.3,2826.7 L761.3,2824.5 L762.2,2823.7 L763.2,2823.2 L764.2,2825.5 L765.1,2824.1 L766.1,2824.0 L767.0,2823.6 L768.0,2823.3 L768.9,2825.3 L769.9,2822.7 L770.8,2827.1 L771.8,2824.0 L772.8,2825.5 L773.7,2824.3 L774.7,2825.4 L775.6,2825.4 L776.6,2825.1 L777.5,2826.8 L778.5,2823.4 L779.5,2824.7 L780.4,2824.0 L781.4,2824.9 L782.3,2824.1 L783.3,2823.6 L784.2,2824.5 L785.2,2824.3 L786.2,2824.7 L787.1,2824.9 L788.1,2823.7 L789.0,2823.7 L790.0,2823.0 L790.9,2824.4 L791.9,2824.5 L792.9,2825.2 L793.8,2825.4 L794.8,2823.4 L795.7,2825.1 L796.7,2824.8 L797.6,2822.1 L798.6,2824.3 L799.6,2825.2 L800.5,2825.9 L801.5,2825.3 L802.4,2825.7 L803.4,2823.6 L804.3,2826.8 L805.3,2822.9 L806.3,2825.6 L807.2,2824.0 L808.2,2824.7 L809.1,2824.4 L810.1,2823.3 L811.0,2826.2 L812.0,2823.4 L813.0,2823.1 L813.9,2825.5 L814.9,2824.5 L815.8,2827.0 L816.8,2825.5 L817.7,2825.2 L818.7,2825.5 L819.7,2825.7 L820.6,2822.7 L821.6,2823.5 L822.5,2823.6 L823.5,2827.1 L824.4,2824.4 L825.4,2824.5 L826.4,2826.2 L827.3,2825.3 L828.3,2824.7 L829.2,2824.1 L830.2,2824.0 L831.1,2824.9 L832.1,2825.4 L833.1,2825.5 L834.0,2825.8 L835.0,2823.5 L835.9,2824.8 L836.9,2824.4 L837.8,2823.8 L838.8,2825.5 L839.8,2826.6 L840.7,2825.1 L841.7,2823.3 L842.6,2825.1 L843.6,2826.3 L844.5,2824.1 L845.5,2823.9 L846.5,2825.0 L847.4,2824.1 L848.4,2825.0 L849.3,2827.1 L850.3,2824.9 L851.2,2824.3 L852.2,2825.3 L853.2,2824.5 L854.1,2826.8 L855.1,2825.2 L856.0,2824.8 L857.0,2823.3 L857.9,2825.6 L858.9,2826.3 L859.9,2824.4 L860.8,2825.1 L861.8,2825.5 L862.7,2825.7 L863.7,2826.4 L864.6,2824.9 L865.6,2825.1 L866.5,2825.2 L867.5,2824.7 L868.5,2825.9 L869.4,2825.7 L870.4,2822.1 L871.3,2824.3 L872.3,2822.0 L873.2,2825.0 L874.2,2824.9 L875.2,2823.9 L876.1,2826.7 L877.1,2823.1 L878.0,2824.6 L879.0,2823.5 L879.9,2823.3 L880.9,2821.3 L881.9,2823.4 L882.8,2824.4 L883.8,2822.6 L884.7,2824.0 L885.7,2822.0 L886.6,2821.4 L887.6,2819.8 L888.6,2818.8 L889.5,2816.9 L890.5,2815.7 L891.4,2810.9 L892.4,2807.2 L893.3,2801.8 L894.3,2795.5 L895.3,2789.0 L896.2,2784.5 L896.4,2787.1 L897.2,2787.9 L898.1,2794.0 L899.1,2798.4 L900.0,2803.9 L901.0,2808.2 L902.0,2813.5 L902.9,2814.4 L903.9,2817.3 L904.8,2818.3 L905.8,2818.8 L906.7,2817.9 L907.7,2822.1 L908.7,2821.3 L909.6,2819.0 L910.6,2819.0 L911.5,2818.7 L912.5,2819.7 L913.4,2820.7 L914.4,2818.8 L915.4,2819.4 L916.3,2819.3 L917.3,2816.8 L918.2,2815.6 L919.2,2814.3 L920.1,2812.3 L921.1,2810.1 L922.1,2806.4 L923.0,2800.6 L924.0,2788.6 L924.9,2772.7 L925.9,2752.5 L926.8,2726.2 L927.8,2704.3 L928.8,2689.5 L928.9,2690.4 L929.7,2695.8 L930.7,2716.6 L931.6,2744.4 L932.6,2765.5 L933.5,2782.6 L934.5,2795.1 L935.5,2800.9 L936.4,2807.5 L937.4,2811.6 L938.3,2813.5 L939.3,2813.7 L940.2,2817.7 L941.2,2818.2 L942.2,2819.8 L943.1,2820.5 L944.1,2817.4 L945.0,2820.2 L946.0,2820.2 L946.9,2818.8 L947.9,2819.8 L948.9,2819.9 L949.8,2818.0 L950.8,2817.0 L951.7,2813.7 L952.7,2811.6 L953.6,2809.4 L954.6,2806.8 L955.6,2797.7 L956.5,2793.2 L957.5,2786.6 L958.4,2782.9 L958.8,2779.9 L959.4,2782.1 L960.3,2789.0 L961.3,2794.3 L962.2,2799.8 L963.2,2807.1 L964.2,2811.9 L965.1,2814.6 L966.1,2816.0 L967.0,2819.2 L968.0,2820.0 L968.9,2821.6 L969.9,2820.8 L970.9,2822.2 L971.8,2821.0 L972.8,2821.9 L973.7,2822.7 L974.7,2823.9 L975.6,2822.9 L976.6,2822.6 L977.6,2824.1 L978.5,2824.9 L979.5,2823.2 L980.4,2824.6 L981.4,2825.6 L982.3,2825.0 L983.3,2823.5 L984.3,2824.9 L985.2,2823.5 L986.2,2824.5 L987.1,2826.6 L988.1,2826.9 L989.0,2823.8 L990.0,2825.1 L991.0,2826.1 L991.9,2823.3 L992.9,2825.0 L993.8,2824.4 L994.8,2825.1 L995.7,2825.7 L996.7,2824.5 L997.7,2823.8 L998.6,2824.1 L999.6,2826.3 L1000.5,2825.8 L1001.5,2826.0 L1002.4,2824.7 L1003.4,2825.7 L1004.4,2825.6 L1005.3,2826.2 L1006.3,2825.5 L1007.2,2826.9 L1008.2,2825.6 L1009.1,2827.7 L1010.1,2824.3 L1011.1,2826.1 L1012.0,2825.0 L1013.0,2825.9 L1013.9,2826.3 L1014.9,2824.0 L1015.8,2827.6 L1016.8,2825.1 L1017.8,2825.3 L1018.7,2823.3 L1019.7,2826.0 L1020.6,2827.4 L1021.6,2826.1 L1022.5,2825.8 L1023.5,2826.3 L1024.5,2825.1 L1025.4,2825.3 L1026.4,2827.2 L1027.3,2825.3 L1028.3,2824.9 L1029.2,2824.7 L1030.2,2826.1 L1031.2,2826.5 L1032.1,2824.3 L1033.1,2825.7 L1034.0,2825.5 L1035.0,2823.9 L1035.9,2828.3 L1036.9,2826.1 L1037.9,2825.1 L1038.8,2824.0 L1039.8,2825.2 L1040.7,2826.3 L1041.7,2824.3 L1042.6,2825.2 L1043.6,2827.1 L1044.6,2826.7 L1045.5,2826.3 L1046.5,2825.8 L1047.4,2825.0 L1048.4,2825.0 L1049.3,2826.8 L1050.3,2825.4 L1051.3,2824.9 L1052.2,2826.2 L1053.2,2825.5 L1054.1,2826.0 L1055.1,2826.0 L1056.0,2827.6 L1057.0,2825.6 L1057.9,2827.3 L1058.9,2825.6 L1059.9,2826.5 L1060.8,2825.5 L1061.8,2825.7 L1062.7,2826.6 L1063.7,2826.3 L1064.6,2824.3 L1065.6,2825.7 L1066.6,2827.4 L1067.5,2825.8 L1068.5,2826.0 L1069.4,2824.3 L1070.4,2828.8 L1071.3,2825.5 L1072.3,2824.8 L1073.3,2824.8 L1074.2,2825.6 L1075.2,2824.9 L1076.1,2824.8 L1077.1,2826.5 L1078.0,2826.3 L1079.0,2825.9 L1080.0,2827.0 L1080.9,2826.3 L1081.9,2828.0 L1082.8,2828.5 L1083.8,2826.9 L1084.7,2825.8 L1085.7,2827.4 L1086.7,2825.0 L1087.6,2826.0 L1088.6,2825.7 L1089.5,2826.5 L1090.5,2826.7 L1091.4,2826.1 L1092.4,2827.5 L1093.4,2826.0 L1094.3,2826.1 L1095.3,2825.7 L1096.2,2825.3 L1097.2,2826.2 L1098.1,2826.5 L1099.1,2826.2 L1100.1,2827.5 L1101.0,2826.6 L1102.0,2827.2 L1102.9,2826.4 L1103.9,2823.5 L1104.8,2826.2 L1105.8,2825.8 L1106.8,2826.7 L1107.7,2825.8 L1108.7,2825.7 L1109.6,2827.0 L1110.6,2826.2 L1111.5,2826.9 L1112.5,2827.7 L1113.5,2826.0 L1114.4,2824.3 L1115.4,2825.7 L1116.3,2824.8 L1117.3,2824.6 L1118.2,2827.7 L1119.2,2828.7 L1120.2,2824.6 L1121.1,2827.8 L1122.1,2828.2 L1123.0,2826.8 L1124.0,2826.3 L1124.9,2827.5 L1125.9,2826.7 L1126.9,2826.8 L1127.8,2826.6 L1128.8,2825.9 L1129.7,2826.2 L1130.7,2825.9 L1131.6,2826.0 L1132.6,2827.0 L1133.6,2825.2 L1134.5,2825.4 L1135.5,2826.4 L1136.4,2827.5 L1137.4,2827.0 L1138.3,2826.5 L1139.3,2825.7 L1140.3,2824.7 L1141.2,2826.1 L1142.2,2826.6 L1143.1,2824.9 L1144.1,2828.5 L1145.0,2826.7 L1146.0,2827.4 L1147.0,2827.2 L1147.9,2823.8 L1148.9,2827.3 L1149.8,2827.1 L1150.8,2824.6 L1151.7,2826.4 L1152.7,2826.2 L1153.6,2826.2 L1154.6,2827.1 L1155.6,2825.1 L1156.5,2825.5 L1157.5,2824.3 L1158.4,2827.3 L1159.4,2825.6 L1160.3,2826.0 L1161.3,2825.9 L1162.3,2826.4 L1163.2,2824.3 L1164.2,2827.0 L1165.1,2825.2 L1166.1,2825.5 L1167.0,2826.7 L1168.0,2827.4 L1169.0,2827.1 L1169.9,2825.8 L1170.9,2826.7 L1171.8,2824.7 L1172.8,2827.3 L1173.7,2826.4 L1174.7,2825.9 L1175.7,2825.4 L1176.6,2825.8 L1177.6,2826.8 L1178.5,2824.9 L1179.5,2827.4 L1180.4,2824.6 L1181.4,2826.7 L1182.4,2828.2 L1183.3,2825.4 L1184.3,2827.1 L1185.2,2826.4 L1186.2,2828.9 L1187.1,2826.2 L1188.1,2825.8 L1189.1,2826.1 L1190.0,2826.3 L1191.0,2826.5 L1191.9,2825.4 L1192.9,2826.1 L1193.8,2828.7 L1194.8,2828.2 L1195.8,2825.5 L1196.7,2825.4 L1197.7,2826.8 L1198.6,2826.0 L1199.6,2826.2 L1200.5,2827.1 L1201.5,2826.6 L1202.5,2825.9 L1203.4,2825.4 L1204.4,2826.4 L1205.3,2826.4 L1206.3,2826.1 L1207.2,2825.2 L1208.2,2827.4 L1209.2,2825.6 L1210.1,2824.8 L1211.1,2826.5 L1212.0,2827.0 L1213.0,2826.6 L1213.9,2825.6 L1214.9,2824.7 L1215.9,2826.3 L1216.8,2827.5 L1217.8,2827.1 L1218.7,2826.4 L1219.7,2827.0 L1220.6,2824.7 L1221.6,2827.5 L1222.6,2825.1 L1223.5,2825.5 L1224.5,2826.9 L1225.4,2825.6 L1226.4,2824.6 L1227.3,2827.3 L1228.3,2826.3 L1229.3,2826.7 L1230.2,2827.0 L1231.2,2826.7 L1232.1,2825.5 L1233.1,2825.7 L1234.0,2828.2 L1235.0,2826.5 L1236.0,2826.2 L1236.9,2827.2 L1237.9,2827.2 L1238.8,2826.9 L1239.8,2826.7 L1240.7,2825.5 L1241.7,2827.4 L1242.7,2827.3 L1243.6,2826.1 L1244.6,2826.4 L1245.5,2827.3 L1246.5,2825.1 L1247.4,2826.2 L1248.4,2825.3 L1249.3,2826.0 L1250.3,2826.9 L1251.3,2826.4 L1252.2,2824.5 L1253.2,2823.7 L1254.1,2825.3 L1255.1,2824.1 L1256.0,2826.0 L1257.0,2825.1 L1258.0,2825.7 L1258.9,2824.7 L1259.9,2826.4 L1260.8,2826.7 L1261.8,2825.2 L1262.7,2825.9 L1263.7,2826.4 L1264.7,2827.3 L1265.6,2825.3 L1266.6,2826.9 L1267.5,2825.5 L1268.5,2826.5 L1269.4,2825.3 L1270.4,2825.1 L1271.4,2825.6 L1272.3,2824.5 L1273.3,2825.0 L1274.2,2825.3 L1275.2,2825.0 L1276.1,2824.9 L1277.1,2825.8 L1278.1,2827.7 L1279.0,2825.9 L1280.0,2824.6 L1280.9,2825.8 L1281.9,2825.8 L1282.8,2825.2 L1283.8,2822.5 L1284.8,2824.4 L1285.7,2824.7 L1286.7,2827.5 L1287.6,2821.6 L1288.6,2824.9 L1289.5,2823.0 L1290.5,2823.7 L1291.5,2823.1 L1292.4,2823.3 L1293.4,2823.9 L1294.3,2824.1 L1295.3,2824.5 L1296.2,2822.5 L1297.2,2822.4 L1298.2,2822.8 L1299.1,2821.7 L1300.1,2820.8 L1301.0,2822.9 L1302.0,2822.6 L1302.9,2819.0 L1303.9,2821.3 L1304.9,2818.1 L1305.8,2817.7 L1306.8,2814.7 L1307.7,2814.5 L1308.7,2814.2 L1309.6,2811.5 L1310.6,2808.5 L1311.6,2804.5 L1312.5,2799.5 L1313.5,2793.5 L1314.4,2784.0 L1315.4,2772.1 L1316.3,2757.2 L1317.3,2739.8 L1318.3,2720.4 L1319.2,2698.9 L1320.2,2681.2 L1321.1,2675.9 L1321.3,2675.0 L1322.1,2679.2 L1323.0,2690.2 L1324.0,2709.5 L1325.0,2731.0 L1325.9,2751.2 L1326.9,2765.5 L1327.8,2779.7 L1328.8,2790.5 L1329.7,2797.3 L1330.7,2803.3 L1331.7,2805.8 L1332.6,2811.9 L1333.6,2813.7 L1334.5,2815.0 L1335.5,2816.4 L1336.4,2817.0 L1337.4,2821.1 L1338.4,2819.7 L1339.3,2821.5 L1340.3,2820.3 L1341.2,2821.4 L1342.2,2821.0 L1343.1,2822.2 L1344.1,2822.5 L1345.0,2823.2 L1346.0,2823.9 L1347.0,2824.2 L1347.9,2824.3 L1348.9,2823.2 L1349.8,2824.5 L1350.8,2823.5 L1351.7,2824.7 L1352.7,2824.5 L1353.7,2823.1 L1354.6,2822.6 L1355.6,2826.5 L1356.5,2824.1 L1357.5,2825.3 L1358.4,2824.7 L1359.4,2823.0 L1360.4,2825.0 L1361.3,2823.9 L1362.3,2826.2 L1363.2,2824.9 L1364.2,2827.1 L1365.1,2826.0 L1366.1,2824.4 L1367.1,2826.9 L1368.0,2822.6 L1369.0,2827.7 L1369.9,2825.8 L1370.9,2825.3 L1371.8,2824.5 L1372.8,2824.8 L1373.8,2825.4 L1374.7,2824.4 L1375.7,2825.1 L1376.6,2825.6 L1377.6,2824.0 L1378.5,2826.1 L1379.5,2827.7 L1380.5,2825.9 L1381.4,2824.9 L1382.4,2825.3 L1383.3,2826.0 L1384.3,2825.8 L1385.2,2826.9 L1386.2,2824.6 L1387.2,2824.1 L1388.1,2825.8 L1389.1,2825.2 L1390.0,2827.2 L1391.0,2824.9 L1391.9,2825.9 L1392.9,2825.1 L1393.9,2825.5 L1394.8,2827.7 L1395.8,2823.4 L1396.7,2827.3 L1397.7,2827.4 L1398.6,2827.1 L1399.6,2826.6 L1400.6,2826.3 L1401.5,2825.8 L1402.5,2824.9 L1403.4,2824.0 L1404.4,2827.9 L1405.3,2827.0 L1406.3,2825.2 L1407.3,2825.4 L1408.2,2827.7 L1409.2,2825.4 L1410.1,2825.6 L1411.1,2826.3 L1412.0,2823.9 L1413.0,2826.9 L1414.0,2828.6 L1414.9,2825.9 L1415.9,2824.7 L1416.8,2825.4 L1417.8,2824.2 L1418.7,2826.2 L1419.7,2827.2 L1420.7,2823.7 L1421.6,2824.3 L1422.6,2826.3 L1423.5,2826.2 L1424.5,2824.9 L1425.4,2827.2 L1426.4,2824.8 L1427.4,2824.5 L1428.3,2824.6 L1429.3,2827.3 L1430.2,2825.5 L1431.2,2827.5 L1432.1,2827.5 L1433.1,2826.2 L1434.1,2825.8 L1435.0,2827.0 L1436.0,2827.2 L1436.9,2824.4 L1437.9,2826.6 L1438.8,2824.1 L1439.8,2826.2 L1440.7,2826.8 L1441.7,2826.2 L1442.7,2825.4 L1443.6,2826.9 L1444.6,2827.4 L1445.5,2827.0 L1446.5,2824.4 L1447.4,2825.5 L1448.4,2825.0 L1449.4,2826.9 L1450.3,2825.9 L1451.3,2827.7 L1452.2,2825.8 L1453.2,2824.7 L1454.1,2827.0 L1455.1,2823.9 L1456.1,2826.0 L1457.0,2826.1 L1458.0,2825.1 L1458.9,2827.3 L1459.9,2825.1 L1460.8,2826.6 L1461.8,2825.1 L1462.8,2825.0 L1463.7,2826.4 L1464.7,2826.9 L1465.6,2826.7 L1466.6,2826.2 L1467.5,2823.7 L1468.5,2825.0 L1469.5,2825.3 L1470.4,2825.3 L1471.4,2825.2 L1472.3,2827.1 L1473.3,2825.8 L1474.2,2826.3 L1475.2,2826.9 L1476.2,2824.8 L1477.1,2827.1 L1478.1,2821.8 L1479.0,2824.3 L1480.0,2823.9 L1480.9,2824.1 L1481.9,2824.0 L1482.9,2823.3 L1483.8,2827.7 L1484.8,2825.8 L1485.7,2827.2 L1486.7,2827.4 L1487.6,2827.2 L1488.6,2827.4 L1489.6,2824.5 L1490.5,2825.9 L1491.5,2824.9 L1492.4,2824.5 L1493.4,2825.2 L1494.3,2826.6 L1495.3,2825.8 L1496.3,2826.3 L1497.2,2823.6 L1498.2,2824.0 L1499.1,2825.4 L1500.1,2824.7 L1501.0,2827.3 L1502.0,2824.3 L1503.0,2825.0 L1503.9,2826.4 L1504.9,2825.9 L1505.8,2824.3 L1506.8,2826.0 L1507.7,2826.0 L1508.7,2824.0 L1509.7,2823.5 L1510.6,2825.3 L1511.6,2825.7 L1512.5,2823.7 L1513.5,2824.6 L1514.4,2825.2 L1515.4,2823.1 L1516.4,2824.6 L1517.3,2822.6 L1518.3,2822.8 L1519.2,2821.7 L1520.2,2821.7 L1521.1,2823.2 L1522.1,2822.9 L1523.1,2823.7 L1524.0,2822.1 L1525.0,2823.2 L1525.9,2822.4 L1526.9,2820.5 L1527.8,2818.8 L1528.8,2818.0 L1529.8,2818.1 L1530.7,2818.1 L1531.7,2816.2 L1532.6,2816.1 L1533.6,2811.6 L1534.5,2807.7 L1535.5,2803.4 L1536.4,2800.5 L1537.4,2793.9 L1538.4,2786.1 L1539.3,2779.7 L1540.3,2769.5 L1541.2,2761.0 L1542.2,2750.4 L1543.1,2745.6 L1544.1,2743.5 L1544.5,2741.5 L1545.1,2742.3 L1546.0,2743.9 L1547.0,2753.2 L1547.9,2762.8 L1548.9,2771.6 L1549.8,2779.1 L1550.8,2788.4 L1551.8,2794.7 L1552.7,2802.2 L1553.7,2801.6 L1554.6,2809.7 L1555.6,2810.3 L1556.5,2813.3 L1557.5,2813.7 L1558.5,2813.8 L1559.4,2817.2 L1560.4,2818.8 L1561.3,2816.8 L1562.3,2818.7 L1563.2,2821.4 L1564.2,2820.3 L1565.2,2821.9 L1566.1,2820.6 L1567.1,2819.6 L1568.0,2822.8 L1569.0,2817.8 L1569.9,2817.7 L1570.9,2818.7 L1571.9,2819.3 L1572.8,2819.3 L1573.8,2817.6 L1574.7,2816.1 L1575.7,2816.5 L1576.6,2814.9 L1577.6,2813.2 L1578.6,2812.1 L1579.5,2807.8 L1580.5,2805.9 L1581.4,2802.0 L1582.4,2797.7 L1583.3,2788.6 L1584.3,2783.5 L1585.3,2775.6 L1586.2,2765.4 L1587.2,2758.7 L1588.1,2752.3 L1589.1,2749.3 L1589.7,2747.6 L1590.0,2748.2 L1591.0,2752.9 L1592.0,2757.3 L1592.9,2765.6 L1593.9,2774.1 L1594.8,2783.1 L1595.8,2789.1 L1596.7,2796.8 L1597.7,2801.4 L1598.7,2807.1 L1599.6,2809.7 L1600.6,2810.8 L1601.5,2813.5 L1602.5,2816.7 L1603.4,2819.8 L1604.4,2819.3 L1605.4,2818.2 L1606.3,2821.1 L1607.3,2823.8 L1608.2,2821.1 L1609.2,2824.9 L1610.1,2824.2 L1611.1,2822.2 L1612.1,2824.8 L1613.0,2822.9 L1614.0,2824.4 L1614.9,2823.3 L1615.9,2824.2 L1616.8,2824.1 L1617.8,2826.0 L1618.8,2824.5 L1619.7,2824.3 L1620.7,2826.8 L1621.6,2823.8 L1622.6,2825.8 L1623.5,2827.1 L1624.5,2824.7 L1625.5,2824.3 L1626.4,2824.1 L1627.4,2827.3 L1628.3,2824.3 L1629.3,2827.1 L1630.2,2826.0 L1631.2,2826.8 L1632.1,2827.0 L1633.1,2825.0 L1634.1,2828.6 L1635.0,2828.1 L1636.0,2827.4 L1636.9,2825.7 L1637.9,2826.0 L1638.8,2827.3 L1639.8,2824.7 L1640.8,2826.3 L1641.7,2828.1 L1642.7,2826.5 L1643.6,2825.5 L1644.6,2827.5 L1645.5,2824.9 L1646.5,2828.2 L1647.5,2826.1 L1648.4,2828.2 L1649.4,2827.1 L1650.3,2827.1 L1651.3,2827.8 L1652.2,2825.2 L1653.2,2827.2 L1654.2,2828.2 L1655.1,2826.9 L1656.1,2827.9 L1657.0,2824.5 L1658.0,2826.1 L1658.9,2825.6 L1659.9,2826.7 L1660.9,2827.3 L1661.8,2828.5 L1662.8,2826.7 L1663.7,2825.2 L1664.7,2825.7 L1665.6,2829.3 L1666.6,2825.4 L1667.6,2828.2 L1668.5,2827.1 L1669.5,2826.3 L1670.4,2829.1 L1671.4,2826.5 L1672.3,2827.2 L1673.3,2827.0 L1674.3,2826.7 L1675.2,2827.1 L1676.2,2825.7 L1677.1,2827.4 L1678.1,2826.8 L1679.0,2828.9 L1680.0,2825.4 L1681.0,2827.5 L1681.9,2827.0 L1682.9,2826.3 L1683.8,2828.2 L1684.8,2826.8 L1685.7,2827.9 L1686.7,2827.3 L1687.7,2827.5 L1688.6,2828.1 L1689.6,2827.2 L1690.5,2827.0 L1691.5,2824.8 L1692.4,2826.8 L1693.4,2827.1 L1694.4,2827.7 L1695.3,2826.8 L1696.3,2826.5 L1697.2,2827.4 L1698.2,2826.6 L1699.1,2826.1 L1700.1,2827.9 L1701.1,2827.2 L1702.0,2825.8 L1703.0,2829.2 L1703.9,2826.7 L1704.9,2825.7 L1705.8,2826.8 L1706.8,2825.8 L1707.8,2827.4 L1708.7,2826.8 L1709.7,2828.9 L1710.6,2829.8 L1711.6,2826.0 L1712.5,2827.3 L1713.5,2828.8 L1714.5,2827.6 L1715.4,2827.4 L1716.4,2828.3 L1717.3,2827.2 L1718.3,2828.1 L1719.2,2827.0 L1720.2,2825.4 L1721.2,2824.7 L1722.1,2827.3 L1723.1,2827.4 L1724.0,2828.0 L1725.0,2829.1 L1725.9,2826.6 L1726.9,2827.5 L1727.8,2828.3 L1728.8,2828.0 L1729.8,2825.5 L1730.7,2826.9 L1731.7,2826.0 L1732.6,2826.6 L1733.6,2828.6 L1734.5,2828.9 L1735.5,2827.6 L1736.5,2828.2 L1737.4,2829.4 L1738.4,2827.8 L1739.3,2827.7 L1740.3,2827.5 L1741.2,2827.8 L1742.2,2828.6 L1743.2,2826.5 L1744.1,2829.7 L1745.1,2826.0 L1746.0,2826.3 L1747.0,2826.4 L1747.9,2828.7 L1748.9,2827.6 L1749.9,2827.3 L1750.8,2828.6 L1751.8,2829.0 L1752.7,2829.2 L1753.7,2829.1 L1754.6,2825.9 L1755.6,2827.7 L1756.6,2829.5 L1757.5,2828.6 L1758.5,2825.4 L1759.4,2830.2 L1760.4,2828.4 L1761.3,2828.4 L1762.3,2828.7 L1763.3,2828.6 L1764.2,2828.3 L1765.2,2828.0 L1766.1,2827.1 L1767.1,2827.8 L1768.0,2828.5 L1769.0,2828.8 L1770.0,2829.9 L1770.9,2828.8 L1771.9,2828.4 L1772.8,2828.6 L1773.8,2827.8 L1774.7,2826.6 L1775.7,2828.6 L1776.7,2829.5 L1777.6,2825.9 L1778.6,2828.6 L1779.5,2827.5 L1780.5,2827.5 L1781.4,2828.1 L1782.4,2827.9 L1783.4,2827.5 L1784.3,2826.5 L1785.3,2828.0 L1786.2,2825.9 L1787.2,2827.3 L1788.1,2829.2 L1789.1,2828.7 L1790.1,2826.0 L1791.0,2829.5 L1792.0,2828.8 L1792.9,2827.0 L1793.9,2827.3 L1794.8,2827.7 L1795.8,2829.4 L1796.8,2827.1 L1797.7,2829.8 L1798.7,2827.8 L1799.6,2825.9 L1800.6,2826.9 L1801.5,2828.1 L1802.5,2825.8 L1803.5,2828.0 L1804.4,2827.3 L1805.4,2828.4 L1806.3,2829.2 L1807.3,2828.4 L1808.2,2826.9 L1809.2,2826.3 L1810.2,2826.8 L1811.1,2828.4 L1812.1,2827.6 L1813.0,2829.2 L1814.0,2825.6 L1814.9,2827.3 L1815.9,2827.3 L1816.9,2828.6 L1817.8,2826.9 L1818.8,2826.5 L1819.7,2828.0 L1820.7,2828.9 L1821.6,2826.0 L1822.6,2828.8 L1823.5,2827.8 L1824.5,2826.2 L1825.5,2827.6 L1826.4,2826.5 L1827.4,2826.4 L1828.3,2825.9 L1829.3,2826.2 L1830.2,2827.3 L1831.2,2825.2 L1832.2,2827.1 L1833.1,2827.2 L1834.1,2826.5 L1835.0,2827.1 L1836.0,2827.7 L1836.9,2827.4 L1837.9,2829.4 L1838.9,2825.9 L1839.8,2828.3 L1840.8,2827.3 L1841.7,2827.3 L1842.7,2825.4 L1843.6,2825.8 L1844.6,2826.1 L1845.6,2825.0 L1846.5,2825.0 L1847.5,2823.7 L1848.4,2825.5 L1849.4,2825.6 L1850.3,2826.4 L1851.3,2824.8 L1852.3,2824.9 L1853.2,2822.5 L1854.2,2820.5 L1855.1,2820.2 L1856.1,2820.4 L1857.0,2819.4 L1858.0,2818.5 L1859.0,2818.3 L1859.2,2816.2 L1859.9,2815.8 L1860.9,2817.4 L1861.8,2818.3 L1862.8,2817.9 L1863.7,2821.5 L1864.7,2821.1 L1865.7,2821.9 L1866.6,2820.2 L1867.6,2824.2 L1868.5,2820.5 L1869.5,2823.5 L1870.4,2821.0 L1871.4,2820.2 L1872.4,2818.6 L1873.3,2816.6 L1874.3,2812.0 L1875.2,2810.6 L1876.2,2805.1 L1877.1,2799.0 L1878.1,2795.4 L1879.1,2789.1 L1880.0,2781.3 L1881.0,2778.8 L1881.7,2775.5 L1881.9,2775.9 L1882.9,2778.0 L1883.8,2782.7 L1884.8,2791.3 L1885.8,2797.0 L1886.7,2801.8 L1887.7,2807.3 L1888.6,2812.9 L1889.6,2814.6 L1890.5,2815.2 L1891.5,2821.1 L1892.5,2823.3 L1893.4,2820.6 L1894.4,2824.7 L1895.3,2823.1 L1896.3,2826.2 L1897.2,2825.2 L1898.2,2826.4 L1899.2,2827.0 L1900.1,2824.9 L1901.1,2826.3 L1902.0,2825.7 L1903.0,2823.9 L1903.9,2826.2 L1904.9,2825.6 L1905.9,2825.2 L1906.8,2826.0 L1907.8,2828.0 L1908.7,2824.1 L1909.7,2825.7 L1910.6,2827.6 L1911.6,2826.2 L1912.6,2828.6 L1913.5,2828.2 L1914.5,2827.0 L1915.4,2826.9 L1916.4,2825.6 L1917.3,2825.2 L1918.3,2826.4 L1919.2,2828.2 L1920.2,2828.5 L1921.2,2827.5 L1922.1,2827.0 L1923.1,2828.5 L1924.0,2825.4 L1925.0,2829.0 L1925.9,2826.9 L1926.9,2829.1 L1927.9,2827.0 L1928.8,2827.6 L1929.8,2827.2 L1930.7,2830.2 L1931.7,2826.8 L1932.6,2826.1 L1933.6,2827.8 L1934.6,2827.8 L1935.5,2828.2 L1936.5,2825.2 L1937.4,2829.0 L1938.4,2826.6 L1939.3,2826.8 L1940.3,2826.1 L1941.3,2827.8 L1942.2,2827.5 L1943.2,2828.6 L1944.1,2826.9 L1945.1,2827.7 L1946.0,2828.6 L1947.0,2826.4 L1948.0,2828.8 L1948.9,2828.3 L1949.9,2829.5 L1950.8,2828.1 L1951.8,2828.5 L1952.7,2827.1 L1953.7,2829.1 L1954.7,2827.1 L1955.6,2827.2 L1956.6,2825.9 L1957.5,2829.3 L1958.5,2829.1 L1959.4,2829.2 L1960.4,2830.2 L1961.4,2827.8 L1962.3,2827.6 L1963.3,2825.2 L1964.2,2827.0 L1965.2,2828.0 L1966.1,2827.6 L1967.1,2827.4 L1968.1,2828.1 L1969.0,2827.1 L1970.0,2827.9 L1970.9,2828.7 L1971.9,2828.3 L1972.8,2829.2 L1973.8,2829.3 L1974.8,2828.4 L1975.7,2828.6 L1976.7,2829.2 L1977.6,2828.2 L1978.6,2828.8 L1979.5,2828.3 L1980.5,2829.6 L1981.5,2827.8 L1982.4,2827.9 L1983.4,2830.2 L1984.3,2828.8 L1985.3,2828.7 L1986.2,2828.8 L1987.2,2828.7 L1988.2,2829.6 L1989.1,2826.0 L1990.1,2826.2 L1991.0,2827.1 L1992.0,2827.5 L1992.9,2828.5 L1993.9,2827.8 L1994.9,2829.1 L1995.8,2828.2 L1996.8,2827.3 L1997.7,2828.5 L1998.7,2828.1 L1999.6,2828.2 L2000.6,2830.1 L2001.6,2825.8 L2002.5,2827.8 L2003.5,2828.1 L2004.4,2828.7 L2005.4,2826.5 L2006.3,2828.3 L2007.3,2826.9 L2008.3,2829.0 L2009.2,2828.9 L2010.2,2825.4 L2011.1,2828.6 L2012.1,2829.3 L2013.0,2826.4 L2014.0,2826.0 L2014.9,2824.5 L2015.9,2828.0 L2016.9,2827.0 L2017.8,2829.0 L2018.8,2828.3 L2019.7,2826.8 L2020.7,2828.7 L2021.6,2825.1 L2022.6,2827.6 L2023.6,2826.2 L2024.5,2826.8 L2025.5,2826.8 L2026.4,2827.7 L2027.4,2828.9 L2028.3,2828.7 L2029.3,2827.3 L2030.3,2826.4 L2031.2,2827.5 L2032.2,2826.6 L2033.1,2829.7 L2034.1,2828.1 L2035.0,2827.0 L2036.0,2827.6 L2037.0,2826.2 L2037.9,2828.1 L2038.9,2828.3 L2039.8,2827.2 L2040.8,2827.5 L2041.7,2827.0 L2042.7,2826.0 L2043.7,2827.2 L2044.6,2829.6 L2045.6,2827.7 L2046.5,2828.1 L2047.5,2826.4 L2048.4,2827.1 L2049.4,2828.0 L2050.4,2828.3 L2051.3,2828.1 L2052.3,2826.4 L2053.2,2826.7 L2054.2,2825.1 L2055.1,2825.6 L2056.1,2826.6 L2057.1,2827.7 L2058.0,2828.4 L2059.0,2828.8 L2059.9,2826.5 L2060.9,2826.4 L2061.8,2828.1 L2062.8,2827.9 L2063.8,2827.5 L2064.7,2826.9 L2065.7,2826.9 L2066.6,2826.3 L2067.6,2828.5 L2068.5,2827.6 L2069.5,2827.2 L2070.5,2827.3 L2071.4,2825.5 L2072.4,2826.1 L2073.3,2824.9 L2074.3,2825.8 L2075.2,2825.8 L2076.2,2826.0 L2077.2,2825.4 L2078.1,2826.6 L2079.1,2826.6 L2080.0,2827.1 L2081.0,2827.2 L2081.9,2826.5 L2082.9,2825.7 L2083.9,2825.3 L2084.8,2826.9 L2085.8,2826.9 L2086.7,2825.9 L2087.7,2827.7 L2088.6,2825.4 L2089.6,2826.7 L2090.6,2827.1 L2091.5,2827.9 L2092.5,2826.4 L2093.4,2826.4 L2094.4,2825.2 L2095.3,2825.2 L2096.3,2825.0 L2097.3,2825.5 L2098.2,2826.9 L2099.2,2825.1 L2100.1,2824.7 L2101.1,2825.5 L2102.0,2826.0 L2103.0,2825.5 L2104.0,2823.3 L2104.9,2823.6 L2105.9,2824.2 L2106.8,2819.7 L2107.8,2819.8 L2108.7,2815.8 L2109.7,2818.1 L2110.6,2814.0 L2111.6,2812.1 L2112.6,2810.4 L2113.5,2807.9 L2114.5,2807.4 L2114.5,2806.3 L2115.4,2807.8 L2116.4,2808.6 L2117.3,2812.2 L2118.3,2812.2 L2119.3,2817.6 L2120.2,2819.4 L2121.2,2818.3 L2122.1,2819.7 L2123.1,2822.8 L2124.0,2823.3 L2125.0,2821.7 L2126.0,2823.4 L2126.9,2824.0 L2127.9,2826.7 L2128.8,2825.0 L2129.8,2826.4 L2130.7,2826.2 L2131.7,2827.0 L2132.7,2824.1 L2133.6,2827.6 L2134.6,2826.8 L2135.5,2825.3 L2136.5,2825.5 L2137.4,2826.3 L2138.4,2826.4 L2139.4,2824.8 L2140.3,2827.8 L2141.3,2824.7 L2142.2,2827.6 L2143.2,2826.5 L2144.1,2827.2 L2145.1,2825.9 L2146.1,2826.7 L2147.0,2826.2 L2148.0,2829.7 L2148.9,2825.3 L2149.9,2827.1 L2150.8,2826.7 L2151.8,2826.0 L2152.8,2828.1 L2153.7,2828.6 L2154.7,2826.0 L2155.6,2827.4 L2156.6,2825.6 L2157.5,2825.5 L2158.5,2827.1" fill="none" stroke="#008000" stroke-width="8" stroke-linejoin="round"/>
<rect x="244.5" y="1901" width="1914" height="1407.5" fill="none" stroke="#000" stroke-width="11.5"/>
<line x1="244.5" y1="3308.5" x2="244.5" y2="3335" stroke="#000" stroke-width="11" stroke-linecap="round"/>
<text x="244.5" y="3411.8" font-family="Liberation Sans, Arial, sans-serif" font-size="74" text-anchor="middle">20</text>
<line x1="435.9" y1="3308.5" x2="435.9" y2="3335" stroke="#000" stroke-width="11" stroke-linecap="round"/>
<text x="435.9" y="3411.8" font-family="Liberation Sans, Arial, sans-serif" font-size="74" text-anchor="middle">25</text>
<line x1="627.3" y1="3308.5" x2="627.3" y2="3335" stroke="#000" stroke-width="11" stroke-linecap="round"/>
<text x="627.3" y="3411.8" font-family="Liberation Sans, Arial, sans-serif" font-size="74" text-anchor="middle">30</text>
<line x1="818.7" y1="3308.5" x2="818.7" y2="3335" stroke="#000" stroke-width="11" stroke-linecap="round"/>
<text x="818.7" y="3411.8" font-family="Liberation Sans, Arial, sans-serif" font-size="74" text-anchor="middle">35</text>
<line x1="1010.1" y1="3308.5" x2="1010.1" y2="3335" stroke="#000" stroke-width="11" stroke-linecap="round"/>
<text x="1010.1" y="3411.8" font-family="Liberation Sans, Arial, sans-serif" font-size="74" text-anchor="middle">40</text>
<line x1="1201.5" y1="3308.5" x2="1201.5" y2="3335" stroke="#000" stroke-width="11" stroke-linecap="round"/>
<text x="1201.5" y="3411.8" font-family="Liberation Sans, Arial, sans-serif" font-size="74" text-anchor="middle">45</text>
<line x1="1392.9" y1="3308.5" x2="1392.9" y2="3335" stroke="#000" stroke-width="11" stroke-linecap="round"/>
<text x="1392.9" y="3411.8" font-family="Liberation Sans, Arial, sans-serif" font-size="74" text-anchor="middle">50</text>
<line x1="1584.3" y1="3308.5" x2="1584.3" y2="3335" stroke="#000" stroke-width="11" stroke-linecap="round"/>
<text x="1584.3" y="3411.8" font-family="Liberation Sans, Arial, sans-serif" font-size="74" text-anchor="middle">55</text>
<line x1="1775.7" y1="3308.5" x2="1775.7" y2="3335" stroke="#000" stroke-width="11" stroke-linecap="round"/>
<text x="1775.7" y="3411.8" font-family="Liberation Sans, Arial, sans-serif" font-size="74" text-anchor="middle">60</text>
<line x1="1967.1" y1="3308.5" x2="1967.1" y2="3335" stroke="#000" stroke-width="11" stroke-linecap="round"/>
<text x="1967.1" y="3411.8" font-family="Liberation Sans, Arial, sans-serif" font-size="74" text-anchor="middle">65</text>
<line x1="2158.5" y1="3308.5" x2="2158.5" y2="3335" stroke="#000" stroke-width="11" stroke-linecap="round"/>
<text x="2158.5" y="3411.8" font-family="Liberation Sans, Arial, sans-serif" font-size="74" text-anchor="middle">70</text>
<line x1="340.2" y1="3308.5" x2="340.2" y2="3322" stroke="#000" stroke-width="11" stroke-linecap="round"/>
<line x1="531.6" y1="3308.5" x2="531.6" y2="3322" stroke="#000" stroke-width="11" stroke-linecap="round"/>
<line x1="723.0" y1="3308.5" x2="723.0" y2="3322" stroke="#000" stroke-width="11" stroke-linecap="round"/>
<line x1="914.4" y1="3308.5" x2="914.4" y2="3322" stroke="#000" stroke-width="11" stroke-linecap="round"/>
<line x1="1105.8" y1="3308.5" x2="1105.8" y2="3322" stroke="#000" stroke-width="11" stroke-linecap="round"/>
<line x1="1297.2" y1="3308.5" x2="1297.2" y2="3322" stroke="#000" stroke-width="11" stroke-linecap="round"/>
<line x1="1488.6" y1="3308.5" x2="1488.6" y2="3322" stroke="#000" stroke-width="11" stroke-linecap="round"/>
<line x1="1680.0" y1="3308.5" x2="1680.0" y2="3322" stroke="#000" stroke-width="11" stroke-linecap="round"/>
<line x1="1871.4" y1="3308.5" x2="1871.4" y2="3322" stroke="#000" stroke-width="11" stroke-linecap="round"/>
<line x1="2062.8" y1="3308.5" x2="2062.8" y2="3322" stroke="#000" stroke-width="11" stroke-linecap="round"/>
<text x="1201.5" y="3545.7" font-family="Liberation Sans, Arial, sans-serif" font-size="84" font-weight="bold" text-anchor="middle">2 Theta, degrees</text>
<text transform="translate(108.2,2656) rotate(-90)" font-family="Liberation Sans, Arial, sans-serif" font-size="83" font-weight="bold" text-anchor="middle">Intensity (a. u.)</text>
<text x="274.5" y="1996.5" font-family="Liberation Sans, Arial, sans-serif" font-size="76" font-weight="bold" font-style="italic">b)</text>
<line x1="576" y1="1981.6" x2="732" y2="1981.6" stroke="#000000" stroke-width="8" stroke-linecap="round"/>
<text x="753" y="2006.9" font-family="Liberation Sans, Arial, sans-serif" font-size="70">1.0 Cu/Ti 400</text>
<line x1="576" y1="2067.8" x2="732" y2="2067.8" stroke="#ff0000" stroke-width="8" stroke-linecap="round"/>
<text x="753" y="2093.1" font-family="Liberation Sans, Arial, sans-serif" font-size="70">1.0 Cu/Ti 450</text>
<line x1="576" y1="2154.0" x2="732" y2="2154.0" stroke="#0000ff" stroke-width="8" stroke-linecap="round"/>
<text x="753" y="2179.3" font-family="Liberation Sans, Arial, sans-serif" font-size="70">1.0 Cu/Ti 500</text>
<line x1="576" y1="2240.2" x2="732" y2="2240.2" stroke="#ff8000" stroke-width="8" stroke-linecap="round"/>
<text x="753" y="2265.5" font-family="Liberation Sans, Arial, sans-serif" font-size="70">1.0 Cu/Ti 550</text>
<line x1="576" y1="2326.4" x2="732" y2="2326.4" stroke="#008000" stroke-width="8" stroke-linecap="round"/>
<text x="753" y="2351.7" font-family="Liberation Sans, Arial, sans-serif" font-size="70">1.0 Cu/Ti 600</text>
<text transform="translate(423,2189.5) rotate(-90)" font-family="Liberation Sans, Arial, sans-serif" font-size="70.7">A (101)</text>
<text transform="translate(688.1,2797.2) rotate(-90)" font-family="Liberation Sans, Arial, sans-serif" font-size="68.4">B (121)</text>
<text transform="translate(940.7,2651.5) rotate(-90)" font-family="Liberation Sans, Arial, sans-serif" font-size="65.1">A (404)</text>
<text transform="translate(1284.6,2801.2) rotate(-90)" font-family="Liberation Sans, Arial, sans-serif" font-size="70">A (200)</text>
<text transform="translate(1505.9,2813.7) rotate(-90)" font-family="Liberation Sans, Arial, sans-serif" font-size="70">A (105)</text>
<text transform="translate(1666.1,2812.9) rotate(-90)" font-family="Liberation Sans, Arial, sans-serif" font-size="70">A (211)</text>
<text transform="translate(1954.5,2814.7) rotate(-90)" font-family="Liberation Sans, Arial, sans-serif" font-size="69.5">A (204)</text>
<text transform="translate(872.3,2790.7) rotate(-90)" font-family="Liberation Sans, Arial, sans-serif" font-size="66.3">Cu<tspan font-size="39.4" dy="21.8">2</tspan><tspan dy="-21.8">O (111)</tspan></text>
<text transform="translate(1015.4,2787.5) rotate(-90)" font-family="Liberation Sans, Arial, sans-serif" font-size="67.4">CuO (111)</text>
<rect x="1272" y="1930" width="858" height="523.6" fill="#fff" stroke="none"/>
<clipPath id="cib"><rect x="1272" y="1930" width="858" height="523.6"/></clipPath>
<path clip-path="url(#cib)" d="M1259.2,2433.9 L1260.5,2434.0 L1261.8,2434.6 L1263.1,2434.3 L1264.4,2433.4 L1265.7,2434.0 L1267.0,2433.8 L1268.3,2434.0 L1269.6,2433.4 L1270.9,2434.0 L1272.2,2434.0 L1273.5,2434.4 L1274.8,2434.0 L1276.1,2434.0 L1277.4,2433.3 L1278.7,2434.6 L1280.0,2433.1 L1281.3,2434.1 L1282.6,2433.6 L1283.9,2433.4 L1285.2,2433.4 L1286.5,2433.4 L1287.8,2433.8 L1289.1,2433.6 L1290.4,2434.1 L1291.7,2432.9 L1293.0,2433.5 L1294.3,2433.2 L1295.6,2433.8 L1296.9,2432.7 L1298.2,2433.3 L1299.5,2433.5 L1300.8,2432.9 L1302.1,2433.7 L1303.4,2433.4 L1304.7,2433.6 L1306.0,2433.6 L1307.3,2432.9 L1308.6,2432.9 L1309.9,2433.1 L1311.2,2433.4 L1312.5,2433.4 L1313.8,2432.9 L1315.1,2432.9 L1316.4,2432.8 L1317.7,2432.8 L1319.0,2432.9 L1320.3,2432.9 L1321.6,2433.6 L1322.9,2432.7 L1324.2,2432.8 L1325.5,2433.0 L1326.8,2432.5 L1328.1,2432.6 L1329.4,2432.7 L1330.7,2433.0 L1332.0,2432.2 L1333.3,2433.1 L1334.6,2432.5 L1335.9,2432.6 L1337.2,2432.8 L1338.5,2432.7 L1339.8,2432.8 L1341.1,2432.5 L1342.4,2432.4 L1343.7,2432.5 L1345.0,2432.0 L1346.3,2432.7 L1347.6,2432.0 L1348.9,2431.8 L1350.2,2432.9 L1351.5,2432.1 L1352.8,2431.7 L1354.1,2432.7 L1355.4,2431.9 L1356.7,2432.3 L1358.0,2431.6 L1359.3,2431.8 L1360.6,2431.3 L1361.9,2431.1 L1363.2,2431.4 L1364.5,2431.7 L1365.8,2432.0 L1367.1,2432.5 L1368.4,2431.2 L1369.7,2431.9 L1371.0,2431.3 L1372.3,2431.4 L1373.6,2430.9 L1374.9,2430.8 L1376.2,2431.0 L1377.5,2430.8 L1378.8,2431.2 L1380.1,2430.9 L1381.4,2431.6 L1382.7,2431.1 L1384.0,2431.1 L1385.3,2431.4 L1386.6,2431.1 L1387.9,2430.9 L1389.2,2430.8 L1390.5,2430.7 L1391.8,2431.1 L1393.1,2430.9 L1394.4,2430.7 L1395.7,2430.8 L1397.0,2430.3 L1398.3,2430.6 L1399.6,2429.9 L1400.9,2430.8 L1402.2,2430.3 L1403.5,2430.3 L1404.8,2430.3 L1406.1,2430.1 L1407.4,2429.9 L1408.7,2430.4 L1410.0,2429.9 L1411.3,2429.5 L1412.6,2429.9 L1413.9,2429.1 L1415.2,2430.2 L1416.5,2429.5 L1417.8,2429.5 L1419.1,2430.2 L1420.4,2430.1 L1421.7,2429.3 L1423.0,2429.4 L1424.3,2429.5 L1425.6,2429.7 L1426.9,2429.0 L1428.2,2429.0 L1429.5,2429.3 L1430.8,2428.9 L1432.1,2429.0 L1433.4,2428.8 L1434.7,2428.2 L1436.0,2428.2 L1437.3,2427.5 L1438.6,2428.2 L1439.9,2428.7 L1441.2,2427.8 L1442.5,2428.5 L1443.8,2428.3 L1445.1,2427.9 L1446.4,2427.8 L1447.7,2427.7 L1449.0,2427.3 L1450.3,2427.4 L1451.6,2427.4 L1452.9,2427.6 L1454.2,2427.5 L1455.5,2426.9 L1456.8,2427.4 L1458.1,2426.7 L1459.4,2426.8 L1460.7,2426.9 L1462.0,2426.7 L1463.3,2426.5 L1464.6,2426.6 L1465.9,2426.2 L1467.2,2426.0 L1468.5,2426.1 L1469.8,2426.4 L1471.1,2425.9 L1472.4,2426.5 L1473.7,2425.8 L1475.0,2424.6 L1476.3,2425.3 L1477.6,2426.0 L1478.9,2425.3 L1480.2,2425.0 L1481.5,2424.7 L1482.8,2425.4 L1484.1,2425.1 L1485.4,2424.9 L1486.7,2424.7 L1488.0,2424.9 L1489.3,2424.5 L1490.6,2423.7 L1491.9,2424.3 L1493.2,2423.9 L1494.5,2423.7 L1495.8,2423.9 L1497.1,2423.5 L1498.4,2422.3 L1499.7,2423.7 L1501.0,2423.4 L1502.3,2422.8 L1503.6,2422.6 L1504.9,2422.6 L1506.2,2422.0 L1507.5,2422.4 L1508.8,2422.0 L1510.1,2421.8 L1511.4,2421.5 L1512.7,2421.4 L1514.0,2421.8 L1515.3,2421.8 L1516.6,2421.3 L1517.9,2420.9 L1519.2,2420.5 L1520.5,2420.9 L1521.8,2421.0 L1523.1,2419.7 L1524.4,2420.5 L1525.7,2419.1 L1527.0,2419.6 L1528.3,2419.6 L1529.6,2418.8 L1530.9,2418.6 L1532.2,2419.0 L1533.5,2419.0 L1534.8,2418.3 L1536.1,2418.8 L1537.4,2417.8 L1538.7,2418.5 L1540.0,2417.7 L1541.3,2417.5 L1542.6,2417.5 L1543.9,2417.1 L1545.2,2417.5 L1546.5,2417.4 L1547.8,2416.5 L1549.1,2416.1 L1550.4,2415.5 L1551.7,2415.4 L1553.0,2415.4 L1554.3,2415.1 L1555.6,2414.9 L1556.9,2414.7 L1558.2,2414.6 L1559.5,2413.7 L1560.8,2413.5 L1562.1,2414.0 L1563.4,2413.7 L1564.7,2412.9 L1566.0,2413.3 L1567.3,2412.3 L1568.6,2412.2 L1569.9,2411.4 L1571.2,2412.0 L1572.5,2411.4 L1573.8,2411.5 L1575.1,2411.1 L1576.4,2410.6 L1577.7,2410.3 L1579.0,2410.4 L1580.3,2409.6 L1581.6,2409.3 L1582.9,2409.0 L1584.2,2409.0 L1585.5,2408.7 L1586.8,2408.7 L1588.1,2407.7 L1589.4,2407.8 L1590.7,2406.8 L1592.0,2406.9 L1593.3,2406.4 L1594.6,2406.6 L1595.9,2405.9 L1597.2,2405.1 L1598.5,2405.1 L1599.8,2404.7 L1601.1,2404.1 L1602.4,2403.7 L1603.7,2403.1 L1605.0,2404.0 L1606.3,2402.7 L1607.6,2402.6 L1608.9,2401.5 L1610.2,2401.1 L1611.5,2401.0 L1612.8,2400.6 L1614.1,2400.6 L1615.4,2399.5 L1616.7,2399.6 L1618.0,2399.6 L1619.3,2398.3 L1620.6,2398.5 L1621.9,2397.4 L1623.2,2397.4 L1624.5,2397.0 L1625.8,2397.1 L1627.1,2395.8 L1628.4,2395.6 L1629.7,2395.5 L1631.0,2394.2 L1632.3,2394.2 L1633.6,2393.4 L1634.9,2393.0 L1636.2,2393.0 L1637.5,2392.6 L1638.8,2392.8 L1640.1,2391.9 L1641.4,2391.4 L1642.7,2390.4 L1644.0,2389.8 L1645.3,2389.5 L1646.6,2388.2 L1647.9,2389.1 L1649.2,2387.7 L1650.5,2387.1 L1651.8,2386.8 L1653.1,2386.8 L1654.4,2386.4 L1655.7,2385.4 L1657.0,2385.2 L1658.3,2384.5 L1659.6,2383.7 L1660.9,2383.6 L1662.2,2383.0 L1663.5,2382.0 L1664.8,2382.4 L1666.1,2381.0 L1667.4,2381.1 L1668.7,2380.1 L1670.0,2379.7 L1671.3,2379.3 L1672.6,2379.3 L1673.9,2378.1 L1675.2,2378.0 L1676.5,2378.1 L1677.8,2376.9 L1679.1,2376.6 L1680.4,2376.4 L1681.7,2375.5 L1683.0,2375.4 L1684.3,2374.5 L1685.6,2374.6 L1686.9,2373.9 L1688.2,2373.1 L1689.5,2373.5 L1690.8,2372.5 L1692.1,2372.1 L1693.4,2371.4 L1694.7,2371.2 L1696.0,2370.9 L1697.3,2370.6 L1698.6,2370.6 L1699.9,2369.3 L1701.2,2369.3 L1702.5,2369.5 L1703.8,2368.8 L1705.1,2368.6 L1706.4,2368.7 L1707.7,2367.9 L1709.0,2367.7 L1710.3,2367.2 L1711.6,2367.6 L1712.9,2367.1 L1714.2,2366.2 L1715.5,2366.4 L1716.8,2365.6 L1718.1,2366.2 L1719.4,2365.8 L1720.7,2365.4 L1722.0,2365.1 L1723.3,2364.5 L1724.6,2365.2 L1725.9,2364.8 L1727.2,2364.6 L1728.5,2364.9 L1729.8,2364.4 L1731.1,2364.3 L1732.4,2364.3 L1733.7,2364.0 L1735.0,2365.3 L1736.3,2364.4 L1737.6,2364.4 L1738.9,2364.8 L1740.2,2363.5 L1741.5,2364.6 L1742.8,2364.7 L1744.1,2364.5 L1745.4,2365.1 L1746.7,2364.3 L1748.0,2365.2 L1749.3,2365.7 L1750.6,2364.7 L1751.9,2365.2 L1753.2,2365.8 L1754.5,2366.1 L1755.8,2366.1 L1757.1,2366.7 L1758.4,2366.9 L1759.7,2366.6 L1761.0,2367.3 L1762.3,2367.2 L1763.6,2367.2 L1764.9,2367.4 L1766.2,2368.9 L1767.5,2368.9 L1768.8,2369.9 L1770.1,2369.1 L1771.4,2369.9 L1772.7,2370.5 L1774.0,2370.7 L1775.3,2371.3 L1776.6,2371.6 L1777.9,2371.8 L1779.2,2371.6 L1780.5,2372.5 L1781.8,2373.9 L1783.1,2374.0 L1784.4,2374.7 L1785.7,2374.4 L1787.0,2375.0 L1788.3,2375.3 L1789.6,2376.2 L1790.9,2376.5 L1792.2,2377.2 L1793.5,2378.1 L1794.8,2377.7 L1796.1,2378.7 L1797.4,2378.5 L1798.7,2379.8 L1800.0,2379.8 L1801.3,2380.4 L1802.6,2381.0 L1803.9,2382.1 L1805.2,2382.0 L1806.5,2382.3 L1807.8,2382.6 L1809.1,2383.6 L1810.4,2383.7 L1811.7,2384.4 L1813.0,2385.0 L1814.3,2385.8 L1815.6,2385.8 L1816.9,2386.8 L1818.2,2387.7 L1819.5,2387.1 L1820.8,2388.6 L1822.1,2389.4 L1823.4,2388.9 L1824.7,2389.8 L1826.0,2389.6 L1827.3,2390.7 L1828.6,2391.0 L1829.9,2391.7 L1831.2,2391.8 L1832.5,2392.3 L1833.8,2392.9 L1835.1,2393.3 L1836.4,2393.8 L1837.7,2394.4 L1839.0,2394.6 L1840.3,2395.4 L1841.6,2396.1 L1842.9,2395.6 L1844.2,2396.9 L1845.5,2397.0 L1846.8,2397.3 L1848.1,2397.7 L1849.4,2398.3 L1850.7,2398.8 L1852.0,2399.6 L1853.3,2399.5 L1854.6,2400.7 L1855.9,2400.5 L1857.2,2401.5 L1858.5,2402.0 L1859.8,2401.6 L1861.1,2402.9 L1862.4,2403.7 L1863.7,2403.1 L1865.0,2403.9 L1866.3,2404.1 L1867.6,2404.5 L1868.9,2404.8 L1870.2,2405.1 L1871.5,2405.9 L1872.8,2406.4 L1874.1,2406.4 L1875.4,2407.3 L1876.7,2407.5 L1878.0,2407.8 L1879.3,2407.6 L1880.6,2408.9 L1881.9,2409.1 L1883.2,2408.2 L1884.5,2408.9 L1885.8,2409.5 L1887.1,2410.3 L1888.4,2410.7 L1889.7,2410.5 L1891.0,2411.0 L1892.3,2411.5 L1893.6,2411.2 L1894.9,2412.1 L1896.2,2412.1 L1897.5,2412.6 L1898.8,2412.8 L1900.1,2412.7 L1901.4,2413.1 L1902.7,2413.8 L1904.0,2414.1 L1905.3,2414.2 L1906.6,2415.0 L1907.9,2414.8 L1909.2,2414.7 L1910.5,2415.3 L1911.8,2415.6 L1913.1,2415.9 L1914.4,2416.6 L1915.7,2416.7 L1917.0,2417.1 L1918.3,2417.2 L1919.6,2417.2 L1920.9,2417.9 L1922.2,2417.7 L1923.5,2418.1 L1924.8,2417.9 L1926.1,2418.5 L1927.4,2418.6 L1928.7,2419.1 L1930.0,2419.8 L1931.3,2420.2 L1932.6,2420.0 L1933.9,2419.8 L1935.2,2420.4 L1936.5,2420.4 L1937.8,2420.3 L1939.1,2420.7 L1940.4,2420.8 L1941.7,2420.9 L1943.0,2421.8 L1944.3,2421.4 L1945.6,2421.6 L1946.9,2422.2 L1948.2,2421.9 L1949.5,2421.9 L1950.8,2422.2 L1952.1,2422.9 L1953.4,2423.0 L1954.7,2423.2 L1956.0,2423.1 L1957.3,2423.1 L1958.6,2423.9 L1959.9,2423.3 L1961.2,2423.9 L1962.5,2423.7 L1963.8,2424.2 L1965.1,2424.4 L1966.4,2425.1 L1967.7,2423.8 L1969.0,2425.4 L1970.3,2424.8 L1971.6,2425.4 L1972.9,2425.7 L1974.2,2425.3 L1975.5,2425.7 L1976.8,2426.1 L1978.1,2426.0 L1979.4,2425.9 L1980.7,2426.4 L1982.0,2426.5 L1983.3,2426.1 L1984.6,2427.2 L1985.9,2427.0 L1987.2,2426.2 L1988.5,2426.9 L1989.8,2427.9 L1991.1,2428.0 L1992.4,2427.7 L1993.7,2427.1 L1995.0,2427.7 L1996.3,2428.3 L1997.6,2428.2 L1998.9,2428.1 L2000.2,2428.1 L2001.5,2428.7 L2002.8,2428.5 L2004.1,2428.8 L2005.4,2429.0 L2006.7,2429.5 L2008.0,2429.1 L2009.3,2429.2 L2010.6,2428.6 L2011.9,2429.8 L2013.2,2429.8 L2014.5,2429.6 L2015.8,2428.9 L2017.1,2429.6 L2018.4,2429.9 L2019.7,2430.7 L2021.0,2430.3 L2022.3,2430.5 L2023.6,2430.6 L2024.9,2430.9 L2026.2,2430.1 L2027.5,2430.3 L2028.8,2430.3 L2030.1,2430.7 L2031.4,2430.8 L2032.7,2431.0 L2034.0,2430.7 L2035.3,2431.2 L2036.6,2431.0 L2037.9,2432.1 L2039.2,2431.3 L2040.5,2432.4 L2041.8,2432.2 L2043.1,2431.3 L2044.4,2432.1 L2045.7,2432.1 L2047.0,2431.4 L2048.3,2432.3 L2049.6,2432.1 L2050.9,2432.3 L2052.2,2432.0 L2053.5,2432.3 L2054.8,2432.6 L2056.1,2432.5 L2057.4,2432.4 L2058.7,2432.6 L2060.0,2432.4 L2061.3,2433.0 L2062.6,2432.0 L2063.9,2433.5 L2065.2,2433.1 L2066.5,2433.3 L2067.8,2433.5 L2069.1,2432.8 L2070.4,2434.1 L2071.7,2433.0 L2073.0,2433.6 L2074.3,2433.7 L2075.6,2434.1 L2076.9,2433.7 L2078.2,2433.3 L2079.5,2433.9 L2080.8,2433.0 L2082.1,2433.9 L2083.4,2433.8 L2084.7,2434.6 L2086.0,2434.0 L2087.3,2434.0 L2088.6,2434.0 L2089.9,2434.0 L2091.2,2434.2 L2092.5,2434.7 L2093.8,2434.0 L2095.1,2434.5 L2096.4,2434.1 L2097.7,2434.6 L2099.0,2434.8 L2100.3,2434.4 L2101.6,2434.6 L2102.9,2434.9 L2104.2,2435.2 L2105.5,2435.3 L2106.8,2435.0 L2108.1,2434.8 L2109.4,2434.6 L2110.7,2435.5 L2112.0,2435.8 L2113.3,2435.5 L2114.6,2435.9 L2115.9,2435.3 L2117.2,2435.4 L2118.5,2436.1 L2119.8,2435.2 L2121.1,2435.9 L2122.4,2435.8 L2123.7,2435.8 L2125.0,2436.4 L2126.3,2435.5 L2127.6,2435.7 L2128.9,2435.2 L2130.2,2435.6 L2131.5,2435.9 L2132.8,2435.9 L2134.1,2436.1 L2135.4,2436.3 L2136.7,2436.0 L2138.0,2435.6 L2139.3,2436.4 L2140.6,2436.5 L2141.9,2436.0 L2143.2,2436.2" fill="none" stroke="#000000" stroke-width="8" stroke-linejoin="round"/>
<path clip-path="url(#cib)" d="M1259.2,2425.6 L1260.5,2425.7 L1261.8,2426.3 L1263.1,2426.0 L1264.4,2425.2 L1265.7,2425.7 L1267.0,2425.5 L1268.3,2425.7 L1269.6,2425.1 L1270.9,2425.7 L1272.2,2425.7 L1273.5,2426.2 L1274.8,2425.7 L1276.1,2425.8 L1277.4,2425.0 L1278.7,2426.3 L1280.0,2424.9 L1281.3,2425.9 L1282.6,2425.4 L1283.9,2425.2 L1285.2,2425.2 L1286.5,2425.2 L1287.8,2425.6 L1289.1,2425.4 L1290.4,2425.9 L1291.7,2424.7 L1293.0,2425.4 L1294.3,2425.0 L1295.6,2425.6 L1296.9,2424.6 L1298.2,2425.2 L1299.5,2425.3 L1300.8,2424.7 L1302.1,2425.6 L1303.4,2425.3 L1304.7,2425.5 L1306.0,2425.5 L1307.3,2424.8 L1308.6,2424.8 L1309.9,2425.0 L1311.2,2425.3 L1312.5,2425.3 L1313.8,2424.8 L1315.1,2424.8 L1316.4,2424.7 L1317.7,2424.7 L1319.0,2424.8 L1320.3,2424.8 L1321.6,2425.6 L1322.9,2424.7 L1324.2,2424.7 L1325.5,2424.9 L1326.8,2424.4 L1328.1,2424.6 L1329.4,2424.7 L1330.7,2424.9 L1332.0,2424.2 L1333.3,2425.1 L1334.6,2424.5 L1335.9,2424.6 L1337.2,2424.8 L1338.5,2424.7 L1339.8,2424.8 L1341.1,2424.5 L1342.4,2424.4 L1343.7,2424.5 L1345.0,2424.0 L1346.3,2424.7 L1347.6,2424.0 L1348.9,2423.8 L1350.2,2424.9 L1351.5,2424.1 L1352.8,2423.7 L1354.1,2424.7 L1355.4,2423.9 L1356.7,2424.4 L1358.0,2423.7 L1359.3,2423.9 L1360.6,2423.3 L1361.9,2423.2 L1363.2,2423.5 L1364.5,2423.8 L1365.8,2424.0 L1367.1,2424.6 L1368.4,2423.3 L1369.7,2424.0 L1371.0,2423.4 L1372.3,2423.5 L1373.6,2423.0 L1374.9,2422.9 L1376.2,2423.1 L1377.5,2422.9 L1378.8,2423.3 L1380.1,2423.0 L1381.4,2423.7 L1382.7,2423.2 L1384.0,2423.2 L1385.3,2423.5 L1386.6,2423.2 L1387.9,2423.0 L1389.2,2422.9 L1390.5,2422.8 L1391.8,2423.2 L1393.1,2423.0 L1394.4,2422.8 L1395.7,2422.9 L1397.0,2422.4 L1398.3,2422.7 L1399.6,2422.0 L1400.9,2422.9 L1402.2,2422.4 L1403.5,2422.4 L1404.8,2422.5 L1406.1,2422.2 L1407.4,2422.0 L1408.7,2422.5 L1410.0,2422.0 L1411.3,2421.6 L1412.6,2422.0 L1413.9,2421.2 L1415.2,2422.3 L1416.5,2421.6 L1417.8,2421.6 L1419.1,2422.3 L1420.4,2422.2 L1421.7,2421.4 L1423.0,2421.5 L1424.3,2421.6 L1425.6,2421.8 L1426.9,2421.1 L1428.2,2421.1 L1429.5,2421.4 L1430.8,2421.0 L1432.1,2421.1 L1433.4,2420.9 L1434.7,2420.2 L1436.0,2420.3 L1437.3,2419.5 L1438.6,2420.3 L1439.9,2420.8 L1441.2,2419.8 L1442.5,2420.6 L1443.8,2420.4 L1445.1,2419.9 L1446.4,2419.9 L1447.7,2419.8 L1449.0,2419.4 L1450.3,2419.5 L1451.6,2419.5 L1452.9,2419.6 L1454.2,2419.6 L1455.5,2418.9 L1456.8,2419.4 L1458.1,2418.7 L1459.4,2418.8 L1460.7,2418.9 L1462.0,2418.7 L1463.3,2418.5 L1464.6,2418.6 L1465.9,2418.2 L1467.2,2418.0 L1468.5,2418.1 L1469.8,2418.4 L1471.1,2417.9 L1472.4,2418.5 L1473.7,2417.8 L1475.0,2416.5 L1476.3,2417.3 L1477.6,2417.9 L1478.9,2417.2 L1480.2,2416.9 L1481.5,2416.6 L1482.8,2417.3 L1484.1,2417.0 L1485.4,2416.8 L1486.7,2416.6 L1488.0,2416.8 L1489.3,2416.4 L1490.6,2415.6 L1491.9,2416.1 L1493.2,2415.8 L1494.5,2415.6 L1495.8,2415.7 L1497.1,2415.3 L1498.4,2414.1 L1499.7,2415.6 L1501.0,2415.2 L1502.3,2414.7 L1503.6,2414.4 L1504.9,2414.5 L1506.2,2413.8 L1507.5,2414.2 L1508.8,2413.8 L1510.1,2413.6 L1511.4,2413.3 L1512.7,2413.2 L1514.0,2413.6 L1515.3,2413.5 L1516.6,2413.1 L1517.9,2412.7 L1519.2,2412.2 L1520.5,2412.6 L1521.8,2412.7 L1523.1,2411.4 L1524.4,2412.2 L1525.7,2410.9 L1527.0,2411.3 L1528.3,2411.4 L1529.6,2410.6 L1530.9,2410.3 L1532.2,2410.7 L1533.5,2410.8 L1534.8,2410.1 L1536.1,2410.5 L1537.4,2409.6 L1538.7,2410.2 L1540.0,2409.4 L1541.3,2409.3 L1542.6,2409.2 L1543.9,2408.9 L1545.2,2409.2 L1546.5,2409.1 L1547.8,2408.3 L1549.1,2407.8 L1550.4,2407.2 L1551.7,2407.1 L1553.0,2407.1 L1554.3,2406.9 L1555.6,2406.6 L1556.9,2406.4 L1558.2,2406.3 L1559.5,2405.4 L1560.8,2405.3 L1562.1,2405.8 L1563.4,2405.4 L1564.7,2404.7 L1566.0,2405.0 L1567.3,2404.1 L1568.6,2403.9 L1569.9,2403.1 L1571.2,2403.8 L1572.5,2403.2 L1573.8,2403.3 L1575.1,2402.9 L1576.4,2402.3 L1577.7,2402.1 L1579.0,2402.1 L1580.3,2401.3 L1581.6,2401.0 L1582.9,2400.8 L1584.2,2400.7 L1585.5,2400.4 L1586.8,2400.4 L1588.1,2399.4 L1589.4,2399.5 L1590.7,2398.5 L1592.0,2398.6 L1593.3,2398.1 L1594.6,2398.3 L1595.9,2397.5 L1597.2,2396.8 L1598.5,2396.8 L1599.8,2396.3 L1601.1,2395.7 L1602.4,2395.3 L1603.7,2394.7 L1605.0,2395.5 L1606.3,2394.2 L1607.6,2394.1 L1608.9,2392.9 L1610.2,2392.5 L1611.5,2392.4 L1612.8,2391.9 L1614.1,2391.8 L1615.4,2390.7 L1616.7,2390.7 L1618.0,2390.6 L1619.3,2389.3 L1620.6,2389.4 L1621.9,2388.2 L1623.2,2388.2 L1624.5,2387.6 L1625.8,2387.6 L1627.1,2386.2 L1628.4,2385.9 L1629.7,2385.6 L1631.0,2384.3 L1632.3,2384.1 L1633.6,2383.2 L1634.9,2382.6 L1636.2,2382.5 L1637.5,2381.9 L1638.8,2381.9 L1640.1,2380.8 L1641.4,2380.1 L1642.7,2378.9 L1644.0,2378.2 L1645.3,2377.6 L1646.6,2376.1 L1647.9,2376.7 L1649.2,2375.2 L1650.5,2374.3 L1651.8,2373.7 L1653.1,2373.4 L1654.4,2372.8 L1655.7,2371.4 L1657.0,2370.9 L1658.3,2369.9 L1659.6,2368.7 L1660.9,2368.3 L1662.2,2367.4 L1663.5,2366.0 L1664.8,2366.0 L1666.1,2364.2 L1667.4,2363.9 L1668.7,2362.6 L1670.0,2361.8 L1671.3,2360.9 L1672.6,2360.4 L1673.9,2358.8 L1675.2,2358.2 L1676.5,2357.9 L1677.8,2356.1 L1679.1,2355.4 L1680.4,2354.7 L1681.7,2353.3 L1683.0,2352.6 L1684.3,2351.3 L1685.6,2350.8 L1686.9,2349.6 L1688.2,2348.2 L1689.5,2348.1 L1690.8,2346.6 L1692.1,2345.5 L1693.4,2344.3 L1694.7,2343.5 L1696.0,2342.7 L1697.3,2341.8 L1698.6,2341.2 L1699.9,2339.5 L1701.2,2338.9 L1702.5,2338.6 L1703.8,2337.3 L1705.1,2336.6 L1706.4,2336.1 L1707.7,2334.9 L1709.0,2334.2 L1710.3,2333.3 L1711.6,2333.2 L1712.9,2332.3 L1714.2,2331.0 L1715.5,2330.8 L1716.8,2329.7 L1718.1,2329.9 L1719.4,2329.3 L1720.7,2328.6 L1722.0,2328.1 L1723.3,2327.3 L1724.6,2327.9 L1725.9,2327.4 L1727.2,2327.1 L1728.5,2327.4 L1729.8,2326.8 L1731.1,2326.8 L1732.4,2326.8 L1733.7,2326.7 L1735.0,2328.1 L1736.3,2327.4 L1737.6,2327.6 L1738.9,2328.4 L1740.2,2327.3 L1741.5,2328.8 L1742.8,2329.3 L1744.1,2329.4 L1745.4,2330.5 L1746.7,2330.2 L1748.0,2331.5 L1749.3,2332.5 L1750.6,2332.1 L1751.9,2333.1 L1753.2,2334.3 L1754.5,2335.1 L1755.8,2335.7 L1757.1,2336.9 L1758.4,2337.7 L1759.7,2338.1 L1761.0,2339.4 L1762.3,2339.9 L1763.6,2340.6 L1764.9,2341.4 L1766.2,2343.6 L1767.5,2344.1 L1768.8,2345.8 L1770.1,2345.6 L1771.4,2347.0 L1772.7,2348.3 L1774.0,2349.1 L1775.3,2350.3 L1776.6,2351.2 L1777.9,2351.9 L1779.2,2352.3 L1780.5,2353.8 L1781.8,2355.8 L1783.1,2356.4 L1784.4,2357.6 L1785.7,2357.9 L1787.0,2359.0 L1788.3,2359.8 L1789.6,2361.2 L1790.9,2362.0 L1792.2,2363.1 L1793.5,2364.5 L1794.8,2364.5 L1796.1,2366.0 L1797.4,2366.1 L1798.7,2367.9 L1800.0,2368.2 L1801.3,2369.2 L1802.6,2370.2 L1803.9,2371.6 L1805.2,2371.8 L1806.5,2372.5 L1807.8,2373.0 L1809.1,2374.4 L1810.4,2374.8 L1811.7,2375.7 L1813.0,2376.6 L1814.3,2377.6 L1815.6,2377.9 L1816.9,2379.1 L1818.2,2380.2 L1819.5,2379.8 L1820.8,2381.5 L1822.1,2382.4 L1823.4,2382.1 L1824.7,2383.2 L1826.0,2383.2 L1827.3,2384.4 L1828.6,2384.8 L1829.9,2385.7 L1831.2,2385.9 L1832.5,2386.5 L1833.8,2387.2 L1835.1,2387.7 L1836.4,2388.3 L1837.7,2389.0 L1839.0,2389.2 L1840.3,2390.1 L1841.6,2390.9 L1842.9,2390.4 L1844.2,2391.8 L1845.5,2392.0 L1846.8,2392.4 L1848.1,2392.8 L1849.4,2393.4 L1850.7,2393.9 L1852.0,2394.8 L1853.3,2394.7 L1854.6,2395.9 L1855.9,2395.7 L1857.2,2396.7 L1858.5,2397.3 L1859.8,2396.9 L1861.1,2398.1 L1862.4,2398.9 L1863.7,2398.4 L1865.0,2399.2 L1866.3,2399.3 L1867.6,2399.8 L1868.9,2400.1 L1870.2,2400.3 L1871.5,2401.1 L1872.8,2401.6 L1874.1,2401.6 L1875.4,2402.5 L1876.7,2402.7 L1878.0,2402.9 L1879.3,2402.8 L1880.6,2404.0 L1881.9,2404.2 L1883.2,2403.3 L1884.5,2404.0 L1885.8,2404.5 L1887.1,2405.3 L1888.4,2405.7 L1889.7,2405.5 L1891.0,2406.0 L1892.3,2406.5 L1893.6,2406.1 L1894.9,2407.0 L1896.2,2407.0 L1897.5,2407.5 L1898.8,2407.7 L1900.1,2407.6 L1901.4,2407.9 L1902.7,2408.6 L1904.0,2408.9 L1905.3,2409.0 L1906.6,2409.7 L1907.9,2409.5 L1909.2,2409.5 L1910.5,2410.0 L1911.8,2410.3 L1913.1,2410.6 L1914.4,2411.3 L1915.7,2411.3 L1917.0,2411.8 L1918.3,2411.9 L1919.6,2411.8 L1920.9,2412.5 L1922.2,2412.3 L1923.5,2412.7 L1924.8,2412.5 L1926.1,2413.1 L1927.4,2413.2 L1928.7,2413.6 L1930.0,2414.3 L1931.3,2414.8 L1932.6,2414.5 L1933.9,2414.4 L1935.2,2414.9 L1936.5,2414.9 L1937.8,2414.8 L1939.1,2415.2 L1940.4,2415.3 L1941.7,2415.4 L1943.0,2416.3 L1944.3,2415.8 L1945.6,2416.0 L1946.9,2416.6 L1948.2,2416.3 L1949.5,2416.4 L1950.8,2416.7 L1952.1,2417.3 L1953.4,2417.5 L1954.7,2417.6 L1956.0,2417.5 L1957.3,2417.6 L1958.6,2418.4 L1959.9,2417.7 L1961.2,2418.3 L1962.5,2418.1 L1963.8,2418.6 L1965.1,2418.9 L1966.4,2419.5 L1967.7,2418.2 L1969.0,2419.9 L1970.3,2419.3 L1971.6,2419.8 L1972.9,2420.2 L1974.2,2419.8 L1975.5,2420.2 L1976.8,2420.5 L1978.1,2420.4 L1979.4,2420.4 L1980.7,2420.9 L1982.0,2421.0 L1983.3,2420.6 L1984.6,2421.7 L1985.9,2421.4 L1987.2,2420.7 L1988.5,2421.4 L1989.8,2422.4 L1991.1,2422.5 L1992.4,2422.2 L1993.7,2421.6 L1995.0,2422.2 L1996.3,2422.8 L1997.6,2422.7 L1998.9,2422.6 L2000.2,2422.6 L2001.5,2423.3 L2002.8,2423.0 L2004.1,2423.3 L2005.4,2423.5 L2006.7,2424.0 L2008.0,2423.6 L2009.3,2423.8 L2010.6,2423.2 L2011.9,2424.3 L2013.2,2424.3 L2014.5,2424.1 L2015.8,2423.5 L2017.1,2424.2 L2018.4,2424.5 L2019.7,2425.3 L2021.0,2424.9 L2022.3,2425.1 L2023.6,2425.2 L2024.9,2425.5 L2026.2,2424.7 L2027.5,2424.9 L2028.8,2424.9 L2030.1,2425.3 L2031.4,2425.4 L2032.7,2425.6 L2034.0,2425.3 L2035.3,2425.8 L2036.6,2425.6 L2037.9,2426.7 L2039.2,2425.9 L2040.5,2427.1 L2041.8,2426.8 L2043.1,2425.9 L2044.4,2426.8 L2045.7,2426.7 L2047.0,2426.1 L2048.3,2426.9 L2049.6,2426.8 L2050.9,2427.0 L2052.2,2426.7 L2053.5,2427.0 L2054.8,2427.3 L2056.1,2427.1 L2057.4,2427.1 L2058.7,2427.3 L2060.0,2427.1 L2061.3,2427.6 L2062.6,2426.7 L2063.9,2428.2 L2065.2,2427.8 L2066.5,2428.0 L2067.8,2428.2 L2069.1,2427.5 L2070.4,2428.8 L2071.7,2427.7 L2073.0,2428.4 L2074.3,2428.4 L2075.6,2428.8 L2076.9,2428.4 L2078.2,2428.0 L2079.5,2428.7 L2080.8,2427.7 L2082.1,2428.6 L2083.4,2428.6 L2084.7,2429.4 L2086.0,2428.8 L2087.3,2428.8 L2088.6,2428.7 L2089.9,2428.8 L2091.2,2428.9 L2092.5,2429.4 L2093.8,2428.8 L2095.1,2429.2 L2096.4,2428.9 L2097.7,2429.4 L2099.0,2429.5 L2100.3,2429.1 L2101.6,2429.4 L2102.9,2429.7 L2104.2,2430.0 L2105.5,2430.1 L2106.8,2429.8 L2108.1,2429.5 L2109.4,2429.4 L2110.7,2430.3 L2112.0,2430.5 L2113.3,2430.2 L2114.6,2430.7 L2115.9,2430.1 L2117.2,2430.1 L2118.5,2430.9 L2119.8,2430.0 L2121.1,2430.6 L2122.4,2430.6 L2123.7,2430.6 L2125.0,2431.2 L2126.3,2430.3 L2127.6,2430.5 L2128.9,2430.0 L2130.2,2430.4 L2131.5,2430.6 L2132.8,2430.7 L2134.1,2430.9 L2135.4,2431.1 L2136.7,2430.8 L2138.0,2430.4 L2139.3,2431.2 L2140.6,2431.3 L2141.9,2430.8 L2143.2,2431.0" fill="none" stroke="#ff0000" stroke-width="8" stroke-linejoin="round"/>
<path clip-path="url(#cib)" d="M1259.2,2412.8 L1260.5,2413.0 L1261.8,2413.6 L1263.1,2413.2 L1264.4,2412.4 L1265.7,2412.9 L1267.0,2412.7 L1268.3,2412.9 L1269.6,2412.3 L1270.9,2412.9 L1272.2,2412.9 L1273.5,2413.3 L1274.8,2412.9 L1276.1,2412.9 L1277.4,2412.2 L1278.7,2413.5 L1280.0,2412.0 L1281.3,2413.0 L1282.6,2412.5 L1283.9,2412.3 L1285.2,2412.3 L1286.5,2412.3 L1287.8,2412.6 L1289.1,2412.4 L1290.4,2413.0 L1291.7,2411.8 L1293.0,2412.4 L1294.3,2412.1 L1295.6,2412.6 L1296.9,2411.6 L1298.2,2412.2 L1299.5,2412.3 L1300.8,2411.7 L1302.1,2412.5 L1303.4,2412.2 L1304.7,2412.5 L1306.0,2412.4 L1307.3,2411.7 L1308.6,2411.8 L1309.9,2411.9 L1311.2,2412.3 L1312.5,2412.3 L1313.8,2411.7 L1315.1,2411.7 L1316.4,2411.6 L1317.7,2411.6 L1319.0,2411.7 L1320.3,2411.7 L1321.6,2412.4 L1322.9,2411.5 L1324.2,2411.6 L1325.5,2411.8 L1326.8,2411.3 L1328.1,2411.4 L1329.4,2411.5 L1330.7,2411.8 L1332.0,2411.0 L1333.3,2411.9 L1334.6,2411.2 L1335.9,2411.4 L1337.2,2411.6 L1338.5,2411.5 L1339.8,2411.6 L1341.1,2411.2 L1342.4,2411.1 L1343.7,2411.2 L1345.0,2410.7 L1346.3,2411.5 L1347.6,2410.7 L1348.9,2410.5 L1350.2,2411.6 L1351.5,2410.8 L1352.8,2410.4 L1354.1,2411.4 L1355.4,2410.6 L1356.7,2411.1 L1358.0,2410.4 L1359.3,2410.5 L1360.6,2410.0 L1361.9,2409.9 L1363.2,2410.1 L1364.5,2410.4 L1365.8,2410.7 L1367.1,2411.2 L1368.4,2409.9 L1369.7,2410.6 L1371.0,2410.0 L1372.3,2410.1 L1373.6,2409.6 L1374.9,2409.5 L1376.2,2409.7 L1377.5,2409.5 L1378.8,2409.9 L1380.1,2409.6 L1381.4,2410.3 L1382.7,2409.8 L1384.0,2409.8 L1385.3,2410.1 L1386.6,2409.8 L1387.9,2409.6 L1389.2,2409.5 L1390.5,2409.4 L1391.8,2409.8 L1393.1,2409.6 L1394.4,2409.4 L1395.7,2409.5 L1397.0,2409.0 L1398.3,2409.3 L1399.6,2408.6 L1400.9,2409.5 L1402.2,2409.0 L1403.5,2409.0 L1404.8,2409.1 L1406.1,2408.8 L1407.4,2408.6 L1408.7,2409.1 L1410.0,2408.7 L1411.3,2408.2 L1412.6,2408.7 L1413.9,2407.8 L1415.2,2409.0 L1416.5,2408.3 L1417.8,2408.3 L1419.1,2409.0 L1420.4,2408.9 L1421.7,2408.1 L1423.0,2408.2 L1424.3,2408.3 L1425.6,2408.5 L1426.9,2407.8 L1428.2,2407.8 L1429.5,2408.1 L1430.8,2407.7 L1432.1,2407.8 L1433.4,2407.7 L1434.7,2407.0 L1436.0,2407.0 L1437.3,2406.3 L1438.6,2407.1 L1439.9,2407.6 L1441.2,2406.7 L1442.5,2407.4 L1443.8,2407.3 L1445.1,2406.8 L1446.4,2406.8 L1447.7,2406.7 L1449.0,2406.3 L1450.3,2406.5 L1451.6,2406.5 L1452.9,2406.6 L1454.2,2406.6 L1455.5,2406.0 L1456.8,2406.5 L1458.1,2405.8 L1459.4,2406.0 L1460.7,2406.1 L1462.0,2405.8 L1463.3,2405.7 L1464.6,2405.8 L1465.9,2405.4 L1467.2,2405.3 L1468.5,2405.4 L1469.8,2405.7 L1471.1,2405.2 L1472.4,2405.9 L1473.7,2405.2 L1475.0,2404.0 L1476.3,2404.8 L1477.6,2405.4 L1478.9,2404.8 L1480.2,2404.5 L1481.5,2404.3 L1482.8,2405.0 L1484.1,2404.8 L1485.4,2404.6 L1486.7,2404.4 L1488.0,2404.6 L1489.3,2404.3 L1490.6,2403.5 L1491.9,2404.1 L1493.2,2403.8 L1494.5,2403.6 L1495.8,2403.8 L1497.1,2403.5 L1498.4,2402.3 L1499.7,2403.8 L1501.0,2403.5 L1502.3,2403.0 L1503.6,2402.8 L1504.9,2402.9 L1506.2,2402.2 L1507.5,2402.7 L1508.8,2402.4 L1510.1,2402.2 L1511.4,2401.9 L1512.7,2401.9 L1514.0,2402.4 L1515.3,2402.3 L1516.6,2401.9 L1517.9,2401.5 L1519.2,2401.1 L1520.5,2401.5 L1521.8,2401.7 L1523.1,2400.4 L1524.4,2401.2 L1525.7,2399.9 L1527.0,2400.3 L1528.3,2400.4 L1529.6,2399.6 L1530.9,2399.3 L1532.2,2399.7 L1533.5,2399.7 L1534.8,2399.0 L1536.1,2399.4 L1537.4,2398.4 L1538.7,2399.0 L1540.0,2398.2 L1541.3,2397.9 L1542.6,2397.7 L1543.9,2397.3 L1545.2,2397.5 L1546.5,2397.2 L1547.8,2396.3 L1549.1,2395.6 L1550.4,2394.9 L1551.7,2394.6 L1553.0,2394.4 L1554.3,2393.9 L1555.6,2393.4 L1556.9,2392.9 L1558.2,2392.5 L1559.5,2391.3 L1560.8,2390.8 L1562.1,2390.9 L1563.4,2390.2 L1564.7,2389.0 L1566.0,2389.0 L1567.3,2387.6 L1568.6,2387.0 L1569.9,2385.6 L1571.2,2385.8 L1572.5,2384.7 L1573.8,2384.2 L1575.1,2383.2 L1576.4,2382.1 L1577.7,2381.2 L1579.0,2380.7 L1580.3,2379.3 L1581.6,2378.3 L1582.9,2377.4 L1584.2,2376.7 L1585.5,2375.7 L1586.8,2375.1 L1588.1,2373.4 L1589.4,2372.9 L1590.7,2371.2 L1592.0,2370.6 L1593.3,2369.4 L1594.6,2369.0 L1595.9,2367.6 L1597.2,2366.3 L1598.5,2365.7 L1599.8,2364.6 L1601.1,2363.5 L1602.4,2362.6 L1603.7,2361.5 L1605.0,2361.9 L1606.3,2360.2 L1607.6,2359.7 L1608.9,2358.2 L1610.2,2357.5 L1611.5,2357.1 L1612.8,2356.5 L1614.1,2356.2 L1615.4,2355.0 L1616.7,2355.1 L1618.0,2355.0 L1619.3,2353.7 L1620.6,2354.0 L1621.9,2353.0 L1623.2,2353.2 L1624.5,2352.9 L1625.8,2353.2 L1627.1,2352.2 L1628.4,2352.4 L1629.7,2352.7 L1631.0,2351.9 L1632.3,2352.3 L1633.6,2352.0 L1634.9,2352.2 L1636.2,2352.7 L1637.5,2352.9 L1638.8,2353.7 L1640.1,2353.4 L1641.4,2353.5 L1642.7,2353.2 L1644.0,2353.3 L1645.3,2353.6 L1646.6,2352.9 L1647.9,2354.5 L1649.2,2353.8 L1650.5,2353.7 L1651.8,2354.0 L1653.1,2354.5 L1654.4,2354.6 L1655.7,2354.0 L1657.0,2354.2 L1658.3,2353.8 L1659.6,2353.3 L1660.9,2353.4 L1662.2,2352.9 L1663.5,2351.9 L1664.8,2352.3 L1666.1,2350.7 L1667.4,2350.6 L1668.7,2349.3 L1670.0,2348.4 L1671.3,2347.3 L1672.6,2346.6 L1673.9,2344.6 L1675.2,2343.6 L1676.5,2342.6 L1677.8,2340.2 L1679.1,2338.6 L1680.4,2336.9 L1681.7,2334.4 L1683.0,2332.5 L1684.3,2329.8 L1685.6,2327.8 L1686.9,2325.0 L1688.2,2322.0 L1689.5,2320.0 L1690.8,2316.6 L1692.1,2313.5 L1693.4,2310.2 L1694.7,2307.2 L1696.0,2304.0 L1697.3,2300.8 L1698.6,2297.8 L1699.9,2293.5 L1701.2,2290.5 L1702.5,2287.6 L1703.8,2283.9 L1705.1,2280.7 L1706.4,2277.9 L1707.7,2274.3 L1709.0,2271.3 L1710.3,2268.3 L1711.6,2266.3 L1712.9,2263.6 L1714.2,2260.8 L1715.5,2259.3 L1716.8,2257.1 L1718.1,2256.6 L1719.4,2255.4 L1720.7,2254.5 L1722.0,2254.2 L1722.0,2253.7 L1723.3,2254.7 L1724.6,2254.8 L1725.9,2255.5 L1727.2,2257.0 L1728.5,2257.9 L1729.8,2259.7 L1731.1,2261.7 L1732.4,2263.7 L1733.7,2267.4 L1735.0,2269.2 L1736.3,2271.9 L1737.6,2275.3 L1738.9,2276.9 L1740.2,2281.0 L1741.5,2284.2 L1742.8,2287.0 L1744.1,2290.6 L1745.4,2292.9 L1746.7,2296.7 L1748.0,2300.1 L1749.3,2302.0 L1750.6,2305.1 L1751.9,2308.4 L1753.2,2311.2 L1754.5,2313.6 L1755.8,2316.4 L1757.1,2318.8 L1758.4,2320.5 L1759.7,2323.0 L1761.0,2324.6 L1762.3,2326.2 L1763.6,2327.9 L1764.9,2330.7 L1766.2,2331.8 L1767.5,2333.9 L1768.8,2333.9 L1770.1,2335.4 L1771.4,2336.6 L1772.7,2337.3 L1774.0,2338.3 L1775.3,2338.9 L1776.6,2339.2 L1777.9,2339.0 L1779.2,2339.9 L1780.5,2341.1 L1781.8,2341.0 L1783.1,2341.4 L1784.4,2340.8 L1785.7,2341.0 L1787.0,2340.7 L1788.3,2341.1 L1789.6,2340.9 L1790.9,2341.0 L1792.2,2341.3 L1793.5,2340.2 L1794.8,2340.6 L1796.1,2339.7 L1797.4,2340.5 L1798.7,2339.8 L1800.0,2339.8 L1801.3,2339.8 L1802.6,2340.3 L1803.9,2339.7 L1805.2,2339.6 L1806.5,2339.5 L1807.8,2340.1 L1809.1,2339.9 L1810.4,2340.3 L1811.7,2340.8 L1813.0,2341.4 L1814.3,2341.4 L1815.6,2342.4 L1816.9,2343.3 L1818.2,2342.8 L1819.5,2344.5 L1820.8,2345.5 L1822.1,2345.4 L1823.4,2346.7 L1824.7,2346.9 L1826.0,2348.4 L1827.3,2349.2 L1828.6,2350.4 L1829.9,2351.1 L1831.2,2352.2 L1832.5,2353.5 L1833.8,2354.6 L1835.1,2355.8 L1836.4,2357.1 L1837.7,2358.0 L1839.0,2359.6 L1840.3,2361.0 L1841.6,2361.3 L1842.9,2363.4 L1844.2,2364.3 L1845.5,2365.4 L1846.8,2366.5 L1848.1,2367.9 L1849.4,2369.1 L1850.7,2370.7 L1852.0,2371.3 L1853.3,2373.2 L1854.6,2373.7 L1855.9,2375.3 L1857.2,2376.5 L1858.5,2376.7 L1859.8,2378.6 L1861.1,2380.0 L1862.4,2380.0 L1863.7,2381.3 L1865.0,2382.0 L1866.3,2382.9 L1867.6,2383.7 L1868.9,2384.4 L1870.2,2385.6 L1871.5,2386.4 L1872.8,2386.8 L1874.1,2388.1 L1875.4,2388.6 L1876.7,2389.1 L1878.0,2389.2 L1879.3,2390.7 L1880.6,2391.1 L1881.9,2390.4 L1883.2,2391.3 L1884.5,2392.0 L1885.8,2393.0 L1887.1,2393.5 L1888.4,2393.4 L1889.7,2394.0 L1891.0,2394.6 L1892.3,2394.3 L1893.6,2395.3 L1894.9,2395.3 L1896.2,2395.8 L1897.5,2396.0 L1898.8,2395.9 L1900.1,2396.3 L1901.4,2396.9 L1902.7,2397.2 L1904.0,2397.4 L1905.3,2398.1 L1906.6,2397.8 L1907.9,2397.7 L1909.2,2398.3 L1910.5,2398.5 L1911.8,2398.8 L1913.1,2399.4 L1914.4,2399.4 L1915.7,2399.8 L1917.0,2399.8 L1918.3,2399.7 L1919.6,2400.3 L1920.9,2400.0 L1922.2,2400.4 L1923.5,2400.1 L1924.8,2400.6 L1926.1,2400.6 L1927.4,2401.0 L1928.7,2401.7 L1930.0,2402.0 L1931.3,2401.7 L1932.6,2401.5 L1933.9,2401.9 L1935.2,2401.9 L1936.5,2401.7 L1937.8,2402.0 L1939.1,2402.1 L1940.4,2402.1 L1941.7,2403.0 L1943.0,2402.4 L1944.3,2402.6 L1945.6,2403.1 L1946.9,2402.8 L1948.2,2402.7 L1949.5,2403.0 L1950.8,2403.5 L1952.1,2403.6 L1953.4,2403.7 L1954.7,2403.6 L1956.0,2403.6 L1957.3,2404.3 L1958.6,2403.6 L1959.9,2404.2 L1961.2,2403.9 L1962.5,2404.3 L1963.8,2404.5 L1965.1,2405.1 L1966.4,2403.8 L1967.7,2405.4 L1969.0,2404.7 L1970.3,2405.3 L1971.6,2405.6 L1972.9,2405.1 L1974.2,2405.5 L1975.5,2405.8 L1976.8,2405.7 L1978.1,2405.6 L1979.4,2406.0 L1980.7,2406.1 L1982.0,2405.6 L1983.3,2406.7 L1984.6,2406.4 L1985.9,2405.6 L1987.2,2406.3 L1988.5,2407.3 L1989.8,2407.3 L1991.1,2407.0 L1992.4,2406.4 L1993.7,2407.0 L1995.0,2407.6 L1996.3,2407.4 L1997.6,2407.3 L1998.9,2407.2 L2000.2,2407.9 L2001.5,2407.6 L2002.8,2407.9 L2004.1,2408.0 L2005.4,2408.5 L2006.7,2408.1 L2008.0,2408.2 L2009.3,2407.6 L2010.6,2408.7 L2011.9,2408.7 L2013.2,2408.5 L2014.5,2407.8 L2015.8,2408.5 L2017.1,2408.8 L2018.4,2409.6 L2019.7,2409.2 L2021.0,2409.3 L2022.3,2409.4 L2023.6,2409.7 L2024.9,2408.9 L2026.2,2409.1 L2027.5,2409.1 L2028.8,2409.5 L2030.1,2409.5 L2031.4,2409.8 L2032.7,2409.5 L2034.0,2409.9 L2035.3,2409.7 L2036.6,2410.8 L2037.9,2410.0 L2039.2,2411.1 L2040.5,2410.9 L2041.8,2410.0 L2043.1,2410.8 L2044.4,2410.8 L2045.7,2410.1 L2047.0,2410.9 L2048.3,2410.7 L2049.6,2411.0 L2050.9,2410.6 L2052.2,2411.0 L2053.5,2411.2 L2054.8,2411.1 L2056.1,2411.0 L2057.4,2411.2 L2058.7,2411.0 L2060.0,2411.6 L2061.3,2410.6 L2062.6,2412.1 L2063.9,2411.7 L2065.2,2411.9 L2066.5,2412.1 L2067.8,2411.4 L2069.1,2412.7 L2070.4,2411.6 L2071.7,2412.2 L2073.0,2412.3 L2074.3,2412.7 L2075.6,2412.3 L2076.9,2411.9 L2078.2,2412.5 L2079.5,2411.6 L2080.8,2412.5 L2082.1,2412.5 L2083.4,2413.2 L2084.7,2412.6 L2086.0,2412.7 L2087.3,2412.6 L2088.6,2412.6 L2089.9,2412.8 L2091.2,2413.3 L2092.5,2412.7 L2093.8,2413.1 L2095.1,2412.7 L2096.4,2413.2 L2097.7,2413.4 L2099.0,2413.0 L2100.3,2413.3 L2101.6,2413.6 L2102.9,2413.9 L2104.2,2414.0 L2105.5,2413.7 L2106.8,2413.4 L2108.1,2413.3 L2109.4,2414.2 L2110.7,2414.4 L2112.0,2414.1 L2113.3,2414.6 L2114.6,2414.0 L2115.9,2414.0 L2117.2,2414.8 L2118.5,2413.9 L2119.8,2414.5 L2121.1,2414.5 L2122.4,2414.5 L2123.7,2415.1 L2125.0,2414.2 L2126.3,2414.5 L2127.6,2413.9 L2128.9,2414.3 L2130.2,2414.6 L2131.5,2414.7 L2132.8,2414.8 L2134.1,2415.0 L2135.4,2414.7 L2136.7,2414.3 L2138.0,2415.1 L2139.3,2415.3 L2140.6,2414.7 L2141.9,2414.9 L2143.2,2415.9" fill="none" stroke="#0000ff" stroke-width="8" stroke-linejoin="round"/>
<path clip-path="url(#cib)" d="M1259.2,2363.3 L1260.5,2363.4 L1261.8,2364.0 L1263.1,2363.6 L1264.4,2362.8 L1265.7,2363.3 L1267.0,2363.0 L1268.3,2363.3 L1269.6,2362.6 L1270.9,2363.2 L1272.2,2363.2 L1273.5,2363.6 L1274.8,2363.1 L1276.1,2363.2 L1277.4,2362.4 L1278.7,2363.7 L1280.0,2362.2 L1281.3,2363.2 L1282.6,2362.6 L1283.9,2362.4 L1285.2,2362.4 L1286.5,2362.4 L1287.8,2362.7 L1289.1,2362.5 L1290.4,2363.0 L1291.7,2361.8 L1293.0,2362.4 L1294.3,2362.1 L1295.6,2362.6 L1296.9,2361.6 L1298.2,2362.1 L1299.5,2362.3 L1300.8,2361.6 L1302.1,2362.5 L1303.4,2362.1 L1304.7,2362.4 L1306.0,2362.3 L1307.3,2361.6 L1308.6,2361.6 L1309.9,2361.8 L1311.2,2362.1 L1312.5,2362.1 L1313.8,2361.5 L1315.1,2361.5 L1316.4,2361.4 L1317.7,2361.4 L1319.0,2361.5 L1320.3,2361.5 L1321.6,2362.2 L1322.9,2361.3 L1324.2,2361.3 L1325.5,2361.5 L1326.8,2361.0 L1328.1,2361.1 L1329.4,2361.2 L1330.7,2361.4 L1332.0,2360.7 L1333.3,2361.6 L1334.6,2360.9 L1335.9,2361.1 L1337.2,2361.2 L1338.5,2361.1 L1339.8,2361.2 L1341.1,2360.9 L1342.4,2360.8 L1343.7,2360.8 L1345.0,2360.3 L1346.3,2361.1 L1347.6,2360.3 L1348.9,2360.1 L1350.2,2361.2 L1351.5,2360.4 L1352.8,2360.0 L1354.1,2361.0 L1355.4,2360.2 L1356.7,2360.7 L1358.0,2360.0 L1359.3,2360.1 L1360.6,2359.6 L1361.9,2359.4 L1363.2,2359.7 L1364.5,2360.0 L1365.8,2360.2 L1367.1,2360.8 L1368.4,2359.5 L1369.7,2360.2 L1371.0,2359.6 L1372.3,2359.7 L1373.6,2359.2 L1374.9,2359.1 L1376.2,2359.3 L1377.5,2359.1 L1378.8,2359.5 L1380.1,2359.2 L1381.4,2359.9 L1382.7,2359.4 L1384.0,2359.4 L1385.3,2359.7 L1386.6,2359.4 L1387.9,2359.2 L1389.2,2359.1 L1390.5,2359.1 L1391.8,2359.4 L1393.1,2359.3 L1394.4,2359.1 L1395.7,2359.2 L1397.0,2358.7 L1398.3,2359.0 L1399.6,2358.3 L1400.9,2359.2 L1402.2,2358.7 L1403.5,2358.7 L1404.8,2358.8 L1406.1,2358.5 L1407.4,2358.4 L1408.7,2358.8 L1410.0,2358.4 L1411.3,2358.0 L1412.6,2358.4 L1413.9,2357.6 L1415.2,2358.8 L1416.5,2358.1 L1417.8,2358.1 L1419.1,2358.8 L1420.4,2358.7 L1421.7,2358.0 L1423.0,2358.1 L1424.3,2358.2 L1425.6,2358.4 L1426.9,2357.7 L1428.2,2357.7 L1429.5,2358.1 L1430.8,2357.7 L1432.1,2357.8 L1433.4,2357.7 L1434.7,2357.0 L1436.0,2357.1 L1437.3,2356.4 L1438.6,2357.2 L1439.9,2357.7 L1441.2,2356.8 L1442.5,2357.5 L1443.8,2357.4 L1445.1,2357.0 L1446.4,2356.9 L1447.7,2356.9 L1449.0,2356.5 L1450.3,2356.7 L1451.6,2356.7 L1452.9,2356.9 L1454.2,2356.9 L1455.5,2356.3 L1456.8,2356.8 L1458.1,2356.2 L1459.4,2356.3 L1460.7,2356.5 L1462.0,2356.3 L1463.3,2356.2 L1464.6,2356.3 L1465.9,2355.9 L1467.2,2355.8 L1468.5,2355.9 L1469.8,2356.3 L1471.1,2355.8 L1472.4,2356.5 L1473.7,2355.8 L1475.0,2354.6 L1476.3,2355.5 L1477.6,2356.1 L1478.9,2355.5 L1480.2,2355.3 L1481.5,2355.1 L1482.8,2355.8 L1484.1,2355.6 L1485.4,2355.4 L1486.7,2355.3 L1488.0,2355.5 L1489.3,2355.3 L1490.6,2354.5 L1491.9,2355.1 L1493.2,2354.8 L1494.5,2354.7 L1495.8,2354.9 L1497.1,2354.6 L1498.4,2353.4 L1499.7,2354.9 L1501.0,2354.7 L1502.3,2354.2 L1503.6,2354.0 L1504.9,2354.2 L1506.2,2353.6 L1507.5,2354.0 L1508.8,2353.8 L1510.1,2353.6 L1511.4,2353.4 L1512.7,2353.4 L1514.0,2353.9 L1515.3,2353.9 L1516.6,2353.5 L1517.9,2353.2 L1519.2,2352.9 L1520.5,2353.3 L1521.8,2353.5 L1523.1,2352.3 L1524.4,2353.2 L1525.7,2351.9 L1527.0,2352.5 L1528.3,2352.6 L1529.6,2351.9 L1530.9,2351.7 L1532.2,2352.2 L1533.5,2352.3 L1534.8,2351.7 L1536.1,2352.3 L1537.4,2351.4 L1538.7,2352.2 L1540.0,2351.5 L1541.3,2351.4 L1542.6,2351.4 L1543.9,2351.1 L1545.2,2351.5 L1546.5,2351.5 L1547.8,2350.7 L1549.1,2350.3 L1550.4,2349.8 L1551.7,2349.8 L1553.0,2349.9 L1554.3,2349.6 L1555.6,2349.5 L1556.9,2349.3 L1558.2,2349.2 L1559.5,2348.4 L1560.8,2348.3 L1562.1,2348.8 L1563.4,2348.5 L1564.7,2347.8 L1566.0,2348.2 L1567.3,2347.2 L1568.6,2347.0 L1569.9,2346.1 L1571.2,2346.6 L1572.5,2345.9 L1573.8,2345.8 L1575.1,2345.1 L1576.4,2344.4 L1577.7,2343.8 L1579.0,2343.5 L1580.3,2342.3 L1581.6,2341.5 L1582.9,2340.7 L1584.2,2340.1 L1585.5,2339.1 L1586.8,2338.4 L1588.1,2336.6 L1589.4,2335.9 L1590.7,2333.9 L1592.0,2333.1 L1593.3,2331.5 L1594.6,2330.6 L1595.9,2328.7 L1597.2,2326.8 L1598.5,2325.5 L1599.8,2323.8 L1601.1,2321.9 L1602.4,2320.2 L1603.7,2318.3 L1605.0,2318.0 L1606.3,2315.4 L1607.6,2314.2 L1608.9,2311.9 L1610.2,2310.6 L1611.5,2309.7 L1612.8,2308.6 L1614.1,2308.1 L1615.4,2306.8 L1616.7,2306.9 L1618.0,2307.0 L1618.0,2306.1 L1619.3,2306.7 L1620.6,2306.3 L1621.9,2307.2 L1623.2,2307.8 L1624.5,2309.1 L1625.8,2309.2 L1627.1,2310.6 L1628.4,2312.1 L1629.7,2312.6 L1631.0,2314.4 L1632.3,2315.5 L1633.6,2316.9 L1634.9,2318.8 L1636.2,2320.2 L1637.5,2322.3 L1638.8,2323.2 L1640.1,2324.4 L1641.4,2325.1 L1642.7,2326.3 L1644.0,2327.5 L1645.3,2327.7 L1646.6,2330.0 L1647.9,2330.1 L1649.2,2330.8 L1650.5,2331.7 L1651.8,2332.9 L1653.1,2333.6 L1654.4,2333.5 L1655.7,2334.3 L1657.0,2334.5 L1658.3,2334.4 L1659.6,2335.1 L1660.9,2335.2 L1662.2,2334.8 L1663.5,2335.8 L1664.8,2334.9 L1666.1,2335.5 L1667.4,2334.9 L1668.7,2334.8 L1670.0,2334.7 L1671.3,2334.9 L1672.6,2333.9 L1673.9,2333.9 L1675.2,2334.1 L1676.5,2332.8 L1677.8,2332.5 L1679.1,2332.1 L1680.4,2330.9 L1681.7,2330.4 L1683.0,2329.1 L1684.3,2328.5 L1685.6,2327.0 L1686.9,2325.3 L1688.2,2324.6 L1689.5,2322.3 L1690.8,2320.3 L1692.1,2317.9 L1693.4,2315.7 L1694.7,2313.1 L1696.0,2310.2 L1697.3,2307.3 L1698.6,2302.8 L1699.9,2299.2 L1701.2,2295.4 L1702.5,2290.4 L1703.8,2285.5 L1705.1,2280.5 L1706.4,2274.4 L1707.7,2268.4 L1709.0,2261.8 L1710.3,2255.8 L1711.6,2248.7 L1712.9,2241.0 L1714.2,2234.3 L1715.5,2226.5 L1716.8,2220.2 L1718.1,2213.1 L1719.4,2206.2 L1720.7,2199.9 L1722.0,2193.8 L1723.3,2189.8 L1724.6,2185.5 L1725.9,2182.5 L1727.2,2181.1 L1728.5,2180.0 L1728.5,2180.0 L1729.8,2180.6 L1731.1,2182.2 L1732.4,2186.5 L1733.7,2189.5 L1735.0,2194.4 L1736.3,2200.4 L1737.6,2205.2 L1738.9,2213.0 L1740.2,2220.0 L1741.5,2226.7 L1742.8,2234.5 L1744.1,2240.8 L1745.4,2248.5 L1746.7,2255.7 L1748.0,2261.3 L1749.3,2267.9 L1750.6,2274.4 L1751.9,2280.2 L1753.2,2285.3 L1754.5,2290.7 L1755.8,2295.3 L1757.1,2299.0 L1758.4,2303.3 L1759.7,2306.5 L1761.0,2309.5 L1762.3,2312.3 L1763.6,2316.2 L1764.9,2318.1 L1766.2,2320.9 L1767.5,2321.6 L1768.8,2323.6 L1770.1,2325.3 L1771.4,2326.4 L1772.7,2327.7 L1774.0,2328.5 L1775.3,2329.0 L1776.6,2329.0 L1777.9,2330.0 L1779.2,2331.3 L1780.5,2331.2 L1781.8,2331.6 L1783.1,2331.0 L1784.4,2331.1 L1785.7,2330.7 L1787.0,2330.9 L1788.3,2330.5 L1789.6,2330.2 L1790.9,2330.1 L1792.2,2328.6 L1793.5,2328.4 L1794.8,2326.9 L1796.1,2326.8 L1797.4,2325.3 L1798.7,2324.3 L1800.0,2323.2 L1801.3,2322.5 L1802.6,2320.6 L1803.9,2319.0 L1805.2,2317.4 L1806.5,2316.4 L1807.8,2314.5 L1809.1,2313.0 L1810.4,2311.7 L1811.7,2310.4 L1813.0,2308.4 L1814.3,2307.5 L1815.6,2306.6 L1816.9,2304.2 L1818.2,2304.2 L1819.5,2303.6 L1820.8,2302.0 L1822.1,2302.0 L1823.4,2301.1 L1824.7,2301.8 L1824.7,2301.5 L1826.0,2302.1 L1827.3,2302.2 L1828.6,2303.1 L1829.9,2304.3 L1831.2,2305.5 L1832.5,2307.0 L1833.8,2308.7 L1835.1,2310.1 L1836.4,2312.3 L1837.7,2314.4 L1839.0,2315.4 L1840.3,2318.2 L1841.6,2319.8 L1842.9,2321.7 L1844.2,2323.5 L1845.5,2325.6 L1846.8,2327.4 L1848.1,2329.6 L1849.4,2330.8 L1850.7,2333.2 L1852.0,2334.1 L1853.3,2336.1 L1854.6,2337.7 L1855.9,2338.2 L1857.2,2340.3 L1858.5,2341.8 L1859.8,2342.0 L1861.1,2343.4 L1862.4,2344.1 L1863.7,2345.0 L1865.0,2345.7 L1866.3,2346.4 L1867.6,2347.5 L1868.9,2348.2 L1870.2,2348.5 L1871.5,2349.5 L1872.8,2349.9 L1874.1,2350.2 L1875.4,2350.1 L1876.7,2351.4 L1878.0,2351.6 L1879.3,2350.7 L1880.6,2351.4 L1881.9,2351.9 L1883.2,2352.7 L1884.5,2353.0 L1885.8,2352.7 L1887.1,2353.1 L1888.4,2353.5 L1889.7,2353.0 L1891.0,2353.8 L1892.3,2353.7 L1893.6,2354.0 L1894.9,2354.1 L1896.2,2353.9 L1897.5,2354.1 L1898.8,2354.6 L1900.1,2354.8 L1901.4,2354.8 L1902.7,2355.3 L1904.0,2355.0 L1905.3,2354.8 L1906.6,2355.2 L1907.9,2355.4 L1909.2,2355.5 L1910.5,2356.1 L1911.8,2355.9 L1913.1,2356.2 L1914.4,2356.2 L1915.7,2356.0 L1917.0,2356.5 L1918.3,2356.2 L1919.6,2356.4 L1920.9,2356.1 L1922.2,2356.5 L1923.5,2356.5 L1924.8,2356.8 L1926.1,2357.5 L1927.4,2357.7 L1928.7,2357.4 L1930.0,2357.1 L1931.3,2357.5 L1932.6,2357.4 L1933.9,2357.2 L1935.2,2357.5 L1936.5,2357.5 L1937.8,2357.5 L1939.1,2358.2 L1940.4,2357.7 L1941.7,2357.8 L1943.0,2358.3 L1944.3,2357.8 L1945.6,2357.8 L1946.9,2358.0 L1948.2,2358.5 L1949.5,2358.5 L1950.8,2358.6 L1952.1,2358.4 L1953.4,2358.3 L1954.7,2359.0 L1956.0,2358.3 L1957.3,2358.8 L1958.6,2358.5 L1959.9,2358.9 L1961.2,2359.0 L1962.5,2359.6 L1963.8,2358.2 L1965.1,2359.8 L1966.4,2359.1 L1967.7,2359.5 L1969.0,2359.8 L1970.3,2359.3 L1971.6,2359.6 L1972.9,2359.9 L1974.2,2359.7 L1975.5,2359.6 L1976.8,2360.0 L1978.1,2360.0 L1979.4,2359.5 L1980.7,2360.6 L1982.0,2360.2 L1983.3,2359.4 L1984.6,2360.0 L1985.9,2360.9 L1987.2,2360.9 L1988.5,2360.5 L1989.8,2359.9 L1991.1,2360.5 L1992.4,2361.0 L1993.7,2360.8 L1995.0,2360.6 L1996.3,2360.6 L1997.6,2361.2 L1998.9,2360.9 L2000.2,2361.1 L2001.5,2361.2 L2002.8,2361.7 L2004.1,2361.2 L2005.4,2361.3 L2006.7,2360.6 L2008.0,2361.7 L2009.3,2361.7 L2010.6,2361.4 L2011.9,2360.7 L2013.2,2361.3 L2014.5,2361.6 L2015.8,2362.4 L2017.1,2361.9 L2018.4,2362.0 L2019.7,2362.1 L2021.0,2362.3 L2022.3,2361.5 L2023.6,2361.7 L2024.9,2361.6 L2026.2,2362.0 L2027.5,2362.0 L2028.8,2362.2 L2030.1,2361.9 L2031.4,2362.3 L2032.7,2362.0 L2034.0,2363.1 L2035.3,2362.3 L2036.6,2363.4 L2037.9,2363.1 L2039.2,2362.2 L2040.5,2363.0 L2041.8,2362.9 L2043.1,2362.2 L2044.4,2363.0 L2045.7,2362.8 L2047.0,2363.0 L2048.3,2362.7 L2049.6,2363.0 L2050.9,2363.2 L2052.2,2363.0 L2053.5,2362.9 L2054.8,2363.1 L2056.1,2362.9 L2057.4,2363.4 L2058.7,2362.5 L2060.0,2363.9 L2061.3,2363.5 L2062.6,2363.7 L2063.9,2363.8 L2065.2,2363.2 L2066.5,2364.4 L2067.8,2363.3 L2069.1,2363.9 L2070.4,2363.9 L2071.7,2364.3 L2073.0,2363.9 L2074.3,2363.4 L2075.6,2364.1 L2076.9,2363.2 L2078.2,2364.0 L2079.5,2364.0 L2080.8,2364.7 L2082.1,2364.1 L2083.4,2364.1 L2084.7,2364.0 L2086.0,2364.1 L2087.3,2364.2 L2088.6,2364.7 L2089.9,2364.0 L2091.2,2364.5 L2092.5,2364.1 L2093.8,2364.6 L2095.1,2364.7 L2096.4,2364.3 L2097.7,2364.6 L2099.0,2364.9 L2100.3,2365.1 L2101.6,2365.3 L2102.9,2364.9 L2104.2,2364.7 L2105.5,2364.5 L2106.8,2365.4 L2108.1,2365.6 L2109.4,2365.3 L2110.7,2365.8 L2112.0,2365.1 L2113.3,2365.2 L2114.6,2365.9 L2115.9,2365.1 L2117.2,2365.7 L2118.5,2365.7 L2119.8,2365.6 L2121.1,2366.2 L2122.4,2365.3 L2123.7,2365.6 L2125.0,2365.0 L2126.3,2365.4 L2127.6,2365.7 L2128.9,2365.7 L2130.2,2365.9 L2131.5,2366.1 L2132.8,2365.8 L2134.1,2365.4 L2135.4,2366.2 L2136.7,2366.3 L2138.0,2365.8 L2139.3,2366.0 L2140.6,2366.9 L2141.9,2366.7 L2143.2,2366.8" fill="none" stroke="#ff8000" stroke-width="8" stroke-linejoin="round"/>
<path clip-path="url(#cib)" d="M1259.2,2313.8 L1260.5,2314.0 L1261.8,2314.6 L1263.1,2314.3 L1264.4,2313.5 L1265.7,2314.0 L1267.0,2313.8 L1268.3,2314.1 L1269.6,2313.4 L1270.9,2314.1 L1272.2,2314.1 L1273.5,2314.5 L1274.8,2314.1 L1276.1,2314.2 L1277.4,2313.4 L1278.7,2314.8 L1280.0,2313.3 L1281.3,2314.3 L1282.6,2313.8 L1283.9,2313.6 L1285.2,2313.7 L1286.5,2313.7 L1287.8,2314.0 L1289.1,2313.9 L1290.4,2314.4 L1291.7,2313.3 L1293.0,2313.9 L1294.3,2313.6 L1295.6,2314.1 L1296.9,2313.1 L1298.2,2313.7 L1299.5,2313.9 L1300.8,2313.3 L1302.1,2314.2 L1303.4,2313.9 L1304.7,2314.2 L1306.0,2314.1 L1307.3,2313.5 L1308.6,2313.5 L1309.9,2313.7 L1311.2,2314.0 L1312.5,2314.1 L1313.8,2313.5 L1315.1,2313.5 L1316.4,2313.5 L1317.7,2313.5 L1319.0,2313.6 L1320.3,2313.7 L1321.6,2314.4 L1322.9,2313.5 L1324.2,2313.6 L1325.5,2313.8 L1326.8,2313.3 L1328.1,2313.5 L1329.4,2313.7 L1330.7,2313.9 L1332.0,2313.2 L1333.3,2314.1 L1334.6,2313.5 L1335.9,2313.7 L1337.2,2313.9 L1338.5,2313.8 L1339.8,2314.0 L1341.1,2313.6 L1342.4,2313.6 L1343.7,2313.7 L1345.0,2313.2 L1346.3,2314.0 L1347.6,2313.3 L1348.9,2313.1 L1350.2,2314.2 L1351.5,2313.5 L1352.8,2313.1 L1354.1,2314.1 L1355.4,2313.4 L1356.7,2313.8 L1358.0,2313.2 L1359.3,2313.4 L1360.6,2312.9 L1361.9,2312.8 L1363.2,2313.1 L1364.5,2313.4 L1365.8,2313.7 L1367.1,2314.2 L1368.4,2313.0 L1369.7,2313.7 L1371.0,2313.2 L1372.3,2313.3 L1373.6,2312.8 L1374.9,2312.8 L1376.2,2313.1 L1377.5,2312.9 L1378.8,2313.3 L1380.1,2313.0 L1381.4,2313.7 L1382.7,2313.3 L1384.0,2313.3 L1385.3,2313.6 L1386.6,2313.4 L1387.9,2313.2 L1389.2,2313.2 L1390.5,2313.2 L1391.8,2313.6 L1393.1,2313.5 L1394.4,2313.3 L1395.7,2313.4 L1397.0,2313.0 L1398.3,2313.3 L1399.6,2312.6 L1400.9,2313.6 L1402.2,2313.1 L1403.5,2313.2 L1404.8,2313.3 L1406.1,2313.1 L1407.4,2313.0 L1408.7,2313.5 L1410.0,2313.1 L1411.3,2312.7 L1412.6,2313.2 L1413.9,2312.4 L1415.2,2313.6 L1416.5,2312.9 L1417.8,2313.0 L1419.1,2313.7 L1420.4,2313.7 L1421.7,2312.9 L1423.0,2313.1 L1424.3,2313.3 L1425.6,2313.4 L1426.9,2312.8 L1428.2,2312.9 L1429.5,2313.2 L1430.8,2312.9 L1432.1,2313.0 L1433.4,2313.0 L1434.7,2312.4 L1436.0,2312.4 L1437.3,2311.8 L1438.6,2312.6 L1439.9,2313.2 L1441.2,2312.3 L1442.5,2313.1 L1443.8,2313.0 L1445.1,2312.6 L1446.4,2312.6 L1447.7,2312.6 L1449.0,2312.3 L1450.3,2312.4 L1451.6,2312.5 L1452.9,2312.7 L1454.2,2312.8 L1455.5,2312.2 L1456.8,2312.7 L1458.1,2312.2 L1459.4,2312.3 L1460.7,2312.5 L1462.0,2312.4 L1463.3,2312.3 L1464.6,2312.4 L1465.9,2312.1 L1467.2,2312.0 L1468.5,2312.2 L1469.8,2312.6 L1471.1,2312.2 L1472.4,2312.8 L1473.7,2312.2 L1475.0,2311.1 L1476.3,2311.9 L1477.6,2312.7 L1478.9,2312.0 L1480.2,2311.9 L1481.5,2311.7 L1482.8,2312.4 L1484.1,2312.3 L1485.4,2312.1 L1486.7,2312.0 L1488.0,2312.3 L1489.3,2312.1 L1490.6,2311.3 L1491.9,2312.0 L1493.2,2311.8 L1494.5,2311.6 L1495.8,2311.9 L1497.1,2311.6 L1498.4,2310.5 L1499.7,2312.1 L1501.0,2311.9 L1502.3,2311.4 L1503.6,2311.3 L1504.9,2311.4 L1506.2,2310.9 L1507.5,2311.4 L1508.8,2311.2 L1510.1,2311.1 L1511.4,2310.8 L1512.7,2310.9 L1514.0,2311.4 L1515.3,2311.5 L1516.6,2311.1 L1517.9,2310.9 L1519.2,2310.5 L1520.5,2311.0 L1521.8,2311.3 L1523.1,2310.1 L1524.4,2311.0 L1525.7,2309.8 L1527.0,2310.3 L1528.3,2310.5 L1529.6,2309.8 L1530.9,2309.7 L1532.2,2310.2 L1533.5,2310.4 L1534.8,2309.9 L1536.1,2310.4 L1537.4,2309.6 L1538.7,2310.4 L1540.0,2309.7 L1541.3,2309.7 L1542.6,2309.7 L1543.9,2309.5 L1545.2,2309.9 L1546.5,2309.9 L1547.8,2309.2 L1549.1,2308.9 L1550.4,2308.4 L1551.7,2308.4 L1553.0,2308.5 L1554.3,2308.4 L1555.6,2308.2 L1556.9,2308.1 L1558.2,2308.1 L1559.5,2307.3 L1560.8,2307.2 L1562.1,2307.8 L1563.4,2307.5 L1564.7,2306.8 L1566.0,2307.2 L1567.3,2306.3 L1568.6,2306.1 L1569.9,2305.3 L1571.2,2305.9 L1572.5,2305.3 L1573.8,2305.3 L1575.1,2304.8 L1576.4,2304.1 L1577.7,2303.6 L1579.0,2303.4 L1580.3,2302.3 L1581.6,2301.5 L1582.9,2300.7 L1584.2,2299.9 L1585.5,2298.7 L1586.8,2297.6 L1588.1,2295.3 L1589.4,2293.8 L1590.7,2290.9 L1592.0,2288.7 L1593.3,2285.6 L1594.6,2282.8 L1595.9,2278.7 L1597.2,2274.1 L1598.5,2269.9 L1599.8,2264.8 L1601.1,2259.3 L1602.4,2253.7 L1603.7,2247.6 L1605.0,2243.0 L1606.3,2236.3 L1607.6,2231.0 L1608.9,2225.2 L1610.2,2220.9 L1611.5,2217.8 L1612.8,2215.7 L1614.1,2215.2 L1614.1,2214.5 L1615.4,2215.7 L1616.7,2217.9 L1618.0,2220.2 L1619.3,2224.9 L1620.6,2229.1 L1621.9,2234.8 L1623.2,2240.4 L1624.5,2246.5 L1625.8,2251.2 L1627.1,2256.9 L1628.4,2262.3 L1629.7,2266.2 L1631.0,2270.9 L1632.3,2274.5 L1633.6,2278.1 L1634.9,2281.6 L1636.2,2284.3 L1637.5,2287.3 L1638.8,2288.8 L1640.1,2290.5 L1641.4,2291.3 L1642.7,2292.4 L1644.0,2293.5 L1645.3,2293.4 L1646.6,2295.4 L1647.9,2295.0 L1649.2,2295.2 L1650.5,2295.7 L1651.8,2296.3 L1653.1,2296.5 L1654.4,2296.0 L1655.7,2296.3 L1657.0,2296.1 L1658.3,2295.7 L1659.6,2296.0 L1660.9,2295.8 L1662.2,2295.0 L1663.5,2295.8 L1664.8,2294.6 L1666.1,2294.9 L1667.4,2294.2 L1668.7,2293.9 L1670.0,2293.6 L1671.3,2293.7 L1672.6,2292.6 L1673.9,2292.5 L1675.2,2292.6 L1676.5,2291.2 L1677.8,2290.8 L1679.1,2290.4 L1680.4,2289.2 L1681.7,2288.8 L1683.0,2287.5 L1684.3,2287.0 L1685.6,2285.6 L1686.9,2284.0 L1688.2,2283.4 L1689.5,2281.2 L1690.8,2279.2 L1692.1,2276.7 L1693.4,2274.1 L1694.7,2271.1 L1696.0,2267.4 L1697.3,2263.2 L1698.6,2257.0 L1699.9,2251.0 L1701.2,2244.1 L1702.5,2235.1 L1703.8,2225.1 L1705.1,2213.9 L1706.4,2200.3 L1707.7,2185.6 L1709.0,2169.1 L1710.3,2151.9 L1711.6,2132.4 L1712.9,2111.5 L1714.2,2090.8 L1715.5,2068.8 L1716.8,2048.5 L1718.1,2028.4 L1719.4,2010.2 L1720.7,1995.2 L1722.0,1983.9 L1723.3,1978.9 L1724.1,1977.6 L1724.6,1978.0 L1725.9,1983.2 L1727.2,1992.6 L1728.5,2006.7 L1729.8,2024.0 L1731.1,2043.3 L1732.4,2065.5 L1733.7,2086.0 L1735.0,2107.1 L1736.3,2128.1 L1737.6,2146.1 L1738.9,2165.3 L1740.2,2181.9 L1741.5,2196.6 L1742.8,2210.5 L1744.1,2221.5 L1745.4,2232.5 L1746.7,2241.8 L1748.0,2248.3 L1749.3,2255.1 L1750.6,2261.1 L1751.9,2265.7 L1753.2,2269.4 L1754.5,2273.0 L1755.8,2275.7 L1757.1,2277.4 L1758.4,2279.8 L1759.7,2281.1 L1761.0,2282.3 L1762.3,2283.4 L1763.6,2285.7 L1764.9,2286.3 L1766.2,2287.8 L1767.5,2287.4 L1768.8,2288.5 L1770.1,2289.3 L1771.4,2289.7 L1772.7,2290.5 L1774.0,2290.8 L1775.3,2290.9 L1776.6,2290.7 L1777.9,2291.5 L1779.2,2292.6 L1780.5,2292.5 L1781.8,2292.9 L1783.1,2292.3 L1784.4,2292.5 L1785.7,2292.3 L1787.0,2292.7 L1788.3,2292.4 L1789.6,2292.3 L1790.9,2292.5 L1792.2,2291.1 L1793.5,2291.0 L1794.8,2289.5 L1796.1,2289.4 L1797.4,2287.6 L1798.7,2286.2 L1800.0,2284.5 L1801.3,2282.9 L1802.6,2279.7 L1803.9,2276.6 L1805.2,2273.0 L1806.5,2269.6 L1807.8,2264.9 L1809.1,2260.3 L1810.4,2255.2 L1811.7,2249.9 L1813.0,2243.4 L1814.3,2237.8 L1815.6,2231.9 L1816.9,2224.6 L1818.2,2219.8 L1819.5,2214.7 L1820.8,2209.2 L1822.1,2206.2 L1823.4,2203.4 L1824.7,2203.3 L1824.7,2203.1 L1826.0,2204.3 L1827.3,2206.2 L1828.6,2210.0 L1829.9,2215.0 L1831.2,2220.5 L1832.5,2226.7 L1833.8,2233.3 L1835.1,2239.5 L1836.4,2246.3 L1837.7,2252.8 L1839.0,2257.7 L1840.3,2264.1 L1841.6,2268.9 L1842.9,2273.4 L1844.2,2277.5 L1845.5,2281.4 L1846.8,2284.7 L1848.1,2287.9 L1849.4,2289.9 L1850.7,2292.8 L1852.0,2294.0 L1853.3,2296.2 L1854.6,2297.7 L1855.9,2298.0 L1857.2,2299.8 L1858.5,2301.1 L1859.8,2300.9 L1861.1,2301.9 L1862.4,2302.2 L1863.7,2302.8 L1865.0,2303.2 L1866.3,2303.5 L1867.6,2304.3 L1868.9,2304.7 L1870.2,2304.7 L1871.5,2305.5 L1872.8,2305.6 L1874.1,2305.8 L1875.4,2305.5 L1876.7,2306.6 L1878.0,2306.7 L1879.3,2305.6 L1880.6,2306.2 L1881.9,2306.6 L1883.2,2307.3 L1884.5,2307.6 L1885.8,2307.2 L1887.1,2307.5 L1888.4,2307.8 L1889.7,2307.3 L1891.0,2308.1 L1892.3,2307.9 L1893.6,2308.2 L1894.9,2308.2 L1896.2,2307.9 L1897.5,2308.1 L1898.8,2308.6 L1900.1,2308.7 L1901.4,2308.6 L1902.7,2309.2 L1904.0,2308.8 L1905.3,2308.6 L1906.6,2309.0 L1907.9,2309.1 L1909.2,2309.2 L1910.5,2309.8 L1911.8,2309.6 L1913.1,2309.9 L1914.4,2309.9 L1915.7,2309.7 L1917.0,2310.2 L1918.3,2309.8 L1919.6,2310.1 L1920.9,2309.8 L1922.2,2310.2 L1923.5,2310.2 L1924.8,2310.5 L1926.1,2311.1 L1927.4,2311.4 L1928.7,2311.0 L1930.0,2310.7 L1931.3,2311.1 L1932.6,2310.9 L1933.9,2310.7 L1935.2,2311.0 L1936.5,2311.0 L1937.8,2310.9 L1939.1,2311.7 L1940.4,2311.1 L1941.7,2311.2 L1943.0,2311.6 L1944.3,2311.2 L1945.6,2311.1 L1946.9,2311.3 L1948.2,2311.8 L1949.5,2311.8 L1950.8,2311.9 L1952.1,2311.7 L1953.4,2311.6 L1954.7,2312.3 L1956.0,2311.5 L1957.3,2312.0 L1958.6,2311.6 L1959.9,2312.0 L1961.2,2312.2 L1962.5,2312.7 L1963.8,2311.3 L1965.1,2312.9 L1966.4,2312.1 L1967.7,2312.6 L1969.0,2312.8 L1970.3,2312.3 L1971.6,2312.6 L1972.9,2312.9 L1974.2,2312.7 L1975.5,2312.5 L1976.8,2312.9 L1978.1,2312.9 L1979.4,2312.4 L1980.7,2313.5 L1982.0,2313.1 L1983.3,2312.2 L1984.6,2312.8 L1985.9,2313.8 L1987.2,2313.8 L1988.5,2313.4 L1989.8,2312.7 L1991.1,2313.3 L1992.4,2313.8 L1993.7,2313.6 L1995.0,2313.4 L1996.3,2313.3 L1997.6,2313.9 L1998.9,2313.5 L2000.2,2313.8 L2001.5,2313.9 L2002.8,2314.3 L2004.1,2313.8 L2005.4,2313.9 L2006.7,2313.2 L2008.0,2314.3 L2009.3,2314.2 L2010.6,2314.0 L2011.9,2313.2 L2013.2,2313.9 L2014.5,2314.1 L2015.8,2314.9 L2017.1,2314.4 L2018.4,2314.5 L2019.7,2314.5 L2021.0,2314.8 L2022.3,2313.9 L2023.6,2314.1 L2024.9,2314.0 L2026.2,2314.3 L2027.5,2314.4 L2028.8,2314.6 L2030.1,2314.2 L2031.4,2314.6 L2032.7,2314.3 L2034.0,2315.4 L2035.3,2314.5 L2036.6,2315.6 L2037.9,2315.3 L2039.2,2314.4 L2040.5,2315.2 L2041.8,2315.1 L2043.1,2314.4 L2044.4,2315.2 L2045.7,2315.0 L2047.0,2315.1 L2048.3,2314.8 L2049.6,2315.1 L2050.9,2315.3 L2052.2,2315.1 L2053.5,2315.0 L2054.8,2315.2 L2056.1,2314.9 L2057.4,2315.4 L2058.7,2314.4 L2060.0,2315.9 L2061.3,2315.4 L2062.6,2315.6 L2063.9,2315.8 L2065.2,2315.1 L2066.5,2316.3 L2067.8,2315.2 L2069.1,2315.8 L2070.4,2315.8 L2071.7,2316.1 L2073.0,2315.7 L2074.3,2315.3 L2075.6,2315.9 L2076.9,2315.0 L2078.2,2315.8 L2079.5,2315.7 L2080.8,2316.5 L2082.1,2315.9 L2083.4,2315.8 L2084.7,2315.8 L2086.0,2315.8 L2087.3,2315.9 L2088.6,2316.3 L2089.9,2315.7 L2091.2,2316.1 L2092.5,2315.7 L2093.8,2316.2 L2095.1,2316.3 L2096.4,2315.9 L2097.7,2316.1 L2099.0,2316.4 L2100.3,2316.7 L2101.6,2316.8 L2102.9,2316.4 L2104.2,2316.2 L2105.5,2316.0 L2106.8,2316.8 L2108.1,2317.1 L2109.4,2316.8 L2110.7,2317.2 L2112.0,2316.5 L2113.3,2316.6 L2114.6,2317.3 L2115.9,2316.4 L2117.2,2317.0 L2118.5,2317.0 L2119.8,2316.9 L2121.1,2317.5 L2122.4,2316.6 L2123.7,2316.8 L2125.0,2316.3 L2126.3,2316.7 L2127.6,2316.9 L2128.9,2317.0 L2130.2,2317.1 L2131.5,2317.3 L2132.8,2317.0 L2134.1,2316.5 L2135.4,2317.3 L2136.7,2317.5 L2138.0,2316.9 L2139.3,2317.1 L2140.6,2318.0 L2141.9,2317.8 L2143.2,2317.8" fill="none" stroke="#008000" stroke-width="8" stroke-linejoin="round"/>
<rect x="1272" y="1930" width="858" height="523.6" fill="none" stroke="#000" stroke-width="7.6"/>
<line x1="1350.2" y1="2453.6" x2="1350.2" y2="2463" stroke="#000" stroke-width="7.6" stroke-linecap="round"/>
<text x="1350.2" y="2507.6" font-family="Liberation Sans, Arial, sans-serif" font-size="48" text-anchor="middle">35</text>
<line x1="1480.2" y1="2453.6" x2="1480.2" y2="2463" stroke="#000" stroke-width="7.6" stroke-linecap="round"/>
<text x="1480.2" y="2507.6" font-family="Liberation Sans, Arial, sans-serif" font-size="48" text-anchor="middle">36</text>
<line x1="1610.2" y1="2453.6" x2="1610.2" y2="2463" stroke="#000" stroke-width="7.6" stroke-linecap="round"/>
<text x="1610.2" y="2507.6" font-family="Liberation Sans, Arial, sans-serif" font-size="48" text-anchor="middle">37</text>
<line x1="1740.2" y1="2453.6" x2="1740.2" y2="2463" stroke="#000" stroke-width="7.6" stroke-linecap="round"/>
<text x="1740.2" y="2507.6" font-family="Liberation Sans, Arial, sans-serif" font-size="48" text-anchor="middle">38</text>
<line x1="1870.2" y1="2453.6" x2="1870.2" y2="2463" stroke="#000" stroke-width="7.6" stroke-linecap="round"/>
<text x="1870.2" y="2507.6" font-family="Liberation Sans, Arial, sans-serif" font-size="48" text-anchor="middle">39</text>
<line x1="2000.2" y1="2453.6" x2="2000.2" y2="2463" stroke="#000" stroke-width="7.6" stroke-linecap="round"/>
<text x="2000.2" y="2507.6" font-family="Liberation Sans, Arial, sans-serif" font-size="48" text-anchor="middle">40</text>
<line x1="2130.2" y1="2453.6" x2="2130.2" y2="2463" stroke="#000" stroke-width="7.6" stroke-linecap="round"/>
<text x="2130.2" y="2507.6" font-family="Liberation Sans, Arial, sans-serif" font-size="48" text-anchor="middle">41</text>
<line x1="1285.2" y1="2453.6" x2="1285.2" y2="2458" stroke="#000" stroke-width="7.6" stroke-linecap="round"/>
<line x1="1415.2" y1="2453.6" x2="1415.2" y2="2458" stroke="#000" stroke-width="7.6" stroke-linecap="round"/>
<line x1="1545.2" y1="2453.6" x2="1545.2" y2="2458" stroke="#000" stroke-width="7.6" stroke-linecap="round"/>
<line x1="1675.2" y1="2453.6" x2="1675.2" y2="2458" stroke="#000" stroke-width="7.6" stroke-linecap="round"/>
<line x1="1805.2" y1="2453.6" x2="1805.2" y2="2458" stroke="#000" stroke-width="7.6" stroke-linecap="round"/>
<line x1="1935.2" y1="2453.6" x2="1935.2" y2="2458" stroke="#000" stroke-width="7.6" stroke-linecap="round"/>
<line x1="2065.2" y1="2453.6" x2="2065.2" y2="2458" stroke="#000" stroke-width="7.6" stroke-linecap="round"/>
<text x="1281.5" y="2002.5" font-family="Liberation Sans, Arial, sans-serif" font-size="59.5" font-weight="bold">Copper oxides</text>
<text transform="translate(1500,2293) rotate(-45)" font-family="Liberation Sans, Arial, sans-serif" font-size="53.5">Cu<tspan font-size="33" dy="16">2</tspan><tspan dy="-16">O (111)</tspan></text>
<text transform="translate(1789,2216.5) rotate(-45)" font-family="Liberation Sans, Arial, sans-serif" font-size="54">CuO (111)</text>
</svg></body></html>
